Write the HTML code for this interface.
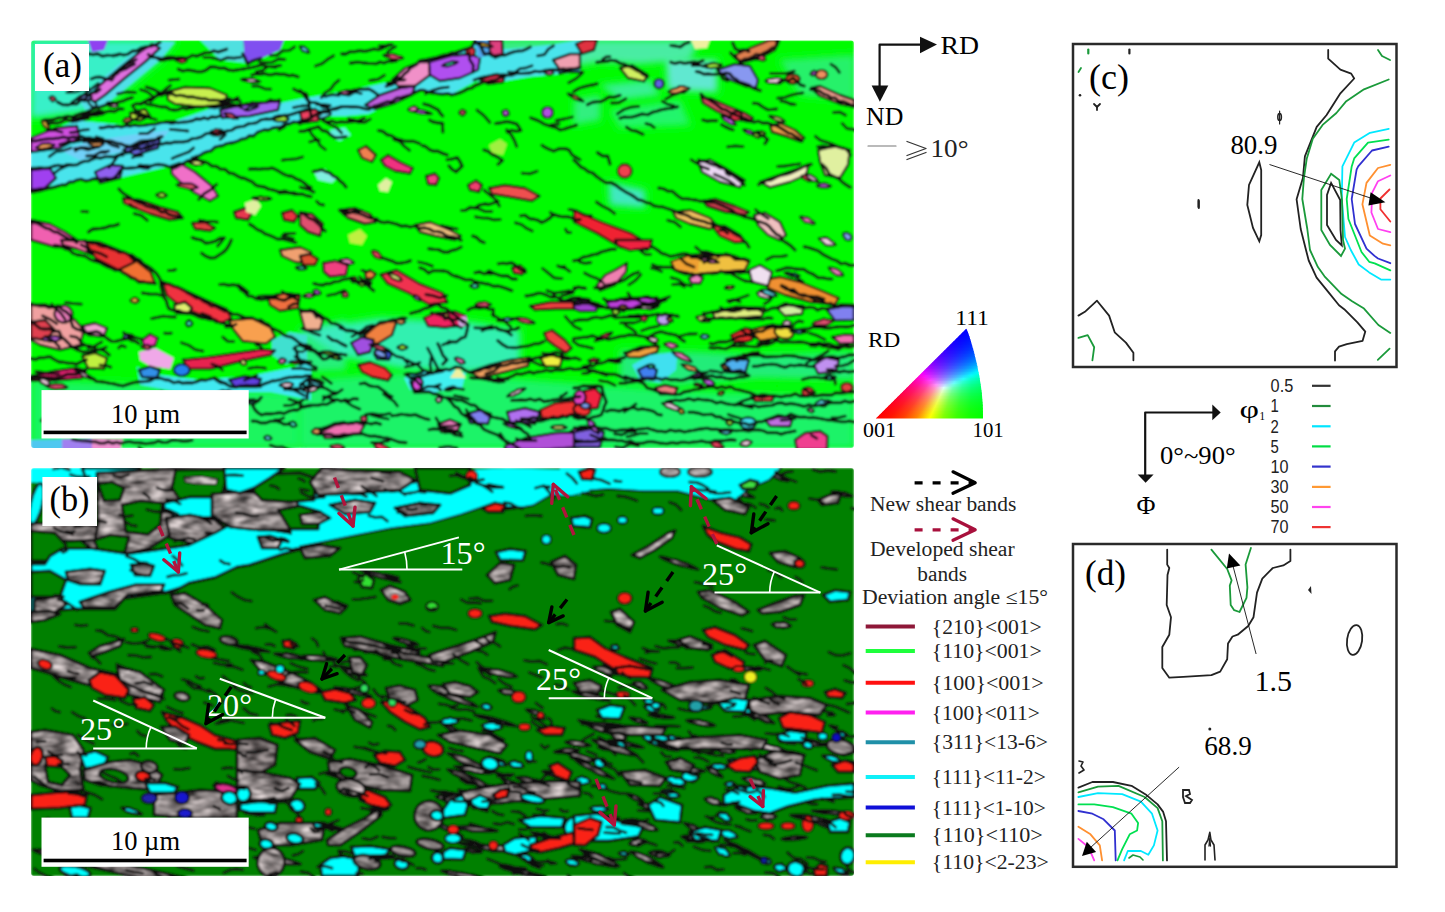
<!DOCTYPE html>
<html><head><meta charset="utf-8"><style>
html,body{margin:0;padding:0;background:#fff;}
body{width:1445px;height:912px;overflow:hidden;position:relative;font-family:"Liberation Serif",serif;}
svg{position:absolute;left:0;top:0;display:block;}
</style></head><body>
<svg width="1445" height="912" viewBox="0 0 1445 912">
<defs>
<clipPath id="ca"><rect x="31" y="40.5" width="823" height="407.5" rx="3"/></clipPath>
<clipPath id="cb"><rect x="31" y="468" width="823" height="408" rx="3"/></clipPath>

<filter id="mot" x="0" y="0" width="1" height="1" color-interpolation-filters="sRGB">
 <feTurbulence type="fractalNoise" baseFrequency="0.06 0.16" numOctaves="2" seed="4" stitchTiles="stitch" result="t"/>
 <feColorMatrix in="t" type="matrix" values="0.75 0.75 0 0 -0.2  0.72 0.72 0 0 -0.2  0.72 0.72 0 0 -0.2  0 0 0 0 1"/>
</filter>
<filter id="mot2" x="0" y="0" width="1" height="1" color-interpolation-filters="sRGB">
 <feTurbulence type="fractalNoise" baseFrequency="0.06 0.16" numOctaves="2" seed="9" stitchTiles="stitch" result="t"/>
 <feColorMatrix in="t" type="matrix" values="0.8 0.8 0 0 -0.15  0.77 0.77 0 0 -0.15  0.77 0.77 0 0 -0.15  0 0 0 0 1"/>
</filter>
<filter id="mot3" x="0" y="0" width="1" height="1" color-interpolation-filters="sRGB">
 <feTurbulence type="fractalNoise" baseFrequency="0.06 0.16" numOctaves="2" seed="13" stitchTiles="stitch" result="t"/>
 <feColorMatrix in="t" type="matrix" values="0.7 0.7 0 0 -0.25  0.67 0.67 0 0 -0.25  0.67 0.67 0 0 -0.25  0 0 0 0 1"/>
</filter>
<filter id="tint" x="-20%" y="-20%" width="140%" height="140%"><feGaussianBlur stdDeviation="3"/></filter>
<filter id="soft" x="-2%" y="-2%" width="104%" height="104%"><feGaussianBlur stdDeviation="0.9"/></filter>
<pattern id="pg1" patternUnits="userSpaceOnUse" width="200" height="100"><rect width="200" height="100" fill="#888" filter="url(#mot)"/></pattern>
<pattern id="pg2" patternUnits="userSpaceOnUse" width="200" height="100"><rect width="200" height="100" fill="#999" filter="url(#mot2)"/></pattern>
<pattern id="pg3" patternUnits="userSpaceOnUse" width="200" height="100"><rect width="200" height="100" fill="#777" filter="url(#mot3)"/></pattern>
<linearGradient id="ipf0" gradientUnits="userSpaceOnUse" x1="965.5" y1="0" x2="966.5" y2="0"><stop offset="0.000" stop-color="#0000ff"/><stop offset="0.125" stop-color="#0000ff"/><stop offset="0.250" stop-color="#0000ff"/><stop offset="0.375" stop-color="#0000ff"/><stop offset="0.500" stop-color="#0000ff"/><stop offset="0.625" stop-color="#0000ff"/><stop offset="0.750" stop-color="#0000ff"/><stop offset="0.875" stop-color="#0000ff"/><stop offset="1.000" stop-color="#0000ff"/></linearGradient><linearGradient id="ipf1" gradientUnits="userSpaceOnUse" x1="964.0" y1="0" x2="967.0" y2="0"><stop offset="0.000" stop-color="#0200ff"/><stop offset="0.125" stop-color="#0100ff"/><stop offset="0.250" stop-color="#0100ff"/><stop offset="0.375" stop-color="#0100ff"/><stop offset="0.500" stop-color="#0001ff"/><stop offset="0.625" stop-color="#0001ff"/><stop offset="0.750" stop-color="#0001ff"/><stop offset="0.875" stop-color="#0002ff"/><stop offset="1.000" stop-color="#0002ff"/></linearGradient><linearGradient id="ipf2" gradientUnits="userSpaceOnUse" x1="962.5" y1="0" x2="967.5" y2="0"><stop offset="0.000" stop-color="#0400ff"/><stop offset="0.125" stop-color="#0300ff"/><stop offset="0.250" stop-color="#0200ff"/><stop offset="0.375" stop-color="#0201ff"/><stop offset="0.500" stop-color="#0102ff"/><stop offset="0.625" stop-color="#0002ff"/><stop offset="0.750" stop-color="#0003ff"/><stop offset="0.875" stop-color="#0004ff"/><stop offset="1.000" stop-color="#0005ff"/></linearGradient><linearGradient id="ipf3" gradientUnits="userSpaceOnUse" x1="961.0" y1="0" x2="968.0" y2="0"><stop offset="0.000" stop-color="#0600ff"/><stop offset="0.125" stop-color="#0500ff"/><stop offset="0.250" stop-color="#0401ff"/><stop offset="0.375" stop-color="#0302ff"/><stop offset="0.500" stop-color="#0203ff"/><stop offset="0.625" stop-color="#0104ff"/><stop offset="0.750" stop-color="#0005ff"/><stop offset="0.875" stop-color="#0006ff"/><stop offset="1.000" stop-color="#0007ff"/></linearGradient><linearGradient id="ipf4" gradientUnits="userSpaceOnUse" x1="959.5" y1="0" x2="968.5" y2="0"><stop offset="0.000" stop-color="#0900ff"/><stop offset="0.125" stop-color="#0800ff"/><stop offset="0.250" stop-color="#0601ff"/><stop offset="0.375" stop-color="#0403ff"/><stop offset="0.500" stop-color="#0304ff"/><stop offset="0.625" stop-color="#0206ff"/><stop offset="0.750" stop-color="#0007ff"/><stop offset="0.875" stop-color="#0009ff"/><stop offset="1.000" stop-color="#000bff"/></linearGradient><linearGradient id="ipf5" gradientUnits="userSpaceOnUse" x1="958.0" y1="0" x2="969.0" y2="0"><stop offset="0.000" stop-color="#0c00ff"/><stop offset="0.125" stop-color="#0a00ff"/><stop offset="0.250" stop-color="#0802ff"/><stop offset="0.375" stop-color="#0604ff"/><stop offset="0.500" stop-color="#0406ff"/><stop offset="0.625" stop-color="#0208ff"/><stop offset="0.750" stop-color="#010aff"/><stop offset="0.875" stop-color="#000cff"/><stop offset="1.000" stop-color="#000eff"/></linearGradient><linearGradient id="ipf6" gradientUnits="userSpaceOnUse" x1="956.5" y1="0" x2="969.4" y2="0"><stop offset="0.000" stop-color="#1000ff"/><stop offset="0.125" stop-color="#0d01ff"/><stop offset="0.250" stop-color="#0a03ff"/><stop offset="0.375" stop-color="#0805ff"/><stop offset="0.500" stop-color="#0507ff"/><stop offset="0.625" stop-color="#030aff"/><stop offset="0.750" stop-color="#010dff"/><stop offset="0.875" stop-color="#000fff"/><stop offset="1.000" stop-color="#0012ff"/></linearGradient><linearGradient id="ipf7" gradientUnits="userSpaceOnUse" x1="955.0" y1="0" x2="969.9" y2="0"><stop offset="0.000" stop-color="#1400ff"/><stop offset="0.125" stop-color="#1001ff"/><stop offset="0.250" stop-color="#0d03ff"/><stop offset="0.375" stop-color="#0a06ff"/><stop offset="0.500" stop-color="#0709ff"/><stop offset="0.625" stop-color="#040cff"/><stop offset="0.750" stop-color="#0110ff"/><stop offset="0.875" stop-color="#0013ff"/><stop offset="1.000" stop-color="#0017ff"/></linearGradient><linearGradient id="ipf8" gradientUnits="userSpaceOnUse" x1="953.5" y1="0" x2="970.3" y2="0"><stop offset="0.000" stop-color="#1800ff"/><stop offset="0.125" stop-color="#1401ff"/><stop offset="0.250" stop-color="#1004ff"/><stop offset="0.375" stop-color="#0c07ff"/><stop offset="0.500" stop-color="#080bff"/><stop offset="0.625" stop-color="#050fff"/><stop offset="0.750" stop-color="#0213ff"/><stop offset="0.875" stop-color="#0017ff"/><stop offset="1.000" stop-color="#001cff"/></linearGradient><linearGradient id="ipf9" gradientUnits="userSpaceOnUse" x1="951.9" y1="0" x2="970.8" y2="0"><stop offset="0.000" stop-color="#1d00ff"/><stop offset="0.125" stop-color="#1702ff"/><stop offset="0.250" stop-color="#1305ff"/><stop offset="0.375" stop-color="#0e09ff"/><stop offset="0.500" stop-color="#0a0dff"/><stop offset="0.625" stop-color="#0612ff"/><stop offset="0.750" stop-color="#0216ff"/><stop offset="0.875" stop-color="#001bff"/><stop offset="1.000" stop-color="#0021ff"/></linearGradient><linearGradient id="ipf10" gradientUnits="userSpaceOnUse" x1="950.4" y1="0" x2="971.2" y2="0"><stop offset="0.000" stop-color="#2200ff"/><stop offset="0.125" stop-color="#1c02ff"/><stop offset="0.250" stop-color="#1606ff"/><stop offset="0.375" stop-color="#100aff"/><stop offset="0.500" stop-color="#0b0fff"/><stop offset="0.625" stop-color="#0715ff"/><stop offset="0.750" stop-color="#031aff"/><stop offset="0.875" stop-color="#0020ff"/><stop offset="1.000" stop-color="#0026ff"/></linearGradient><linearGradient id="ipf11" gradientUnits="userSpaceOnUse" x1="948.9" y1="0" x2="971.6" y2="0"><stop offset="0.000" stop-color="#2700ff"/><stop offset="0.125" stop-color="#2002ff"/><stop offset="0.250" stop-color="#1907ff"/><stop offset="0.375" stop-color="#130cff"/><stop offset="0.500" stop-color="#0d12ff"/><stop offset="0.625" stop-color="#0818ff"/><stop offset="0.750" stop-color="#041eff"/><stop offset="0.875" stop-color="#0025ff"/><stop offset="1.000" stop-color="#002cff"/></linearGradient><linearGradient id="ipf12" gradientUnits="userSpaceOnUse" x1="947.4" y1="0" x2="972.0" y2="0"><stop offset="0.000" stop-color="#2d00ff"/><stop offset="0.125" stop-color="#2503ff"/><stop offset="0.250" stop-color="#1d08ff"/><stop offset="0.375" stop-color="#160eff"/><stop offset="0.500" stop-color="#0f14ff"/><stop offset="0.625" stop-color="#091bff"/><stop offset="0.750" stop-color="#0423ff"/><stop offset="0.875" stop-color="#002aff"/><stop offset="1.000" stop-color="#0033ff"/></linearGradient><linearGradient id="ipf13" gradientUnits="userSpaceOnUse" x1="945.9" y1="0" x2="972.5" y2="0"><stop offset="0.000" stop-color="#3300ff"/><stop offset="0.125" stop-color="#2a03ff"/><stop offset="0.250" stop-color="#2109ff"/><stop offset="0.375" stop-color="#1910ff"/><stop offset="0.500" stop-color="#1217ff"/><stop offset="0.625" stop-color="#0b1fff"/><stop offset="0.750" stop-color="#0527ff"/><stop offset="0.875" stop-color="#0030ff"/><stop offset="1.000" stop-color="#0039ff"/></linearGradient><linearGradient id="ipf14" gradientUnits="userSpaceOnUse" x1="944.4" y1="0" x2="972.9" y2="0"><stop offset="0.000" stop-color="#3900ff"/><stop offset="0.125" stop-color="#2f04ff"/><stop offset="0.250" stop-color="#260aff"/><stop offset="0.375" stop-color="#1d12ff"/><stop offset="0.500" stop-color="#141aff"/><stop offset="0.625" stop-color="#0c23ff"/><stop offset="0.750" stop-color="#062cff"/><stop offset="0.875" stop-color="#0036ff"/><stop offset="1.000" stop-color="#0041ff"/></linearGradient><linearGradient id="ipf15" gradientUnits="userSpaceOnUse" x1="942.9" y1="0" x2="973.3" y2="0"><stop offset="0.000" stop-color="#4000ff"/><stop offset="0.125" stop-color="#3504ff"/><stop offset="0.250" stop-color="#2a0cff"/><stop offset="0.375" stop-color="#2014ff"/><stop offset="0.500" stop-color="#171dff"/><stop offset="0.625" stop-color="#0e27ff"/><stop offset="0.750" stop-color="#0632ff"/><stop offset="0.875" stop-color="#013dff"/><stop offset="1.000" stop-color="#0048ff"/></linearGradient><linearGradient id="ipf16" gradientUnits="userSpaceOnUse" x1="941.4" y1="0" x2="973.6" y2="0"><stop offset="0.000" stop-color="#4800ff"/><stop offset="0.125" stop-color="#3b05ff"/><stop offset="0.250" stop-color="#2f0dff"/><stop offset="0.375" stop-color="#2416ff"/><stop offset="0.500" stop-color="#1921ff"/><stop offset="0.625" stop-color="#102cff"/><stop offset="0.750" stop-color="#0737ff"/><stop offset="0.875" stop-color="#0144ff"/><stop offset="1.000" stop-color="#0051ff"/></linearGradient><linearGradient id="ipf17" gradientUnits="userSpaceOnUse" x1="939.8" y1="0" x2="974.0" y2="0"><stop offset="0.000" stop-color="#5000ff"/><stop offset="0.125" stop-color="#4206ff"/><stop offset="0.250" stop-color="#350eff"/><stop offset="0.375" stop-color="#2819ff"/><stop offset="0.500" stop-color="#1c24ff"/><stop offset="0.625" stop-color="#1231ff"/><stop offset="0.750" stop-color="#083eff"/><stop offset="0.875" stop-color="#014bff"/><stop offset="1.000" stop-color="#005aff"/></linearGradient><linearGradient id="ipf18" gradientUnits="userSpaceOnUse" x1="938.3" y1="0" x2="974.4" y2="0"><stop offset="0.000" stop-color="#5900ff"/><stop offset="0.125" stop-color="#4906ff"/><stop offset="0.250" stop-color="#3b10ff"/><stop offset="0.375" stop-color="#2d1bff"/><stop offset="0.500" stop-color="#2028ff"/><stop offset="0.625" stop-color="#1436ff"/><stop offset="0.750" stop-color="#0944ff"/><stop offset="0.875" stop-color="#0153ff"/><stop offset="1.000" stop-color="#0063ff"/></linearGradient><linearGradient id="ipf19" gradientUnits="userSpaceOnUse" x1="936.8" y1="0" x2="974.8" y2="0"><stop offset="0.000" stop-color="#6200ff"/><stop offset="0.125" stop-color="#5107ff"/><stop offset="0.250" stop-color="#4112ff"/><stop offset="0.375" stop-color="#321eff"/><stop offset="0.500" stop-color="#232cff"/><stop offset="0.625" stop-color="#163bff"/><stop offset="0.750" stop-color="#0a4bff"/><stop offset="0.875" stop-color="#015cff"/><stop offset="1.000" stop-color="#006eff"/></linearGradient><linearGradient id="ipf20" gradientUnits="userSpaceOnUse" x1="935.3" y1="0" x2="975.1" y2="0"><stop offset="0.000" stop-color="#6c00ff"/><stop offset="0.125" stop-color="#5a08ff"/><stop offset="0.250" stop-color="#4813ff"/><stop offset="0.375" stop-color="#3721ff"/><stop offset="0.500" stop-color="#2731ff"/><stop offset="0.625" stop-color="#1841ff"/><stop offset="0.750" stop-color="#0c53ff"/><stop offset="0.875" stop-color="#0265ff"/><stop offset="1.000" stop-color="#0079ff"/></linearGradient><linearGradient id="ipf21" gradientUnits="userSpaceOnUse" x1="933.8" y1="0" x2="975.5" y2="0"><stop offset="0.000" stop-color="#7700ff"/><stop offset="0.125" stop-color="#6308ff"/><stop offset="0.250" stop-color="#4f15ff"/><stop offset="0.375" stop-color="#3c25ff"/><stop offset="0.500" stop-color="#2b35ff"/><stop offset="0.625" stop-color="#1b48ff"/><stop offset="0.750" stop-color="#0d5bff"/><stop offset="0.875" stop-color="#026fff"/><stop offset="1.000" stop-color="#0084ff"/></linearGradient><linearGradient id="ipf22" gradientUnits="userSpaceOnUse" x1="932.3" y1="0" x2="975.8" y2="0"><stop offset="0.000" stop-color="#8300ff"/><stop offset="0.125" stop-color="#6c09ff"/><stop offset="0.250" stop-color="#5718ff"/><stop offset="0.375" stop-color="#4228ff"/><stop offset="0.500" stop-color="#2f3bff"/><stop offset="0.625" stop-color="#1e4fff"/><stop offset="0.750" stop-color="#0f64ff"/><stop offset="0.875" stop-color="#027aff"/><stop offset="1.000" stop-color="#0091ff"/></linearGradient><linearGradient id="ipf23" gradientUnits="userSpaceOnUse" x1="930.8" y1="0" x2="976.2" y2="0"><stop offset="0.000" stop-color="#9000ff"/><stop offset="0.125" stop-color="#770aff"/><stop offset="0.250" stop-color="#5f1aff"/><stop offset="0.375" stop-color="#492cff"/><stop offset="0.500" stop-color="#3440ff"/><stop offset="0.625" stop-color="#2156ff"/><stop offset="0.750" stop-color="#106dff"/><stop offset="0.875" stop-color="#0385ff"/><stop offset="1.000" stop-color="#009fff"/></linearGradient><linearGradient id="ipf24" gradientUnits="userSpaceOnUse" x1="929.3" y1="0" x2="976.5" y2="0"><stop offset="0.000" stop-color="#9d00ff"/><stop offset="0.125" stop-color="#820bff"/><stop offset="0.250" stop-color="#681cff"/><stop offset="0.375" stop-color="#5030ff"/><stop offset="0.500" stop-color="#3946ff"/><stop offset="0.625" stop-color="#245eff"/><stop offset="0.750" stop-color="#1277ff"/><stop offset="0.875" stop-color="#0392ff"/><stop offset="1.000" stop-color="#00adff"/></linearGradient><linearGradient id="ipf25" gradientUnits="userSpaceOnUse" x1="927.8" y1="0" x2="976.8" y2="0"><stop offset="0.000" stop-color="#ac00ff"/><stop offset="0.125" stop-color="#8f0cff"/><stop offset="0.250" stop-color="#721fff"/><stop offset="0.375" stop-color="#5834ff"/><stop offset="0.500" stop-color="#3f4dff"/><stop offset="0.625" stop-color="#2866ff"/><stop offset="0.750" stop-color="#1482ff"/><stop offset="0.875" stop-color="#049fff"/><stop offset="1.000" stop-color="#00bdff"/></linearGradient><linearGradient id="ipf26" gradientUnits="userSpaceOnUse" x1="926.2" y1="0" x2="977.2" y2="0"><stop offset="0.000" stop-color="#bc00ff"/><stop offset="0.125" stop-color="#9c0dff"/><stop offset="0.250" stop-color="#7d22ff"/><stop offset="0.375" stop-color="#6039ff"/><stop offset="0.500" stop-color="#4553ff"/><stop offset="0.625" stop-color="#2c70ff"/><stop offset="0.750" stop-color="#168eff"/><stop offset="0.875" stop-color="#04adff"/><stop offset="1.000" stop-color="#00ceff"/></linearGradient><linearGradient id="ipf27" gradientUnits="userSpaceOnUse" x1="924.7" y1="0" x2="977.5" y2="0"><stop offset="0.000" stop-color="#cd00ff"/><stop offset="0.125" stop-color="#aa0fff"/><stop offset="0.250" stop-color="#8925ff"/><stop offset="0.375" stop-color="#693eff"/><stop offset="0.500" stop-color="#4b5bff"/><stop offset="0.625" stop-color="#307aff"/><stop offset="0.750" stop-color="#189aff"/><stop offset="0.875" stop-color="#05bdff"/><stop offset="1.000" stop-color="#00e1ff"/></linearGradient><linearGradient id="ipf28" gradientUnits="userSpaceOnUse" x1="923.2" y1="0" x2="977.8" y2="0"><stop offset="0.000" stop-color="#e000ff"/><stop offset="0.125" stop-color="#ba10ff"/><stop offset="0.250" stop-color="#9528ff"/><stop offset="0.375" stop-color="#7344ff"/><stop offset="0.500" stop-color="#5363ff"/><stop offset="0.625" stop-color="#3584ff"/><stop offset="0.750" stop-color="#1ba8ff"/><stop offset="0.875" stop-color="#06cdff"/><stop offset="1.000" stop-color="#00f4ff"/></linearGradient><linearGradient id="ipf29" gradientUnits="userSpaceOnUse" x1="921.7" y1="0" x2="978.1" y2="0"><stop offset="0.000" stop-color="#f400ff"/><stop offset="0.125" stop-color="#cb11ff"/><stop offset="0.250" stop-color="#a32bff"/><stop offset="0.375" stop-color="#7d4aff"/><stop offset="0.500" stop-color="#5a6cff"/><stop offset="0.625" stop-color="#3a90ff"/><stop offset="0.750" stop-color="#1eb7ff"/><stop offset="0.875" stop-color="#07e0ff"/><stop offset="1.000" stop-color="#00fff4"/></linearGradient><linearGradient id="ipf30" gradientUnits="userSpaceOnUse" x1="920.2" y1="0" x2="978.4" y2="0"><stop offset="0.000" stop-color="#ff00f3"/><stop offset="0.125" stop-color="#dd13ff"/><stop offset="0.250" stop-color="#b22fff"/><stop offset="0.375" stop-color="#8951ff"/><stop offset="0.500" stop-color="#6375ff"/><stop offset="0.625" stop-color="#409dff"/><stop offset="0.750" stop-color="#21c7ff"/><stop offset="0.875" stop-color="#08f3ff"/><stop offset="1.000" stop-color="#00ffe0"/></linearGradient><linearGradient id="ipf31" gradientUnits="userSpaceOnUse" x1="918.7" y1="0" x2="978.6" y2="0"><stop offset="0.000" stop-color="#ff00df"/><stop offset="0.125" stop-color="#f215ff"/><stop offset="0.250" stop-color="#c234ff"/><stop offset="0.375" stop-color="#9658ff"/><stop offset="0.500" stop-color="#6c80ff"/><stop offset="0.625" stop-color="#46abff"/><stop offset="0.750" stop-color="#24d9ff"/><stop offset="0.875" stop-color="#08fff5"/><stop offset="1.000" stop-color="#00ffce"/></linearGradient><linearGradient id="ipf32" gradientUnits="userSpaceOnUse" x1="917.2" y1="0" x2="978.9" y2="0"><stop offset="0.000" stop-color="#ff00cc"/><stop offset="0.125" stop-color="#ff16f6"/><stop offset="0.250" stop-color="#d438ff"/><stop offset="0.375" stop-color="#a45fff"/><stop offset="0.500" stop-color="#768bff"/><stop offset="0.625" stop-color="#4dbaff"/><stop offset="0.750" stop-color="#28ecff"/><stop offset="0.875" stop-color="#09ffe1"/><stop offset="1.000" stop-color="#00ffbd"/></linearGradient><linearGradient id="ipf33" gradientUnits="userSpaceOnUse" x1="915.7" y1="0" x2="979.2" y2="0"><stop offset="0.000" stop-color="#ff00bb"/><stop offset="0.125" stop-color="#ff16e1"/><stop offset="0.250" stop-color="#e83dff"/><stop offset="0.375" stop-color="#b368ff"/><stop offset="0.500" stop-color="#8297ff"/><stop offset="0.625" stop-color="#54caff"/><stop offset="0.750" stop-color="#2cfffc"/><stop offset="0.875" stop-color="#09ffce"/><stop offset="1.000" stop-color="#00ffad"/></linearGradient><linearGradient id="ipf34" gradientUnits="userSpaceOnUse" x1="914.1" y1="0" x2="979.4" y2="0"><stop offset="0.000" stop-color="#ff00ab"/><stop offset="0.125" stop-color="#ff16ce"/><stop offset="0.250" stop-color="#fe43ff"/><stop offset="0.375" stop-color="#c471ff"/><stop offset="0.500" stop-color="#8ea5ff"/><stop offset="0.625" stop-color="#5dddff"/><stop offset="0.750" stop-color="#2cffe8"/><stop offset="0.875" stop-color="#09ffbd"/><stop offset="1.000" stop-color="#00ff9f"/></linearGradient><linearGradient id="ipf35" gradientUnits="userSpaceOnUse" x1="912.6" y1="0" x2="979.7" y2="0"><stop offset="0.000" stop-color="#ff009c"/><stop offset="0.125" stop-color="#ff16bc"/><stop offset="0.250" stop-color="#ff43e9"/><stop offset="0.375" stop-color="#d77cff"/><stop offset="0.500" stop-color="#9cb4ff"/><stop offset="0.625" stop-color="#66f1ff"/><stop offset="0.750" stop-color="#2dffd4"/><stop offset="0.875" stop-color="#0affae"/><stop offset="1.000" stop-color="#00ff92"/></linearGradient><linearGradient id="ipf36" gradientUnits="userSpaceOnUse" x1="911.1" y1="0" x2="979.9" y2="0"><stop offset="0.000" stop-color="#ff008f"/><stop offset="0.125" stop-color="#ff15ac"/><stop offset="0.250" stop-color="#ff42d5"/><stop offset="0.375" stop-color="#ec87ff"/><stop offset="0.500" stop-color="#abc4ff"/><stop offset="0.625" stop-color="#6cfff6"/><stop offset="0.750" stop-color="#2dffc2"/><stop offset="0.875" stop-color="#0aff9f"/><stop offset="1.000" stop-color="#00ff86"/></linearGradient><linearGradient id="ipf37" gradientUnits="userSpaceOnUse" x1="909.6" y1="0" x2="980.2" y2="0"><stop offset="0.000" stop-color="#ff0082"/><stop offset="0.125" stop-color="#ff159d"/><stop offset="0.250" stop-color="#ff42c2"/><stop offset="0.375" stop-color="#ff91fa"/><stop offset="0.500" stop-color="#bcd7ff"/><stop offset="0.625" stop-color="#6dffe1"/><stop offset="0.750" stop-color="#2effb2"/><stop offset="0.875" stop-color="#0aff91"/><stop offset="1.000" stop-color="#00ff7a"/></linearGradient><linearGradient id="ipf38" gradientUnits="userSpaceOnUse" x1="908.1" y1="0" x2="980.4" y2="0"><stop offset="0.000" stop-color="#ff0077"/><stop offset="0.125" stop-color="#ff158e"/><stop offset="0.250" stop-color="#ff42b0"/><stop offset="0.375" stop-color="#ff91e3"/><stop offset="0.500" stop-color="#cfebff"/><stop offset="0.625" stop-color="#6effce"/><stop offset="0.750" stop-color="#2effa2"/><stop offset="0.875" stop-color="#0bff85"/><stop offset="1.000" stop-color="#00ff6f"/></linearGradient><linearGradient id="ipf39" gradientUnits="userSpaceOnUse" x1="906.6" y1="0" x2="980.6" y2="0"><stop offset="0.000" stop-color="#ff006c"/><stop offset="0.125" stop-color="#ff1581"/><stop offset="0.250" stop-color="#ff42a0"/><stop offset="0.375" stop-color="#ff90ce"/><stop offset="0.500" stop-color="#e1fffb"/><stop offset="0.625" stop-color="#6fffbb"/><stop offset="0.750" stop-color="#2fff94"/><stop offset="0.875" stop-color="#0bff79"/><stop offset="1.000" stop-color="#00ff66"/></linearGradient><linearGradient id="ipf40" gradientUnits="userSpaceOnUse" x1="905.1" y1="0" x2="980.8" y2="0"><stop offset="0.000" stop-color="#ff0062"/><stop offset="0.125" stop-color="#ff1575"/><stop offset="0.250" stop-color="#ff4191"/><stop offset="0.375" stop-color="#ff8fbb"/><stop offset="0.500" stop-color="#e3ffe4"/><stop offset="0.625" stop-color="#70ffaa"/><stop offset="0.750" stop-color="#2fff86"/><stop offset="0.875" stop-color="#0bff6e"/><stop offset="1.000" stop-color="#00ff5c"/></linearGradient><linearGradient id="ipf41" gradientUnits="userSpaceOnUse" x1="903.6" y1="0" x2="981.0" y2="0"><stop offset="0.000" stop-color="#ff0058"/><stop offset="0.125" stop-color="#ff156a"/><stop offset="0.250" stop-color="#ff4183"/><stop offset="0.375" stop-color="#ff8fa9"/><stop offset="0.500" stop-color="#e4ffcf"/><stop offset="0.625" stop-color="#71ff9b"/><stop offset="0.750" stop-color="#30ff7a"/><stop offset="0.875" stop-color="#0cff64"/><stop offset="1.000" stop-color="#00ff54"/></linearGradient><linearGradient id="ipf42" gradientUnits="userSpaceOnUse" x1="902.1" y1="0" x2="981.2" y2="0"><stop offset="0.000" stop-color="#ff0050"/><stop offset="0.125" stop-color="#ff155f"/><stop offset="0.250" stop-color="#ff4176"/><stop offset="0.375" stop-color="#ff8e98"/><stop offset="0.500" stop-color="#e5ffbb"/><stop offset="0.625" stop-color="#72ff8c"/><stop offset="0.750" stop-color="#31ff6e"/><stop offset="0.875" stop-color="#0cff5a"/><stop offset="1.000" stop-color="#00ff4c"/></linearGradient><linearGradient id="ipf43" gradientUnits="userSpaceOnUse" x1="900.5" y1="0" x2="981.4" y2="0"><stop offset="0.000" stop-color="#ff0047"/><stop offset="0.125" stop-color="#ff1556"/><stop offset="0.250" stop-color="#ff416a"/><stop offset="0.375" stop-color="#ff8d88"/><stop offset="0.500" stop-color="#e7ffa8"/><stop offset="0.625" stop-color="#72ff7e"/><stop offset="0.750" stop-color="#31ff63"/><stop offset="0.875" stop-color="#0cff51"/><stop offset="1.000" stop-color="#00ff44"/></linearGradient><linearGradient id="ipf44" gradientUnits="userSpaceOnUse" x1="899.0" y1="0" x2="981.5" y2="0"><stop offset="0.000" stop-color="#ff0040"/><stop offset="0.125" stop-color="#ff154d"/><stop offset="0.250" stop-color="#ff405f"/><stop offset="0.375" stop-color="#ff8d79"/><stop offset="0.500" stop-color="#e8ff97"/><stop offset="0.625" stop-color="#73ff71"/><stop offset="0.750" stop-color="#32ff59"/><stop offset="0.875" stop-color="#0dff49"/><stop offset="1.000" stop-color="#00ff3d"/></linearGradient><linearGradient id="ipf45" gradientUnits="userSpaceOnUse" x1="897.5" y1="0" x2="981.7" y2="0"><stop offset="0.000" stop-color="#ff0039"/><stop offset="0.125" stop-color="#ff1544"/><stop offset="0.250" stop-color="#ff4054"/><stop offset="0.375" stop-color="#ff8c6c"/><stop offset="0.500" stop-color="#e9ff87"/><stop offset="0.625" stop-color="#74ff65"/><stop offset="0.750" stop-color="#33ff4f"/><stop offset="0.875" stop-color="#0dff41"/><stop offset="1.000" stop-color="#00ff36"/></linearGradient><linearGradient id="ipf46" gradientUnits="userSpaceOnUse" x1="896.0" y1="0" x2="981.9" y2="0"><stop offset="0.000" stop-color="#ff0032"/><stop offset="0.125" stop-color="#ff153c"/><stop offset="0.250" stop-color="#ff404a"/><stop offset="0.375" stop-color="#ff8c5f"/><stop offset="0.500" stop-color="#ebff78"/><stop offset="0.625" stop-color="#75ff59"/><stop offset="0.750" stop-color="#33ff46"/><stop offset="0.875" stop-color="#0eff3a"/><stop offset="1.000" stop-color="#00ff30"/></linearGradient><linearGradient id="ipf47" gradientUnits="userSpaceOnUse" x1="894.5" y1="0" x2="982.0" y2="0"><stop offset="0.000" stop-color="#ff002c"/><stop offset="0.125" stop-color="#ff1535"/><stop offset="0.250" stop-color="#ff4041"/><stop offset="0.375" stop-color="#ff8b54"/><stop offset="0.500" stop-color="#ecff69"/><stop offset="0.625" stop-color="#76ff4f"/><stop offset="0.750" stop-color="#34ff3e"/><stop offset="0.875" stop-color="#0eff33"/><stop offset="1.000" stop-color="#00ff2b"/></linearGradient><linearGradient id="ipf48" gradientUnits="userSpaceOnUse" x1="893.0" y1="0" x2="982.2" y2="0"><stop offset="0.000" stop-color="#ff0026"/><stop offset="0.125" stop-color="#ff152e"/><stop offset="0.250" stop-color="#ff4039"/><stop offset="0.375" stop-color="#ff8a49"/><stop offset="0.500" stop-color="#edff5c"/><stop offset="0.625" stop-color="#77ff45"/><stop offset="0.750" stop-color="#34ff36"/><stop offset="0.875" stop-color="#0eff2c"/><stop offset="1.000" stop-color="#00ff25"/></linearGradient><linearGradient id="ipf49" gradientUnits="userSpaceOnUse" x1="891.5" y1="0" x2="982.3" y2="0"><stop offset="0.000" stop-color="#ff0021"/><stop offset="0.125" stop-color="#ff1528"/><stop offset="0.250" stop-color="#ff3f31"/><stop offset="0.375" stop-color="#ff8a3f"/><stop offset="0.500" stop-color="#efff50"/><stop offset="0.625" stop-color="#78ff3c"/><stop offset="0.750" stop-color="#35ff2f"/><stop offset="0.875" stop-color="#0fff26"/><stop offset="1.000" stop-color="#00ff20"/></linearGradient><linearGradient id="ipf50" gradientUnits="userSpaceOnUse" x1="890.0" y1="0" x2="982.4" y2="0"><stop offset="0.000" stop-color="#ff001c"/><stop offset="0.125" stop-color="#ff1522"/><stop offset="0.250" stop-color="#ff3f2a"/><stop offset="0.375" stop-color="#ff8935"/><stop offset="0.500" stop-color="#f0ff44"/><stop offset="0.625" stop-color="#79ff33"/><stop offset="0.750" stop-color="#36ff28"/><stop offset="0.875" stop-color="#0fff21"/><stop offset="1.000" stop-color="#00ff1b"/></linearGradient><linearGradient id="ipf51" gradientUnits="userSpaceOnUse" x1="888.4" y1="0" x2="982.5" y2="0"><stop offset="0.000" stop-color="#ff0018"/><stop offset="0.125" stop-color="#ff141c"/><stop offset="0.250" stop-color="#ff3f23"/><stop offset="0.375" stop-color="#ff882d"/><stop offset="0.500" stop-color="#f1ff3a"/><stop offset="0.625" stop-color="#7aff2b"/><stop offset="0.750" stop-color="#36ff22"/><stop offset="0.875" stop-color="#10ff1c"/><stop offset="1.000" stop-color="#00ff17"/></linearGradient><linearGradient id="ipf52" gradientUnits="userSpaceOnUse" x1="886.9" y1="0" x2="982.6" y2="0"><stop offset="0.000" stop-color="#ff0014"/><stop offset="0.125" stop-color="#ff1417"/><stop offset="0.250" stop-color="#ff3f1d"/><stop offset="0.375" stop-color="#ff8825"/><stop offset="0.500" stop-color="#f3ff30"/><stop offset="0.625" stop-color="#7bff24"/><stop offset="0.750" stop-color="#37ff1c"/><stop offset="0.875" stop-color="#10ff17"/><stop offset="1.000" stop-color="#00ff13"/></linearGradient><linearGradient id="ipf53" gradientUnits="userSpaceOnUse" x1="885.4" y1="0" x2="982.7" y2="0"><stop offset="0.000" stop-color="#ff0010"/><stop offset="0.125" stop-color="#ff1413"/><stop offset="0.250" stop-color="#ff3e17"/><stop offset="0.375" stop-color="#ff871e"/><stop offset="0.500" stop-color="#f4ff27"/><stop offset="0.625" stop-color="#7cff1d"/><stop offset="0.750" stop-color="#38ff17"/><stop offset="0.875" stop-color="#11ff12"/><stop offset="1.000" stop-color="#00ff0f"/></linearGradient><linearGradient id="ipf54" gradientUnits="userSpaceOnUse" x1="883.9" y1="0" x2="982.8" y2="0"><stop offset="0.000" stop-color="#ff000c"/><stop offset="0.125" stop-color="#ff140f"/><stop offset="0.250" stop-color="#ff3e12"/><stop offset="0.375" stop-color="#ff8617"/><stop offset="0.500" stop-color="#f6ff1e"/><stop offset="0.625" stop-color="#7dff17"/><stop offset="0.750" stop-color="#39ff12"/><stop offset="0.875" stop-color="#11ff0e"/><stop offset="1.000" stop-color="#00ff0c"/></linearGradient><linearGradient id="ipf55" gradientUnits="userSpaceOnUse" x1="882.4" y1="0" x2="982.8" y2="0"><stop offset="0.000" stop-color="#ff0009"/><stop offset="0.125" stop-color="#ff140b"/><stop offset="0.250" stop-color="#ff3e0d"/><stop offset="0.375" stop-color="#ff8611"/><stop offset="0.500" stop-color="#f7ff17"/><stop offset="0.625" stop-color="#7eff11"/><stop offset="0.750" stop-color="#39ff0d"/><stop offset="0.875" stop-color="#12ff0b"/><stop offset="1.000" stop-color="#00ff09"/></linearGradient><linearGradient id="ipf56" gradientUnits="userSpaceOnUse" x1="880.9" y1="0" x2="982.9" y2="0"><stop offset="0.000" stop-color="#ff0006"/><stop offset="0.125" stop-color="#ff1407"/><stop offset="0.250" stop-color="#ff3e09"/><stop offset="0.375" stop-color="#ff850c"/><stop offset="0.500" stop-color="#f9ff10"/><stop offset="0.625" stop-color="#7fff0c"/><stop offset="0.750" stop-color="#3aff09"/><stop offset="0.875" stop-color="#12ff07"/><stop offset="1.000" stop-color="#00ff06"/></linearGradient><linearGradient id="ipf57" gradientUnits="userSpaceOnUse" x1="879.4" y1="0" x2="982.9" y2="0"><stop offset="0.000" stop-color="#ff0004"/><stop offset="0.125" stop-color="#ff1404"/><stop offset="0.250" stop-color="#ff3d06"/><stop offset="0.375" stop-color="#ff8407"/><stop offset="0.500" stop-color="#fbff0a"/><stop offset="0.625" stop-color="#80ff07"/><stop offset="0.750" stop-color="#3bff06"/><stop offset="0.875" stop-color="#13ff04"/><stop offset="1.000" stop-color="#00ff04"/></linearGradient><linearGradient id="ipf58" gradientUnits="userSpaceOnUse" x1="877.9" y1="0" x2="983.0" y2="0"><stop offset="0.000" stop-color="#ff0002"/><stop offset="0.125" stop-color="#ff1402"/><stop offset="0.250" stop-color="#ff3d02"/><stop offset="0.375" stop-color="#ff8403"/><stop offset="0.500" stop-color="#fcff05"/><stop offset="0.625" stop-color="#81ff03"/><stop offset="0.750" stop-color="#3bff02"/><stop offset="0.875" stop-color="#13ff02"/><stop offset="1.000" stop-color="#00ff02"/></linearGradient><linearGradient id="ipf59" gradientUnits="userSpaceOnUse" x1="876.4" y1="0" x2="983.0" y2="0"><stop offset="0.000" stop-color="#ff0000"/><stop offset="0.125" stop-color="#ff1400"/><stop offset="0.250" stop-color="#ff3d00"/><stop offset="0.375" stop-color="#ff8300"/><stop offset="0.500" stop-color="#feff01"/><stop offset="0.625" stop-color="#82ff00"/><stop offset="0.750" stop-color="#3cff00"/><stop offset="0.875" stop-color="#14ff00"/><stop offset="1.000" stop-color="#00ff00"/></linearGradient><clipPath id="ipfclip"><path d="M875.7,418.5 L983,418.5 C983,385 978,350 966.3,328.6 Z"/></clipPath>
</defs>
<g clip-path="url(#ca)"><g filter="url(#soft)">
<rect x="31" y="40" width="823" height="408" fill="#02fb06" />
<polygon points="31.0,40.0 175.0,40.0 160.0,60.0 130.0,85.0 105.0,105.0 80.0,112.0 31.0,118.0" fill="#38f0c8" stroke="none" stroke-width="0" stroke-linejoin="round" filter="url(#tint)"/>
<polygon points="300.0,330.0 380.0,318.0 470.0,322.0 520.0,330.0 520.0,365.0 470.0,372.0 400.0,368.0 340.0,356.0" fill="#30f0b0" stroke="none" stroke-width="0" stroke-linejoin="round" filter="url(#tint)"/>
<polygon points="300.0,380.0 420.0,372.0 600.0,385.0 700.0,392.0 854.0,395.0 854.0,448.0 300.0,448.0" fill="#30eeb8" stroke="none" stroke-width="0" stroke-linejoin="round" opacity="0.55" filter="url(#tint)"/>
<polygon points="620.0,350.0 700.0,352.0 760.0,355.0 854.0,352.0 854.0,380.0 760.0,378.0 680.0,385.0 620.0,382.0" fill="#40e0d8" stroke="none" stroke-width="0" stroke-linejoin="round" opacity="0.55" filter="url(#tint)"/>
<polygon points="300.0,330.0 346.0,320.0 346.0,370.0 300.0,372.0" fill="#40e8c8" stroke="none" stroke-width="0" stroke-linejoin="round" opacity="0.6" filter="url(#tint)"/>
<polygon points="608.0,182.0 645.0,190.0 645.0,208.0 610.0,205.0" fill="#40e8c0" stroke="none" stroke-width="0" stroke-linejoin="round" filter="url(#tint)"/>
<polygon points="666.0,60.0 717.0,60.0 717.0,92.0 668.0,90.0" fill="#60e8d0" stroke="none" stroke-width="0" stroke-linejoin="round" filter="url(#tint)"/>
<polygon points="574.0,40.0 700.0,40.0 690.0,60.0 640.0,64.0 600.0,62.0 574.0,66.0" fill="#60e8d8" stroke="none" stroke-width="0" stroke-linejoin="round" opacity="0.75" filter="url(#tint)"/>
<polygon points="600.0,85.0 650.0,80.0 660.0,95.0 620.0,100.0" fill="#50ecd0" stroke="none" stroke-width="0" stroke-linejoin="round" opacity="0.7" filter="url(#tint)"/>
<polygon points="610.0,110.0 680.0,100.0 690.0,125.0 620.0,128.0" fill="#40f0c0" stroke="none" stroke-width="0" stroke-linejoin="round" opacity="0.55" filter="url(#tint)"/>
<polygon points="780.0,60.0 854.0,55.0 854.0,100.0 800.0,95.0" fill="#50e8d0" stroke="none" stroke-width="0" stroke-linejoin="round" opacity="0.5" filter="url(#tint)"/>
<polygon points="574.0,100.0 600.0,95.0 600.0,120.0 574.0,125.0" fill="#50e8d0" stroke="none" stroke-width="0" stroke-linejoin="round" opacity="0.6" filter="url(#tint)"/>
<polygon points="480.0,40.0 580.0,40.0 580.0,60.0 500.0,60.0" fill="#60e0e0" stroke="none" stroke-width="0" stroke-linejoin="round" opacity="0.6" filter="url(#tint)"/>
<polygon points="31.0,380.0 140.0,384.0 300.0,392.0 300.0,448.0 31.0,448.0" fill="#30f0b8" stroke="none" stroke-width="0" stroke-linejoin="round" opacity="0.5" filter="url(#tint)"/>
<polygon points="31.0,136.7 77.0,120.6 123.0,125.0 169.0,123.0 215.0,107.0 261.0,107.0 300.0,99.0 346.0,90.7 392.0,81.4 419.7,63.0 442.8,56.0 475.0,44.6 507.2,49.2 553.3,44.6 580.0,40.0 580.0,72.2 530.3,76.8 502.6,81.4 475.0,81.4 449.7,95.3 419.7,90.7 396.7,99.9 369.0,113.7 346.0,116.0 311.0,116.0 284.3,127.5 261.0,132.0 215.0,148.0 192.0,159.7 169.0,166.6 118.5,178.0 77.0,180.5 31.0,190.0" fill="#48e4ec" stroke="none" stroke-width="0" stroke-linejoin="round" />
<polygon points="60.0,150.0 95.0,140.0 130.0,135.0 170.0,130.0 160.0,142.0 120.0,152.0 80.0,160.0" fill="#70d0f8" stroke="none" stroke-width="0" stroke-linejoin="round" />
<polygon points="31.0,138.0 55.0,128.0 77.0,126.0 80.0,138.0 60.0,148.0 31.0,152.0" fill="#d050e0" stroke="#0a0a0a" stroke-width="2.4" stroke-linejoin="round" />
<polygon points="31.0,170.0 50.0,168.0 56.0,178.0 45.0,188.0 31.0,190.0" fill="#a040f0" stroke="#0a0a0a" stroke-width="2.4" stroke-linejoin="round" />
<polygon points="95.0,172.0 110.0,165.0 123.0,166.0 120.0,178.0 100.0,183.0" fill="#9060f0" stroke="#0a0a0a" stroke-width="2.4" stroke-linejoin="round" />
<polygon points="123.0,150.0 140.0,141.0 160.0,139.0 158.0,148.0 135.0,155.0" fill="#7070f0" stroke="#0a0a0a" stroke-width="2.4" stroke-linejoin="round" />
<polygon points="220.0,110.0 245.0,104.0 280.0,101.0 278.0,110.0 250.0,116.0 222.0,118.0" fill="#a060f0" stroke="#0a0a0a" stroke-width="2.4" stroke-linejoin="round" />
<polygon points="80.0,100.0 100.0,80.0 130.0,55.0 155.0,42.0 175.0,42.0 160.0,60.0 130.0,85.0 105.0,105.0 85.0,110.0" fill="#50e0e8" stroke="none" stroke-width="0" stroke-linejoin="round" />
<polygon points="88.0,98.0 100.0,85.0 120.0,68.0 140.0,52.0 152.0,44.0 160.0,48.0 145.0,62.0 125.0,78.0 105.0,95.0 95.0,102.0" fill="#e070e0" stroke="#0a0a0a" stroke-width="2.4" stroke-linejoin="round" />
<polygon points="88.0,40.0 108.0,40.0 104.0,50.0 92.0,52.0" fill="#9040f0" stroke="none" stroke-width="0" stroke-linejoin="round" />
<polygon points="243.0,40.0 284.0,40.0 280.0,50.0 262.0,58.0 245.0,63.0" fill="#8050f0" stroke="none" stroke-width="0" stroke-linejoin="round" />
<polygon points="200.0,40.0 243.0,40.0 245.0,63.0 220.0,60.0" fill="#50e0e0" stroke="none" stroke-width="0" stroke-linejoin="round" />
<polygon points="392.0,80.0 405.0,68.0 420.0,62.0 429.0,62.0 430.0,75.0 415.0,86.0 398.0,86.0" fill="#f090c8" stroke="#0a0a0a" stroke-width="2.4" stroke-linejoin="round" />
<polygon points="429.0,62.0 450.0,56.0 470.0,54.0 480.0,58.0 478.0,70.0 460.0,78.0 440.0,81.0 430.0,75.0" fill="#b050f0" stroke="#0a0a0a" stroke-width="2.4" stroke-linejoin="round" />
<polygon points="365.0,105.0 380.0,95.0 400.0,88.0 415.0,86.0 412.0,95.0 395.0,103.0 375.0,109.0" fill="#c060e0" stroke="#0a0a0a" stroke-width="2.4" stroke-linejoin="round" />
<polygon points="475.0,40.0 493.0,40.0 492.0,55.0 478.0,58.0" fill="#50a8f0" stroke="none" stroke-width="0" stroke-linejoin="round" />
<polygon points="489.0,40.0 502.0,40.0 503.0,55.0 495.0,58.0 490.0,52.0" fill="#e04080" stroke="#0a0a0a" stroke-width="2.4" stroke-linejoin="round" />
<polygon points="553.0,60.0 570.0,54.0 580.0,54.0 580.0,68.0 560.0,70.0" fill="#f0a0b0" stroke="#0a0a0a" stroke-width="2.4" stroke-linejoin="round" />
<ellipse cx="470.5" cy="51.5" rx="4.5" ry="4.5" fill="#e03040" stroke="#0a0a0a" stroke-width="2.2" transform="rotate(0 470.5 51.5)"/>
<polygon points="480.0,80.0 492.0,75.0 505.0,74.5 503.0,82.0 488.0,84.0" fill="#e03050" stroke="#0a0a0a" stroke-width="2.4" stroke-linejoin="round" />
<polygon points="300.0,112.0 315.0,109.0 323.0,114.0 318.0,121.0 302.0,123.0" fill="#f04060" stroke="#0a0a0a" stroke-width="2.4" stroke-linejoin="round" />
<polygon points="167.0,92.0 185.0,87.0 210.0,88.0 227.0,95.0 225.0,104.0 200.0,107.0 175.0,104.0 168.0,100.0" fill="#c8f050" stroke="#0a0a0a" stroke-width="2.4" stroke-linejoin="round" />
<polygon points="130.0,113.0 145.0,109.0 150.0,116.0 140.0,121.0 131.0,119.0" fill="#c0f040" stroke="#0a0a0a" stroke-width="2.4" stroke-linejoin="round" />
<polygon points="171.0,166.0 180.0,163.0 195.0,172.0 212.0,186.0 218.0,196.0 210.0,201.0 195.0,193.0 180.0,182.0 172.0,174.0" fill="#f070c8" stroke="#0a0a0a" stroke-width="2.4" stroke-linejoin="round" />
<polygon points="123.0,198.0 140.0,200.0 160.0,207.0 178.0,212.0 183.0,218.0 170.0,220.0 150.0,214.0 132.0,207.0 124.0,203.0" fill="#d84040" stroke="#0a0a0a" stroke-width="2.4" stroke-linejoin="round" />
<polygon points="192.0,223.0 205.0,222.0 215.0,228.0 210.0,231.0 195.0,229.0" fill="#e04040" stroke="#0a0a0a" stroke-width="2.4" stroke-linejoin="round" />
<polygon points="234.0,212.0 245.0,208.0 252.0,213.0 248.0,220.0 236.0,218.0" fill="#e83850" stroke="#0a0a0a" stroke-width="2.4" stroke-linejoin="round" />
<polygon points="282.0,213.0 292.0,210.0 298.0,216.0 294.0,222.0 284.0,220.0" fill="#e83040" stroke="#0a0a0a" stroke-width="2.4" stroke-linejoin="round" />
<polygon points="245.0,203.0 256.0,199.0 261.0,206.0 255.0,215.0 246.0,212.0" fill="#e0f0a0" stroke="none" stroke-width="0" stroke-linejoin="round" />
<polygon points="31.0,220.0 50.0,224.0 65.0,232.0 77.0,240.0 75.0,247.0 55.0,247.0 31.0,240.0" fill="#f060b0" stroke="#0a0a0a" stroke-width="2.4" stroke-linejoin="round" />
<polygon points="61.0,240.0 85.0,241.0 95.0,256.0 77.0,249.0 63.0,245.0" fill="#f070a0" stroke="#0a0a0a" stroke-width="2.4" stroke-linejoin="round" />
<polygon points="85.0,241.0 100.0,242.3 127.7,253.8 135.0,262.0 118.5,270.0 95.5,258.4" fill="#e83030" stroke="#0a0a0a" stroke-width="2.4" stroke-linejoin="round" />
<polygon points="127.7,253.8 150.7,272.0 155.3,283.7 139.0,281.4 118.5,270.0 135.0,262.0" fill="#f07030" stroke="#0a0a0a" stroke-width="2.4" stroke-linejoin="round" />
<polygon points="162.0,281.4 180.7,288.4 206.0,300.0 226.7,309.0 231.3,318.3 222.0,323.0 203.7,316.0 180.7,306.8 166.8,295.3" fill="#f03040" stroke="#0a0a0a" stroke-width="2.4" stroke-linejoin="round" />
<polygon points="174.0,305.0 185.0,302.0 192.0,308.0 188.0,314.0 176.0,313.0" fill="#e0f070" stroke="#0a0a0a" stroke-width="2.4" stroke-linejoin="round" />
<polygon points="229.0,320.6 252.0,318.3 270.5,327.5 275.0,336.7 266.0,343.6 242.8,341.3 233.6,329.8" fill="#f8a050" stroke="#0a0a0a" stroke-width="2.4" stroke-linejoin="round" />
<polygon points="268.0,298.0 285.0,293.0 300.0,295.0 298.0,308.0 280.0,311.0 270.0,305.0" fill="#f07040" stroke="#0a0a0a" stroke-width="2.4" stroke-linejoin="round" />
<polygon points="280.0,250.0 300.0,247.0 311.0,252.0 311.0,264.0 295.0,262.0 282.0,256.0" fill="#f0a070" stroke="#0a0a0a" stroke-width="2.4" stroke-linejoin="round" />
<polygon points="137.0,367.0 160.0,375.0 200.0,380.0 250.0,376.0 290.0,368.0 311.0,362.0 311.0,400.0 270.0,392.0 230.0,392.0 180.0,392.0 140.0,385.0" fill="#40e8f0" stroke="none" stroke-width="0" stroke-linejoin="round" />
<polygon points="272.0,340.0 290.0,332.0 307.0,335.0 307.0,362.0 285.0,364.0 272.0,355.0" fill="#40e0d0" stroke="none" stroke-width="0" stroke-linejoin="round" />
<polygon points="183.0,359.7 206.0,357.4 238.0,352.8 261.0,349.4 275.0,350.5 270.5,355.0 238.0,362.0 210.6,369.0 187.6,369.0" fill="#e82050" stroke="#0a0a0a" stroke-width="2.4" stroke-linejoin="round" />
<ellipse cx="181.8" cy="370" rx="8" ry="6" fill="#2080f0" stroke="#0a0a0a" stroke-width="2.2" transform="rotate(0 181.8 370)"/>
<polygon points="142.0,340.0 150.0,334.0 157.6,338.0 155.0,346.0 144.0,346.0" fill="#f040b0" stroke="#0a0a0a" stroke-width="2.4" stroke-linejoin="round" />
<polygon points="139.0,352.0 155.0,348.0 173.8,358.0 170.0,369.0 150.0,366.0 140.0,360.0" fill="#f0a8e8" stroke="none" stroke-width="0" stroke-linejoin="round" />
<polygon points="139.0,370.0 150.0,366.6 160.0,370.0 157.0,378.0 142.0,377.0" fill="#3090e8" stroke="#0a0a0a" stroke-width="2.4" stroke-linejoin="round" />
<polygon points="229.0,380.0 245.0,376.0 261.0,379.0 258.0,387.0 235.0,387.0" fill="#6040e0" stroke="#0a0a0a" stroke-width="2.4" stroke-linejoin="round" />
<polygon points="31.0,305.0 45.0,304.5 60.0,310.0 75.0,320.0 84.0,330.0 80.0,345.0 60.0,350.0 40.0,345.0 31.0,340.0" fill="#f0a0a0" stroke="#0a0a0a" stroke-width="2.4" stroke-linejoin="round" />
<polygon points="31.0,322.0 45.0,320.0 55.0,330.0 45.0,340.0 31.0,338.0" fill="#e04050" stroke="#0a0a0a" stroke-width="2.4" stroke-linejoin="round" />
<ellipse cx="63.5" cy="314.0" rx="9.0" ry="8.5" fill="#f080c0" stroke="#0a0a0a" stroke-width="2.4" transform="rotate(12 63.5 314.0)"/>
<polygon points="31.0,376.0 54.0,371.0 77.0,367.8 86.0,371.0 81.7,378.0 54.0,380.5 31.0,380.5" fill="#e02070" stroke="#0a0a0a" stroke-width="2.4" stroke-linejoin="round" />
<polygon points="82.0,356.0 95.0,352.8 107.0,358.0 104.0,369.0 88.0,368.0" fill="#c0f040" stroke="#0a0a0a" stroke-width="2.4" stroke-linejoin="round" />
<polygon points="82.0,326.0 95.0,323.0 107.0,328.0 104.0,336.7 88.0,335.0" fill="#f0a0d0" stroke="#0a0a0a" stroke-width="2.4" stroke-linejoin="round" />
<polygon points="31.0,440.0 62.0,439.0 62.0,450.0 31.0,450.0" fill="#50c8f0" stroke="none" stroke-width="0" stroke-linejoin="round" />
<polygon points="62.0,439.0 92.0,438.0 92.0,450.0 62.0,450.0" fill="#a080f0" stroke="none" stroke-width="0" stroke-linejoin="round" />
<polygon points="92.0,438.0 123.0,439.0 120.0,450.0 92.0,450.0" fill="#f090d0" stroke="none" stroke-width="0" stroke-linejoin="round" />
<polygon points="330.0,130.0 345.0,127.5 351.0,135.0 340.0,141.0 332.0,138.0" fill="#60f0e0" stroke="none" stroke-width="0" stroke-linejoin="round" />
<polygon points="358.0,150.0 366.0,146.0 376.0,155.0 372.0,162.0 362.0,158.0" fill="#f08050" stroke="#0a0a0a" stroke-width="2.4" stroke-linejoin="round" />
<polygon points="381.0,160.0 388.0,155.0 400.0,162.0 412.8,168.0 410.0,173.5 395.0,171.0 385.0,166.0" fill="#f03080" stroke="#0a0a0a" stroke-width="2.4" stroke-linejoin="round" />
<polygon points="426.0,176.0 435.0,173.5 439.0,178.0 436.0,185.0 428.0,184.0" fill="#f04080" stroke="#0a0a0a" stroke-width="2.4" stroke-linejoin="round" />
<polygon points="468.0,185.0 476.0,180.5 482.0,185.0 479.0,192.0 470.0,190.0" fill="#f04070" stroke="#0a0a0a" stroke-width="2.4" stroke-linejoin="round" />
<polygon points="489.0,188.0 505.0,185.0 525.0,188.0 539.5,196.0 532.0,201.0 510.0,197.0 492.0,194.0" fill="#f05050" stroke="#0a0a0a" stroke-width="2.4" stroke-linejoin="round" />
<ellipse cx="547.5" cy="112.5" rx="5.5" ry="5.5" fill="#b050e0" stroke="#0a0a0a" stroke-width="2.2" transform="rotate(0 547.5 112.5)"/>
<polygon points="314.0,172.0 325.0,169.0 337.0,178.0 332.0,183.0 318.0,180.0" fill="#80f0e0" stroke="none" stroke-width="0" stroke-linejoin="round" />
<polygon points="378.0,185.0 386.0,178.0 392.0,182.0 388.0,192.0 380.0,191.0" fill="#e0f0a0" stroke="none" stroke-width="0" stroke-linejoin="round" />
<polygon points="489.0,145.0 500.0,139.0 507.0,144.0 503.0,155.0 492.0,153.0" fill="#a0f040" stroke="none" stroke-width="0" stroke-linejoin="round" />
<polygon points="339.0,210.0 355.0,208.0 370.0,214.0 376.0,222.0 365.0,224.0 348.0,218.0" fill="#e07070" stroke="#0a0a0a" stroke-width="2.4" stroke-linejoin="round" />
<polygon points="415.0,225.0 430.0,222.0 450.0,230.0 461.0,236.0 455.0,240.0 435.0,236.0 420.0,232.0" fill="#f0c080" stroke="#0a0a0a" stroke-width="2.4" stroke-linejoin="round" />
<polygon points="348.0,235.0 360.0,229.0 367.0,236.0 362.0,245.0 350.0,243.0" fill="#c0f040" stroke="none" stroke-width="0" stroke-linejoin="round" />
<polygon points="300.0,212.0 312.0,214.0 323.0,224.0 320.0,236.0 308.0,232.0 300.0,225.0" fill="#e05070" stroke="#0a0a0a" stroke-width="2.4" stroke-linejoin="round" />
<polygon points="300.0,256.0 310.0,254.0 318.0,259.0 315.0,265.0 303.0,265.0" fill="#e05030" stroke="#0a0a0a" stroke-width="2.4" stroke-linejoin="round" />
<polygon points="323.0,263.0 335.0,260.7 348.0,265.0 346.0,275.0 330.0,277.0 324.0,272.0" fill="#f04080" stroke="#0a0a0a" stroke-width="2.4" stroke-linejoin="round" />
<polygon points="365.0,273.0 370.0,270.0 376.0,274.0 372.0,279.0 366.0,278.0" fill="#f08040" stroke="#0a0a0a" stroke-width="2.4" stroke-linejoin="round" />
<polygon points="380.6,274.5 396.7,270.0 419.7,283.7 442.8,293.0 447.4,302.2 429.0,304.5 408.2,293.0 387.5,283.7" fill="#f03050" stroke="#0a0a0a" stroke-width="2.4" stroke-linejoin="round" />
<polygon points="424.0,318.0 435.0,313.0 455.0,311.4 466.0,316.0 465.0,325.0 445.0,327.5 428.0,326.0" fill="#f02060" stroke="#0a0a0a" stroke-width="2.4" stroke-linejoin="round" />
<polygon points="457.0,318.0 466.0,316.0 468.0,324.0 460.0,327.5" fill="#e0b0f0" stroke="none" stroke-width="0" stroke-linejoin="round" />
<polygon points="300.0,312.0 312.0,311.4 323.0,320.0 320.0,330.0 305.0,330.0" fill="#f0b090" stroke="#0a0a0a" stroke-width="2.4" stroke-linejoin="round" />
<polygon points="365.0,335.0 380.0,322.0 396.7,321.0 392.0,335.0 378.0,343.6 367.0,343.0" fill="#f08040" stroke="#0a0a0a" stroke-width="2.4" stroke-linejoin="round" />
<polygon points="351.0,343.0 362.0,337.0 373.7,340.0 370.0,352.0 358.0,355.0" fill="#a050e0" stroke="#0a0a0a" stroke-width="2.4" stroke-linejoin="round" />
<polygon points="374.0,354.0 384.0,350.5 392.0,353.0 389.0,359.7 377.0,359.0" fill="#4060f0" stroke="#0a0a0a" stroke-width="2.4" stroke-linejoin="round" />
<polygon points="358.0,365.0 370.0,362.0 385.0,368.0 392.0,375.0 388.0,380.5 372.0,377.0 362.0,372.0" fill="#f03030" stroke="#0a0a0a" stroke-width="2.4" stroke-linejoin="round" />
<polygon points="404.0,378.0 420.0,372.0 450.0,369.0 466.0,373.0 462.0,388.0 435.0,392.0 410.0,390.0" fill="#40f0f0" stroke="none" stroke-width="0" stroke-linejoin="round" />
<polygon points="450.0,378.0 458.0,366.6 466.0,378.0" fill="#f0f0a0" stroke="none" stroke-width="0" stroke-linejoin="round" />
<ellipse cx="417.5" cy="383.9" rx="5.0" ry="6.3" fill="#e050e0" stroke="#0a0a0a" stroke-width="2.4" transform="rotate(12 417.5 383.9)"/>
<polygon points="470.0,372.0 490.0,365.0 510.0,360.0 530.0,357.4 528.0,366.0 505.0,372.0 480.0,378.0" fill="#f0a060" stroke="#0a0a0a" stroke-width="2.4" stroke-linejoin="round" />
<polygon points="540.0,358.0 552.0,355.0 562.5,357.0 560.0,366.6 545.0,366.0" fill="#f0f040" stroke="#0a0a0a" stroke-width="2.4" stroke-linejoin="round" />
<polygon points="530.0,306.0 550.0,302.0 580.0,302.0 580.0,309.0 555.0,309.0 535.0,310.0" fill="#f04040" stroke="#0a0a0a" stroke-width="2.4" stroke-linejoin="round" />
<polygon points="544.0,333.0 552.0,330.0 565.0,340.0 571.7,348.0 566.0,353.0 555.0,346.0 547.0,340.0" fill="#f04040" stroke="#0a0a0a" stroke-width="2.4" stroke-linejoin="round" />
<polygon points="512.0,268.0 520.0,265.3 525.6,270.0 522.0,274.5 514.0,273.0" fill="#f04050" stroke="#0a0a0a" stroke-width="2.4" stroke-linejoin="round" />
<polygon points="540.0,410.0 555.0,403.0 580.0,400.0 580.0,412.0 560.0,418.0 542.0,419.6" fill="#f03030" stroke="#0a0a0a" stroke-width="2.4" stroke-linejoin="round" />
<polygon points="507.0,412.0 525.0,408.0 540.0,412.0 535.0,424.0 510.0,422.0" fill="#b070f0" stroke="#0a0a0a" stroke-width="2.4" stroke-linejoin="round" />
<polygon points="466.0,414.0 480.0,410.0 491.0,414.0 488.0,424.0 470.0,423.0" fill="#8080f0" stroke="#0a0a0a" stroke-width="2.4" stroke-linejoin="round" />
<polygon points="438.0,424.0 450.0,419.6 461.0,424.0 456.0,433.0 441.0,432.0" fill="#f080c0" stroke="#0a0a0a" stroke-width="2.4" stroke-linejoin="round" />
<polygon points="321.0,432.0 335.0,425.0 355.0,422.0 364.5,425.0 360.0,433.0 340.0,438.0 325.0,438.0" fill="#f070b0" stroke="#0a0a0a" stroke-width="2.4" stroke-linejoin="round" />
<polygon points="505.0,446.0 525.0,438.0 555.0,433.0 580.0,432.0 580.0,447.0 540.0,450.0 505.0,450.0" fill="#b050d8" stroke="#0a0a0a" stroke-width="2.4" stroke-linejoin="round" />
<polygon points="576.0,44.0 585.0,40.0 597.0,40.0 594.0,50.0 582.0,53.8" fill="#e03040" stroke="#0a0a0a" stroke-width="2.4" stroke-linejoin="round" />
<polygon points="691.0,40.0 710.0,40.0 707.0,48.0 695.0,49.0" fill="#f0f0a0" stroke="none" stroke-width="0" stroke-linejoin="round" />
<polygon points="735.0,55.0 750.0,48.0 770.0,40.0 777.0,40.0 775.0,50.0 760.0,58.0 740.0,63.0" fill="#e08050" stroke="#0a0a0a" stroke-width="2.4" stroke-linejoin="round" />
<polygon points="620.0,68.0 632.0,65.3 647.7,75.0 644.0,81.4 628.0,78.0" fill="#d0f060" stroke="#0a0a0a" stroke-width="2.4" stroke-linejoin="round" />
<ellipse cx="659" cy="83.7" rx="4.6" ry="4.7" fill="#6060e0" stroke="#0a0a0a" stroke-width="2.2" transform="rotate(0 659 83.7)"/>
<polygon points="717.0,70.0 735.0,64.0 750.0,66.0 758.0,80.0 756.0,88.0 745.0,86.0 730.0,80.0" fill="#8898f0" stroke="#0a0a0a" stroke-width="2.4" stroke-linejoin="round" />
<ellipse cx="792.7" cy="79" rx="7" ry="4.6" fill="#e06030" stroke="#0a0a0a" stroke-width="2.2" transform="rotate(0 792.7 79)"/>
<ellipse cx="821.5" cy="74.5" rx="5.8" ry="4.5" fill="#f09060" stroke="#0a0a0a" stroke-width="2.2" transform="rotate(0 821.5 74.5)"/>
<polygon points="701.0,97.0 712.0,99.0 728.0,106.0 745.0,113.0 753.0,118.0 750.0,122.0 735.0,119.0 718.0,112.0 703.0,103.0" fill="#d85060" stroke="#0a0a0a" stroke-width="2.4" stroke-linejoin="round" />
<ellipse cx="736.3" cy="116" rx="5.7" ry="4.6" fill="#f03050" stroke="#0a0a0a" stroke-width="2.2" transform="rotate(0 736.3 116)"/>
<polygon points="770.0,126.0 780.0,123.0 795.0,130.0 804.3,138.0 800.0,141.3 785.0,136.0 772.0,132.0" fill="#f0a050" stroke="#0a0a0a" stroke-width="2.4" stroke-linejoin="round" />
<polygon points="811.0,88.0 820.0,86.0 840.0,95.0 854.0,100.0 854.0,106.8 840.0,104.0 820.0,96.0" fill="#f0a090" stroke="#0a0a0a" stroke-width="2.4" stroke-linejoin="round" />
<polygon points="698.0,162.0 710.0,159.7 725.0,168.0 744.4,180.0 740.0,187.4 720.0,182.0 702.0,172.0" fill="#ecd8f4" stroke="#0a0a0a" stroke-width="2.4" stroke-linejoin="round" />
<polygon points="818.0,150.0 835.0,146.0 850.0,150.0 848.0,165.0 840.0,178.0 825.0,175.0 820.0,162.0" fill="#e0f0a0" stroke="#0a0a0a" stroke-width="2.4" stroke-linejoin="round" />
<polygon points="760.0,182.0 780.0,175.0 800.0,168.0 809.0,164.0 806.0,175.0 790.0,182.0 770.0,187.4" fill="#f0f0c0" stroke="#0a0a0a" stroke-width="2.4" stroke-linejoin="round" />
<ellipse cx="624.7" cy="171" rx="7" ry="6.8" fill="#f04050" stroke="#0a0a0a" stroke-width="2.2" transform="rotate(0 624.7 171)"/>
<polygon points="574.0,210.0 601.6,222.0 631.6,233.4 650.0,245.0 647.7,250.0 620.0,247.0 597.0,233.4 574.0,222.0" fill="#f02030" stroke="#0a0a0a" stroke-width="2.4" stroke-linejoin="round" />
<polygon points="673.0,212.0 690.0,210.0 710.0,218.0 717.0,226.0 710.0,229.0 690.0,224.0 676.0,218.0" fill="#f0c060" stroke="#0a0a0a" stroke-width="2.4" stroke-linejoin="round" />
<polygon points="712.0,226.0 725.0,226.0 740.0,235.0 744.4,242.0 735.0,242.6 720.0,236.0" fill="#f04040" stroke="#0a0a0a" stroke-width="2.4" stroke-linejoin="round" />
<polygon points="703.0,201.0 715.0,199.0 735.0,206.0 749.0,212.0 745.0,215.0 725.0,212.0 707.0,206.0" fill="#d04050" stroke="#0a0a0a" stroke-width="2.4" stroke-linejoin="round" />
<polygon points="754.0,215.0 765.0,212.7 780.0,222.0 786.0,235.0 780.0,240.3 768.0,235.0 758.0,225.0" fill="#f0c0c0" stroke="#0a0a0a" stroke-width="2.4" stroke-linejoin="round" />
<polygon points="615.0,240.0 652.0,240.0 650.0,248.0 630.0,250.4 618.0,246.0" fill="#f02040" stroke="#0a0a0a" stroke-width="2.4" stroke-linejoin="round" />
<polygon points="671.0,262.0 690.0,255.0 710.0,254.0 735.0,256.0 749.0,262.0 745.0,270.0 720.0,272.0 695.0,274.5 675.0,270.0" fill="#f0c040" stroke="#0a0a0a" stroke-width="2.4" stroke-linejoin="round" />
<polygon points="672.0,262.0 690.0,256.0 700.0,256.0 698.0,272.0 678.0,270.0" fill="#f0a030" stroke="none" stroke-width="0" stroke-linejoin="round" />
<polygon points="597.0,285.0 605.0,275.0 615.0,270.0 627.0,263.0 626.0,272.0 615.0,285.0 600.0,290.7" fill="#f080b0" stroke="#0a0a0a" stroke-width="2.4" stroke-linejoin="round" />
<polygon points="689.0,278.0 697.0,274.5 703.0,278.0 700.0,283.7 691.0,283.0" fill="#f080c0" stroke="#0a0a0a" stroke-width="2.4" stroke-linejoin="round" />
<polygon points="763.0,280.0 780.0,276.8 800.0,282.0 820.0,290.0 838.8,298.0 835.0,304.5 810.0,302.0 785.0,295.0 768.0,288.0" fill="#f09030" stroke="#0a0a0a" stroke-width="2.4" stroke-linejoin="round" />
<polygon points="749.0,270.0 760.0,265.0 772.0,272.0 768.0,286.0 752.0,282.0" fill="#f0e0f0" stroke="#0a0a0a" stroke-width="2.4" stroke-linejoin="round" />
<polygon points="606.0,302.0 625.0,298.0 645.0,297.6 661.5,300.0 658.0,307.0 635.0,309.0 610.0,309.0" fill="#c040e0" stroke="#0a0a0a" stroke-width="2.4" stroke-linejoin="round" />
<polygon points="574.0,302.0 585.0,300.0 599.0,304.0 596.0,311.0 580.0,311.4 574.0,309.0" fill="#a040d0" stroke="#0a0a0a" stroke-width="2.4" stroke-linejoin="round" />
<ellipse cx="663.8" cy="319.4" rx="7" ry="5.6" fill="#c0a0f0" stroke="#0a0a0a" stroke-width="2.2" transform="rotate(0 663.8 319.4)"/>
<polygon points="712.0,312.0 735.0,306.8 765.0,308.0 762.0,316.0 735.0,318.3 715.0,318.0" fill="#e0f080" stroke="#0a0a0a" stroke-width="2.4" stroke-linejoin="round" />
<polygon points="777.0,308.0 790.0,304.5 804.0,306.0 802.0,314.0 785.0,316.0" fill="#d0f0a0" stroke="#0a0a0a" stroke-width="2.4" stroke-linejoin="round" />
<polygon points="827.0,310.0 840.0,304.5 854.0,305.0 854.0,320.0 835.0,320.6" fill="#8080f0" stroke="#0a0a0a" stroke-width="2.4" stroke-linejoin="round" />
<polygon points="731.0,335.0 745.0,328.0 755.0,330.0 752.0,340.0 740.0,343.6 733.0,341.0" fill="#f03030" stroke="#0a0a0a" stroke-width="2.4" stroke-linejoin="round" />
<polygon points="750.0,330.0 770.0,325.0 780.0,327.0 778.0,338.0 760.0,341.0" fill="#f0a030" stroke="#0a0a0a" stroke-width="2.4" stroke-linejoin="round" />
<ellipse cx="783.9" cy="332.5" rx="9.4" ry="6.0" fill="#f0e040" stroke="#0a0a0a" stroke-width="2.4" transform="rotate(12 783.9 332.5)"/>
<polygon points="832.0,337.0 845.0,334.4 854.0,335.0 854.0,343.0 840.0,343.6" fill="#f070b0" stroke="#0a0a0a" stroke-width="2.4" stroke-linejoin="round" />
<polygon points="625.0,353.0 640.0,347.0 659.0,346.0 657.0,352.0 640.0,357.4 628.0,357.0" fill="#f0a040" stroke="#0a0a0a" stroke-width="2.4" stroke-linejoin="round" />
<polygon points="632.0,365.0 650.0,355.0 677.6,352.0 676.0,370.0 660.0,382.8 640.0,380.0" fill="#40e0f0" stroke="none" stroke-width="0" stroke-linejoin="round" />
<polygon points="638.0,370.0 648.0,365.0 657.0,370.0 655.0,378.0 642.0,378.0" fill="#4080f0" stroke="#0a0a0a" stroke-width="2.4" stroke-linejoin="round" />
<polygon points="721.0,365.0 735.0,357.4 749.0,360.0 745.0,373.5 725.0,372.0" fill="#50b0f0" stroke="#0a0a0a" stroke-width="2.4" stroke-linejoin="round" />
<polygon points="814.0,365.0 825.0,357.4 839.0,360.0 836.0,372.0 818.0,373.5" fill="#c090f0" stroke="#0a0a0a" stroke-width="2.4" stroke-linejoin="round" />
<polygon points="580.0,392.0 595.0,388.0 601.6,395.0 598.0,408.0 585.0,410.0" fill="#f02040" stroke="#0a0a0a" stroke-width="2.4" stroke-linejoin="round" />
<ellipse cx="579.5" cy="398.0" rx="6.0" ry="7.5" fill="#e040c0" stroke="#0a0a0a" stroke-width="2.4" transform="rotate(12 579.5 398.0)"/>
<ellipse cx="582.0" cy="410.0" rx="8.5" ry="5.5" fill="#f03030" stroke="#0a0a0a" stroke-width="2.4" transform="rotate(12 582.0 410.0)"/>
<polygon points="655.0,388.0 665.0,385.0 677.6,388.0 675.0,394.0 660.0,394.3" fill="#f08080" stroke="#0a0a0a" stroke-width="2.4" stroke-linejoin="round" />
<polygon points="751.0,397.0 762.0,394.3 774.0,396.0 772.0,401.0 755.0,401.2" fill="#e04040" stroke="#0a0a0a" stroke-width="2.4" stroke-linejoin="round" />
<ellipse cx="807.8" cy="392" rx="5.8" ry="4.6" fill="#e04040" stroke="#0a0a0a" stroke-width="2.2" transform="rotate(0 807.8 392)"/>
<ellipse cx="846.8" cy="387.4" rx="5.8" ry="4.6" fill="#e04040" stroke="#0a0a0a" stroke-width="2.2" transform="rotate(0 846.8 387.4)"/>
<polygon points="574.0,432.0 590.0,428.8 604.0,432.0 600.0,447.0 574.0,447.0" fill="#8060e0" stroke="#0a0a0a" stroke-width="2.4" stroke-linejoin="round" />
<polygon points="795.0,440.0 805.0,433.0 820.0,431.0 827.3,436.0 827.0,450.0 797.0,450.0" fill="#f04090" stroke="#0a0a0a" stroke-width="2.4" stroke-linejoin="round" />
<polygon points="765.0,420.0 778.0,415.0 792.7,418.0 790.0,426.5 770.0,426.0" fill="#c070e0" stroke="#0a0a0a" stroke-width="2.4" stroke-linejoin="round" />
<ellipse cx="748" cy="423" rx="8" ry="5.7" fill="#40e0f0" stroke="#0a0a0a" stroke-width="2.2" transform="rotate(0 748 423)"/>
<polygon points="214.8,394.0 217.5,395.3 220.2,396.0 222.9,395.9 225.6,396.0 228.2,395.3 230.9,395.1 233.5,393.2 233.5,393.2 230.7,391.4 228.0,390.4 225.4,391.1 222.7,390.4 220.0,391.2 217.4,392.7 214.8,394.0" fill="#f04060" stroke="#0a0a0a" stroke-width="2.2" stroke-linejoin="round" />
<polygon points="483.8,378.5 486.6,379.9 489.6,380.4 492.5,381.3 495.4,381.9 498.4,382.3 501.4,382.1 504.5,381.9 504.5,381.9 501.7,380.5 498.8,380.0 495.9,379.1 492.9,378.8 489.9,378.1 486.9,378.4 483.8,378.5" fill="#40f0c0" stroke="#0a0a0a" stroke-width="2.2" stroke-linejoin="round" />
<polygon points="588.1,360.9 589.9,361.9 591.5,361.8 593.2,361.8 594.8,361.6 596.4,361.8 598.0,360.6 599.5,359.7 599.5,359.7 597.8,358.9 596.2,359.0 594.5,358.4 592.8,358.5 591.2,359.2 589.7,359.8 588.1,360.9" fill="#f04060" stroke="#0a0a0a" stroke-width="2.2" stroke-linejoin="round" />
<polygon points="470.0,285.8 471.2,287.0 472.4,287.3 473.6,288.2 474.9,287.9 476.1,287.9 477.4,287.5 478.7,286.2 478.7,286.2 477.5,285.0 476.3,284.0 475.1,283.8 473.8,283.7 472.5,284.5 471.3,284.8 470.0,285.8" fill="#40f0c0" stroke="#0a0a0a" stroke-width="2.2" stroke-linejoin="round" />
<polygon points="123.1,121.0 124.7,122.2 126.2,122.3 127.7,122.8 129.0,122.1 130.5,122.2 131.7,120.7 132.9,119.3 132.9,119.3 131.3,118.5 129.7,117.6 128.3,117.8 127.0,118.5 125.5,118.1 124.3,119.7 123.1,121.0" fill="#f0a060" stroke="#0a0a0a" stroke-width="2.2" stroke-linejoin="round" />
<polygon points="717.9,394.3 719.3,395.0 720.2,394.9 721.3,395.1 722.0,394.5 722.9,394.1 723.5,393.1 723.9,391.8 723.9,391.8 722.6,391.0 721.8,391.4 720.8,391.4 719.9,391.7 719.1,392.1 718.4,392.9 717.9,394.3" fill="#f0c040" stroke="#0a0a0a" stroke-width="2.2" stroke-linejoin="round" />
<polygon points="289.1,362.3 291.8,363.0 294.6,363.7 297.3,363.3 300.0,363.4 302.7,363.1 305.4,362.7 308.1,361.6 308.1,361.6 305.3,360.9 302.6,360.2 299.9,359.9 297.2,360.6 294.5,361.0 291.8,361.2 289.1,362.3" fill="#e05070" stroke="#0a0a0a" stroke-width="2.2" stroke-linejoin="round" />
<polygon points="302.9,390.8 306.1,391.5 309.1,391.9 312.0,391.5 314.8,390.8 317.2,388.9 319.9,387.7 322.3,385.6 322.3,385.6 319.0,384.5 316.2,384.9 313.3,385.4 310.6,386.2 307.9,387.4 305.4,388.8 302.9,390.8" fill="#f0d0e0" stroke="#0a0a0a" stroke-width="2.2" stroke-linejoin="round" />
<polygon points="454.8,358.0 455.6,360.0 456.8,361.3 458.2,361.9 459.4,363.1 460.9,363.7 462.8,363.5 464.8,363.0 464.8,363.0 464.1,361.0 462.9,359.7 461.5,358.9 459.9,358.5 458.5,357.8 456.8,357.7 454.8,358.0" fill="#f080c0" stroke="#0a0a0a" stroke-width="2.2" stroke-linejoin="round" />
<polygon points="801.6,175.9 803.0,178.2 804.9,179.2 806.7,180.3 808.5,181.3 810.7,180.9 812.8,181.1 815.3,179.7 815.3,179.7 813.8,177.4 811.9,176.5 810.1,175.4 808.2,174.8 806.2,174.5 803.9,175.2 801.6,175.9" fill="#f04060" stroke="#0a0a0a" stroke-width="2.2" stroke-linejoin="round" />
<polygon points="815.0,404.3 817.6,405.4 820.1,405.9 822.6,406.5 825.0,406.3 827.1,404.6 829.4,403.5 831.4,401.5 831.4,401.5 828.9,400.6 826.4,400.1 824.0,400.6 821.4,399.6 819.2,400.9 817.0,402.0 815.0,404.3" fill="#60e0f0" stroke="#0a0a0a" stroke-width="2.2" stroke-linejoin="round" />
<polygon points="668.3,92.0 671.7,93.4 674.9,93.7 677.9,92.9 681.0,93.0 684.1,92.6 686.9,90.5 689.6,88.2 689.6,88.2 686.3,87.2 683.0,86.1 679.8,86.0 677.0,88.0 674.0,88.7 671.0,89.8 668.3,92.0" fill="#f0a060" stroke="#0a0a0a" stroke-width="2.2" stroke-linejoin="round" />
<polygon points="700.4,336.5 701.6,337.9 702.9,338.5 704.2,338.7 705.4,338.5 706.7,338.2 707.9,337.4 709.1,336.3 709.1,336.3 707.9,335.5 706.6,334.5 705.3,334.8 704.1,334.9 702.8,334.3 701.6,335.6 700.4,336.5" fill="#60e0f0" stroke="#0a0a0a" stroke-width="2.2" stroke-linejoin="round" />
<polygon points="130.4,300.4 131.7,302.0 132.9,302.4 134.1,302.5 135.4,303.2 136.6,302.4 137.9,301.9 139.1,300.4 139.1,300.4 137.8,299.3 136.6,298.1 135.4,297.9 134.1,297.9 132.9,298.0 131.7,299.2 130.4,300.4" fill="#f0c040" stroke="#0a0a0a" stroke-width="2.2" stroke-linejoin="round" />
<polygon points="40.9,420.7 43.1,421.8 45.1,422.6 47.0,422.0 49.0,422.3 50.8,421.3 52.6,420.2 54.3,418.7 54.3,418.7 52.2,417.7 50.2,417.1 48.1,416.5 46.3,417.6 44.3,417.2 42.6,418.9 40.9,420.7" fill="#f0c040" stroke="#0a0a0a" stroke-width="2.2" stroke-linejoin="round" />
<polygon points="303.2,296.1 305.0,297.2 306.7,297.2 308.4,297.4 310.1,297.4 311.7,297.0 313.3,296.2 314.9,295.1 314.9,295.1 313.1,294.2 311.5,294.2 309.7,293.6 308.1,293.6 306.4,294.4 304.8,294.9 303.2,296.1" fill="#f080c0" stroke="#0a0a0a" stroke-width="2.2" stroke-linejoin="round" />
<polygon points="757.0,293.0 758.5,295.5 760.3,296.9 762.4,297.2 764.3,298.1 766.4,298.2 768.6,298.0 771.1,296.4 771.1,296.4 769.5,294.3 767.6,293.4 765.9,291.7 763.8,291.4 761.5,292.1 759.5,291.5 757.0,293.0" fill="#f0d0e0" stroke="#0a0a0a" stroke-width="2.2" stroke-linejoin="round" />
<polygon points="507.1,396.5 510.1,396.2 513.2,396.0 515.7,394.5 518.4,393.6 520.8,391.9 523.3,390.4 525.5,388.4 525.5,388.4 522.5,388.7 519.5,389.0 516.8,389.9 514.4,391.6 511.7,392.7 509.3,394.3 507.1,396.5" fill="#f0d0e0" stroke="#0a0a0a" stroke-width="2.2" stroke-linejoin="round" />
<polygon points="338.1,93.0 340.2,93.9 342.2,94.1 344.3,94.5 346.2,94.3 348.2,93.6 350.1,92.8 352.0,91.8 352.0,91.8 350.0,91.2 347.9,90.8 345.9,90.8 344.0,91.0 342.0,91.5 340.1,92.0 338.1,93.0" fill="#f080c0" stroke="#0a0a0a" stroke-width="2.2" stroke-linejoin="round" />
<polygon points="209.4,133.0 211.7,134.9 213.9,135.5 216.1,135.7 218.3,135.8 220.4,135.0 222.5,134.2 224.6,132.2 224.6,132.2 222.3,130.4 220.1,129.6 217.9,129.5 215.7,129.0 213.6,130.7 211.5,130.9 209.4,133.0" fill="#f04060" stroke="#0a0a0a" stroke-width="2.2" stroke-linejoin="round" />
<polygon points="805.3,174.2 806.7,176.2 808.2,178.1 810.2,179.0 811.9,180.6 814.2,181.1 816.2,181.9 818.7,182.1 818.7,182.1 817.2,180.2 815.8,178.2 814.0,177.0 812.1,175.8 810.2,174.7 807.7,174.6 805.3,174.2" fill="#f0d0e0" stroke="#0a0a0a" stroke-width="2.2" stroke-linejoin="round" />
<polygon points="350.6,277.9 350.6,279.9 351.5,280.4 351.8,281.8 352.7,282.2 353.8,282.3 355.0,282.3 356.6,281.4 356.6,281.4 356.5,279.7 356.1,278.4 355.7,277.2 354.5,277.2 353.6,276.8 352.3,277.0 350.6,277.9" fill="#f0c040" stroke="#0a0a0a" stroke-width="2.2" stroke-linejoin="round" />
<polygon points="765.5,81.0 768.4,83.0 771.2,83.2 774.0,83.0 776.8,83.9 779.6,83.7 782.4,81.9 785.1,80.3 785.1,80.3 782.3,79.1 779.4,78.0 776.6,77.9 773.8,78.1 771.0,78.7 768.2,79.0 765.5,81.0" fill="#f0d0e0" stroke="#0a0a0a" stroke-width="2.2" stroke-linejoin="round" />
<polygon points="174.4,58.5 175.8,60.4 177.5,61.3 179.2,61.8 180.8,62.8 182.6,62.7 184.6,61.9 186.6,61.1 186.6,61.1 185.2,59.4 183.7,57.9 182.0,56.9 180.1,57.3 178.4,56.8 176.4,57.7 174.4,58.5" fill="#f04060" stroke="#0a0a0a" stroke-width="2.2" stroke-linejoin="round" />
<polygon points="681.5,364.3 683.5,366.6 685.8,368.1 688.0,369.8 690.7,370.3 693.3,371.0 696.0,371.5 699.0,371.5 699.0,371.5 696.9,369.5 694.9,367.3 692.3,366.4 689.8,365.5 687.2,364.8 684.4,364.3 681.5,364.3" fill="#f0a060" stroke="#0a0a0a" stroke-width="2.2" stroke-linejoin="round" />
<polygon points="611.9,311.1 612.7,312.6 613.6,313.6 614.6,314.4 615.7,314.6 617.0,314.1 618.2,313.8 619.5,312.7 619.5,312.7 618.7,311.2 617.8,310.1 616.8,309.7 615.7,309.3 614.6,309.2 613.4,309.6 611.9,311.1" fill="#a0f040" stroke="#0a0a0a" stroke-width="2.2" stroke-linejoin="round" />
<polygon points="342.5,293.1 342.6,294.7 342.7,296.4 343.4,297.0 344.5,296.8 345.5,296.9 346.3,297.2 348.0,296.0 348.0,296.0 348.0,294.1 347.4,293.2 346.8,292.4 346.3,291.4 345.0,292.1 343.9,292.2 342.5,293.1" fill="#e05070" stroke="#0a0a0a" stroke-width="2.2" stroke-linejoin="round" />
<polygon points="843.5,233.1 843.1,235.7 844.0,236.9 844.9,238.0 845.4,239.5 846.9,240.0 848.5,240.3 851.0,239.6 851.0,239.6 851.4,237.1 850.9,235.4 850.0,234.3 848.6,233.8 847.6,232.8 845.6,232.9 843.5,233.1" fill="#80a0f0" stroke="#0a0a0a" stroke-width="2.2" stroke-linejoin="round" />
<polygon points="754.4,54.8 755.4,56.8 756.3,58.9 758.1,59.2 759.7,59.8 761.4,60.4 763.1,60.8 765.4,59.8 765.4,59.8 764.7,57.2 763.4,55.9 761.8,55.1 760.3,54.2 758.4,54.2 756.7,53.8 754.4,54.8" fill="#e05070" stroke="#0a0a0a" stroke-width="2.2" stroke-linejoin="round" />
<polygon points="371.9,251.1 372.2,253.7 373.6,254.9 374.6,256.6 376.0,257.7 378.0,258.0 379.5,258.9 382.1,258.5 382.1,258.5 381.4,256.3 380.3,254.8 379.1,253.4 378.0,251.8 376.1,251.4 374.5,250.6 371.9,251.1" fill="#f04060" stroke="#0a0a0a" stroke-width="2.2" stroke-linejoin="round" />
<polygon points="769.2,115.9 771.1,117.8 773.3,118.9 775.3,120.4 777.7,120.9 780.0,121.6 782.5,122.0 785.0,122.0 785.0,122.0 783.2,120.0 781.2,118.6 779.0,117.5 776.6,116.9 774.2,116.4 771.9,115.8 769.2,115.9" fill="#e0f080" stroke="#0a0a0a" stroke-width="2.2" stroke-linejoin="round" />
<polygon points="410.4,110.0 413.3,111.4 416.3,112.5 419.3,113.2 422.4,114.0 425.6,113.8 428.7,114.2 431.9,113.9 431.9,113.9 429.0,112.3 426.0,111.4 423.0,110.4 420.0,109.8 416.7,110.0 413.6,109.6 410.4,110.0" fill="#c060e0" stroke="#0a0a0a" stroke-width="2.2" stroke-linejoin="round" />
<polygon points="567.7,93.7 569.5,95.6 571.8,96.7 573.7,98.5 576.0,99.5 578.5,100.1 580.9,101.0 583.5,101.4 583.5,101.4 581.6,99.4 579.5,98.1 577.3,96.8 575.2,95.5 572.7,94.9 570.4,93.9 567.7,93.7" fill="#f0a060" stroke="#0a0a0a" stroke-width="2.2" stroke-linejoin="round" />
<polygon points="141.0,346.4 142.3,347.7 143.7,348.1 145.1,348.6 146.6,348.9 148.0,349.1 149.5,348.7 151.1,347.6 151.1,347.6 149.8,346.2 148.4,345.6 147.1,344.7 145.6,345.1 144.1,345.3 142.5,345.7 141.0,346.4" fill="#e05070" stroke="#0a0a0a" stroke-width="2.2" stroke-linejoin="round" />
<polygon points="413.0,295.5 413.7,296.9 414.6,297.9 415.5,299.0 416.7,299.6 418.0,300.0 419.2,300.6 420.9,300.4 420.9,300.4 420.4,298.7 419.4,297.7 418.4,296.9 417.3,296.1 416.2,295.5 414.8,295.2 413.0,295.5" fill="#c060e0" stroke="#0a0a0a" stroke-width="2.2" stroke-linejoin="round" />
<polygon points="174.5,403.1 176.7,403.9 178.8,404.3 180.9,404.6 182.9,404.2 184.7,402.8 186.7,402.2 188.5,400.6 188.5,400.6 186.3,399.8 184.1,399.5 182.1,399.4 180.1,400.0 178.1,400.2 176.3,401.5 174.5,403.1" fill="#e05070" stroke="#0a0a0a" stroke-width="2.2" stroke-linejoin="round" />
<polygon points="810.5,74.4 811.8,75.1 813.0,75.5 813.9,75.1 814.9,74.9 815.7,74.2 816.5,73.4 817.1,72.1 817.1,72.1 815.8,71.3 814.6,70.9 813.5,70.9 812.8,71.8 811.7,71.8 811.2,73.2 810.5,74.4" fill="#c060e0" stroke="#0a0a0a" stroke-width="2.2" stroke-linejoin="round" />
<polygon points="35.8,147.7 38.7,148.6 41.5,149.2 44.2,148.5 47.0,148.3 49.6,147.4 52.2,146.6 54.8,144.9 54.8,144.9 51.9,144.2 49.0,143.4 46.2,143.6 43.5,143.6 40.8,144.4 38.3,146.1 35.8,147.7" fill="#f0a060" stroke="#0a0a0a" stroke-width="2.2" stroke-linejoin="round" />
<polygon points="299.8,46.3 300.4,48.4 301.7,49.3 302.4,51.2 304.2,51.4 305.7,52.1 307.2,52.8 309.2,52.8 309.2,52.8 308.5,50.9 307.7,49.2 306.4,48.3 305.1,47.3 303.6,46.5 302.0,46.1 299.8,46.3" fill="#60e0f0" stroke="#0a0a0a" stroke-width="2.2" stroke-linejoin="round" />
<polygon points="790.2,331.5 792.5,332.3 794.8,332.8 797.1,333.1 799.4,333.6 801.8,333.1 804.1,333.0 806.5,332.1 806.5,332.1 804.2,331.0 801.9,330.8 799.6,330.2 797.3,330.1 794.9,330.2 792.6,330.7 790.2,331.5" fill="#60e0f0" stroke="#0a0a0a" stroke-width="2.2" stroke-linejoin="round" />
<polygon points="648.1,338.4 649.2,340.1 650.3,341.7 651.8,341.6 653.1,342.7 654.7,342.4 656.4,341.8 658.1,340.9 658.1,340.9 657.1,339.1 655.9,337.6 654.4,337.8 653.0,337.3 651.5,337.1 649.9,337.1 648.1,338.4" fill="#f0d0e0" stroke="#0a0a0a" stroke-width="2.2" stroke-linejoin="round" />
<polygon points="319.6,352.2 322.3,353.5 325.2,354.0 328.1,354.5 331.0,354.7 333.9,355.0 336.8,355.0 339.8,354.5 339.8,354.5 337.0,353.2 334.2,352.7 331.3,351.9 328.4,351.4 325.5,351.4 322.6,351.5 319.6,352.2" fill="#a0f040" stroke="#0a0a0a" stroke-width="2.2" stroke-linejoin="round" />
<polygon points="46.7,386.2 49.6,387.8 52.5,388.6 55.5,389.2 58.5,388.8 61.4,388.7 64.4,388.5 67.4,387.2 67.4,387.2 64.5,385.5 61.6,384.1 58.7,384.1 55.7,383.8 52.7,384.4 49.7,385.0 46.7,386.2" fill="#e05070" stroke="#0a0a0a" stroke-width="2.2" stroke-linejoin="round" />
<polygon points="587.1,418.7 587.8,421.6 588.3,424.7 590.0,426.8 591.7,428.9 593.5,430.9 596.2,432.3 598.7,433.8 598.7,433.8 598.0,430.9 596.9,428.3 595.5,426.0 594.5,423.3 592.5,421.4 589.7,420.2 587.1,418.7" fill="#c060e0" stroke="#0a0a0a" stroke-width="2.2" stroke-linejoin="round" />
<polygon points="664.2,343.9 665.9,345.8 667.8,346.4 669.5,347.6 671.4,348.4 673.5,347.9 675.6,347.3 677.8,346.4 677.8,346.4 676.1,344.4 674.3,343.6 672.3,343.3 670.5,342.4 668.5,342.5 666.4,343.1 664.2,343.9" fill="#f080c0" stroke="#0a0a0a" stroke-width="2.2" stroke-linejoin="round" />
<polygon points="279.6,385.2 281.6,386.4 283.6,386.7 285.6,387.6 287.5,387.5 289.4,386.7 291.4,386.2 293.2,384.4 293.2,384.4 291.2,383.0 289.2,382.6 287.2,382.5 285.3,382.6 283.4,383.2 281.5,383.7 279.6,385.2" fill="#f0d0e0" stroke="#0a0a0a" stroke-width="2.2" stroke-linejoin="round" />
<polygon points="241.0,79.3 243.6,80.7 246.3,81.2 249.0,82.0 251.8,82.3 254.6,82.2 257.4,82.3 260.3,81.7 260.3,81.7 257.6,80.3 255.0,79.2 252.2,78.6 249.5,78.6 246.6,78.8 243.9,78.5 241.0,79.3" fill="#f0d0e0" stroke="#0a0a0a" stroke-width="2.2" stroke-linejoin="round" />
<polygon points="388.1,273.6 389.6,275.5 391.2,277.0 392.7,278.8 394.8,279.3 396.7,280.2 398.9,280.8 401.5,280.3 401.5,280.3 400.3,278.0 398.5,276.7 396.8,275.4 394.7,274.7 392.7,273.9 390.7,273.2 388.1,273.6" fill="#e0f080" stroke="#0a0a0a" stroke-width="2.2" stroke-linejoin="round" />
<polygon points="710.5,443.1 711.9,445.2 713.5,446.5 715.4,447.2 717.3,447.7 719.4,447.6 721.4,448.0 723.7,447.2 723.7,447.2 722.3,445.0 720.5,444.1 718.9,442.5 717.0,441.9 715.0,441.9 712.8,442.1 710.5,443.1" fill="#f04060" stroke="#0a0a0a" stroke-width="2.2" stroke-linejoin="round" />
<polygon points="442.2,65.8 444.7,66.2 447.1,66.3 449.4,65.9 451.5,65.0 453.7,64.4 455.9,63.5 457.9,61.9 457.9,61.9 455.4,61.7 453.0,61.3 450.7,61.8 448.6,62.9 446.3,63.2 444.2,64.2 442.2,65.8" fill="#40f0c0" stroke="#0a0a0a" stroke-width="2.2" stroke-linejoin="round" />
<polygon points="272.0,118.5 274.4,120.6 276.8,121.3 279.2,121.5 281.6,121.5 284.0,121.6 286.5,120.9 289.0,119.0 289.0,119.0 286.6,117.6 284.2,115.7 281.8,115.6 279.4,115.3 277.0,115.9 274.5,116.5 272.0,118.5" fill="#a0f040" stroke="#0a0a0a" stroke-width="2.2" stroke-linejoin="round" />
<polygon points="189.3,162.7 191.3,163.8 193.4,164.5 195.5,165.3 197.6,165.0 199.7,165.0 201.8,164.6 203.9,163.4 203.9,163.4 201.9,161.8 199.8,161.4 197.8,160.7 195.7,160.5 193.6,161.1 191.4,161.8 189.3,162.7" fill="#e0f080" stroke="#0a0a0a" stroke-width="2.2" stroke-linejoin="round" />
<polygon points="503.4,423.5 505.8,425.3 508.4,426.5 511.0,427.3 513.8,427.9 516.5,428.6 519.3,429.0 522.2,429.1 522.2,429.1 519.8,427.2 517.3,426.0 514.6,425.2 511.9,424.3 509.3,423.5 506.4,423.3 503.4,423.5" fill="#c060e0" stroke="#0a0a0a" stroke-width="2.2" stroke-linejoin="round" />
<polygon points="185.8,323.7 186.9,325.4 187.9,326.4 188.8,325.9 189.7,326.2 190.6,325.4 191.6,325.2 192.4,323.3 192.4,323.3 191.4,322.0 190.4,321.2 189.4,320.0 188.5,321.1 187.5,320.8 186.7,321.9 185.8,323.7" fill="#40f0c0" stroke="#0a0a0a" stroke-width="2.2" stroke-linejoin="round" />
<polygon points="475.2,304.8 477.5,306.2 479.8,306.4 482.1,306.9 484.3,306.8 486.6,307.0 488.8,305.6 491.1,304.4 491.1,304.4 488.8,303.4 486.5,302.2 484.2,301.7 482.0,302.4 479.7,302.2 477.4,303.1 475.2,304.8" fill="#e05070" stroke="#0a0a0a" stroke-width="2.2" stroke-linejoin="round" />
<polygon points="88.0,142.5 90.1,144.5 92.3,145.6 94.4,146.9 96.8,146.1 99.0,146.5 101.4,145.6 103.8,143.9 103.8,143.9 101.7,141.9 99.4,141.5 97.3,139.6 95.1,139.5 92.7,140.3 90.4,141.1 88.0,142.5" fill="#f0a060" stroke="#0a0a0a" stroke-width="2.2" stroke-linejoin="round" />
<polygon points="568.6,432.9 571.6,433.0 574.1,432.1 576.7,431.3 579.2,430.2 581.7,429.2 584.0,427.8 586.1,425.8 586.1,425.8 583.3,426.1 580.5,426.2 578.0,427.3 575.4,428.0 573.2,429.7 570.8,431.1 568.6,432.9" fill="#c060e0" stroke="#0a0a0a" stroke-width="2.2" stroke-linejoin="round" />
<polygon points="395.7,321.1 397.0,322.7 398.3,323.2 399.6,323.6 401.0,324.3 402.4,323.8 403.8,323.0 405.3,321.9 405.3,321.9 404.0,320.7 402.8,319.3 401.4,319.7 400.0,319.7 398.6,319.3 397.2,320.1 395.7,321.1" fill="#f0a060" stroke="#0a0a0a" stroke-width="2.2" stroke-linejoin="round" />
<polygon points="816.8,185.6 818.8,187.0 820.8,187.4 822.9,187.6 824.9,187.7 827.0,187.6 829.0,187.1 831.1,186.0 831.1,186.0 829.1,185.1 827.1,184.0 825.1,183.4 823.0,183.3 820.9,183.9 818.9,184.5 816.8,185.6" fill="#c060e0" stroke="#0a0a0a" stroke-width="2.2" stroke-linejoin="round" />
<polygon points="223.9,113.0 225.6,114.7 227.3,116.4 229.2,117.5 231.3,118.0 233.5,118.6 235.8,118.7 238.2,118.6 238.2,118.6 236.5,116.9 234.6,115.8 232.8,114.4 230.8,113.5 228.5,113.3 226.3,112.8 223.9,113.0" fill="#e05070" stroke="#0a0a0a" stroke-width="2.2" stroke-linejoin="round" />
<polygon points="87.9,100.1 88.4,102.0 89.1,103.8 90.5,104.6 91.1,106.5 92.9,106.7 94.8,106.9 96.8,106.9 96.8,106.9 96.4,104.7 95.9,102.8 94.2,102.3 93.0,101.3 92.1,99.9 89.9,100.1 87.9,100.1" fill="#60e0f0" stroke="#0a0a0a" stroke-width="2.2" stroke-linejoin="round" />
<polygon points="784.5,272.9 786.6,274.2 788.6,275.2 790.7,276.2 792.9,276.5 795.1,276.8 797.5,276.5 799.9,276.0 799.9,276.0 797.8,274.8 795.8,273.7 793.6,273.3 791.4,273.0 789.2,272.6 786.9,272.4 784.5,272.9" fill="#40f0c0" stroke="#0a0a0a" stroke-width="2.2" stroke-linejoin="round" />
<polygon points="551.1,427.2 553.3,428.5 555.5,429.2 557.8,429.1 560.0,429.2 562.3,428.9 564.5,428.4 566.8,427.5 566.8,427.5 564.5,426.1 562.3,425.4 560.1,425.7 557.8,425.7 555.6,425.8 553.4,425.9 551.1,427.2" fill="#e0f080" stroke="#0a0a0a" stroke-width="2.2" stroke-linejoin="round" />
<polygon points="703.0,66.2 705.8,67.3 708.5,67.8 711.3,68.2 714.0,67.8 716.7,67.7 719.3,66.2 721.9,64.9 721.9,64.9 719.1,64.0 716.4,63.5 713.6,62.9 710.9,63.4 708.3,64.2 705.6,64.5 703.0,66.2" fill="#a0f040" stroke="#0a0a0a" stroke-width="2.2" stroke-linejoin="round" />
<polygon points="666.9,317.9 667.1,319.4 667.9,320.0 668.5,321.0 669.5,321.1 670.2,321.8 671.5,321.5 672.7,321.3 672.7,321.3 672.4,320.0 671.7,319.3 671.2,318.2 670.2,318.0 669.2,317.8 668.1,317.7 666.9,317.9" fill="#f0a060" stroke="#0a0a0a" stroke-width="2.2" stroke-linejoin="round" />
<polygon points="306.4,379.5 308.7,381.7 311.3,383.1 313.6,385.1 316.3,386.2 319.1,387.1 322.1,387.8 325.1,388.3 325.1,388.3 322.9,386.1 320.4,384.4 317.8,383.0 315.0,382.0 312.4,380.6 309.5,379.9 306.4,379.5" fill="#60e0f0" stroke="#0a0a0a" stroke-width="2.2" stroke-linejoin="round" />
<polygon points="42.0,120.4 41.9,122.6 42.7,124.0 43.5,125.3 44.2,126.8 45.5,127.6 47.2,128.1 49.4,128.1 49.4,128.1 49.1,126.3 48.6,124.7 47.8,123.3 46.6,122.4 45.7,121.1 43.8,120.8 42.0,120.4" fill="#f0c040" stroke="#0a0a0a" stroke-width="2.2" stroke-linejoin="round" />
<polygon points="486.8,271.8 487.6,272.8 488.4,273.6 489.3,274.1 490.3,274.0 491.3,274.3 492.3,274.0 493.5,273.1 493.5,273.1 492.7,272.1 491.8,271.7 490.8,271.3 490.0,270.6 489.0,270.6 487.9,271.0 486.8,271.8" fill="#e05070" stroke="#0a0a0a" stroke-width="2.2" stroke-linejoin="round" />
<polygon points="459.1,113.1 460.2,114.0 461.3,114.7 462.5,115.5 463.4,115.3 464.2,114.1 465.1,113.5 465.8,111.9 465.8,111.9 464.6,110.5 463.6,110.5 462.4,109.7 461.5,110.2 460.6,110.5 459.8,111.5 459.1,113.1" fill="#e05070" stroke="#0a0a0a" stroke-width="2.2" stroke-linejoin="round" />
<polygon points="66.5,92.5 69.7,92.6 72.8,92.4 76.0,92.1 79.0,91.1 81.9,90.2 85.0,89.5 87.8,87.7 87.8,87.7 84.5,87.3 81.4,87.7 78.2,88.0 75.2,88.7 72.2,89.8 69.3,90.9 66.5,92.5" fill="#40f0c0" stroke="#0a0a0a" stroke-width="2.2" stroke-linejoin="round" />
<polygon points="330.8,356.6 332.1,357.9 333.5,358.7 335.1,359.0 336.7,359.1 338.2,359.6 339.9,359.3 341.6,358.9 341.6,358.9 340.2,357.6 338.7,357.3 337.3,356.4 335.7,356.0 334.1,356.2 332.5,356.0 330.8,356.6" fill="#a0f040" stroke="#0a0a0a" stroke-width="2.2" stroke-linejoin="round" />
<polygon points="640.7,318.1 641.6,320.0 642.6,320.5 643.5,321.3 644.5,321.6 645.4,320.2 646.3,320.1 647.2,318.0 647.2,318.0 646.3,316.6 645.3,315.4 644.4,314.5 643.4,315.2 642.5,315.7 641.6,316.2 640.7,318.1" fill="#f04060" stroke="#0a0a0a" stroke-width="2.2" stroke-linejoin="round" />
<polygon points="240.8,360.6 240.6,362.3 240.8,363.7 241.8,363.9 242.3,364.7 243.3,364.9 244.3,365.1 246.0,364.4 246.0,364.4 246.1,362.7 245.7,361.7 245.1,361.0 244.7,359.9 243.8,359.6 242.3,360.0 240.8,360.6" fill="#e0f080" stroke="#0a0a0a" stroke-width="2.2" stroke-linejoin="round" />
<polygon points="818.8,238.3 820.7,240.5 822.8,242.1 824.7,244.5 827.1,245.4 829.8,245.6 832.6,245.4 835.6,245.0 835.6,245.0 833.8,242.5 831.5,241.2 829.5,239.4 827.4,237.8 824.8,237.3 821.8,237.9 818.8,238.3" fill="#f0d0e0" stroke="#0a0a0a" stroke-width="2.2" stroke-linejoin="round" />
<polygon points="330.1,446.4 332.1,448.0 334.0,448.9 336.1,449.0 338.1,449.4 340.1,450.0 342.3,449.1 344.4,447.5 344.4,447.5 342.5,445.9 340.5,445.1 338.5,444.5 336.4,444.5 334.4,444.8 332.3,445.0 330.1,446.4" fill="#e05070" stroke="#0a0a0a" stroke-width="2.2" stroke-linejoin="round" />
<polygon points="317.3,117.4 319.6,118.0 321.9,118.6 323.8,117.6 325.8,117.3 327.6,116.2 329.5,115.6 331.0,113.4 331.0,113.4 328.7,112.7 326.6,112.7 324.4,112.6 322.3,112.8 320.7,114.5 318.9,115.6 317.3,117.4" fill="#60e0f0" stroke="#0a0a0a" stroke-width="2.2" stroke-linejoin="round" />
<polygon points="369.6,344.6 372.3,346.6 375.2,347.7 377.9,349.4 380.9,350.3 384.1,350.7 387.2,351.2 390.5,351.1 390.5,351.1 387.7,349.3 384.9,348.0 382.1,346.3 379.1,345.5 376.0,345.0 372.8,344.7 369.6,344.6" fill="#e05070" stroke="#0a0a0a" stroke-width="2.2" stroke-linejoin="round" />
<polygon points="408.2,109.8 409.8,110.8 411.4,111.5 412.8,111.6 414.1,111.0 415.6,111.2 416.9,110.2 418.0,108.3 418.0,108.3 416.4,107.2 414.8,106.2 413.4,106.2 412.1,107.0 410.7,107.4 409.4,108.1 408.2,109.8" fill="#f080c0" stroke="#0a0a0a" stroke-width="2.2" stroke-linejoin="round" />
<polygon points="743.3,129.7 744.7,131.2 746.2,132.3 747.7,133.4 749.4,133.9 751.1,134.4 753.0,134.5 755.1,134.2 755.1,134.2 753.7,132.6 752.2,131.7 750.6,130.6 748.9,130.2 747.1,129.8 745.2,129.7 743.3,129.7" fill="#c060e0" stroke="#0a0a0a" stroke-width="2.2" stroke-linejoin="round" />
<polygon points="647.5,366.6 648.6,367.8 649.7,368.3 650.7,368.0 651.7,367.9 652.7,367.7 653.7,367.5 654.7,366.2 654.7,366.2 653.6,365.0 652.6,364.7 651.5,364.5 650.5,364.8 649.5,364.6 648.5,365.6 647.5,366.6" fill="#40f0c0" stroke="#0a0a0a" stroke-width="2.2" stroke-linejoin="round" />
<polygon points="360.6,418.0 361.2,419.6 361.8,421.5 362.7,421.7 363.7,421.5 364.8,421.2 365.7,421.2 367.1,419.4 367.1,419.4 366.6,417.1 365.7,416.9 365.0,415.4 364.0,415.8 362.9,416.3 362.0,416.2 360.6,418.0" fill="#e05070" stroke="#0a0a0a" stroke-width="2.2" stroke-linejoin="round" />
<polygon points="40.9,339.3 44.0,340.5 47.1,340.9 50.2,341.7 53.2,341.3 56.2,340.9 59.2,340.0 62.1,338.1 62.1,338.1 59.0,337.1 55.9,335.9 52.9,336.2 49.9,336.3 46.8,336.4 43.8,337.6 40.9,339.3" fill="#c060e0" stroke="#0a0a0a" stroke-width="2.2" stroke-linejoin="round" />
<polygon points="699.1,258.8 701.8,260.2 704.5,261.2 707.4,261.7 710.1,262.6 713.0,263.0 715.9,263.0 718.9,262.4 718.9,262.4 716.3,260.9 713.5,260.0 710.7,259.4 708.0,258.4 705.1,258.2 702.2,258.1 699.1,258.8" fill="#f080c0" stroke="#0a0a0a" stroke-width="2.2" stroke-linejoin="round" />
<polygon points="721.0,115.9 722.6,118.2 724.2,120.4 726.5,121.5 728.4,123.1 730.7,124.2 733.1,125.0 736.1,125.0 736.1,125.0 734.4,122.8 732.9,120.4 731.0,118.8 728.4,118.3 726.4,116.7 723.7,116.4 721.0,115.9" fill="#c060e0" stroke="#0a0a0a" stroke-width="2.2" stroke-linejoin="round" />
<polygon points="807.5,409.3 808.1,410.5 808.9,411.0 809.7,411.6 810.6,411.9 811.5,412.4 812.6,412.0 813.8,411.2 813.8,411.2 813.2,409.9 812.3,409.5 811.6,408.8 810.7,408.2 809.7,408.3 808.7,408.6 807.5,409.3" fill="#f0d0e0" stroke="#0a0a0a" stroke-width="2.2" stroke-linejoin="round" />
<polygon points="435.7,399.7 436.6,400.9 437.4,402.3 438.3,402.6 439.2,401.8 440.1,402.0 441.0,401.1 441.9,399.8 441.9,399.8 441.0,398.4 440.2,398.0 439.3,397.3 438.4,397.3 437.5,397.4 436.6,398.5 435.7,399.7" fill="#f0d0e0" stroke="#0a0a0a" stroke-width="2.2" stroke-linejoin="round" />
<polygon points="374.3,351.1 375.3,353.6 376.8,355.2 378.5,356.1 380.3,357.0 382.3,357.3 384.4,357.4 386.9,356.7 386.9,356.7 385.9,354.1 384.3,353.0 382.6,351.8 380.9,350.8 379.0,350.2 376.9,350.1 374.3,351.1" fill="#80a0f0" stroke="#0a0a0a" stroke-width="2.2" stroke-linejoin="round" />
<polygon points="123.2,336.9 124.8,338.4 126.3,338.7 127.8,338.9 129.4,339.0 130.9,338.9 132.3,338.1 133.8,336.3 133.8,336.3 132.2,334.8 130.7,334.6 129.1,334.4 127.6,333.8 126.1,335.0 124.6,335.2 123.2,336.9" fill="#80a0f0" stroke="#0a0a0a" stroke-width="2.2" stroke-linejoin="round" />
<polygon points="129.7,395.1 132.4,396.9 135.2,398.3 138.2,398.5 140.9,400.0 143.9,399.9 147.0,400.0 150.2,399.3 150.2,399.3 147.5,397.4 144.7,396.1 141.9,395.0 138.9,395.1 136.0,394.3 132.9,394.4 129.7,395.1" fill="#f0d0e0" stroke="#0a0a0a" stroke-width="2.2" stroke-linejoin="round" />
<polygon points="702.8,380.2 704.0,382.5 705.5,383.3 706.8,385.1 708.7,384.9 710.6,385.0 712.5,384.9 714.6,384.2 714.6,384.2 713.4,382.2 712.0,380.9 710.4,379.8 708.7,379.5 706.9,379.4 705.1,379.0 702.8,380.2" fill="#c060e0" stroke="#0a0a0a" stroke-width="2.2" stroke-linejoin="round" />
<polygon points="238.7,402.5 241.7,403.6 244.7,404.3 247.7,404.0 250.7,404.0 253.6,403.5 256.5,402.2 259.3,401.0 259.3,401.0 256.3,400.0 253.3,399.3 250.3,399.5 247.4,399.7 244.4,400.1 241.5,401.2 238.7,402.5" fill="#40f0c0" stroke="#0a0a0a" stroke-width="2.2" stroke-linejoin="round" />
<polygon points="293.4,348.7 295.7,350.3 298.0,351.2 300.2,351.7 302.4,351.8 304.6,350.6 306.7,349.7 308.7,347.5 308.7,347.5 306.4,346.2 304.2,345.7 301.9,344.7 299.8,345.6 297.6,346.2 295.4,346.5 293.4,348.7" fill="#40f0c0" stroke="#0a0a0a" stroke-width="2.2" stroke-linejoin="round" />
<polygon points="311.7,431.5 313.0,433.4 314.2,433.9 315.5,433.7 316.8,434.8 318.0,434.2 319.3,433.1 320.5,431.4 320.5,431.4 319.3,429.6 318.0,428.9 316.7,429.0 315.4,428.2 314.2,429.4 312.9,430.2 311.7,431.5" fill="#f0a060" stroke="#0a0a0a" stroke-width="2.2" stroke-linejoin="round" />
<polygon points="75.7,99.3 78.2,100.8 80.6,100.8 83.0,100.8 85.4,101.1 87.8,100.6 89.9,98.9 92.1,97.2 92.1,97.2 89.5,95.7 87.0,95.0 84.6,94.8 82.3,95.4 80.0,95.8 77.8,97.7 75.7,99.3" fill="#80a0f0" stroke="#0a0a0a" stroke-width="2.2" stroke-linejoin="round" />
<polygon points="156.1,194.9 157.5,196.0 159.0,197.2 160.5,196.9 162.0,197.5 163.6,197.4 165.2,196.5 166.8,195.5 166.8,195.5 165.3,194.5 163.8,193.2 162.3,192.9 160.8,192.7 159.2,193.4 157.7,193.8 156.1,194.9" fill="#a0f040" stroke="#0a0a0a" stroke-width="2.2" stroke-linejoin="round" />
<polygon points="289.1,422.8 289.8,424.2 290.7,425.0 291.3,426.4 292.6,426.3 293.5,426.9 294.9,426.5 296.5,425.7 296.5,425.7 295.9,424.0 295.2,422.7 294.1,422.5 293.2,421.6 291.9,421.9 290.5,422.3 289.1,422.8" fill="#40f0c0" stroke="#0a0a0a" stroke-width="2.2" stroke-linejoin="round" />
<polygon points="70.4,425.1 72.0,426.2 73.7,427.1 75.4,427.1 77.0,426.6 78.6,426.9 80.2,425.9 81.8,424.6 81.8,424.6 80.1,423.6 78.5,423.3 76.8,422.3 75.2,423.1 73.6,423.3 72.0,424.1 70.4,425.1" fill="#e0f080" stroke="#0a0a0a" stroke-width="2.2" stroke-linejoin="round" />
<polygon points="752.8,135.1 754.8,136.4 756.7,137.2 758.6,137.9 760.3,136.5 762.1,136.4 763.8,135.3 765.4,133.5 765.4,133.5 763.3,132.0 761.4,131.1 759.7,131.9 757.8,131.2 756.1,132.3 754.4,132.9 752.8,135.1" fill="#a0f040" stroke="#0a0a0a" stroke-width="2.2" stroke-linejoin="round" />
<polygon points="800.0,216.8 801.6,218.7 803.4,220.4 805.1,222.3 807.6,222.5 809.9,223.3 812.0,224.1 814.8,223.9 814.8,223.9 813.3,221.4 811.2,220.4 809.5,218.6 807.4,217.5 804.9,217.4 802.7,216.5 800.0,216.8" fill="#f080c0" stroke="#0a0a0a" stroke-width="2.2" stroke-linejoin="round" />
<polygon points="295.8,267.6 297.3,268.8 298.9,269.6 300.5,269.7 302.1,269.8 303.7,269.5 305.3,269.1 307.0,268.2 307.0,268.2 305.4,267.4 303.8,266.9 302.3,266.0 300.7,266.1 299.1,266.4 297.5,266.5 295.8,267.6" fill="#40f0c0" stroke="#0a0a0a" stroke-width="2.2" stroke-linejoin="round" />
<polygon points="339.5,260.2 341.3,261.8 343.2,262.9 345.2,263.6 347.4,263.7 349.4,264.4 351.6,263.8 353.9,263.0 353.9,263.0 352.2,261.1 350.2,260.1 348.3,258.9 346.2,258.6 344.0,259.1 341.8,259.1 339.5,260.2" fill="#f080c0" stroke="#0a0a0a" stroke-width="2.2" stroke-linejoin="round" />
<polygon points="244.3,110.0 246.5,110.3 248.7,110.4 250.7,110.0 252.6,108.9 254.6,108.6 256.5,107.5 258.3,106.3 258.3,106.3 256.1,106.0 254.0,106.2 251.9,106.3 249.8,106.7 248.0,108.0 246.1,108.8 244.3,110.0" fill="#80a0f0" stroke="#0a0a0a" stroke-width="2.2" stroke-linejoin="round" />
<polygon points="672.2,351.5 674.3,354.2 676.7,356.3 679.5,357.8 682.1,359.4 685.2,360.4 688.2,361.4 691.5,361.9 691.5,361.9 689.6,358.8 687.2,356.6 684.4,355.2 682.0,353.2 678.8,352.5 675.5,352.0 672.2,351.5" fill="#f080c0" stroke="#0a0a0a" stroke-width="2.2" stroke-linejoin="round" />
<polygon points="444.6,390.0 446.3,390.2 448.0,390.5 449.7,390.5 451.2,389.9 452.6,389.2 454.1,388.4 455.4,387.1 455.4,387.1 453.6,386.6 452.0,386.6 450.4,387.1 448.8,387.3 447.4,388.1 445.9,388.7 444.6,390.0" fill="#c060e0" stroke="#0a0a0a" stroke-width="2.2" stroke-linejoin="round" />
<polygon points="138.4,165.4 139.8,166.6 141.1,167.9 142.7,168.2 144.3,168.5 145.9,168.7 147.6,168.8 149.4,168.1 149.4,168.1 148.1,166.8 146.6,166.1 145.0,165.5 143.4,165.2 141.8,165.0 140.2,164.7 138.4,165.4" fill="#80a0f0" stroke="#0a0a0a" stroke-width="2.2" stroke-linejoin="round" />
<polygon points="721.2,365.8 722.0,367.2 723.1,368.0 724.1,369.2 725.2,369.7 726.7,369.4 728.1,369.2 729.6,368.7 729.6,368.7 728.7,367.3 727.6,366.7 726.5,365.9 725.5,365.1 724.0,365.4 722.8,365.0 721.2,365.8" fill="#f0a060" stroke="#0a0a0a" stroke-width="2.2" stroke-linejoin="round" />
<polygon points="694.0,384.2 695.1,385.3 696.3,386.0 697.6,386.0 698.9,386.5 700.3,386.3 701.6,386.3 703.0,385.8 703.0,385.8 701.9,384.7 700.6,384.3 699.3,384.0 698.1,383.5 696.8,383.4 695.4,383.5 694.0,384.2" fill="#f04060" stroke="#0a0a0a" stroke-width="2.2" stroke-linejoin="round" />
<polygon points="497.2,320.7 499.9,321.2 502.6,321.2 505.2,321.1 507.8,321.0 510.4,320.4 513.0,319.8 515.5,318.5 515.5,318.5 512.8,318.1 510.1,318.0 507.4,317.7 504.9,318.4 502.3,319.1 499.7,319.4 497.2,320.7" fill="#60e0f0" stroke="#0a0a0a" stroke-width="2.2" stroke-linejoin="round" />
<polygon points="696.3,317.0 697.9,319.1 699.6,320.4 701.4,321.7 703.6,321.6 705.7,321.7 707.8,321.9 710.2,321.1 710.2,321.1 708.8,318.7 706.8,318.0 705.2,316.2 703.2,315.6 700.9,316.1 698.8,315.9 696.3,317.0" fill="#e0f080" stroke="#0a0a0a" stroke-width="2.2" stroke-linejoin="round" />
<polygon points="760.2,290.0 762.3,291.8 764.4,293.6 766.8,294.5 769.2,295.3 771.6,296.1 774.2,296.4 777.1,295.9 777.1,295.9 775.1,293.8 772.9,292.5 770.5,291.6 768.2,290.2 765.6,289.9 763.1,289.5 760.2,290.0" fill="#60e0f0" stroke="#0a0a0a" stroke-width="2.2" stroke-linejoin="round" />
<polygon points="594.7,341.2 597.6,340.7 600.3,339.8 603.2,339.3 605.7,338.0 608.0,336.4 610.3,334.6 612.4,332.5 612.4,332.5 609.4,332.8 606.5,333.3 604.1,334.7 601.4,335.6 599.1,337.4 596.7,338.9 594.7,341.2" fill="#f04060" stroke="#0a0a0a" stroke-width="2.2" stroke-linejoin="round" />
<polygon points="502.5,111.5 502.7,113.4 503.2,114.9 503.9,115.8 505.1,115.7 506.0,116.2 507.6,115.2 509.0,114.5 509.0,114.5 508.7,112.8 508.2,111.5 507.5,110.6 506.6,109.9 505.5,110.0 504.2,110.4 502.5,111.5" fill="#c060e0" stroke="#0a0a0a" stroke-width="2.2" stroke-linejoin="round" />
<polygon points="74.8,370.1 77.1,372.0 79.6,373.9 82.1,375.6 84.7,377.1 87.8,377.8 90.5,379.0 93.7,379.4 93.7,379.4 91.4,377.2 88.9,375.6 86.2,374.2 83.6,372.6 80.7,371.7 77.9,370.4 74.8,370.1" fill="#f0d0e0" stroke="#0a0a0a" stroke-width="2.2" stroke-linejoin="round" />
<polygon points="617.8,308.2 619.3,309.9 620.8,310.0 622.3,311.5 623.7,311.5 625.2,310.7 626.6,309.4 628.1,308.0 628.1,308.0 626.6,306.6 625.1,305.1 623.6,305.8 622.2,304.8 620.7,305.6 619.2,306.5 617.8,308.2" fill="#f0a060" stroke="#0a0a0a" stroke-width="2.2" stroke-linejoin="round" />
<polygon points="49.6,97.5 50.0,99.1 50.8,99.6 51.5,100.3 52.2,101.2 53.1,101.3 54.4,100.6 55.7,99.9 55.7,99.9 55.3,98.4 54.6,97.7 53.9,96.9 53.1,96.5 52.1,96.4 51.0,96.6 49.6,97.5" fill="#e05070" stroke="#0a0a0a" stroke-width="2.2" stroke-linejoin="round" />
<polygon points="214.9,414.7 216.5,416.0 218.1,416.4 219.6,416.8 220.9,415.7 222.5,416.2 223.8,414.6 225.1,413.5 225.1,413.5 223.5,412.3 221.9,411.9 220.5,411.9 219.0,411.8 217.5,412.1 216.2,413.2 214.9,414.7" fill="#f0d0e0" stroke="#0a0a0a" stroke-width="2.2" stroke-linejoin="round" />
<polygon points="442.6,315.6 443.4,316.9 444.1,318.6 445.0,319.3 446.0,319.1 447.1,318.6 448.2,317.9 449.3,316.6 449.3,316.6 448.6,315.2 447.8,313.7 446.9,313.4 446.0,313.0 444.9,313.6 443.8,314.5 442.6,315.6" fill="#f0a060" stroke="#0a0a0a" stroke-width="2.2" stroke-linejoin="round" />
<polygon points="176.6,184.7 179.5,186.5 182.5,187.3 185.5,188.0 188.4,188.8 191.5,189.0 194.7,188.5 197.9,187.4 197.9,187.4 195.0,185.5 192.1,183.9 189.1,183.7 186.0,183.5 182.9,183.6 179.8,183.7 176.6,184.7" fill="#e05070" stroke="#0a0a0a" stroke-width="2.2" stroke-linejoin="round" />
<polygon points="607.2,360.3 609.1,361.2 611.0,361.8 613.0,362.0 615.0,362.7 617.0,362.6 619.0,362.4 621.1,361.7 621.1,361.7 619.2,360.7 617.2,360.4 615.2,360.0 613.3,359.5 611.3,359.5 609.2,359.9 607.2,360.3" fill="#f04060" stroke="#0a0a0a" stroke-width="2.2" stroke-linejoin="round" />
<polygon points="782.6,324.0 784.1,325.7 785.5,326.3 786.8,326.5 787.9,325.8 789.3,326.1 790.3,324.3 791.3,322.8 791.3,322.8 789.9,321.5 788.5,321.0 787.2,320.5 785.9,320.3 784.8,321.5 783.6,321.9 782.6,324.0" fill="#f0d0e0" stroke="#0a0a0a" stroke-width="2.2" stroke-linejoin="round" />
<polygon points="543.5,71.4 544.8,72.9 546.1,73.7 547.5,74.3 548.8,75.0 550.3,74.7 551.9,73.8 553.5,72.8 553.5,72.8 552.3,71.0 550.9,70.3 549.6,69.4 548.1,69.8 546.6,69.8 545.2,69.9 543.5,71.4" fill="#f080c0" stroke="#0a0a0a" stroke-width="2.2" stroke-linejoin="round" />
<polygon points="278.4,361.8 279.8,363.0 281.1,363.8 282.2,363.9 283.2,363.0 284.1,362.4 285.2,362.0 285.9,360.2 285.9,360.2 284.5,359.0 283.3,358.5 282.3,359.0 281.0,358.3 280.1,359.5 279.2,360.2 278.4,361.8" fill="#f080c0" stroke="#0a0a0a" stroke-width="2.2" stroke-linejoin="round" />
<polygon points="724.8,288.0 726.3,288.9 727.6,288.6 729.1,289.3 730.4,288.9 731.7,288.6 732.9,287.8 734.1,286.6 734.1,286.6 732.6,285.9 731.3,286.0 729.9,286.0 728.6,286.1 727.2,286.1 726.0,286.9 724.8,288.0" fill="#f0a060" stroke="#0a0a0a" stroke-width="2.2" stroke-linejoin="round" />
<polygon points="726.1,422.0 727.1,423.9 728.1,424.1 729.0,425.5 730.0,425.0 731.0,425.0 732.1,423.9 733.2,422.2 733.2,422.2 732.2,420.1 731.2,419.3 730.2,419.7 729.2,419.7 728.2,419.0 727.2,420.6 726.1,422.0" fill="#a0f040" stroke="#0a0a0a" stroke-width="2.2" stroke-linejoin="round" />
<polygon points="39.4,379.0 40.2,381.1 41.1,382.9 42.7,383.6 44.3,384.2 45.4,385.6 47.6,385.1 49.8,384.7 49.8,384.7 49.0,382.5 48.0,380.9 46.6,379.9 45.1,379.2 43.4,378.6 41.6,378.5 39.4,379.0" fill="#f0d0e0" stroke="#0a0a0a" stroke-width="2.2" stroke-linejoin="round" />
<polygon points="690.2,376.7 692.4,377.3 694.4,377.2 696.4,376.7 698.4,376.5 700.2,375.5 702.2,374.9 703.9,373.6 703.9,373.6 701.8,373.1 699.7,373.1 697.7,373.5 695.8,374.1 693.9,374.8 692.0,375.6 690.2,376.7" fill="#c060e0" stroke="#0a0a0a" stroke-width="2.2" stroke-linejoin="round" />
<polygon points="106.4,103.3 107.8,105.0 109.3,106.3 111.0,106.3 112.6,106.9 114.3,107.2 116.2,106.4 118.1,105.5 118.1,105.5 116.7,103.7 115.1,103.2 113.5,102.2 111.8,102.2 110.1,102.0 108.4,102.0 106.4,103.3" fill="#f0d0e0" stroke="#0a0a0a" stroke-width="2.2" stroke-linejoin="round" />
<polygon points="515.1,318.0 517.6,320.0 520.2,321.4 522.9,322.4 525.8,323.0 528.6,323.6 531.7,323.5 534.7,323.2 534.7,323.2 532.3,321.2 529.5,320.1 526.9,318.8 524.1,318.1 521.1,317.8 518.2,317.6 515.1,318.0" fill="#e05070" stroke="#0a0a0a" stroke-width="2.2" stroke-linejoin="round" />
<polygon points="383.3,55.0 385.9,56.9 388.7,57.5 391.4,59.1 394.3,59.4 397.2,59.4 400.2,59.2 403.2,58.2 403.2,58.2 400.6,56.2 397.8,55.8 395.0,54.6 392.2,53.8 389.3,54.3 386.3,54.2 383.3,55.0" fill="#e05070" stroke="#0a0a0a" stroke-width="2.2" stroke-linejoin="round" />
<polygon points="313.2,291.1 313.9,292.5 314.8,293.3 315.8,294.0 316.6,294.9 318.0,294.4 319.2,294.3 320.6,293.6 320.6,293.6 320.0,291.8 319.1,291.0 318.1,290.4 317.1,290.1 316.1,289.6 314.7,290.0 313.2,291.1" fill="#c060e0" stroke="#0a0a0a" stroke-width="2.2" stroke-linejoin="round" />
<polygon points="812.4,324.2 815.7,325.4 818.8,325.2 821.9,325.3 825.1,325.8 828.0,324.5 830.9,322.9 833.6,320.8 833.6,320.8 830.4,319.8 827.2,319.7 823.9,318.5 821.1,319.9 818.1,320.9 815.1,321.6 812.4,324.2" fill="#e05070" stroke="#0a0a0a" stroke-width="2.2" stroke-linejoin="round" />
<polygon points="66.7,417.2 68.2,418.7 69.5,418.6 70.9,418.9 72.3,418.8 73.7,418.7 74.9,417.8 76.2,416.5 76.2,416.5 74.8,415.5 73.3,414.5 71.9,414.2 70.6,414.6 69.2,414.8 68.0,416.0 66.7,417.2" fill="#c060e0" stroke="#0a0a0a" stroke-width="2.2" stroke-linejoin="round" />
<polygon points="638.6,306.9 640.9,308.0 643.2,309.0 645.6,308.9 647.9,309.1 650.3,309.6 652.7,308.9 655.2,308.4 655.2,308.4 652.9,307.2 650.6,306.5 648.2,306.5 645.8,305.9 643.5,305.7 641.0,306.4 638.6,306.9" fill="#f0d0e0" stroke="#0a0a0a" stroke-width="2.2" stroke-linejoin="round" />
<polygon points="264.2,437.5 265.1,438.9 266.1,439.4 267.1,440.0 268.2,440.0 269.3,439.9 270.4,439.5 271.6,438.5 271.6,438.5 270.7,437.4 269.8,436.4 268.7,436.1 267.7,435.8 266.6,435.8 265.5,436.4 264.2,437.5" fill="#60e0f0" stroke="#0a0a0a" stroke-width="2.2" stroke-linejoin="round" />
<polygon points="580.1,405.6 581.6,407.3 583.2,408.1 584.7,408.7 586.2,409.0 587.7,408.2 589.2,407.2 590.7,405.6 590.7,405.6 589.2,404.1 587.7,403.3 586.2,402.9 584.6,402.7 583.1,403.2 581.6,404.0 580.1,405.6" fill="#80a0f0" stroke="#0a0a0a" stroke-width="2.2" stroke-linejoin="round" />
<polygon points="252.2,198.0 254.9,199.2 257.6,199.4 260.3,200.2 263.1,199.9 265.8,200.2 268.6,199.8 271.3,198.8 271.3,198.8 268.7,197.6 265.9,197.2 263.2,197.1 260.5,196.7 257.7,197.1 255.0,197.1 252.2,198.0" fill="#a0f040" stroke="#0a0a0a" stroke-width="2.2" stroke-linejoin="round" />
<polygon points="823.5,378.1 825.3,379.3 827.1,379.4 828.9,379.8 830.7,380.2 832.4,379.4 834.2,378.9 835.9,377.3 835.9,377.3 834.0,376.1 832.2,376.0 830.4,375.4 828.7,375.7 826.9,375.5 825.2,376.5 823.5,378.1" fill="#40f0c0" stroke="#0a0a0a" stroke-width="2.2" stroke-linejoin="round" />
<polygon points="662.0,403.1 664.5,405.2 667.0,407.3 669.9,408.3 672.8,409.5 675.7,410.3 678.9,410.7 682.3,410.1 682.3,410.1 679.8,407.9 677.1,406.3 674.3,404.9 671.7,403.3 668.6,402.7 665.3,402.8 662.0,403.1" fill="#f0d0e0" stroke="#0a0a0a" stroke-width="2.2" stroke-linejoin="round" />
<polygon points="473.7,42.5 476.2,43.8 478.9,44.8 481.4,46.1 484.2,46.6 486.9,47.1 489.8,47.0 492.7,46.6 492.7,46.6 490.2,45.0 487.5,44.2 484.9,43.1 482.2,42.7 479.4,42.1 476.6,42.1 473.7,42.5" fill="#f0c040" stroke="#0a0a0a" stroke-width="2.2" stroke-linejoin="round" />
<polygon points="357.3,283.6 359.4,284.7 361.6,286.2 363.6,285.5 365.6,285.1 367.6,284.7 369.6,284.0 371.6,282.6 371.6,282.6 369.4,281.1 367.4,281.0 365.2,279.8 363.2,280.0 361.2,280.8 359.3,282.3 357.3,283.6" fill="#a0f040" stroke="#0a0a0a" stroke-width="2.2" stroke-linejoin="round" />
<polygon points="810.0,345.8 811.9,346.1 813.7,346.1 815.5,346.4 817.2,345.7 818.8,345.1 820.4,344.3 822.0,343.2 822.0,343.2 820.0,342.5 818.2,342.4 816.6,343.0 814.8,343.2 813.1,343.4 811.5,344.4 810.0,345.8" fill="#c060e0" stroke="#0a0a0a" stroke-width="2.2" stroke-linejoin="round" />
<polygon points="719.0,431.5 720.8,432.8 722.5,433.5 724.3,433.8 726.1,434.4 728.0,433.9 729.8,433.3 731.7,432.1 731.7,432.1 729.9,430.7 728.2,429.5 726.4,429.6 724.6,429.2 722.7,429.7 720.9,430.5 719.0,431.5" fill="#60e0f0" stroke="#0a0a0a" stroke-width="2.2" stroke-linejoin="round" />
<polygon points="828.7,267.7 830.1,270.0 831.8,271.8 833.7,273.4 835.6,274.7 837.8,275.7 840.5,275.7 843.3,275.5 843.3,275.5 842.0,272.8 840.1,271.3 838.3,269.7 836.2,268.7 833.8,268.1 831.4,267.6 828.7,267.7" fill="#f080c0" stroke="#0a0a0a" stroke-width="2.2" stroke-linejoin="round" />
<polygon points="740.2,444.3 742.3,445.8 743.9,445.6 745.8,446.1 747.4,445.8 748.9,444.6 750.4,443.8 751.7,441.8 751.7,441.8 749.8,441.0 748.0,440.4 746.1,439.8 744.7,441.0 743.0,441.2 741.5,442.3 740.2,444.3" fill="#f0d0e0" stroke="#0a0a0a" stroke-width="2.2" stroke-linejoin="round" />
<polygon points="158.1,394.4 158.7,396.4 159.3,398.0 160.3,397.7 161.2,397.4 162.0,397.9 163.1,397.0 164.3,395.4 164.3,395.4 163.7,393.6 163.0,392.0 162.2,391.3 161.3,391.4 160.4,391.8 159.3,392.5 158.1,394.4" fill="#f080c0" stroke="#0a0a0a" stroke-width="2.2" stroke-linejoin="round" />
<polygon points="374.0,444.5 375.7,447.4 377.8,449.2 380.1,450.6 382.9,450.5 385.1,451.8 388.0,451.4 391.0,450.6 391.0,450.6 389.0,448.5 386.9,446.8 384.5,445.7 382.2,444.6 379.9,443.2 377.0,443.7 374.0,444.5" fill="#f04060" stroke="#0a0a0a" stroke-width="2.2" stroke-linejoin="round" />
<polygon points="77.0,403.7 79.3,404.8 81.5,405.1 83.8,405.3 86.0,406.0 88.3,405.7 90.6,405.3 92.8,403.8 92.8,403.8 90.6,402.6 88.3,401.6 86.1,401.3 83.8,401.6 81.6,401.6 79.3,402.7 77.0,403.7" fill="#f04060" stroke="#0a0a0a" stroke-width="2.2" stroke-linejoin="round" />
<polygon points="559.4,357.4 561.0,358.4 562.7,359.1 564.4,359.1 566.1,359.5 567.8,359.5 569.5,359.5 571.3,358.8 571.3,358.8 569.7,357.8 568.1,356.9 566.3,357.1 564.7,356.4 563.0,356.5 561.2,356.7 559.4,357.4" fill="#80a0f0" stroke="#0a0a0a" stroke-width="2.2" stroke-linejoin="round" />
<polygon points="397.4,347.6 398.9,348.5 400.3,349.2 401.8,350.0 403.3,349.7 404.7,348.9 406.1,348.8 407.5,347.3 407.5,347.3 406.1,346.0 404.6,345.9 403.1,344.9 401.7,344.9 400.3,345.8 398.8,346.1 397.4,347.6" fill="#a0f040" stroke="#0a0a0a" stroke-width="2.2" stroke-linejoin="round" />
<polygon points="678.4,409.5 678.7,410.9 679.3,411.9 679.9,412.8 680.6,413.6 681.8,413.5 683.0,413.3 684.3,413.0 684.3,413.0 684.0,411.6 683.4,410.7 682.6,410.0 682.2,408.8 681.1,408.7 679.7,409.1 678.4,409.5" fill="#f0c040" stroke="#0a0a0a" stroke-width="2.2" stroke-linejoin="round" />
<polyline points="88.4,53.9 93.1,54.6 97.9,53.9 102.0,56.2 106.8,55.4 111.6,55.5 115.6,55.1 119.5,53.9 123.7,55.0 127.7,54.3 132.4,51.1 137.1,50.6 141.3,47.7 146.3,46.9 150.9,46.3 155.5,44.8 160.0,42.3" fill="none" stroke="#0a0a0a" stroke-width="3.1" stroke-linejoin="round" stroke-linecap="round" />
<polyline points="148.3,54.5 152.2,57.1 156.5,57.5 159.7,60.1 164.4,60.0 168.1,59.1 172.0,58.7 175.9,58.5 180.1,58.7 184.2,58.1 188.3,57.7 192.2,55.3 196.7,56.2 201.0,54.5 205.2,52.8 209.6,52.8 213.5,50.8 218.3,52.0 222.0,50.7 226.7,49.2" fill="none" stroke="#0a0a0a" stroke-width="3.1" stroke-linejoin="round" stroke-linecap="round" />
<polyline points="178.3,69.2 182.8,71.1 187.9,70.1 192.3,70.6 197.0,71.8 201.7,71.7 206.0,70.2 210.4,66.7 215.3,67.0 219.5,68.2 224.4,68.0 228.5,70.0 233.3,70.6 238.3,69.7 242.6,69.1 247.3,68.3 251.9,67.4 256.8,66.3 261.0,65.3" fill="none" stroke="#0a0a0a" stroke-width="3.1" stroke-linejoin="round" stroke-linecap="round" />
<polyline points="251.9,75.0 255.8,74.1 260.5,74.5 264.2,73.4 268.1,74.7 271.8,74.8 276.3,73.5 280.4,74.4 284.5,74.2 289.0,75.8 293.0,75.1 298.0,76.8" fill="none" stroke="#0a0a0a" stroke-width="3.1" stroke-linejoin="round" stroke-linecap="round" />
<polyline points="146.2,87.0 150.4,88.2 155.4,90.3 159.9,92.6 163.9,93.8 167.8,93.9 172.2,93.7 176.1,95.8 179.8,95.3 184.3,95.9 187.7,96.9 192.2,96.7 196.2,97.8 201.0,98.6 205.3,98.6 209.2,100.2 214.0,100.4 217.8,100.2 222.4,100.9 227.0,102.9 230.2,100.2 234.5,99.4 238.0,97.6" fill="none" stroke="#0a0a0a" stroke-width="3.1" stroke-linejoin="round" stroke-linecap="round" />
<polyline points="146.3,104.2 149.6,104.7 154.2,105.3 157.8,106.2 161.8,106.9 166.2,107.0 169.4,109.3 174.1,110.1 177.9,109.8 182.4,107.9 186.4,109.1 190.4,108.2 194.2,107.6 198.3,106.7 202.7,107.0 207.0,106.2 211.2,107.4 215.4,107.7 219.5,106.6 222.9,106.5 227.3,105.1 231.9,105.2 235.8,105.7 240.2,103.9 244.1,104.7 248.4,104.1 252.5,102.4 256.8,103.3 260.7,102.8 266.0,102.3 270.6,100.0 275.1,101.3 279.7,100.0" fill="none" stroke="#0a0a0a" stroke-width="3.1" stroke-linejoin="round" stroke-linecap="round" />
<polyline points="44.4,120.1 49.2,120.1 53.9,119.4 58.8,117.8 62.8,117.5 67.5,116.2 72.9,116.8 76.7,114.9 81.5,113.3 86.1,112.3 90.9,109.9 95.2,108.1 99.7,106.9 104.8,105.4 108.9,103.8 113.8,103.6 118.7,101.9 123.4,100.9 127.6,98.9 132.3,97.6" fill="none" stroke="#0a0a0a" stroke-width="3.1" stroke-linejoin="round" stroke-linecap="round" />
<polyline points="100.0,127.9 104.3,127.6 108.6,126.4 113.0,127.1 116.9,126.2 121.6,126.9 126.3,125.5 130.6,126.1 134.4,125.1 138.6,125.6 143.3,125.5 147.8,124.7 152.0,124.2 155.8,124.0 160.0,122.8 164.9,122.3 168.6,122.1 173.9,121.8 177.8,122.8 182.5,122.3 187.6,121.8 192.4,120.8 196.2,118.9 200.2,119.3 204.1,117.8 208.1,118.9 211.5,116.9 215.9,117.4 219.8,116.0" fill="none" stroke="#0a0a0a" stroke-width="3.1" stroke-linejoin="round" stroke-linecap="round" />
<polyline points="30.8,140.6 35.4,141.0 40.4,139.9 44.7,139.3 49.3,138.8 53.6,138.6 59.0,138.0 63.4,137.1 68.0,138.0 72.6,137.1 77.0,137.0 81.6,136.3 85.1,138.0 90.1,137.9 93.9,138.7 97.9,138.1 102.4,139.0" fill="none" stroke="#0a0a0a" stroke-width="3.1" stroke-linejoin="round" stroke-linecap="round" />
<polyline points="83.7,141.5 88.4,140.7 93.4,142.3 97.6,141.8 102.3,142.1 107.1,140.8 111.4,141.2 116.2,142.9 120.5,143.8 125.2,145.7 129.7,147.1 134.1,145.3 138.3,144.9 142.7,143.3 146.5,142.7 151.0,141.1 154.7,140.8 158.2,137.6 162.0,136.7" fill="none" stroke="#0a0a0a" stroke-width="3.1" stroke-linejoin="round" stroke-linecap="round" />
<polyline points="122.8,153.3 127.8,152.7 132.6,149.9 136.6,148.8 141.2,148.7 145.9,148.2 149.5,147.2 153.6,145.3 158.1,143.6 161.6,144.3 166.1,142.9 170.6,143.2 174.4,142.1 179.0,142.0 183.1,141.9 188.0,141.1 192.2,138.7 196.6,138.2 201.1,137.0 206.4,133.5 210.6,133.4 214.7,133.4 218.5,132.5 223.0,132.0 226.9,131.1 231.7,130.2 235.6,127.6 239.8,126.8 244.2,126.2 248.3,123.8 252.6,123.5 256.5,122.8 261.1,119.8 266.0,118.9 270.2,119.2 275.1,118.0 279.8,116.8 284.1,115.3 288.4,115.3 293.4,113.8 297.9,112.2 301.9,111.1 306.9,109.2 311.0,109.0" fill="none" stroke="#0a0a0a" stroke-width="3.1" stroke-linejoin="round" stroke-linecap="round" />
<polyline points="31.0,168.4 35.8,168.2 40.1,167.8 44.8,168.2 49.3,167.8 53.7,166.1 58.2,165.3 63.4,166.2 67.5,164.5 72.3,165.3 77.3,164.8 80.9,162.4 84.6,161.3 88.5,161.0 92.1,159.2 96.4,157.5 100.3,158.3 105.0,156.7 109.2,156.6 113.9,157.0 118.6,155.0 123.0,155.0" fill="none" stroke="#0a0a0a" stroke-width="3.1" stroke-linejoin="round" stroke-linecap="round" />
<polyline points="31.3,192.0 35.7,191.6 39.8,190.8 44.9,189.2 49.4,188.2 53.7,187.5 57.4,186.3 61.8,185.0 65.6,185.0 69.7,182.0 73.4,181.9 76.6,180.2 80.9,179.3 85.3,180.9 89.2,180.5 93.6,178.6 97.9,179.3 102.0,179.3 106.0,178.2 110.2,179.2 114.3,177.9 117.2,175.0 119.7,171.0 122.6,168.3 127.3,168.4 132.4,167.9 136.8,167.5 141.3,166.5 146.4,165.8 150.5,166.3 155.6,164.6 159.9,164.4 164.7,165.3 168.8,166.8 174.0,168.2 177.4,166.5 180.8,164.6 184.6,162.7 187.9,160.7 191.7,159.7 195.4,156.7 199.6,155.7 203.7,153.0 207.2,151.8 210.8,151.1 214.8,147.3 218.8,146.3 222.8,145.6 226.2,143.8 230.5,143.1 234.4,142.4 238.4,140.9 241.6,139.2 245.9,138.5 249.4,135.8 253.5,136.1 257.2,132.5 260.6,131.1 264.6,129.8 268.4,130.1 273.0,127.9 277.0,127.4 280.7,127.3 284.7,124.2 288.6,124.3 293.6,122.0 297.5,122.5 301.8,120.4 306.4,119.8 311.0,118.3" fill="none" stroke="#0a0a0a" stroke-width="3.1" stroke-linejoin="round" stroke-linecap="round" />
<polyline points="118.9,189.0 122.7,193.0 126.8,195.5 130.9,197.9 134.5,200.4 138.7,202.5 142.1,203.4 146.3,205.9 150.1,207.0 153.8,208.1 157.8,209.4 161.4,212.1 165.5,211.8 168.9,214.6 173.1,215.8 177.2,216.0 180.7,217.3" fill="none" stroke="#0a0a0a" stroke-width="3.1" stroke-linejoin="round" stroke-linecap="round" />
<polyline points="192.3,157.9 195.9,158.8 199.8,160.6 204.6,161.7 208.4,163.4 212.1,166.2 216.5,166.4 220.6,169.2 225.2,169.4 229.1,173.0 233.4,173.6 237.2,176.0 241.1,177.9 244.7,178.4 248.0,180.0 252.3,181.9 255.7,185.2 260.1,186.4 264.1,186.9 268.4,189.0 272.9,190.0 277.3,191.3 281.2,191.5 285.5,191.1 290.1,193.0 294.3,192.9 298.3,194.2 302.7,194.1 306.6,195.8 311.0,196.6" fill="none" stroke="#0a0a0a" stroke-width="3.1" stroke-linejoin="round" stroke-linecap="round" />
<polyline points="249.3,169.1 254.5,168.8 259.1,169.2 263.3,168.7 268.6,168.6 272.7,168.1 276.4,169.8 280.8,172.5 284.6,174.6 288.2,175.9 292.0,176.3 296.2,178.9 300.0,180.3 303.6,182.5 307.6,186.0 311.0,187.4" fill="none" stroke="#0a0a0a" stroke-width="3.1" stroke-linejoin="round" stroke-linecap="round" />
<polyline points="88.4,232.0 92.6,229.1 97.3,228.6 101.4,228.4 105.3,227.7 109.8,226.0 114.1,225.7 118.5,224.2" fill="none" stroke="#0a0a0a" stroke-width="3.1" stroke-linejoin="round" stroke-linecap="round" />
<polyline points="192.2,237.5 196.3,239.1 201.3,240.1 205.7,243.2 210.8,242.5 215.6,241.1 219.7,238.4 224.4,238.0" fill="none" stroke="#0a0a0a" stroke-width="3.1" stroke-linejoin="round" stroke-linecap="round" />
<polyline points="249.5,224.1 253.6,226.6 257.3,229.6 261.1,231.0 265.4,234.1 268.8,235.1 273.1,236.9 277.1,239.0 282.0,239.1 286.2,240.1 291.4,241.6 295.8,242.6" fill="none" stroke="#0a0a0a" stroke-width="3.1" stroke-linejoin="round" stroke-linecap="round" />
<polyline points="31.4,222.6 35.3,222.5 38.4,223.9 42.4,226.1 45.9,228.1 49.8,229.1 53.8,231.7 57.8,232.4 61.3,234.7 65.6,237.2 69.7,239.4 72.9,239.9 77.0,242.6" fill="none" stroke="#0a0a0a" stroke-width="3.1" stroke-linejoin="round" stroke-linecap="round" />
<polyline points="293.7,89.0 298.0,91.4 302.5,92.5 306.7,94.2 307.9,100.3 309.0,103.5 309.5,108.7 310.5,112.1 311.0,116.0" fill="none" stroke="#0a0a0a" stroke-width="3.1" stroke-linejoin="round" stroke-linecap="round" />
<polyline points="242.7,53.8 244.8,57.7 247.6,64.1 252.0,61.3 256.3,59.8 261.0,58.4" fill="none" stroke="#0a0a0a" stroke-width="3.1" stroke-linejoin="round" stroke-linecap="round" />
<polyline points="91.3,78.9 95.9,77.2 99.8,77.0 105.7,78.8 111.9,79.9 114.8,75.0 117.8,73.1 120.8,69.5 125.6,68.9 129.7,66.4 134.6,64.0" fill="none" stroke="#0a0a0a" stroke-width="3.1" stroke-linejoin="round" stroke-linecap="round" />
<polyline points="57.4,102.0 63.0,104.8 67.9,104.9 72.8,103.7 76.9,104.0 80.7,100.1 85.1,98.9 88.4,95.1 92.2,92.6 96.0,92.5 100.0,89.5" fill="none" stroke="#0a0a0a" stroke-width="3.1" stroke-linejoin="round" stroke-linecap="round" />
<polyline points="47.6,124.4 52.1,123.0 56.8,123.3 61.4,122.0 65.8,119.5 69.8,120.8 74.1,118.6 79.0,117.8 83.0,116.1 86.7,117.0 90.6,115.7 96.4,115.3 102.6,114.0 106.2,111.8 110.9,111.1 114.5,111.6 119.2,108.9 123.0,109.0" fill="none" stroke="#0a0a0a" stroke-width="3.1" stroke-linejoin="round" stroke-linecap="round" />
<polyline points="132.4,105.7 136.6,103.5 141.2,104.3 145.8,101.2 149.6,98.9 153.6,98.4 157.2,94.6 162.5,94.9 167.0,91.7 171.0,90.7" fill="none" stroke="#0a0a0a" stroke-width="3.1" stroke-linejoin="round" stroke-linecap="round" />
<polyline points="59.7,144.6 64.4,143.3 68.8,141.1 73.5,142.0 78.4,140.9 82.8,140.1 87.1,140.3 91.9,139.9 96.0,141.7 100.6,140.3 104.7,141.3" fill="none" stroke="#0a0a0a" stroke-width="3.1" stroke-linejoin="round" stroke-linecap="round" />
<polyline points="54.4,245.3 57.5,245.6 61.4,246.7 65.9,249.0 69.7,249.9 72.7,253.1 77.3,254.9 81.0,255.4 84.9,256.0 88.5,258.3 92.0,260.2 96.0,261.5 99.9,262.6 103.7,264.8 108.1,267.0 111.8,268.3 115.1,270.2 119.0,269.8 123.0,272.7 126.9,274.8 130.8,277.8 135.0,279.1 139.0,282.2 143.5,282.0 147.1,282.8 150.8,283.0 155.3,283.7" fill="none" stroke="#0a0a0a" stroke-width="3.1" stroke-linejoin="round" stroke-linecap="round" />
<polyline points="84.3,240.6 87.4,241.9 91.6,243.4 95.4,242.9 99.4,245.5 103.1,246.6 107.2,246.7 111.0,248.5 115.3,249.7 119.8,252.3 123.9,252.2 127.8,254.2 132.4,255.2 135.6,257.9 139.5,259.6 143.4,263.9 147.1,265.8 151.0,268.3 154.2,271.3 157.1,274.4 160.0,279.0" fill="none" stroke="#0a0a0a" stroke-width="3.1" stroke-linejoin="round" stroke-linecap="round" />
<polyline points="160.3,281.1 164.6,283.8 169.0,283.8 174.1,286.2 177.1,286.8 180.9,288.6 185.0,290.9 188.2,293.2 192.0,295.2 195.9,297.6 199.6,298.2 203.9,301.5 207.0,302.8 211.4,306.0 214.6,305.7 219.6,308.4 224.6,311.0 228.8,311.8 233.7,314.5 237.3,314.4 241.1,316.0 244.9,317.6 249.3,317.8 252.8,318.0 257.1,320.4 261.0,320.1 265.2,323.2 268.5,324.5 272.0,328.3 275.6,329.8 279.8,331.7 283.8,334.9 287.8,336.5 291.2,337.0 295.3,339.6 299.0,342.8 302.9,344.7 307.5,345.2 311.0,348.0" fill="none" stroke="#0a0a0a" stroke-width="3.1" stroke-linejoin="round" stroke-linecap="round" />
<polyline points="160.4,283.5 161.2,287.6 162.6,293.0 164.4,298.4 166.3,300.4 167.4,305.0 168.7,308.5 173.4,310.6 178.2,310.5 182.7,312.4 187.7,313.1 192.4,314.2 197.0,316.2 201.1,317.7 205.9,318.4 210.3,319.7 214.4,319.6 218.9,322.5 222.9,323.1 226.9,324.9 231.3,325.2" fill="none" stroke="#0a0a0a" stroke-width="3.1" stroke-linejoin="round" stroke-linecap="round" />
<polyline points="201.6,253.2 206.2,256.4 210.3,258.0 215.0,257.7 219.1,255.0 223.0,252.5 226.4,249.3 229.3,244.6 231.3,240.0" fill="none" stroke="#0a0a0a" stroke-width="3.1" stroke-linejoin="round" stroke-linecap="round" />
<polyline points="219.8,284.5 224.3,284.3 229.0,285.6 233.2,284.5 238.2,286.1 241.0,290.0 244.6,292.3 247.8,296.0 252.2,296.4 256.0,298.8 261.2,299.7 265.7,298.9 270.3,298.0 275.2,298.1 279.4,299.3 284.1,300.5 288.6,298.2 293.2,296.7 298.0,295.3" fill="none" stroke="#0a0a0a" stroke-width="3.1" stroke-linejoin="round" stroke-linecap="round" />
<polyline points="31.1,303.6 35.2,305.2 39.9,306.0 44.5,305.9 49.4,307.7 54.3,306.8 58.5,305.8 62.2,309.5 66.6,312.1 70.4,315.9 71.1,321.2 72.8,326.8 76.3,329.0 79.9,329.9 84.4,332.6 88.2,332.9 91.6,332.4 96.2,331.4 100.0,333.0 103.7,335.7 107.4,338.6 111.4,341.3 115.5,341.5 119.9,340.2 123.8,339.4 128.0,338.5 131.5,340.7 135.1,341.1 139.0,343.6" fill="none" stroke="#0a0a0a" stroke-width="3.1" stroke-linejoin="round" stroke-linecap="round" />
<polyline points="30.7,320.9 35.3,324.6 40.2,328.5 45.1,329.1 49.3,328.7 54.0,331.4 59.0,331.3 61.4,336.9 64.9,339.7 68.0,342.8 72.4,347.4 77.1,349.8 82.5,351.9 88.9,352.0 92.0,350.3 96.5,349.5 100.0,349.3 104.7,351.1 109.3,355.0" fill="none" stroke="#0a0a0a" stroke-width="3.1" stroke-linejoin="round" stroke-linecap="round" />
<polyline points="31.2,358.6 35.4,359.6 39.9,357.5 44.8,357.6 49.8,356.5 54.3,359.5 58.9,361.9 63.3,362.2 67.6,363.0 72.7,363.4 76.8,364.1 81.3,361.6 86.3,359.7" fill="none" stroke="#0a0a0a" stroke-width="3.1" stroke-linejoin="round" stroke-linecap="round" />
<polyline points="31.1,378.1 35.7,377.5 39.8,377.0 44.7,377.3 49.5,377.5 54.2,378.2 58.7,377.6 63.2,376.0 67.6,374.3 72.7,374.4 76.6,374.4 81.7,371.5 86.3,369.0" fill="none" stroke="#0a0a0a" stroke-width="3.1" stroke-linejoin="round" stroke-linecap="round" />
<polyline points="88.5,377.2 93.1,378.5 96.5,381.5 100.3,381.6 104.7,382.2 109.6,383.2 113.4,383.8 118.0,384.9 123.3,385.9 127.2,384.5 132.0,383.1 136.6,381.9 141.1,381.7 145.6,381.5 150.3,380.7 155.1,377.9 160.2,378.1 164.8,379.6 169.3,380.3 174.0,382.8 178.8,381.7 182.5,383.2 187.8,382.6 192.2,382.9 196.5,381.8 201.3,379.8 205.6,380.4 210.2,378.9 214.8,377.7 219.2,380.9 223.6,382.6 227.0,384.7 230.9,386.8 235.6,387.3 239.6,386.0 243.7,385.7 248.3,385.5 252.9,385.8 256.6,385.2 260.6,385.5 265.1,383.5 269.0,382.2 272.4,380.9 276.3,380.6 280.5,379.7 284.0,378.6 288.7,377.4 293.2,377.1 297.4,376.7 302.2,377.0 306.9,375.5 311.0,375.8" fill="none" stroke="#0a0a0a" stroke-width="3.1" stroke-linejoin="round" stroke-linecap="round" />
<polyline points="261.3,397.3 258.2,400.7 254.7,403.3 252.4,405.0 255.1,409.9 257.8,412.7 261.4,414.9 265.3,413.9 270.6,413.9 274.8,413.5 280.0,412.6 283.9,413.7 288.6,411.3 293.6,409.9 297.3,410.1 301.9,407.5 306.9,406.4 311.0,405.8" fill="none" stroke="#0a0a0a" stroke-width="3.1" stroke-linejoin="round" stroke-linecap="round" />
<polyline points="284.7,389.3 288.6,388.7 293.2,389.1 297.6,388.6 301.9,388.9 306.9,388.3 311.0,387.4" fill="none" stroke="#0a0a0a" stroke-width="3.1" stroke-linejoin="round" stroke-linecap="round" />
<polyline points="252.3,421.1 256.4,421.3 260.9,423.0 266.2,422.9 270.5,421.2 274.9,421.0 280.0,422.2 284.1,424.4 289.0,424.2" fill="none" stroke="#0a0a0a" stroke-width="3.1" stroke-linejoin="round" stroke-linecap="round" />
<polyline points="295.5,349.1 296.8,352.6 297.8,357.1 299.2,359.9 300.5,364.5 305.5,362.3 311.0,362.0" fill="none" stroke="#0a0a0a" stroke-width="3.1" stroke-linejoin="round" stroke-linecap="round" />
<polyline points="72.5,439.3 77.3,440.3 81.3,440.7 85.9,441.0 90.8,441.6 95.3,441.8 100.0,443.2 104.1,443.2 108.3,441.8 112.3,443.4 116.7,442.3 120.9,443.4 125.0,442.3 129.2,441.5 133.5,442.6 137.6,442.5 141.8,443.1 145.7,443.7 149.8,443.2 154.1,442.8 158.3,441.0 162.8,442.5 167.2,442.4 171.5,440.4 175.2,440.3 179.7,440.8 183.9,441.4 188.3,440.9 192.0,440.3" fill="none" stroke="#0a0a0a" stroke-width="3.1" stroke-linejoin="round" stroke-linecap="round" />
<polyline points="341.7,53.9 345.7,54.1 350.3,51.7 355.6,51.6 360.1,50.5 364.3,51.4 368.7,50.4 374.1,49.1 378.5,49.7 383.0,48.3 387.6,45.1 392.0,44.6" fill="none" stroke="#0a0a0a" stroke-width="3.1" stroke-linejoin="round" stroke-linecap="round" />
<polyline points="350.3,63.1 355.2,62.4 359.1,62.2 363.6,62.9 367.6,63.4 371.4,63.5 376.3,63.8 379.9,62.0 384.0,63.0 388.4,61.4 392.6,61.6 396.7,60.7" fill="none" stroke="#0a0a0a" stroke-width="3.1" stroke-linejoin="round" stroke-linecap="round" />
<polyline points="387.3,83.3 392.3,82.0 396.5,78.2 401.7,77.3 404.4,73.9 407.8,71.3 410.3,67.9 413.4,66.3 416.5,64.4 419.8,60.6 425.6,59.8 431.3,58.4 437.0,57.2 443.1,55.3 447.7,54.4 452.3,52.8 456.6,52.5 461.4,50.8 464.8,49.2 468.9,48.7 472.3,46.3 475.0,40.0" fill="none" stroke="#0a0a0a" stroke-width="3.1" stroke-linejoin="round" stroke-linecap="round" />
<polyline points="299.7,123.9 303.8,121.1 307.5,119.4 311.8,117.5 314.9,115.1 319.2,112.3 323.3,111.0 327.4,110.8 332.3,109.6 337.1,108.7 341.3,106.8 346.0,106.5 350.6,106.9 354.8,106.7 359.5,107.2 364.7,108.7 368.8,109.5 373.7,106.3 378.5,105.0 383.3,103.1 387.3,101.6 392.4,101.2 396.8,98.0 401.3,97.5 405.6,96.2 410.9,94.7 415.3,92.5 420.1,90.2 424.1,90.4 428.6,92.5 433.1,93.0 437.9,93.8 442.9,94.2 447.6,93.5 451.8,95.0 455.8,94.1 460.0,92.7 463.9,91.1 467.2,89.1 471.4,88.2 474.9,85.7 479.2,84.0 483.6,82.1 487.6,81.8 491.3,80.6 495.7,80.0 499.9,77.7 503.7,76.8 506.9,75.2 512.1,75.1 516.7,73.3 520.8,73.5 525.4,73.2 530.4,72.9 534.8,71.3 539.9,71.7 544.0,71.0 548.6,70.8 553.3,69.5 558.2,70.4 562.4,68.7 566.4,69.3 571.4,68.7 575.3,68.5 580.0,67.6" fill="none" stroke="#0a0a0a" stroke-width="3.1" stroke-linejoin="round" stroke-linecap="round" />
<polyline points="479.6,44.3 482.0,49.1 484.3,54.4 488.6,53.5 492.3,55.9 496.4,55.6 500.6,55.0 505.2,55.1 509.6,53.3 514.2,51.8 518.7,51.0 522.9,50.7 526.4,49.1 530.3,47.0" fill="none" stroke="#0a0a0a" stroke-width="3.1" stroke-linejoin="round" stroke-linecap="round" />
<polyline points="345.9,90.8 350.4,90.7 355.6,89.7 359.6,89.1 364.1,89.3 369.1,89.0 373.6,91.6 378.3,95.3" fill="none" stroke="#0a0a0a" stroke-width="3.1" stroke-linejoin="round" stroke-linecap="round" />
<polyline points="300.1,90.3 303.8,95.0 307.3,99.8 310.4,102.5 314.2,102.5 318.6,103.7 322.3,106.8 326.2,107.2 330.2,109.7 335.8,108.2 341.4,106.8" fill="none" stroke="#0a0a0a" stroke-width="3.1" stroke-linejoin="round" stroke-linecap="round" />
<polyline points="322.8,120.4 328.0,122.1 331.8,120.9 336.6,122.7 341.1,121.8 346.2,122.3 351.0,121.7 355.6,121.4 359.6,120.1 364.5,118.3" fill="none" stroke="#0a0a0a" stroke-width="3.1" stroke-linejoin="round" stroke-linecap="round" />
<polyline points="299.9,131.4 304.2,131.3 309.3,129.3 314.1,128.0 318.4,126.6 322.3,130.6 326.5,131.3 330.2,134.7 334.3,137.6 339.9,137.5 346.0,136.7" fill="none" stroke="#0a0a0a" stroke-width="3.1" stroke-linejoin="round" stroke-linecap="round" />
<polyline points="378.4,130.5 382.7,131.2 387.1,134.7 391.6,135.8 396.3,138.7 400.4,139.7 404.2,141.0 408.4,141.4 413.9,141.4 419.7,143.6" fill="none" stroke="#0a0a0a" stroke-width="3.1" stroke-linejoin="round" stroke-linecap="round" />
<polyline points="423.9,103.9 428.8,105.2 433.8,107.7 438.2,109.9 440.2,113.3 442.8,116.0" fill="none" stroke="#0a0a0a" stroke-width="3.1" stroke-linejoin="round" stroke-linecap="round" />
<polyline points="429.4,120.1 433.3,122.1 438.5,122.9 442.7,123.2 442.5,126.9 442.8,132.0" fill="none" stroke="#0a0a0a" stroke-width="3.1" stroke-linejoin="round" stroke-linecap="round" />
<polyline points="495.6,123.5 501.1,122.7 506.8,121.6 511.6,122.5 516.7,124.0 518.7,126.8 520.8,130.5 516.1,131.4 511.9,130.3 507.2,132.0" fill="none" stroke="#0a0a0a" stroke-width="3.1" stroke-linejoin="round" stroke-linecap="round" />
<polyline points="530.7,117.9 534.5,119.3 539.0,121.0 544.2,124.1 548.2,125.5 552.4,126.9 556.0,127.6 559.9,129.9 564.0,129.2 568.1,127.7 572.3,126.6 576.3,125.2" fill="none" stroke="#0a0a0a" stroke-width="3.1" stroke-linejoin="round" stroke-linecap="round" />
<polyline points="483.9,150.0 488.2,151.4 492.0,154.5 495.6,156.0 499.3,158.3 502.6,160.3 498.0,164.3" fill="none" stroke="#0a0a0a" stroke-width="3.1" stroke-linejoin="round" stroke-linecap="round" />
<polyline points="542.0,145.3 545.6,147.7 549.4,149.4 553.7,151.1 559.3,148.6 565.0,148.5 569.0,150.0 572.1,155.0 576.1,157.3 580.0,159.7" fill="none" stroke="#0a0a0a" stroke-width="3.1" stroke-linejoin="round" stroke-linecap="round" />
<polyline points="447.1,159.8 451.9,158.9 457.4,157.6 459.8,161.3 462.2,166.2 456.2,171.8 452.1,169.5 449.0,166.0" fill="none" stroke="#0a0a0a" stroke-width="3.1" stroke-linejoin="round" stroke-linecap="round" />
<polyline points="422.1,145.5 425.8,146.6 429.4,149.7 433.7,151.3 437.8,151.1 442.7,153.5 447.4,155.0" fill="none" stroke="#0a0a0a" stroke-width="3.1" stroke-linejoin="round" stroke-linecap="round" />
<polyline points="313.2,171.6 317.7,170.7 321.8,169.6 325.4,171.5 329.2,172.5 333.2,175.8 337.1,177.7 340.4,181.6 342.7,182.9 346.0,187.0" fill="none" stroke="#0a0a0a" stroke-width="3.1" stroke-linejoin="round" stroke-linecap="round" />
<polyline points="300.4,187.2 304.3,188.2 309.4,189.8 313.8,192.0" fill="none" stroke="#0a0a0a" stroke-width="3.1" stroke-linejoin="round" stroke-linecap="round" />
<polyline points="341.3,210.8 345.3,211.3 349.9,212.2 353.7,212.4 357.4,213.0 362.3,214.6 366.8,216.7 371.1,218.3 376.4,218.6 379.8,221.8 383.6,222.6 388.1,222.1 392.1,223.1 396.9,224.3 401.6,226.2 405.6,225.7 410.2,227.1 414.8,226.1 419.4,228.4 424.2,227.8 429.0,228.9 433.1,231.2 437.1,231.5 441.7,232.4 445.3,235.1 449.5,236.6 453.8,237.0 457.2,237.9 461.2,240.3" fill="none" stroke="#0a0a0a" stroke-width="3.1" stroke-linejoin="round" stroke-linecap="round" />
<polyline points="300.3,212.6 304.5,214.3 309.0,218.1 313.5,219.7 316.8,222.5 319.6,225.1 322.2,228.9 325.3,231.0" fill="none" stroke="#0a0a0a" stroke-width="3.1" stroke-linejoin="round" stroke-linecap="round" />
<polyline points="461.5,210.5 465.6,210.2 470.1,207.4 475.1,207.7 479.7,204.9 484.6,203.9 488.7,204.6 493.7,202.9 498.0,201.2" fill="none" stroke="#0a0a0a" stroke-width="3.1" stroke-linejoin="round" stroke-linecap="round" />
<polyline points="520.6,215.8 525.1,215.3 529.6,218.7 533.1,219.1 538.0,220.2 541.6,222.6 545.6,220.8 549.8,218.1 553.5,214.3 557.9,215.9 562.2,216.7 566.5,216.6 571.5,217.8 575.2,219.9 580.0,219.6" fill="none" stroke="#0a0a0a" stroke-width="3.1" stroke-linejoin="round" stroke-linecap="round" />
<polyline points="472.7,236.1 476.4,237.2 480.2,241.0 484.2,242.6" fill="none" stroke="#0a0a0a" stroke-width="3.1" stroke-linejoin="round" stroke-linecap="round" />
<polyline points="299.8,309.9 304.4,310.7 308.9,310.5 313.5,310.6 317.3,313.4 320.7,315.4 324.0,317.9 328.0,319.7 331.2,323.2 335.0,323.7 339.1,325.3 342.0,326.9 345.9,330.6 350.5,330.9 355.6,331.9 360.0,334.4" fill="none" stroke="#0a0a0a" stroke-width="3.1" stroke-linejoin="round" stroke-linecap="round" />
<polyline points="359.6,334.8 363.6,332.2 367.7,330.0 372.3,327.4 375.8,325.5 380.2,323.1 383.8,322.6 388.0,321.3 392.1,320.1 397.0,319.5 401.1,318.1 406.0,318.3" fill="none" stroke="#0a0a0a" stroke-width="3.1" stroke-linejoin="round" stroke-linecap="round" />
<polyline points="299.7,345.4 304.9,347.3 309.1,350.0 314.2,351.1 316.6,353.2 319.9,356.1 322.9,359.1 326.6,358.7 330.8,356.4 334.5,355.2 340.4,354.0 346.0,355.0" fill="none" stroke="#0a0a0a" stroke-width="3.1" stroke-linejoin="round" stroke-linecap="round" />
<polyline points="327.9,336.6 332.1,340.0 337.0,341.0 341.0,343.5 346.0,346.0" fill="none" stroke="#0a0a0a" stroke-width="3.1" stroke-linejoin="round" stroke-linecap="round" />
<polyline points="410.4,313.4 414.7,312.3 419.5,311.1 424.3,308.5 429.2,307.4 433.1,305.5 437.6,304.3 442.1,307.8 445.6,308.3 448.9,310.7 452.8,314.0 456.2,316.0 460.3,319.4 464.5,321.9 468.1,324.7 466.9,331.2 465.4,336.7 461.2,338.3 456.4,342.0 451.9,341.8 447.4,343.6" fill="none" stroke="#0a0a0a" stroke-width="3.1" stroke-linejoin="round" stroke-linecap="round" />
<polyline points="437.8,343.6 439.5,347.1 441.0,350.6 442.8,355.2 447.0,359.9 442.8,364.3" fill="none" stroke="#0a0a0a" stroke-width="3.1" stroke-linejoin="round" stroke-linecap="round" />
<polyline points="467.8,310.1 472.4,307.6 476.3,307.6 479.8,308.2 484.6,307.4 488.9,309.0 493.4,309.4 493.4,316.0" fill="none" stroke="#0a0a0a" stroke-width="3.1" stroke-linejoin="round" stroke-linecap="round" />
<polyline points="482.1,330.6 486.9,328.6 490.9,328.4 495.8,327.2 499.9,329.8 503.5,330.6 507.4,331.3 511.3,329.7 515.2,329.3 518.7,327.5" fill="none" stroke="#0a0a0a" stroke-width="3.1" stroke-linejoin="round" stroke-linecap="round" />
<polyline points="497.8,340.6 502.7,344.7 507.4,347.3 512.2,347.6 516.4,347.8 521.2,346.8 525.5,346.4 529.9,345.5 535.2,343.6 539.1,343.6 544.0,341.3" fill="none" stroke="#0a0a0a" stroke-width="3.1" stroke-linejoin="round" stroke-linecap="round" />
<polyline points="410.4,378.1 415.2,377.4 419.6,376.3 423.9,375.4 428.8,373.8 433.0,373.1 437.2,371.9 441.3,371.5 445.8,369.2 449.9,370.0 455.2,367.1 461.6,367.6 465.5,370.7 470.8,373.0 475.2,371.6 479.9,370.5 484.2,368.2 488.9,368.5 493.2,366.1 497.6,365.7 503.0,365.8 507.5,364.8 511.5,363.1 516.8,363.2 521.5,362.2 525.9,361.2 530.7,359.5 534.5,358.3 539.1,357.3 544.2,356.4 548.5,355.0 553.2,355.0 557.8,356.8 561.8,356.0 566.3,358.3 571.2,358.5 575.8,357.8 580.0,359.7" fill="none" stroke="#0a0a0a" stroke-width="3.1" stroke-linejoin="round" stroke-linecap="round" />
<polyline points="470.8,377.6 474.7,378.2 479.0,378.4 482.9,378.7 487.5,379.6 491.2,379.8 495.8,380.2 500.0,380.1 504.3,378.8 508.2,377.8 513.0,375.9 516.4,373.8 521.2,374.3 525.4,373.1 529.4,371.7 533.6,373.2 537.4,371.9 542.1,371.5 546.3,370.2 551.2,371.3 555.9,369.7 560.4,370.1 564.7,369.6 569.8,368.3 574.5,369.5 580.0,369.0" fill="none" stroke="#0a0a0a" stroke-width="3.1" stroke-linejoin="round" stroke-linecap="round" />
<polyline points="410.7,381.8 412.4,387.0 414.7,392.5 419.4,392.2 424.4,391.7 429.3,391.9 433.6,393.9 438.1,394.4 443.2,397.2 447.4,397.7 452.1,398.4 456.2,400.1 461.6,400.3 466.2,402.5 470.8,404.9 474.8,405.2 478.8,409.2 482.2,410.6 485.4,413.3 489.1,415.7 493.2,417.3 498.4,418.2 502.2,418.9 506.4,421.3 510.3,423.6 513.8,424.4 517.3,427.4 521.4,429.7 523.9,431.9 527.6,434.0 530.3,438.0" fill="none" stroke="#0a0a0a" stroke-width="3.1" stroke-linejoin="round" stroke-linecap="round" />
<polyline points="447.0,398.2 451.1,402.0 454.5,406.5 458.0,408.2 461.4,413.4 464.8,415.8 468.4,417.6 471.9,419.8 474.7,421.5 480.0,425.0 484.2,429.6 489.0,431.7 493.4,433.4 497.6,435.0 502.3,439.2 507.2,441.7 511.9,444.2 516.3,446.5 521.0,450.0" fill="none" stroke="#0a0a0a" stroke-width="3.1" stroke-linejoin="round" stroke-linecap="round" />
<polyline points="511.8,400.4 516.8,400.3 521.3,399.9 525.5,400.2 530.1,398.9 535.0,400.6 539.7,399.1 544.1,401.6 549.0,400.9 552.4,400.1 557.0,399.3 561.1,399.0 565.0,399.3 569.6,398.2 575.0,396.9 580.0,396.6" fill="none" stroke="#0a0a0a" stroke-width="3.1" stroke-linejoin="round" stroke-linecap="round" />
<polyline points="521.0,419.9 526.0,419.7 530.0,420.8 535.0,421.4 539.9,421.3 544.1,420.4 548.4,418.8 553.3,417.0 558.0,418.0 562.6,415.9 566.5,417.1 570.7,414.9 575.2,416.4 580.0,415.0" fill="none" stroke="#0a0a0a" stroke-width="3.1" stroke-linejoin="round" stroke-linecap="round" />
<polyline points="318.4,428.7 322.1,428.5 326.9,426.9 330.8,425.5 334.3,423.5 338.9,423.0 343.6,422.3 348.0,423.8 353.3,423.1 357.5,421.9 362.2,423.1 366.6,422.9 371.4,424.1 375.9,422.7 380.6,424.2" fill="none" stroke="#0a0a0a" stroke-width="3.1" stroke-linejoin="round" stroke-linecap="round" />
<polyline points="318.3,434.2 322.1,434.3 326.1,434.0 330.6,434.3 334.5,435.9 339.0,435.8 344.0,434.3 348.6,434.9 353.1,434.1 357.7,433.9 362.0,433.6 366.3,435.2 370.4,436.2 374.5,436.1 379.0,436.9 383.0,437.7 387.2,438.1 392.1,439.6 397.1,441.4 401.1,442.4 406.0,442.6" fill="none" stroke="#0a0a0a" stroke-width="3.1" stroke-linejoin="round" stroke-linecap="round" />
<polyline points="300.0,405.8 304.2,406.6 309.0,405.3 313.6,405.2 318.2,405.3 322.5,404.3 326.7,404.5 330.9,402.1 334.5,401.2" fill="none" stroke="#0a0a0a" stroke-width="3.1" stroke-linejoin="round" stroke-linecap="round" />
<polyline points="300.2,385.5 304.8,381.3 308.9,378.6 313.9,379.3 318.5,380.2 323.0,382.8" fill="none" stroke="#0a0a0a" stroke-width="3.1" stroke-linejoin="round" stroke-linecap="round" />
<polyline points="360.2,383.7 365.0,383.1 369.3,385.7 373.4,386.5 378.0,386.8 381.3,389.2 385.5,392.2 388.8,395.3 392.0,396.6" fill="none" stroke="#0a0a0a" stroke-width="3.1" stroke-linejoin="round" stroke-linecap="round" />
<polyline points="391.7,415.8 396.9,415.3 401.1,414.3 405.7,414.7 410.2,415.4 415.1,414.5 419.4,416.5 424.5,418.4 429.0,419.6" fill="none" stroke="#0a0a0a" stroke-width="3.1" stroke-linejoin="round" stroke-linecap="round" />
<polyline points="429.1,429.7 433.8,428.7 438.4,429.2 442.7,428.1 447.3,429.3 452.2,429.9 456.6,430.9 461.2,433.4" fill="none" stroke="#0a0a0a" stroke-width="3.1" stroke-linejoin="round" stroke-linecap="round" />
<polyline points="553.4,295.2 557.4,297.7 560.6,299.5 564.5,301.0 570.3,298.6 574.7,297.6 580.0,297.6" fill="none" stroke="#0a0a0a" stroke-width="3.1" stroke-linejoin="round" stroke-linecap="round" />
<polyline points="526.0,295.9 530.1,295.4 533.6,294.8 537.6,293.2 541.7,293.4 545.5,294.7 549.5,296.7 553.3,297.6" fill="none" stroke="#0a0a0a" stroke-width="3.1" stroke-linejoin="round" stroke-linecap="round" />
<polyline points="313.8,283.5 318.4,284.8 323.2,285.1 326.5,283.5 330.6,283.7 334.6,281.7 338.9,281.5 342.4,279.6 346.6,279.0 350.7,278.1 355.1,281.1 359.7,281.4 364.7,283.0 369.5,287.4 373.7,290.7" fill="none" stroke="#0a0a0a" stroke-width="3.1" stroke-linejoin="round" stroke-linecap="round" />
<polyline points="420.0,267.7 424.3,269.4 428.6,273.2 433.4,270.5 438.6,270.8 442.9,270.9 447.6,271.7 451.8,274.9 456.6,276.8" fill="none" stroke="#0a0a0a" stroke-width="3.1" stroke-linejoin="round" stroke-linecap="round" />
<polyline points="456.8,276.2 461.0,278.0 465.4,279.8 470.5,279.5 475.1,281.6 479.2,282.4 484.5,283.6 489.0,284.3 493.8,286.4 498.1,286.1 502.5,287.3 507.1,288.8 511.8,290.7" fill="none" stroke="#0a0a0a" stroke-width="3.1" stroke-linejoin="round" stroke-linecap="round" />
<polyline points="428.8,248.8 433.3,249.3 438.2,249.5 442.9,251.9 447.6,252.5 451.7,250.4 456.4,249.5 461.2,247.0" fill="none" stroke="#0a0a0a" stroke-width="3.1" stroke-linejoin="round" stroke-linecap="round" />
<polyline points="475.0,272.7 479.8,271.9 483.8,273.8 489.1,273.4 493.0,273.0 498.3,274.9 502.5,276.0 507.5,275.7 512.0,278.9 516.4,279.0" fill="none" stroke="#0a0a0a" stroke-width="3.1" stroke-linejoin="round" stroke-linecap="round" />
<polyline points="498.3,263.8 502.5,263.2 506.9,263.6 511.9,262.8 514.9,264.6 518.6,268.5 522.1,270.7 525.6,272.2" fill="none" stroke="#0a0a0a" stroke-width="3.1" stroke-linejoin="round" stroke-linecap="round" />
<polyline points="382.7,257.9 387.3,259.5 392.4,261.2 396.5,263.4 401.3,263.1 406.1,262.2 410.5,260.7" fill="none" stroke="#0a0a0a" stroke-width="3.1" stroke-linejoin="round" stroke-linecap="round" />
<polyline points="309.1,382.6 308.6,387.9 308.5,391.0 307.5,393.9 307.0,398.9" fill="none" stroke="#0a0a0a" stroke-width="3.1" stroke-linejoin="round" stroke-linecap="round" />
<polyline points="323.3,396.8 327.5,397.0 332.2,399.4 336.6,399.5 341.4,401.2 345.0,399.7 349.4,400.6 353.4,398.5 357.6,399.0" fill="none" stroke="#0a0a0a" stroke-width="3.1" stroke-linejoin="round" stroke-linecap="round" />
<polyline points="596.8,62.3 601.8,61.8 606.6,61.4 610.5,60.2 615.4,60.7 620.3,63.4 624.7,64.3 628.9,66.3 632.1,67.7 636.3,70.3 639.9,71.7 643.4,74.7 647.7,76.8" fill="none" stroke="#0a0a0a" stroke-width="3.1" stroke-linejoin="round" stroke-linecap="round" />
<polyline points="670.9,62.2 675.0,63.6 680.0,62.2 684.9,63.5 689.2,62.6 694.1,62.1 698.5,62.5 703.0,60.7" fill="none" stroke="#0a0a0a" stroke-width="3.1" stroke-linejoin="round" stroke-linecap="round" />
<polyline points="696.3,71.5 699.7,72.1 703.8,74.2 708.2,73.9 712.1,74.5 716.7,74.2 721.3,73.8 726.3,73.0 729.7,73.8 732.8,77.5 736.2,79.3 739.5,82.1 744.3,83.4 749.3,85.2 753.2,88.2 760.5,90.7" fill="none" stroke="#0a0a0a" stroke-width="3.1" stroke-linejoin="round" stroke-linecap="round" />
<polyline points="730.6,52.9 735.1,57.8 740.1,61.6 744.7,59.0 748.9,59.1 753.2,59.0 758.0,56.7 763.0,53.3 767.3,51.4 771.7,48.2 776.5,46.4 779.0,40.0" fill="none" stroke="#0a0a0a" stroke-width="3.1" stroke-linejoin="round" stroke-linecap="round" />
<polyline points="732.7,42.9 735.4,49.0 739.4,50.5 744.2,49.9 749.0,51.5" fill="none" stroke="#0a0a0a" stroke-width="3.1" stroke-linejoin="round" stroke-linecap="round" />
<polyline points="670.9,45.5 675.1,45.9 680.3,47.0 684.4,43.9 689.0,42.3" fill="none" stroke="#0a0a0a" stroke-width="3.1" stroke-linejoin="round" stroke-linecap="round" />
<polyline points="573.6,91.6 578.9,88.4 583.3,86.9 588.0,85.7 592.6,84.9 597.0,83.7" fill="none" stroke="#0a0a0a" stroke-width="3.1" stroke-linejoin="round" stroke-linecap="round" />
<polyline points="587.4,104.7 592.5,102.4 596.6,101.7 601.0,101.7 604.6,99.9 608.7,97.1 614.2,97.2 620.0,95.3" fill="none" stroke="#0a0a0a" stroke-width="3.1" stroke-linejoin="round" stroke-linecap="round" />
<polyline points="620.0,118.3 624.2,117.0 628.1,117.2 632.2,117.0 636.0,115.9 641.9,114.0 648.0,114.7 652.3,112.3 656.7,111.2 661.3,109.7 666.4,108.7 671.5,108.2 677.6,106.8" fill="none" stroke="#0a0a0a" stroke-width="3.1" stroke-linejoin="round" stroke-linecap="round" />
<polyline points="626.6,127.2 631.7,130.5 636.0,131.0 643.0,134.4" fill="none" stroke="#0a0a0a" stroke-width="3.1" stroke-linejoin="round" stroke-linecap="round" />
<polyline points="701.0,94.2 704.4,97.6 708.8,99.6 712.0,101.7 716.7,104.8 721.8,109.0 726.2,110.1 730.7,113.0 735.0,114.7 739.6,116.5 744.8,118.2 749.4,120.4 753.5,122.3 758.3,121.2 762.5,123.1 768.4,123.1 774.3,125.2" fill="none" stroke="#0a0a0a" stroke-width="3.1" stroke-linejoin="round" stroke-linecap="round" />
<polyline points="774.6,124.8 779.2,127.2 783.2,129.6 788.3,132.9 791.6,133.8 795.0,136.1 798.4,137.9 802.0,141.3" fill="none" stroke="#0a0a0a" stroke-width="3.1" stroke-linejoin="round" stroke-linecap="round" />
<polyline points="810.6,89.4 815.3,89.6 819.3,90.8 823.5,93.8 827.5,95.1 831.3,97.7 835.2,97.8 839.0,101.4 843.2,101.2 848.8,103.7 854.0,106.8" fill="none" stroke="#0a0a0a" stroke-width="3.1" stroke-linejoin="round" stroke-linecap="round" />
<polyline points="778.9,82.0 783.3,80.4 788.5,80.6 793.0,78.0 797.0,81.5 800.1,84.7 804.3,86.0" fill="none" stroke="#0a0a0a" stroke-width="3.1" stroke-linejoin="round" stroke-linecap="round" />
<polyline points="753.3,103.3 757.8,103.5 762.8,107.0 767.5,109.7 771.7,109.5 776.6,109.0" fill="none" stroke="#0a0a0a" stroke-width="3.1" stroke-linejoin="round" stroke-linecap="round" />
<polyline points="781.0,101.0 785.9,101.9 790.1,103.9 795.0,104.5" fill="none" stroke="#0a0a0a" stroke-width="3.1" stroke-linejoin="round" stroke-linecap="round" />
<polyline points="702.8,120.0 707.5,121.2 712.0,120.5 716.8,120.6" fill="none" stroke="#0a0a0a" stroke-width="3.1" stroke-linejoin="round" stroke-linecap="round" />
<polyline points="721.5,124.6 724.9,126.5 729.3,128.7 733.0,129.8" fill="none" stroke="#0a0a0a" stroke-width="3.1" stroke-linejoin="round" stroke-linecap="round" />
<polyline points="755.7,132.3 760.1,134.8 763.3,135.7 767.8,139.5 765.0,143.6" fill="none" stroke="#0a0a0a" stroke-width="3.1" stroke-linejoin="round" stroke-linecap="round" />
<polyline points="573.8,160.2 577.5,163.4 580.8,167.0 584.6,168.6 588.4,171.7 592.7,173.0 596.6,176.5 601.8,180.2 605.8,182.8 610.7,182.5 615.6,185.0 619.6,188.1 623.4,190.5 626.9,192.7 630.8,194.6 634.4,196.9 638.1,199.7 642.1,200.6 646.5,202.7 650.3,203.3 653.6,205.7 657.8,206.6 661.9,206.7 666.0,208.1 670.9,209.8 675.0,211.2 679.6,213.5 683.7,214.1 688.1,215.8 692.3,218.5 695.9,219.4 700.3,220.8 704.2,221.5 708.2,223.3 712.6,223.9 717.1,225.3 721.2,227.0 726.4,228.4 730.4,230.9 734.2,233.7 737.2,235.4 741.1,237.2 744.1,241.0 746.3,242.8 749.0,247.2" fill="none" stroke="#0a0a0a" stroke-width="3.1" stroke-linejoin="round" stroke-linecap="round" />
<polyline points="658.9,188.1 663.7,188.8 668.4,191.3 672.6,191.3 677.5,195.8 681.9,198.8 686.9,198.7 691.3,199.5 696.4,200.1 700.3,201.4 705.0,201.4 709.8,202.3 714.6,202.4 718.8,204.2 723.9,206.3 727.9,208.1 732.1,210.2 735.8,213.7 740.1,214.9 744.7,217.1 748.8,217.8 753.8,219.3 757.3,221.2 760.8,222.1 765.4,223.6 769.1,226.2 772.6,230.4 776.4,234.4 780.1,236.0 782.4,240.5 786.1,242.6 790.0,245.2 795.0,250.0" fill="none" stroke="#0a0a0a" stroke-width="3.1" stroke-linejoin="round" stroke-linecap="round" />
<polyline points="698.5,160.1 702.9,160.9 707.4,162.5 712.1,164.5 716.0,165.5 719.6,167.8 724.1,168.3 727.8,172.4 731.1,174.3 735.5,177.4 739.5,180.7 744.4,185.0" fill="none" stroke="#0a0a0a" stroke-width="3.1" stroke-linejoin="round" stroke-linecap="round" />
<polyline points="758.5,184.7 762.4,182.3 767.4,180.4 771.7,179.7 776.8,176.9 781.0,175.3 785.4,174.5 790.2,173.1 795.3,170.8 798.9,169.2 803.1,166.8 807.1,165.6 811.2,164.3" fill="none" stroke="#0a0a0a" stroke-width="3.1" stroke-linejoin="round" stroke-linecap="round" />
<polyline points="817.7,146.7 822.8,146.0 826.9,146.5 831.8,146.8 836.6,146.2 841.3,147.7 845.6,148.8 847.9,150.8 850.3,155.0" fill="none" stroke="#0a0a0a" stroke-width="3.1" stroke-linejoin="round" stroke-linecap="round" />
<polyline points="822.3,164.5 826.0,168.1 829.2,174.1 834.0,176.6 839.1,178.9 842.4,182.2 846.6,185.1 850.3,187.4" fill="none" stroke="#0a0a0a" stroke-width="3.1" stroke-linejoin="round" stroke-linecap="round" />
<polyline points="597.4,152.6 602.4,155.9 607.8,156.1 610.0,164.0" fill="none" stroke="#0a0a0a" stroke-width="3.1" stroke-linejoin="round" stroke-linecap="round" />
<polyline points="573.6,260.8 578.4,260.1 582.8,257.3 588.0,256.2 592.7,254.8 597.3,254.0 601.9,251.7 606.1,250.8 610.6,249.4 615.4,249.2" fill="none" stroke="#0a0a0a" stroke-width="3.1" stroke-linejoin="round" stroke-linecap="round" />
<polyline points="652.3,246.9 656.8,249.5 661.9,253.4 666.1,254.6 670.7,256.6 675.7,255.5 680.3,254.2 684.5,253.4 688.7,254.5 691.9,257.5 695.8,257.4 699.9,257.7 704.1,256.6 708.0,256.1 711.9,256.0 716.6,254.6 721.8,255.4 725.9,253.9 730.2,255.0 735.2,259.4 739.4,259.1 744.7,258.9 749.0,260.7" fill="none" stroke="#0a0a0a" stroke-width="3.1" stroke-linejoin="round" stroke-linecap="round" />
<polyline points="652.4,264.8 657.1,266.6 661.8,267.1 665.7,267.4 670.8,267.2 675.0,269.8 679.8,272.0 684.9,273.9 689.4,273.7 693.9,274.4 698.3,274.5 702.7,273.9 707.5,273.2 712.5,273.8 716.9,273.2 721.1,271.1 725.6,273.0 730.6,273.2 735.0,271.9 739.9,273.0 744.3,272.2 749.0,272.2" fill="none" stroke="#0a0a0a" stroke-width="3.1" stroke-linejoin="round" stroke-linecap="round" />
<polyline points="594.6,287.8 600.8,288.1 606.1,285.2 611.1,284.4 615.6,282.8 619.6,281.9 624.3,280.1 629.0,276.5 633.5,273.9 638.5,272.2" fill="none" stroke="#0a0a0a" stroke-width="3.1" stroke-linejoin="round" stroke-linecap="round" />
<polyline points="574.1,287.5 579.4,287.4 585.5,288.4" fill="none" stroke="#0a0a0a" stroke-width="3.1" stroke-linejoin="round" stroke-linecap="round" />
<polyline points="573.6,304.5 578.4,304.3 583.4,303.0 588.2,303.2 592.2,304.3 597.2,304.6 601.9,305.8 606.4,308.2 610.9,308.3 615.5,308.3 619.7,308.7 624.5,309.1 629.6,308.9 633.7,308.2 638.9,305.7 643.1,305.3 647.3,305.5 652.5,304.4 656.7,304.5 661.5,301.4 666.0,300.0" fill="none" stroke="#0a0a0a" stroke-width="3.1" stroke-linejoin="round" stroke-linecap="round" />
<polyline points="603.7,298.9 607.8,301.1 611.7,300.6 616.1,300.8 620.3,299.0 624.5,300.1 629.4,299.6 633.5,298.9 638.4,298.2 643.2,297.3 647.7,296.6 652.7,298.4 656.9,297.6" fill="none" stroke="#0a0a0a" stroke-width="3.1" stroke-linejoin="round" stroke-linecap="round" />
<polyline points="574.1,320.9 578.8,319.9 583.0,319.8 588.2,319.7 592.7,317.6 596.8,317.2 601.7,318.0 606.3,316.8 610.7,315.3 615.2,317.6 620.4,317.5 624.8,317.1 628.9,317.3 633.0,317.2 638.0,317.5 641.5,316.0 645.4,315.4 649.7,315.6 653.7,314.8 658.1,314.0 661.7,314.9 665.8,314.0 671.6,315.3 677.6,316.0" fill="none" stroke="#0a0a0a" stroke-width="3.1" stroke-linejoin="round" stroke-linecap="round" />
<polyline points="573.6,338.5 578.9,338.0 583.3,337.2 587.5,337.1 592.4,335.7 596.4,337.1 600.3,338.4 604.8,338.2 608.3,339.6 614.5,337.9 620.1,336.4 624.8,336.1 629.6,334.7 633.5,335.2 638.6,335.8 643.3,336.5 647.6,337.5 652.4,334.9 656.6,332.7 661.3,331.6 667.1,333.5 673.4,334.5 677.0,335.6 680.8,339.1 684.5,341.3" fill="none" stroke="#0a0a0a" stroke-width="3.1" stroke-linejoin="round" stroke-linecap="round" />
<polyline points="703.2,313.4 707.7,313.0 712.4,312.0 717.1,312.2 721.4,310.8 726.2,310.2 731.0,310.6 735.2,309.4 739.5,309.9 744.5,308.0 748.6,309.8 753.8,309.3 758.1,309.2 762.8,311.5 767.5,310.4 771.7,308.2 776.9,307.6 781.6,305.5 785.6,303.5 790.2,304.9 794.9,305.7 799.8,307.6 804.1,308.0 808.6,307.4 813.7,307.5 817.6,310.1 822.0,308.3 826.3,308.8 830.0,308.0 833.9,307.7 839.1,306.5 843.7,305.9 849.0,306.0 854.0,306.8" fill="none" stroke="#0a0a0a" stroke-width="3.1" stroke-linejoin="round" stroke-linecap="round" />
<polyline points="703.1,319.4 707.4,318.9 712.3,318.6 717.0,318.3 721.7,317.5 726.2,318.4 730.3,317.7 735.6,318.6 739.8,318.3 744.7,318.6 748.8,319.3 753.9,318.9 758.4,318.7 762.6,319.4 767.6,317.6 772.0,318.3" fill="none" stroke="#0a0a0a" stroke-width="3.1" stroke-linejoin="round" stroke-linecap="round" />
<polyline points="710.2,343.4 713.5,343.9 717.7,342.3 721.6,341.9 726.0,342.0 731.0,340.6 735.3,338.0 740.2,336.1 744.2,335.7 748.9,334.5 753.3,332.6 757.8,331.8 762.6,331.2 767.2,328.3 772.2,326.8 776.9,327.6 780.9,327.9 786.2,327.1 790.4,328.4 795.4,330.1 799.2,329.5 804.5,329.0 808.8,328.8 813.0,327.1 818.3,327.3 822.6,327.6 827.5,328.4 831.5,327.8 835.9,327.1 841.0,326.5 845.0,326.9 849.7,326.6 854.0,325.2" fill="none" stroke="#0a0a0a" stroke-width="3.1" stroke-linejoin="round" stroke-linecap="round" />
<polyline points="709.9,347.8 714.1,348.2 717.5,347.4 722.4,348.5 725.6,348.8 730.8,346.5 735.6,346.0 739.8,346.5 744.4,345.7 749.0,346.3 754.0,346.8 758.6,346.7 762.8,344.5 767.8,344.6 771.8,343.1 776.5,340.3 781.2,342.2 785.8,342.0 790.7,342.0 794.8,342.2 799.3,341.9 803.9,342.2 809.2,343.7 813.9,343.7 818.1,343.7 822.7,346.1 827.2,346.8 832.9,347.8 838.5,349.2 843.5,346.5 849.0,347.3 854.0,346.0" fill="none" stroke="#0a0a0a" stroke-width="3.1" stroke-linejoin="round" stroke-linecap="round" />
<polyline points="726.2,359.5 730.8,358.3 735.0,357.7 739.6,356.4 744.1,356.9 749.1,355.8 753.7,355.2 758.5,353.9 763.0,356.7 767.5,356.9 772.4,356.6 776.2,356.8 781.4,356.3 785.8,355.5 790.4,355.8 794.7,356.1 799.3,357.4 804.1,358.1 808.7,358.5 813.4,359.9 818.0,359.7 822.7,358.0 827.7,357.1 831.4,356.4 836.4,357.5 840.7,357.2 844.9,356.6 849.8,354.8 854.0,355.0" fill="none" stroke="#0a0a0a" stroke-width="3.1" stroke-linejoin="round" stroke-linecap="round" />
<polyline points="753.2,366.4 758.1,366.0 763.0,364.9 767.2,364.5 771.7,364.2 776.7,364.6 780.9,366.3 785.4,367.4 790.5,365.2 794.6,365.8 799.2,364.9 804.3,365.5 808.6,366.3 813.5,366.6" fill="none" stroke="#0a0a0a" stroke-width="3.1" stroke-linejoin="round" stroke-linecap="round" />
<polyline points="624.5,353.0 629.7,351.9 633.6,349.9 638.3,350.1 643.3,348.0 647.7,347.1 652.3,346.3 656.9,346.0" fill="none" stroke="#0a0a0a" stroke-width="3.1" stroke-linejoin="round" stroke-linecap="round" />
<polyline points="581.4,368.7 584.8,368.1 588.8,365.8 593.0,366.2 596.9,363.8 600.8,363.4 604.8,362.1 609.0,359.8 612.8,360.4 618.6,359.1 624.7,357.4" fill="none" stroke="#0a0a0a" stroke-width="3.1" stroke-linejoin="round" stroke-linecap="round" />
<polyline points="582.8,373.5 587.7,373.1 592.0,371.1 596.9,372.1 601.6,372.8 606.2,373.8 610.4,374.3 615.2,374.4 620.1,376.3 625.1,379.0 629.5,378.3 633.7,379.5 638.3,379.9 642.8,379.4 647.5,378.4 652.1,379.6 657.2,378.3 661.9,379.6 665.7,378.3 670.6,379.9 675.7,379.5 680.1,380.5 684.3,379.8 689.4,377.7 693.8,377.9 698.6,376.7 703.1,375.8 707.2,376.2 712.1,375.7 716.5,377.4 721.3,376.9 725.9,378.3 730.3,378.9 734.9,378.3 739.7,377.1 744.2,377.0 749.0,375.8" fill="none" stroke="#0a0a0a" stroke-width="3.1" stroke-linejoin="round" stroke-linecap="round" />
<polyline points="619.8,383.4 624.8,383.1 629.7,382.3 633.6,381.8 638.1,381.2 643.5,383.2 647.3,388.1 652.2,389.3 657.2,391.4 661.5,392.8 666.5,393.2 670.6,394.1 675.3,394.6 679.9,394.3 684.2,391.9 689.5,391.1 693.9,389.6 698.5,389.2 702.6,388.1 707.7,387.2 712.6,386.4 716.9,388.2 721.6,386.6 725.7,387.9 730.5,386.5 734.9,389.3 739.4,390.0 744.8,391.5 749.3,392.5 753.3,394.1 758.4,396.7 763.0,397.3 767.6,395.7 772.0,395.6 776.9,396.3 781.2,396.9 786.2,395.7 790.3,395.7 795.3,393.7 799.6,395.9 804.7,396.4 808.9,395.3 813.8,396.0 818.2,395.6 823.0,394.8 827.2,395.1 831.9,395.0 835.9,392.7 840.8,393.1 845.4,392.7 849.2,392.3 854.0,392.0" fill="none" stroke="#0a0a0a" stroke-width="3.1" stroke-linejoin="round" stroke-linecap="round" />
<polyline points="573.8,388.1 578.9,387.4 582.9,385.9 587.5,386.1 592.1,386.1 597.2,385.9 601.7,386.6 602.7,391.5 604.3,396.5 606.4,402.1 604.5,405.7 603.3,410.0 601.4,414.7 597.3,416.2 592.6,417.3 587.6,419.1 583.0,418.1 578.5,418.8 574.0,417.3" fill="none" stroke="#0a0a0a" stroke-width="3.1" stroke-linejoin="round" stroke-linecap="round" />
<polyline points="606.3,411.5 610.6,410.0 615.2,410.4 619.7,411.1 624.6,408.6 629.3,408.6 633.6,407.6 638.1,409.7 642.0,408.7 645.6,409.4 649.8,410.2 653.8,411.4 657.4,414.4 661.5,415.0" fill="none" stroke="#0a0a0a" stroke-width="3.1" stroke-linejoin="round" stroke-linecap="round" />
<polyline points="666.4,401.7 671.0,400.9 675.4,400.2 679.9,400.6 684.6,400.0 689.1,398.6 693.9,400.2 698.0,399.1 702.5,399.7 707.3,400.1 711.9,400.8 716.5,403.1 721.0,402.0 726.4,403.7 730.8,404.5 734.8,404.8 740.2,404.8 744.4,405.3 749.1,405.5 753.9,405.2 758.2,406.9 762.8,406.3 767.0,405.7 771.9,405.5 776.8,403.4 781.4,402.8 785.8,404.5 790.1,403.4 795.4,404.2 799.9,405.3 804.0,406.6 808.8,404.8 813.9,406.0 818.0,405.5 822.4,404.6 827.4,402.9 831.7,402.7 836.4,402.6 840.6,402.7 845.0,401.0 849.5,402.4 854.0,401.2" fill="none" stroke="#0a0a0a" stroke-width="3.1" stroke-linejoin="round" stroke-linecap="round" />
<polyline points="688.8,412.2 694.0,412.4 698.7,413.2 702.7,414.6 707.9,414.5 712.0,414.2 715.6,416.6 720.1,416.9 723.7,419.1 727.7,420.1 731.7,420.3 735.6,422.3 739.6,423.1 744.2,423.3 749.3,424.9 753.7,423.7 758.5,421.7 762.4,421.7 767.0,419.5 771.6,418.8 776.8,416.7 781.2,416.6 785.9,416.8 790.6,414.0 794.9,415.7 799.4,417.3 804.2,417.0 808.6,417.8 813.8,417.4 818.1,418.2 822.3,418.9 827.4,419.9 832.2,420.4 836.6,420.9 840.8,421.7 845.4,421.8 849.4,421.1 854.0,422.0" fill="none" stroke="#0a0a0a" stroke-width="3.1" stroke-linejoin="round" stroke-linecap="round" />
<polyline points="574.3,427.8 578.5,429.1 583.0,427.9 587.7,427.7 592.7,426.0 596.9,427.3 601.5,428.4 606.0,428.3 610.5,430.0 615.4,430.8 620.2,430.5 624.9,429.6 629.6,430.7 633.6,429.8 638.3,429.2 643.4,428.7 647.7,428.2 651.8,429.6 656.7,431.1 661.5,431.4 666.1,431.9 670.4,430.0 675.4,431.3 679.5,430.4 684.4,431.9 689.1,430.9 693.7,430.2 698.2,429.4 703.1,428.6 707.6,428.3 711.9,429.4 717.1,429.3 721.8,430.1 726.0,430.4 730.2,429.7 735.4,430.7 740.2,430.5 744.2,430.4 749.4,431.1 753.4,430.0 758.3,429.9 763.1,430.7 767.6,432.8 771.8,432.6 776.8,432.8 781.1,434.2 785.6,432.7 790.0,432.0 795.0,431.0" fill="none" stroke="#0a0a0a" stroke-width="3.1" stroke-linejoin="round" stroke-linecap="round" />
<polyline points="574.4,442.4 578.5,441.9 582.5,441.8 587.3,441.4 590.8,441.6 595.6,441.4 599.8,440.4 604.4,440.0 608.3,439.6 612.4,439.9 617.3,440.6 621.4,440.6 625.5,441.9 630.4,440.9 634.5,443.0 638.7,443.2 642.7,443.2 646.8,442.0 651.0,441.5 655.8,442.3 659.6,443.1 663.7,443.4 667.8,443.6 672.6,442.6 676.8,443.4 681.0,442.2 684.7,442.2 689.0,442.7 693.5,442.0 697.4,441.7 701.6,441.0 705.8,442.0 710.1,442.4 714.2,440.9 718.8,440.9 722.3,440.9 727.0,440.2 730.8,439.6 735.2,440.3" fill="none" stroke="#0a0a0a" stroke-width="3.1" stroke-linejoin="round" stroke-linecap="round" />
<polyline points="804.3,246.7 809.1,247.8 813.5,249.2 817.7,250.6 822.8,254.3 827.2,256.7 832.1,259.1 836.6,260.6 840.9,263.7 845.2,263.2 850.1,265.5 854.0,265.3" fill="none" stroke="#0a0a0a" stroke-width="3.1" stroke-linejoin="round" stroke-linecap="round" />
<polyline points="776.7,270.7 780.8,269.8 785.9,267.9 790.2,268.0 795.4,268.9 799.3,269.4 804.2,269.4 808.5,272.4 813.2,274.2 818.0,277.7 822.4,277.7 827.4,278.8 831.9,279.0" fill="none" stroke="#0a0a0a" stroke-width="3.1" stroke-linejoin="round" stroke-linecap="round" />
<polyline points="781.5,285.4 786.1,287.4 790.4,291.2 795.4,292.7 799.0,294.6 802.3,295.9 806.8,295.7 810.2,297.5 814.6,299.8 817.7,299.8 821.8,300.4 826.1,303.7 830.8,303.4 834.7,305.7 838.8,306.8" fill="none" stroke="#0a0a0a" stroke-width="3.1" stroke-linejoin="round" stroke-linecap="round" />
<polyline points="827.3,369.8 832.7,369.6 838.5,372.1 844.1,371.1 848.6,372.0 854.0,371.2" fill="none" stroke="#0a0a0a" stroke-width="3.1" stroke-linejoin="round" stroke-linecap="round" />
<polyline points="370.9,414.9 379.5,417.3 388.2,419.0" fill="none" stroke="#0a0a0a" stroke-width="2.8" stroke-linejoin="round" stroke-linecap="round" />
<polyline points="112.6,56.0 116.1,55.7 119.4,54.5" fill="none" stroke="#0a0a0a" stroke-width="2.8" stroke-linejoin="round" stroke-linecap="round" />
<polyline points="168.4,270.7 172.0,270.6 175.6,269.7" fill="none" stroke="#0a0a0a" stroke-width="2.8" stroke-linejoin="round" stroke-linecap="round" />
<polyline points="441.4,225.7 449.3,227.3 457.1,229.0" fill="none" stroke="#0a0a0a" stroke-width="2.8" stroke-linejoin="round" stroke-linecap="round" />
<polyline points="803.7,388.8 809.0,392.2 815.0,392.3" fill="none" stroke="#0a0a0a" stroke-width="2.8" stroke-linejoin="round" stroke-linecap="round" />
<polyline points="565.6,229.3 567.4,232.6 570.7,232.6" fill="none" stroke="#0a0a0a" stroke-width="2.8" stroke-linejoin="round" stroke-linecap="round" />
<polyline points="316.7,201.3 319.8,204.4 323.7,205.0" fill="none" stroke="#0a0a0a" stroke-width="2.8" stroke-linejoin="round" stroke-linecap="round" />
<polyline points="217.6,246.0 220.9,242.4 223.8,238.5" fill="none" stroke="#0a0a0a" stroke-width="2.8" stroke-linejoin="round" stroke-linecap="round" />
<polyline points="204.0,57.7 211.2,57.6 218.5,59.4" fill="none" stroke="#0a0a0a" stroke-width="2.8" stroke-linejoin="round" stroke-linecap="round" />
<polyline points="537.6,55.8 544.4,54.7 548.3,49.1 553.6,45.8" fill="none" stroke="#0a0a0a" stroke-width="2.8" stroke-linejoin="round" stroke-linecap="round" />
<polyline points="379.0,46.1 383.0,45.4 386.8,46.9" fill="none" stroke="#0a0a0a" stroke-width="2.8" stroke-linejoin="round" stroke-linecap="round" />
<polyline points="569.0,209.4 576.6,210.9 583.8,214.8 591.5,216.0" fill="none" stroke="#0a0a0a" stroke-width="2.8" stroke-linejoin="round" stroke-linecap="round" />
<polyline points="76.9,121.0 82.5,118.1 88.2,115.5 93.8,112.5 99.6,110.2" fill="none" stroke="#0a0a0a" stroke-width="2.8" stroke-linejoin="round" stroke-linecap="round" />
<polyline points="222.8,337.1 227.5,341.1 233.7,341.7" fill="none" stroke="#0a0a0a" stroke-width="2.8" stroke-linejoin="round" stroke-linecap="round" />
<polyline points="365.8,414.5 371.9,413.7 378.0,414.3 384.1,414.7 390.1,413.3" fill="none" stroke="#0a0a0a" stroke-width="2.8" stroke-linejoin="round" stroke-linecap="round" />
<polyline points="474.0,80.0 481.6,77.4 489.4,76.0 497.2,74.2" fill="none" stroke="#0a0a0a" stroke-width="2.8" stroke-linejoin="round" stroke-linecap="round" />
<polyline points="133.7,108.0 138.6,112.5 144.6,114.7 150.0,118.1 156.2,119.5" fill="none" stroke="#0a0a0a" stroke-width="2.8" stroke-linejoin="round" stroke-linecap="round" />
<polyline points="172.2,158.6 177.7,156.1 183.3,154.0 188.9,151.9 193.7,147.9" fill="none" stroke="#0a0a0a" stroke-width="2.8" stroke-linejoin="round" stroke-linecap="round" />
<polyline points="809.0,333.0 817.4,335.7 825.1,339.7" fill="none" stroke="#0a0a0a" stroke-width="2.8" stroke-linejoin="round" stroke-linecap="round" />
<polyline points="198.7,199.5 204.1,193.7 210.9,189.6 216.7,184.3" fill="none" stroke="#0a0a0a" stroke-width="2.8" stroke-linejoin="round" stroke-linecap="round" />
<polyline points="831.0,348.0 836.8,346.0 843.0,346.3 848.7,344.5" fill="none" stroke="#0a0a0a" stroke-width="2.8" stroke-linejoin="round" stroke-linecap="round" />
<polyline points="640.8,251.2 645.4,254.3 650.4,254.4" fill="none" stroke="#0a0a0a" stroke-width="2.8" stroke-linejoin="round" stroke-linecap="round" />
<polyline points="738.2,403.9 745.2,406.1 752.3,407.8" fill="none" stroke="#0a0a0a" stroke-width="2.8" stroke-linejoin="round" stroke-linecap="round" />
<polyline points="441.2,427.4 448.1,430.6 454.4,434.8 462.1,436.4" fill="none" stroke="#0a0a0a" stroke-width="2.8" stroke-linejoin="round" stroke-linecap="round" />
<polyline points="515.5,222.8 521.5,224.5 526.6,228.3 532.2,231.0" fill="none" stroke="#0a0a0a" stroke-width="2.8" stroke-linejoin="round" stroke-linecap="round" />
<polyline points="74.6,148.6 81.4,148.0 88.0,149.9 94.9,147.7" fill="none" stroke="#0a0a0a" stroke-width="2.8" stroke-linejoin="round" stroke-linecap="round" />
<polyline points="550.2,212.3 554.0,215.1 558.4,215.6" fill="none" stroke="#0a0a0a" stroke-width="2.8" stroke-linejoin="round" stroke-linecap="round" />
<polyline points="516.3,438.8 522.7,440.5 529.4,440.3 536.0,440.6" fill="none" stroke="#0a0a0a" stroke-width="2.8" stroke-linejoin="round" stroke-linecap="round" />
<polyline points="691.1,159.7 696.7,163.2 702.3,166.9 708.7,169.1" fill="none" stroke="#0a0a0a" stroke-width="2.8" stroke-linejoin="round" stroke-linecap="round" />
<polyline points="590.8,435.0 597.8,437.8 605.6,438.1" fill="none" stroke="#0a0a0a" stroke-width="2.8" stroke-linejoin="round" stroke-linecap="round" />
<polyline points="624.9,376.4 631.0,378.7 637.3,379.6 643.7,379.6" fill="none" stroke="#0a0a0a" stroke-width="2.8" stroke-linejoin="round" stroke-linecap="round" />
<polyline points="270.2,445.2 276.3,447.2 282.9,446.9 288.8,449.9 295.1,450.9" fill="none" stroke="#0a0a0a" stroke-width="2.8" stroke-linejoin="round" stroke-linecap="round" />
<polyline points="139.7,133.6 147.9,133.4 154.6,128.6" fill="none" stroke="#0a0a0a" stroke-width="2.8" stroke-linejoin="round" stroke-linecap="round" />
<polyline points="116.4,417.3 123.9,420.6 131.7,423.0" fill="none" stroke="#0a0a0a" stroke-width="2.8" stroke-linejoin="round" stroke-linecap="round" />
<polyline points="560.5,267.1 565.6,268.4 569.9,271.6" fill="none" stroke="#0a0a0a" stroke-width="2.8" stroke-linejoin="round" stroke-linecap="round" />
<polyline points="524.5,362.1 532.4,361.4 539.6,364.8 547.0,366.6" fill="none" stroke="#0a0a0a" stroke-width="2.8" stroke-linejoin="round" stroke-linecap="round" />
<polyline points="301.0,383.5 306.7,387.0 312.8,386.1 318.9,386.3" fill="none" stroke="#0a0a0a" stroke-width="2.8" stroke-linejoin="round" stroke-linecap="round" />
<polyline points="433.8,386.9 437.5,387.3 440.7,389.8" fill="none" stroke="#0a0a0a" stroke-width="2.8" stroke-linejoin="round" stroke-linecap="round" />
<polyline points="151.5,318.7 157.4,317.4 163.3,316.2 169.4,316.8 175.5,317.0" fill="none" stroke="#0a0a0a" stroke-width="2.8" stroke-linejoin="round" stroke-linecap="round" />
<polyline points="620.4,322.9 627.0,322.6 633.6,323.0 640.1,321.0" fill="none" stroke="#0a0a0a" stroke-width="2.8" stroke-linejoin="round" stroke-linecap="round" />
<polyline points="169.0,80.2 173.9,79.7 178.9,79.2" fill="none" stroke="#0a0a0a" stroke-width="2.8" stroke-linejoin="round" stroke-linecap="round" />
<polyline points="466.2,409.7 469.4,415.1 474.0,419.4 477.5,424.7" fill="none" stroke="#0a0a0a" stroke-width="2.8" stroke-linejoin="round" stroke-linecap="round" />
<polyline points="704.0,262.7 709.4,259.0 716.0,259.9" fill="none" stroke="#0a0a0a" stroke-width="2.8" stroke-linejoin="round" stroke-linecap="round" />
<polyline points="86.6,156.0 94.3,155.5 101.2,151.8 108.7,151.1" fill="none" stroke="#0a0a0a" stroke-width="2.8" stroke-linejoin="round" stroke-linecap="round" />
<polyline points="75.3,150.7 81.1,147.4 87.2,148.0 93.3,148.2 99.3,146.8" fill="none" stroke="#0a0a0a" stroke-width="2.8" stroke-linejoin="round" stroke-linecap="round" />
<polyline points="42.5,315.9 50.0,319.2 56.8,323.8" fill="none" stroke="#0a0a0a" stroke-width="2.8" stroke-linejoin="round" stroke-linecap="round" />
<polyline points="736.5,360.9 740.0,359.0 743.7,359.7" fill="none" stroke="#0a0a0a" stroke-width="2.8" stroke-linejoin="round" stroke-linecap="round" />
<polyline points="304.4,347.6 307.5,348.3 310.7,346.3" fill="none" stroke="#0a0a0a" stroke-width="2.8" stroke-linejoin="round" stroke-linecap="round" />
<polyline points="680.2,258.0 686.4,263.9 694.0,267.0" fill="none" stroke="#0a0a0a" stroke-width="2.8" stroke-linejoin="round" stroke-linecap="round" />
<polyline points="741.2,330.1 748.8,335.2 757.3,338.3" fill="none" stroke="#0a0a0a" stroke-width="2.8" stroke-linejoin="round" stroke-linecap="round" />
<polyline points="624.3,411.9 630.3,408.2 636.0,404.0" fill="none" stroke="#0a0a0a" stroke-width="2.8" stroke-linejoin="round" stroke-linecap="round" />
<polyline points="755.5,209.8 761.8,214.3 768.2,218.7" fill="none" stroke="#0a0a0a" stroke-width="2.8" stroke-linejoin="round" stroke-linecap="round" />
<polyline points="288.9,399.1 295.0,401.1 301.0,403.4" fill="none" stroke="#0a0a0a" stroke-width="2.8" stroke-linejoin="round" stroke-linecap="round" />
<polyline points="835.3,366.2 841.9,365.8 848.1,364.1 853.6,360.5 859.8,358.8" fill="none" stroke="#0a0a0a" stroke-width="2.8" stroke-linejoin="round" stroke-linecap="round" />
<polyline points="140.5,103.4 146.0,100.7 152.0,99.6 157.0,95.9 163.0,94.6" fill="none" stroke="#0a0a0a" stroke-width="2.8" stroke-linejoin="round" stroke-linecap="round" />
<polyline points="583.3,367.3 589.0,369.9 595.1,370.7 600.8,373.5 606.6,375.5" fill="none" stroke="#0a0a0a" stroke-width="2.8" stroke-linejoin="round" stroke-linecap="round" />
<polyline points="831.9,417.8 838.7,417.7 845.2,416.2" fill="none" stroke="#0a0a0a" stroke-width="2.8" stroke-linejoin="round" stroke-linecap="round" />
<polyline points="725.5,169.7 726.4,173.6 729.5,175.3" fill="none" stroke="#0a0a0a" stroke-width="2.8" stroke-linejoin="round" stroke-linecap="round" />
<polyline points="695.7,247.1 700.9,251.5 707.3,251.8 713.2,253.8 718.7,257.1" fill="none" stroke="#0a0a0a" stroke-width="2.8" stroke-linejoin="round" stroke-linecap="round" />
<polyline points="415.6,391.6 421.6,389.5 427.5,386.5 434.1,386.6 440.2,384.6" fill="none" stroke="#0a0a0a" stroke-width="2.8" stroke-linejoin="round" stroke-linecap="round" />
<polyline points="83.6,114.9 89.8,113.1 96.3,112.8 102.5,111.0" fill="none" stroke="#0a0a0a" stroke-width="2.8" stroke-linejoin="round" stroke-linecap="round" />
<polyline points="574.9,439.8 579.0,440.6 583.1,441.1" fill="none" stroke="#0a0a0a" stroke-width="2.8" stroke-linejoin="round" stroke-linecap="round" />
<polyline points="76.7,347.8 82.8,345.7 89.0,345.5 95.3,347.4" fill="none" stroke="#0a0a0a" stroke-width="2.8" stroke-linejoin="round" stroke-linecap="round" />
<polyline points="579.4,261.8 584.9,263.3 590.8,262.5" fill="none" stroke="#0a0a0a" stroke-width="2.8" stroke-linejoin="round" stroke-linecap="round" />
<polyline points="70.2,132.6 76.4,132.0 82.4,130.2 88.6,129.7" fill="none" stroke="#0a0a0a" stroke-width="2.8" stroke-linejoin="round" stroke-linecap="round" />
<polyline points="584.5,272.9 590.8,276.3 597.5,278.6 603.4,283.0" fill="none" stroke="#0a0a0a" stroke-width="2.8" stroke-linejoin="round" stroke-linecap="round" />
<polyline points="665.7,99.1 671.9,95.5 678.5,93.2 684.9,90.3" fill="none" stroke="#0a0a0a" stroke-width="2.8" stroke-linejoin="round" stroke-linecap="round" />
<polyline points="46.4,130.9 54.3,130.1 62.0,132.2" fill="none" stroke="#0a0a0a" stroke-width="2.8" stroke-linejoin="round" stroke-linecap="round" />
<polyline points="87.2,250.2 94.1,251.5 100.6,253.6 106.7,256.8" fill="none" stroke="#0a0a0a" stroke-width="2.8" stroke-linejoin="round" stroke-linecap="round" />
<polyline points="321.3,97.7 325.1,92.6 330.5,89.4 334.2,84.2 339.0,80.2" fill="none" stroke="#0a0a0a" stroke-width="2.8" stroke-linejoin="round" stroke-linecap="round" />
<polyline points="728.2,414.5 734.5,416.6 740.9,418.5" fill="none" stroke="#0a0a0a" stroke-width="2.8" stroke-linejoin="round" stroke-linecap="round" />
<polyline points="371.6,442.6 380.4,442.4 388.9,440.8" fill="none" stroke="#0a0a0a" stroke-width="2.8" stroke-linejoin="round" stroke-linecap="round" />
<polyline points="256.1,71.6 262.4,70.5 267.9,66.5 274.4,66.4 280.7,65.5" fill="none" stroke="#0a0a0a" stroke-width="2.8" stroke-linejoin="round" stroke-linecap="round" />
<polyline points="126.5,145.9 133.0,146.7 139.0,145.3 145.0,143.0" fill="none" stroke="#0a0a0a" stroke-width="2.8" stroke-linejoin="round" stroke-linecap="round" />
<polyline points="641.7,305.4 647.9,303.7 654.2,302.5" fill="none" stroke="#0a0a0a" stroke-width="2.8" stroke-linejoin="round" stroke-linecap="round" />
<polyline points="777.6,166.4 785.1,166.0 792.5,164.8 800.0,163.9" fill="none" stroke="#0a0a0a" stroke-width="2.8" stroke-linejoin="round" stroke-linecap="round" />
<polyline points="743.0,354.7 749.9,354.5 756.5,355.5 763.3,355.6" fill="none" stroke="#0a0a0a" stroke-width="2.8" stroke-linejoin="round" stroke-linecap="round" />
<polyline points="672.7,284.6 679.3,283.9 684.6,286.7" fill="none" stroke="#0a0a0a" stroke-width="2.8" stroke-linejoin="round" stroke-linecap="round" />
<polyline points="611.3,103.0 618.9,102.8 625.9,98.8" fill="none" stroke="#0a0a0a" stroke-width="2.8" stroke-linejoin="round" stroke-linecap="round" />
<polyline points="71.4,102.7 78.8,97.7 86.5,93.1" fill="none" stroke="#0a0a0a" stroke-width="2.8" stroke-linejoin="round" stroke-linecap="round" />
<polyline points="628.8,284.8 635.5,280.3 640.8,274.6" fill="none" stroke="#0a0a0a" stroke-width="2.8" stroke-linejoin="round" stroke-linecap="round" />
<polyline points="560.5,396.6 563.7,395.1 566.7,392.8" fill="none" stroke="#0a0a0a" stroke-width="2.8" stroke-linejoin="round" stroke-linecap="round" />
<polyline points="497.5,377.5 502.8,379.2 508.2,379.1" fill="none" stroke="#0a0a0a" stroke-width="2.8" stroke-linejoin="round" stroke-linecap="round" />
<polyline points="645.9,123.6 650.4,124.6 654.3,127.6" fill="none" stroke="#0a0a0a" stroke-width="2.8" stroke-linejoin="round" stroke-linecap="round" />
<polyline points="748.8,58.4 753.5,56.4 757.7,59.4" fill="none" stroke="#0a0a0a" stroke-width="2.8" stroke-linejoin="round" stroke-linecap="round" />
<polyline points="589.3,303.3 596.5,306.8 604.3,307.7" fill="none" stroke="#0a0a0a" stroke-width="2.8" stroke-linejoin="round" stroke-linecap="round" />
<polyline points="508.4,72.1 514.9,72.5 520.1,68.7 526.2,67.8 532.0,65.8" fill="none" stroke="#0a0a0a" stroke-width="2.8" stroke-linejoin="round" stroke-linecap="round" />
<polyline points="757.6,343.4 763.7,343.2 769.5,341.0" fill="none" stroke="#0a0a0a" stroke-width="2.8" stroke-linejoin="round" stroke-linecap="round" />
<polyline points="132.2,112.4 138.1,115.0 144.0,117.6 150.6,117.6" fill="none" stroke="#0a0a0a" stroke-width="2.8" stroke-linejoin="round" stroke-linecap="round" />
<polyline points="310.1,309.4 313.8,313.0 316.5,317.3" fill="none" stroke="#0a0a0a" stroke-width="2.8" stroke-linejoin="round" stroke-linecap="round" />
<polyline points="215.5,379.7 220.4,382.9 226.1,383.2" fill="none" stroke="#0a0a0a" stroke-width="2.8" stroke-linejoin="round" stroke-linecap="round" />
<polyline points="492.0,314.5 498.5,318.3 505.2,321.8 510.8,327.1" fill="none" stroke="#0a0a0a" stroke-width="2.8" stroke-linejoin="round" stroke-linecap="round" />
<polyline points="138.6,422.8 143.8,423.7 148.8,425.6" fill="none" stroke="#0a0a0a" stroke-width="2.8" stroke-linejoin="round" stroke-linecap="round" />
<polyline points="734.7,405.1 741.0,401.7 747.8,399.4 754.6,397.5" fill="none" stroke="#0a0a0a" stroke-width="2.8" stroke-linejoin="round" stroke-linecap="round" />
<polyline points="393.7,139.5 400.0,141.8 404.5,146.5 409.6,150.3" fill="none" stroke="#0a0a0a" stroke-width="2.8" stroke-linejoin="round" stroke-linecap="round" />
<polyline points="126.1,122.5 133.0,120.0 139.6,116.7 147.1,116.8" fill="none" stroke="#0a0a0a" stroke-width="2.8" stroke-linejoin="round" stroke-linecap="round" />
<polyline points="385.8,349.1 391.1,352.9 396.5,356.4 403.1,357.9 407.4,363.2" fill="none" stroke="#0a0a0a" stroke-width="2.8" stroke-linejoin="round" stroke-linecap="round" />
<polyline points="45.2,336.7 53.2,340.5 59.5,347.0" fill="none" stroke="#0a0a0a" stroke-width="2.8" stroke-linejoin="round" stroke-linecap="round" />
<polyline points="351.9,336.6 357.1,333.6 362.2,330.5 366.9,326.5 373.1,325.2" fill="none" stroke="#0a0a0a" stroke-width="2.8" stroke-linejoin="round" stroke-linecap="round" />
<polyline points="730.8,273.5 737.8,277.4 744.9,281.0 753.1,282.0" fill="none" stroke="#0a0a0a" stroke-width="2.8" stroke-linejoin="round" stroke-linecap="round" />
<polyline points="96.1,136.9 102.2,138.6 107.2,142.4 112.7,145.4 118.7,147.2" fill="none" stroke="#0a0a0a" stroke-width="2.8" stroke-linejoin="round" stroke-linecap="round" />
<polyline points="816.3,327.1 820.8,327.4 825.1,325.9" fill="none" stroke="#0a0a0a" stroke-width="2.8" stroke-linejoin="round" stroke-linecap="round" />
<polyline points="118.6,347.9 121.3,345.3 125.3,346.9" fill="none" stroke="#0a0a0a" stroke-width="2.8" stroke-linejoin="round" stroke-linecap="round" />
<polyline points="404.9,374.2 410.4,377.8 416.3,380.7 420.9,385.7" fill="none" stroke="#0a0a0a" stroke-width="2.8" stroke-linejoin="round" stroke-linecap="round" />
<polyline points="680.3,336.0 688.3,334.0 696.7,333.8" fill="none" stroke="#0a0a0a" stroke-width="2.8" stroke-linejoin="round" stroke-linecap="round" />
<polyline points="117.6,93.9 126.5,92.0 135.5,92.5" fill="none" stroke="#0a0a0a" stroke-width="2.8" stroke-linejoin="round" stroke-linecap="round" />
<polyline points="220.1,139.3 223.0,137.1 225.6,134.6" fill="none" stroke="#0a0a0a" stroke-width="2.8" stroke-linejoin="round" stroke-linecap="round" />
<polyline points="309.2,129.9 312.4,135.4 317.3,139.6 320.0,145.5 325.3,149.5" fill="none" stroke="#0a0a0a" stroke-width="2.8" stroke-linejoin="round" stroke-linecap="round" />
<polyline points="542.6,268.5 548.4,273.1 554.1,277.8 561.9,278.7" fill="none" stroke="#0a0a0a" stroke-width="2.8" stroke-linejoin="round" stroke-linecap="round" />
<polyline points="230.9,400.0 238.3,400.5 245.7,401.9 253.2,400.9" fill="none" stroke="#0a0a0a" stroke-width="2.8" stroke-linejoin="round" stroke-linecap="round" />
<polyline points="802.3,379.7 808.4,377.9 814.8,377.1 821.4,378.1 827.7,377.0" fill="none" stroke="#0a0a0a" stroke-width="2.8" stroke-linejoin="round" stroke-linecap="round" />
<polyline points="820.0,344.2 828.3,343.3 835.7,346.3 843.6,346.6" fill="none" stroke="#0a0a0a" stroke-width="2.8" stroke-linejoin="round" stroke-linecap="round" />
<polyline points="49.3,156.7 55.7,151.9 63.6,150.5 71.0,148.0" fill="none" stroke="#0a0a0a" stroke-width="2.8" stroke-linejoin="round" stroke-linecap="round" />
<polyline points="132.4,157.5 137.1,156.0 142.3,155.7" fill="none" stroke="#0a0a0a" stroke-width="2.8" stroke-linejoin="round" stroke-linecap="round" />
<polyline points="477.0,110.1 484.0,115.6 489.9,122.5" fill="none" stroke="#0a0a0a" stroke-width="2.8" stroke-linejoin="round" stroke-linecap="round" />
<polyline points="201.8,313.4 209.7,316.3 215.9,322.1" fill="none" stroke="#0a0a0a" stroke-width="2.8" stroke-linejoin="round" stroke-linecap="round" />
<polyline points="257.8,296.5 264.8,295.9 271.9,296.0 278.8,294.2" fill="none" stroke="#0a0a0a" stroke-width="2.8" stroke-linejoin="round" stroke-linecap="round" />
<polyline points="573.0,341.1 578.9,345.3 585.9,346.6 592.8,348.3" fill="none" stroke="#0a0a0a" stroke-width="2.8" stroke-linejoin="round" stroke-linecap="round" />
<polyline points="568.7,82.7 575.9,78.7 582.1,73.5" fill="none" stroke="#0a0a0a" stroke-width="2.8" stroke-linejoin="round" stroke-linecap="round" />
<polyline points="614.8,430.6 620.9,429.9 627.0,429.6 632.9,428.3" fill="none" stroke="#0a0a0a" stroke-width="2.8" stroke-linejoin="round" stroke-linecap="round" />
<polyline points="164.6,333.1 167.9,333.5 171.3,333.2" fill="none" stroke="#0a0a0a" stroke-width="2.8" stroke-linejoin="round" stroke-linecap="round" />
<polyline points="65.6,302.4 73.5,303.6 81.4,304.1" fill="none" stroke="#0a0a0a" stroke-width="2.8" stroke-linejoin="round" stroke-linecap="round" />
<polyline points="279.0,130.1 283.7,127.4 287.5,123.5" fill="none" stroke="#0a0a0a" stroke-width="2.8" stroke-linejoin="round" stroke-linecap="round" />
<polyline points="602.5,59.5 606.1,56.9 609.9,56.6" fill="none" stroke="#0a0a0a" stroke-width="2.8" stroke-linejoin="round" stroke-linecap="round" />
<polyline points="667.7,220.3 674.6,222.2 680.5,226.9" fill="none" stroke="#0a0a0a" stroke-width="2.8" stroke-linejoin="round" stroke-linecap="round" />
<polyline points="497.4,329.4 505.1,330.9 511.5,335.0" fill="none" stroke="#0a0a0a" stroke-width="2.8" stroke-linejoin="round" stroke-linecap="round" />
<polyline points="134.1,213.6 141.2,215.4 147.3,220.3" fill="none" stroke="#0a0a0a" stroke-width="2.8" stroke-linejoin="round" stroke-linecap="round" />
<polyline points="727.6,146.8 735.4,145.8 743.0,146.6" fill="none" stroke="#0a0a0a" stroke-width="2.8" stroke-linejoin="round" stroke-linecap="round" />
<polyline points="301.9,328.4 307.9,330.7 313.8,333.2 319.9,335.1" fill="none" stroke="#0a0a0a" stroke-width="2.8" stroke-linejoin="round" stroke-linecap="round" />
<polyline points="694.0,379.1 701.0,378.1 707.7,379.4" fill="none" stroke="#0a0a0a" stroke-width="2.8" stroke-linejoin="round" stroke-linecap="round" />
<polyline points="516.3,420.8 523.6,423.3 530.6,427.0" fill="none" stroke="#0a0a0a" stroke-width="2.8" stroke-linejoin="round" stroke-linecap="round" />
<polyline points="625.1,325.2 631.0,328.4 636.1,332.6" fill="none" stroke="#0a0a0a" stroke-width="2.8" stroke-linejoin="round" stroke-linecap="round" />
<polyline points="357.3,122.2 364.4,122.7 370.2,119.1" fill="none" stroke="#0a0a0a" stroke-width="2.8" stroke-linejoin="round" stroke-linecap="round" />
<polyline points="833.5,112.5 839.8,112.1 845.7,115.2" fill="none" stroke="#0a0a0a" stroke-width="2.8" stroke-linejoin="round" stroke-linecap="round" />
<polyline points="642.8,302.7 648.1,303.5 653.4,305.3" fill="none" stroke="#0a0a0a" stroke-width="2.8" stroke-linejoin="round" stroke-linecap="round" />
<polyline points="284.4,405.5 291.3,405.1 297.7,403.0 303.7,399.5" fill="none" stroke="#0a0a0a" stroke-width="2.8" stroke-linejoin="round" stroke-linecap="round" />
<polyline points="35.8,371.4 43.5,372.5 51.2,373.6 59.0,374.1" fill="none" stroke="#0a0a0a" stroke-width="2.8" stroke-linejoin="round" stroke-linecap="round" />
<polyline points="259.5,62.2 266.0,62.4 272.4,62.2 278.4,59.0 284.9,59.5" fill="none" stroke="#0a0a0a" stroke-width="2.8" stroke-linejoin="round" stroke-linecap="round" />
<polyline points="809.9,296.1 817.3,296.6 824.2,299.1" fill="none" stroke="#0a0a0a" stroke-width="2.8" stroke-linejoin="round" stroke-linecap="round" />
<polyline points="407.3,373.5 415.2,374.1 422.7,371.8" fill="none" stroke="#0a0a0a" stroke-width="2.8" stroke-linejoin="round" stroke-linecap="round" />
<polyline points="386.0,86.3 392.5,84.7 398.3,80.7 405.0,79.8" fill="none" stroke="#0a0a0a" stroke-width="2.8" stroke-linejoin="round" stroke-linecap="round" />
<polyline points="170.2,129.4 179.1,130.1 187.9,131.0" fill="none" stroke="#0a0a0a" stroke-width="2.8" stroke-linejoin="round" stroke-linecap="round" />
<polyline points="449.8,53.7 456.1,52.1 462.3,50.1 468.6,48.7" fill="none" stroke="#0a0a0a" stroke-width="2.8" stroke-linejoin="round" stroke-linecap="round" />
<polyline points="383.4,394.0 388.3,397.7 393.6,400.9 397.5,406.0" fill="none" stroke="#0a0a0a" stroke-width="2.8" stroke-linejoin="round" stroke-linecap="round" />
<polyline points="550.3,125.0 554.6,124.1 559.0,124.0" fill="none" stroke="#0a0a0a" stroke-width="2.8" stroke-linejoin="round" stroke-linecap="round" />
<polyline points="81.8,211.6 84.9,211.7 87.9,211.8" fill="none" stroke="#0a0a0a" stroke-width="2.8" stroke-linejoin="round" stroke-linecap="round" />
<polyline points="617.4,113.9 623.9,109.5 631.0,107.1 638.7,106.3" fill="none" stroke="#0a0a0a" stroke-width="2.8" stroke-linejoin="round" stroke-linecap="round" />
<polyline points="724.9,169.5 730.9,174.2 737.8,177.2 744.4,180.7" fill="none" stroke="#0a0a0a" stroke-width="2.8" stroke-linejoin="round" stroke-linecap="round" />
<polyline points="100.0,365.1 105.5,365.4 110.8,367.2" fill="none" stroke="#0a0a0a" stroke-width="2.8" stroke-linejoin="round" stroke-linecap="round" />
<polyline points="166.4,121.6 170.3,123.3 174.5,123.0" fill="none" stroke="#0a0a0a" stroke-width="2.8" stroke-linejoin="round" stroke-linecap="round" />
<polyline points="599.6,380.6 607.6,381.8 615.0,385.3" fill="none" stroke="#0a0a0a" stroke-width="2.8" stroke-linejoin="round" stroke-linecap="round" />
<polyline points="714.4,174.3 721.5,177.2 728.4,180.4 734.7,184.9" fill="none" stroke="#0a0a0a" stroke-width="2.8" stroke-linejoin="round" stroke-linecap="round" />
<polyline points="791.3,275.2 797.5,278.1 803.1,282.0" fill="none" stroke="#0a0a0a" stroke-width="2.8" stroke-linejoin="round" stroke-linecap="round" />
<polyline points="569.8,301.1 576.4,300.6 582.7,298.7 589.5,299.3" fill="none" stroke="#0a0a0a" stroke-width="2.8" stroke-linejoin="round" stroke-linecap="round" />
<polyline points="220.4,60.5 227.3,57.6 234.1,58.2 241.0,57.1" fill="none" stroke="#0a0a0a" stroke-width="2.8" stroke-linejoin="round" stroke-linecap="round" />
<polyline points="427.6,348.1 431.2,354.8 434.4,361.7 437.9,368.5" fill="none" stroke="#0a0a0a" stroke-width="2.8" stroke-linejoin="round" stroke-linecap="round" />
<polyline points="484.0,190.1 489.7,194.8 495.5,199.3 499.4,206.0" fill="none" stroke="#0a0a0a" stroke-width="2.8" stroke-linejoin="round" stroke-linecap="round" />
<polyline points="474.7,327.8 483.5,328.2 492.0,326.0" fill="none" stroke="#0a0a0a" stroke-width="2.8" stroke-linejoin="round" stroke-linecap="round" />
<polyline points="449.4,341.0 446.1,343.5 442.7,344.9" fill="none" stroke="#0a0a0a" stroke-width="2.8" stroke-linejoin="round" stroke-linecap="round" />
<polyline points="431.4,356.6 430.1,364.4 431.4,372.3" fill="none" stroke="#0a0a0a" stroke-width="2.8" stroke-linejoin="round" stroke-linecap="round" />
<polyline points="521.3,418.3 527.5,418.8 533.7,417.1 539.9,418.4 546.1,418.2" fill="none" stroke="#0a0a0a" stroke-width="2.8" stroke-linejoin="round" stroke-linecap="round" />
<polyline points="140.5,89.7 146.9,91.7 152.3,95.6" fill="none" stroke="#0a0a0a" stroke-width="2.8" stroke-linejoin="round" stroke-linecap="round" />
<polyline points="142.2,293.0 149.5,294.0 157.0,294.1 164.1,296.5" fill="none" stroke="#0a0a0a" stroke-width="2.8" stroke-linejoin="round" stroke-linecap="round" />
<polyline points="842.2,123.4 847.0,128.6 854.2,129.4 859.2,134.2" fill="none" stroke="#0a0a0a" stroke-width="2.8" stroke-linejoin="round" stroke-linecap="round" />
<polyline points="316.8,104.6 323.5,104.7 330.1,105.5" fill="none" stroke="#0a0a0a" stroke-width="2.8" stroke-linejoin="round" stroke-linecap="round" />
<polyline points="315.4,66.0 322.2,63.6 327.6,59.3 333.7,55.8" fill="none" stroke="#0a0a0a" stroke-width="2.8" stroke-linejoin="round" stroke-linecap="round" />
<polyline points="99.7,152.7 102.8,152.6 106.0,152.6" fill="none" stroke="#0a0a0a" stroke-width="2.8" stroke-linejoin="round" stroke-linecap="round" />
<polyline points="614.3,433.8 621.8,435.0 628.3,431.7 635.5,431.9" fill="none" stroke="#0a0a0a" stroke-width="2.8" stroke-linejoin="round" stroke-linecap="round" />
<polyline points="506.6,129.8 511.2,134.8 514.4,140.5 516.7,146.6" fill="none" stroke="#0a0a0a" stroke-width="2.8" stroke-linejoin="round" stroke-linecap="round" />
<polyline points="199.3,220.1 205.4,221.1 211.5,221.4 217.6,222.1" fill="none" stroke="#0a0a0a" stroke-width="2.8" stroke-linejoin="round" stroke-linecap="round" />
<polyline points="109.0,167.6 113.1,162.6 116.8,157.4 121.9,153.2" fill="none" stroke="#0a0a0a" stroke-width="2.8" stroke-linejoin="round" stroke-linecap="round" />
<polyline points="485.8,373.7 494.4,370.9 501.5,364.9" fill="none" stroke="#0a0a0a" stroke-width="2.8" stroke-linejoin="round" stroke-linecap="round" />
<polyline points="781.1,286.0 786.7,289.5 793.5,289.4 798.7,294.2 805.3,294.8" fill="none" stroke="#0a0a0a" stroke-width="2.8" stroke-linejoin="round" stroke-linecap="round" />
<polyline points="725.7,368.7 732.6,371.6 740.3,370.1 747.0,374.1" fill="none" stroke="#0a0a0a" stroke-width="2.8" stroke-linejoin="round" stroke-linecap="round" />
<polyline points="248.5,368.4 257.1,367.1 265.4,368.2" fill="none" stroke="#0a0a0a" stroke-width="2.8" stroke-linejoin="round" stroke-linecap="round" />
<polyline points="175.8,167.0 182.5,163.9 189.0,160.5 196.2,158.8" fill="none" stroke="#0a0a0a" stroke-width="2.8" stroke-linejoin="round" stroke-linecap="round" />
<polyline points="130.2,204.5 133.0,207.1 136.2,208.0" fill="none" stroke="#0a0a0a" stroke-width="2.8" stroke-linejoin="round" stroke-linecap="round" />
<polyline points="115.6,71.8 122.1,70.5 125.4,64.9 131.0,62.3 136.3,59.4" fill="none" stroke="#0a0a0a" stroke-width="2.8" stroke-linejoin="round" stroke-linecap="round" />
<polyline points="211.8,364.1 217.7,366.1 222.6,370.0" fill="none" stroke="#0a0a0a" stroke-width="2.8" stroke-linejoin="round" stroke-linecap="round" />
<polyline points="59.5,401.5 66.9,403.8 73.4,408.6" fill="none" stroke="#0a0a0a" stroke-width="2.8" stroke-linejoin="round" stroke-linecap="round" />
<polyline points="348.4,119.0 354.9,120.2 361.6,120.3" fill="none" stroke="#0a0a0a" stroke-width="2.8" stroke-linejoin="round" stroke-linecap="round" />
<polyline points="522.1,173.2 529.7,173.9 537.1,171.3" fill="none" stroke="#0a0a0a" stroke-width="2.8" stroke-linejoin="round" stroke-linecap="round" />
<polyline points="181.4,342.7 188.7,345.2 195.1,349.7 202.9,351.2" fill="none" stroke="#0a0a0a" stroke-width="2.8" stroke-linejoin="round" stroke-linecap="round" />
<polyline points="418.5,262.0 425.5,263.5 432.4,266.1" fill="none" stroke="#0a0a0a" stroke-width="2.8" stroke-linejoin="round" stroke-linecap="round" />
<polyline points="719.5,230.1 724.2,230.7 727.6,233.4" fill="none" stroke="#0a0a0a" stroke-width="2.8" stroke-linejoin="round" stroke-linecap="round" />
<polyline points="794.7,323.4 798.8,320.9 802.8,321.9" fill="none" stroke="#0a0a0a" stroke-width="2.8" stroke-linejoin="round" stroke-linecap="round" />
<polyline points="815.4,136.3 820.5,140.3 826.5,142.1 832.4,144.1 838.1,146.7" fill="none" stroke="#0a0a0a" stroke-width="2.8" stroke-linejoin="round" stroke-linecap="round" />
<polyline points="777.5,98.2 784.1,97.7 790.2,95.4 796.4,93.8 802.9,92.9" fill="none" stroke="#0a0a0a" stroke-width="2.8" stroke-linejoin="round" stroke-linecap="round" />
<polyline points="339.8,328.1 346.0,329.9 352.4,330.4 358.6,332.5 364.7,334.8" fill="none" stroke="#0a0a0a" stroke-width="2.8" stroke-linejoin="round" stroke-linecap="round" />
<polyline points="283.9,233.9 289.4,233.4 294.9,233.3" fill="none" stroke="#0a0a0a" stroke-width="2.8" stroke-linejoin="round" stroke-linecap="round" />
<polyline points="295.0,356.8 302.0,360.9 309.1,364.5 316.4,367.6" fill="none" stroke="#0a0a0a" stroke-width="2.8" stroke-linejoin="round" stroke-linecap="round" />
<polyline points="641.6,330.7 649.8,327.8 658.4,326.2" fill="none" stroke="#0a0a0a" stroke-width="2.8" stroke-linejoin="round" stroke-linecap="round" />
<polyline points="629.0,315.6 634.2,315.5 639.3,314.8" fill="none" stroke="#0a0a0a" stroke-width="2.8" stroke-linejoin="round" stroke-linecap="round" />
<polyline points="261.9,65.1 268.9,66.5 275.9,67.4" fill="none" stroke="#0a0a0a" stroke-width="2.8" stroke-linejoin="round" stroke-linecap="round" />
<polyline points="154.6,57.3 161.3,58.5 168.1,56.9 174.8,57.1" fill="none" stroke="#0a0a0a" stroke-width="2.8" stroke-linejoin="round" stroke-linecap="round" />
<polyline points="781.0,420.3 788.1,419.9 795.2,418.5" fill="none" stroke="#0a0a0a" stroke-width="2.8" stroke-linejoin="round" stroke-linecap="round" />
<polyline points="425.4,93.7 432.7,90.4 440.3,88.1 448.3,87.2" fill="none" stroke="#0a0a0a" stroke-width="2.8" stroke-linejoin="round" stroke-linecap="round" />
<polyline points="245.9,385.2 253.2,385.7 260.4,386.8" fill="none" stroke="#0a0a0a" stroke-width="2.8" stroke-linejoin="round" stroke-linecap="round" />
<polyline points="72.1,121.8 80.4,120.0 88.7,118.4" fill="none" stroke="#0a0a0a" stroke-width="2.8" stroke-linejoin="round" stroke-linecap="round" />
<polyline points="289.9,388.5 297.2,391.8 304.3,395.5" fill="none" stroke="#0a0a0a" stroke-width="2.8" stroke-linejoin="round" stroke-linecap="round" />
<polyline points="359.6,277.0 364.8,281.3 370.6,284.7" fill="none" stroke="#0a0a0a" stroke-width="2.8" stroke-linejoin="round" stroke-linecap="round" />
<polyline points="435.5,370.5 439.3,369.4 443.6,369.9" fill="none" stroke="#0a0a0a" stroke-width="2.8" stroke-linejoin="round" stroke-linecap="round" />
<polyline points="582.9,366.4 586.7,366.0 590.6,364.5" fill="none" stroke="#0a0a0a" stroke-width="2.8" stroke-linejoin="round" stroke-linecap="round" />
<polyline points="772.2,324.6 779.3,326.0 786.4,325.4 793.6,326.2" fill="none" stroke="#0a0a0a" stroke-width="2.8" stroke-linejoin="round" stroke-linecap="round" />
<polyline points="282.2,160.2 289.1,159.4 296.1,158.8 302.7,157.0" fill="none" stroke="#0a0a0a" stroke-width="2.8" stroke-linejoin="round" stroke-linecap="round" />
<polyline points="663.7,314.2 671.3,314.6 678.5,316.7" fill="none" stroke="#0a0a0a" stroke-width="2.8" stroke-linejoin="round" stroke-linecap="round" />
<polyline points="53.8,173.6 59.1,169.5 64.9,166.8 70.9,164.5" fill="none" stroke="#0a0a0a" stroke-width="2.8" stroke-linejoin="round" stroke-linecap="round" />
<polyline points="546.9,290.6 554.4,293.1 562.0,292.0 569.7,290.7" fill="none" stroke="#0a0a0a" stroke-width="2.8" stroke-linejoin="round" stroke-linecap="round" />
<polyline points="469.2,52.7 469.6,59.4 473.3,65.3 472.9,72.2" fill="none" stroke="#0a0a0a" stroke-width="2.8" stroke-linejoin="round" stroke-linecap="round" />
<polyline points="560.9,296.3 567.2,294.6 573.4,292.7" fill="none" stroke="#0a0a0a" stroke-width="2.8" stroke-linejoin="round" stroke-linecap="round" />
<polyline points="733.8,359.4 740.3,358.4 745.8,354.9 751.9,352.9 758.4,352.2" fill="none" stroke="#0a0a0a" stroke-width="2.8" stroke-linejoin="round" stroke-linecap="round" />
<polyline points="51.8,304.1 56.3,309.3 61.3,313.8 65.2,319.5" fill="none" stroke="#0a0a0a" stroke-width="2.8" stroke-linejoin="round" stroke-linecap="round" />
<polyline points="425.9,294.5 432.8,295.7 439.7,297.9 446.9,295.7" fill="none" stroke="#0a0a0a" stroke-width="2.8" stroke-linejoin="round" stroke-linecap="round" />
<polyline points="443.2,316.7 450.3,319.1 454.7,325.0 461.5,327.7" fill="none" stroke="#0a0a0a" stroke-width="2.8" stroke-linejoin="round" stroke-linecap="round" />
<polyline points="436.0,417.9 440.4,425.5 445.4,432.8" fill="none" stroke="#0a0a0a" stroke-width="2.8" stroke-linejoin="round" stroke-linecap="round" />
<polyline points="626.9,436.8 633.6,435.4 640.2,433.3 647.2,433.6" fill="none" stroke="#0a0a0a" stroke-width="2.8" stroke-linejoin="round" stroke-linecap="round" />
<polyline points="172.8,395.5 178.4,396.4 184.0,398.1" fill="none" stroke="#0a0a0a" stroke-width="2.8" stroke-linejoin="round" stroke-linecap="round" />
<polyline points="282.0,291.4 287.1,294.8 292.8,297.0 298.0,300.2" fill="none" stroke="#0a0a0a" stroke-width="2.8" stroke-linejoin="round" stroke-linecap="round" />
<polyline points="596.3,202.0 602.3,206.0 608.8,209.2 614.7,213.7" fill="none" stroke="#0a0a0a" stroke-width="2.8" stroke-linejoin="round" stroke-linecap="round" />
<polyline points="452.9,320.5 458.6,318.8 463.4,322.4" fill="none" stroke="#0a0a0a" stroke-width="2.8" stroke-linejoin="round" stroke-linecap="round" />
<polyline points="270.4,55.7 277.1,55.4 282.4,50.9 289.1,50.7 294.6,46.8" fill="none" stroke="#0a0a0a" stroke-width="2.8" stroke-linejoin="round" stroke-linecap="round" />
<polyline points="323.0,400.0 328.9,395.6 336.1,393.8 342.2,389.7" fill="none" stroke="#0a0a0a" stroke-width="2.8" stroke-linejoin="round" stroke-linecap="round" />
<polyline points="324.8,96.7 331.8,94.7 339.1,95.4" fill="none" stroke="#0a0a0a" stroke-width="2.8" stroke-linejoin="round" stroke-linecap="round" />
<polyline points="620.7,452.6 626.8,454.5 633.0,455.7" fill="none" stroke="#0a0a0a" stroke-width="2.8" stroke-linejoin="round" stroke-linecap="round" />
<polyline points="811.2,435.1 814.0,436.7 816.8,438.4" fill="none" stroke="#0a0a0a" stroke-width="2.8" stroke-linejoin="round" stroke-linecap="round" />
<polyline points="557.6,265.9 561.5,267.1 564.7,266.3" fill="none" stroke="#0a0a0a" stroke-width="2.8" stroke-linejoin="round" stroke-linecap="round" />
<polyline points="212.2,100.1 221.0,100.6 229.9,98.3" fill="none" stroke="#0a0a0a" stroke-width="2.8" stroke-linejoin="round" stroke-linecap="round" />
<polyline points="727.4,300.8 733.7,299.6 740.1,301.9" fill="none" stroke="#0a0a0a" stroke-width="2.8" stroke-linejoin="round" stroke-linecap="round" />
<polyline points="564.0,291.8 571.8,291.4 578.3,286.9" fill="none" stroke="#0a0a0a" stroke-width="2.8" stroke-linejoin="round" stroke-linecap="round" />
<polyline points="288.5,306.8 293.3,304.0 298.7,303.3" fill="none" stroke="#0a0a0a" stroke-width="2.8" stroke-linejoin="round" stroke-linecap="round" />
<polyline points="709.9,370.8 716.2,371.5 722.4,372.8" fill="none" stroke="#0a0a0a" stroke-width="2.8" stroke-linejoin="round" stroke-linecap="round" />
<polyline points="140.3,149.7 146.8,146.2 153.8,144.6" fill="none" stroke="#0a0a0a" stroke-width="2.8" stroke-linejoin="round" stroke-linecap="round" />
<polyline points="671.1,277.7 678.3,279.5 684.2,284.0 691.3,286.0" fill="none" stroke="#0a0a0a" stroke-width="2.8" stroke-linejoin="round" stroke-linecap="round" />
<polyline points="361.9,270.4 364.9,271.2 368.2,271.4" fill="none" stroke="#0a0a0a" stroke-width="2.8" stroke-linejoin="round" stroke-linecap="round" />
<polyline points="81.1,244.8 87.3,247.9 90.3,253.8" fill="none" stroke="#0a0a0a" stroke-width="2.8" stroke-linejoin="round" stroke-linecap="round" />
<polyline points="57.1,401.1 64.8,402.9 72.8,402.4 80.6,403.3" fill="none" stroke="#0a0a0a" stroke-width="2.8" stroke-linejoin="round" stroke-linecap="round" />
<polyline points="93.9,350.9 100.3,349.6 106.3,347.1" fill="none" stroke="#0a0a0a" stroke-width="2.8" stroke-linejoin="round" stroke-linecap="round" />
<polyline points="447.0,390.0 455.5,388.1 463.6,389.3" fill="none" stroke="#0a0a0a" stroke-width="2.8" stroke-linejoin="round" stroke-linecap="round" />
<polyline points="274.7,420.0 279.4,419.8 283.7,418.0" fill="none" stroke="#0a0a0a" stroke-width="2.8" stroke-linejoin="round" stroke-linecap="round" />
<polyline points="697.2,370.7 701.6,372.9 707.4,372.2" fill="none" stroke="#0a0a0a" stroke-width="2.8" stroke-linejoin="round" stroke-linecap="round" />
<polyline points="309.8,141.9 314.6,140.5 319.3,140.1" fill="none" stroke="#0a0a0a" stroke-width="2.8" stroke-linejoin="round" stroke-linecap="round" />
<polyline points="764.2,303.9 768.6,301.6 771.9,298.0" fill="none" stroke="#0a0a0a" stroke-width="2.8" stroke-linejoin="round" stroke-linecap="round" />
<polyline points="326.1,388.5 331.5,391.9 337.7,392.8" fill="none" stroke="#0a0a0a" stroke-width="2.8" stroke-linejoin="round" stroke-linecap="round" />
<polyline points="500.3,433.4 503.2,437.9 505.8,442.6" fill="none" stroke="#0a0a0a" stroke-width="2.8" stroke-linejoin="round" stroke-linecap="round" />
<polyline points="542.4,353.2 549.3,353.8 556.0,351.9 563.0,353.9" fill="none" stroke="#0a0a0a" stroke-width="2.8" stroke-linejoin="round" stroke-linecap="round" />
<polyline points="293.4,107.6 301.3,106.0 309.3,105.3" fill="none" stroke="#0a0a0a" stroke-width="2.8" stroke-linejoin="round" stroke-linecap="round" />
<polyline points="405.3,367.0 412.9,365.4 419.9,362.6" fill="none" stroke="#0a0a0a" stroke-width="2.8" stroke-linejoin="round" stroke-linecap="round" />
<polyline points="646.4,338.5 650.7,341.7 656.0,343.6" fill="none" stroke="#0a0a0a" stroke-width="2.8" stroke-linejoin="round" stroke-linecap="round" />
<polyline points="406.9,359.9 412.4,362.9 418.1,365.3 422.7,369.9 428.7,371.9" fill="none" stroke="#0a0a0a" stroke-width="2.8" stroke-linejoin="round" stroke-linecap="round" />
<polyline points="150.6,101.4 155.2,96.9 160.5,93.3 165.4,89.2 170.6,85.5" fill="none" stroke="#0a0a0a" stroke-width="2.8" stroke-linejoin="round" stroke-linecap="round" />
<polyline points="255.9,344.9 259.1,345.4 261.8,347.7" fill="none" stroke="#0a0a0a" stroke-width="2.8" stroke-linejoin="round" stroke-linecap="round" />
<polyline points="831.1,377.9 834.8,379.4 835.3,384.0" fill="none" stroke="#0a0a0a" stroke-width="2.8" stroke-linejoin="round" stroke-linecap="round" />
<polyline points="342.6,94.4 349.0,95.2 354.7,92.0 361.2,93.5" fill="none" stroke="#0a0a0a" stroke-width="2.8" stroke-linejoin="round" stroke-linecap="round" />
<polyline points="806.4,363.1 811.8,360.1 817.3,357.2 822.9,354.5 828.2,351.0" fill="none" stroke="#0a0a0a" stroke-width="2.8" stroke-linejoin="round" stroke-linecap="round" />
<polyline points="729.5,302.2 735.6,299.6 741.9,297.5 748.2,295.3" fill="none" stroke="#0a0a0a" stroke-width="2.8" stroke-linejoin="round" stroke-linecap="round" />
<polyline points="830.9,64.2 835.9,67.5 839.4,72.4" fill="none" stroke="#0a0a0a" stroke-width="2.8" stroke-linejoin="round" stroke-linecap="round" />
<polyline points="369.7,80.5 377.9,79.4 384.6,75.1" fill="none" stroke="#0a0a0a" stroke-width="2.8" stroke-linejoin="round" stroke-linecap="round" />
<polyline points="651.3,268.2 656.7,269.5 661.7,271.5" fill="none" stroke="#0a0a0a" stroke-width="2.8" stroke-linejoin="round" stroke-linecap="round" />
<polyline points="454.4,395.6 461.4,396.9 468.3,399.0" fill="none" stroke="#0a0a0a" stroke-width="2.8" stroke-linejoin="round" stroke-linecap="round" />
<polyline points="343.2,214.1 349.4,213.2 355.4,210.3 361.7,210.5" fill="none" stroke="#0a0a0a" stroke-width="2.8" stroke-linejoin="round" stroke-linecap="round" />
<polyline points="344.8,401.0 352.0,405.7 359.8,409.1" fill="none" stroke="#0a0a0a" stroke-width="2.8" stroke-linejoin="round" stroke-linecap="round" />
<polyline points="655.5,301.7 662.4,299.1 669.5,296.8" fill="none" stroke="#0a0a0a" stroke-width="2.8" stroke-linejoin="round" stroke-linecap="round" />
<polyline points="40.9,82.9 46.3,79.0 52.7,76.9 58.8,74.3" fill="none" stroke="#0a0a0a" stroke-width="2.8" stroke-linejoin="round" stroke-linecap="round" />
<polyline points="472.1,207.4 478.7,208.7 485.0,211.5 491.8,211.5" fill="none" stroke="#0a0a0a" stroke-width="2.8" stroke-linejoin="round" stroke-linecap="round" />
<polyline points="322.4,120.3 329.0,124.3 336.1,127.3 341.7,133.0" fill="none" stroke="#0a0a0a" stroke-width="2.8" stroke-linejoin="round" stroke-linecap="round" />
<polyline points="284.0,387.8 290.9,390.0 298.2,388.6" fill="none" stroke="#0a0a0a" stroke-width="2.8" stroke-linejoin="round" stroke-linecap="round" />
<polyline points="692.2,65.5 699.6,65.5 706.9,66.9" fill="none" stroke="#0a0a0a" stroke-width="2.8" stroke-linejoin="round" stroke-linecap="round" />
<polyline points="292.5,368.6 300.4,368.2 308.3,369.7 316.1,369.9" fill="none" stroke="#0a0a0a" stroke-width="2.8" stroke-linejoin="round" stroke-linecap="round" />
<polyline points="475.3,216.8 481.5,217.9 487.8,218.2 493.8,219.9 500.2,219.6" fill="none" stroke="#0a0a0a" stroke-width="2.8" stroke-linejoin="round" stroke-linecap="round" />
<polyline points="565.2,316.4 569.8,321.6 574.5,326.5 580.8,329.4" fill="none" stroke="#0a0a0a" stroke-width="2.8" stroke-linejoin="round" stroke-linecap="round" />
<polyline points="138.8,447.3 141.7,449.6 144.9,451.2" fill="none" stroke="#0a0a0a" stroke-width="2.8" stroke-linejoin="round" stroke-linecap="round" />
<polyline points="327.5,295.5 336.3,293.8 344.4,290.4" fill="none" stroke="#0a0a0a" stroke-width="2.8" stroke-linejoin="round" stroke-linecap="round" />
<polyline points="766.4,259.7 772.9,256.6 779.8,256.6 786.6,255.6" fill="none" stroke="#0a0a0a" stroke-width="2.8" stroke-linejoin="round" stroke-linecap="round" />
<polyline points="282.1,235.8 287.9,237.2 293.6,238.9" fill="none" stroke="#0a0a0a" stroke-width="2.8" stroke-linejoin="round" stroke-linecap="round" />
<polyline points="439.6,447.7 448.4,446.3 457.0,448.0" fill="none" stroke="#0a0a0a" stroke-width="2.8" stroke-linejoin="round" stroke-linecap="round" />
<polyline points="244.3,380.3 250.6,377.6 257.0,375.2" fill="none" stroke="#0a0a0a" stroke-width="2.8" stroke-linejoin="round" stroke-linecap="round" />
<polyline points="559.4,73.4 567.3,71.6 575.1,71.8 582.9,72.1" fill="none" stroke="#0a0a0a" stroke-width="2.8" stroke-linejoin="round" stroke-linecap="round" />
<polyline points="720.5,307.4 726.8,310.7 733.4,311.5 740.2,310.2" fill="none" stroke="#0a0a0a" stroke-width="2.8" stroke-linejoin="round" stroke-linecap="round" />
<polyline points="662.3,101.3 667.7,104.4 673.8,105.7" fill="none" stroke="#0a0a0a" stroke-width="2.8" stroke-linejoin="round" stroke-linecap="round" />
<polyline points="627.9,293.1 631.8,298.6 638.1,300.1 643.1,303.6" fill="none" stroke="#0a0a0a" stroke-width="2.8" stroke-linejoin="round" stroke-linecap="round" />
<polyline points="732.0,344.9 737.8,341.7 744.7,342.0" fill="none" stroke="#0a0a0a" stroke-width="2.8" stroke-linejoin="round" stroke-linecap="round" />
<polyline points="123.4,332.5 129.2,336.6 135.8,337.5 142.2,339.3" fill="none" stroke="#0a0a0a" stroke-width="2.8" stroke-linejoin="round" stroke-linecap="round" />
<polyline points="219.7,101.7 227.3,103.2 234.9,104.4 242.2,107.9" fill="none" stroke="#0a0a0a" stroke-width="2.8" stroke-linejoin="round" stroke-linecap="round" />
<polyline points="87.9,348.3 95.2,345.8 101.8,341.9" fill="none" stroke="#0a0a0a" stroke-width="2.8" stroke-linejoin="round" stroke-linecap="round" />
<polyline points="238.5,284.8 243.6,288.3 248.3,292.3" fill="none" stroke="#0a0a0a" stroke-width="2.8" stroke-linejoin="round" stroke-linecap="round" />
<polyline points="431.2,312.5 438.8,314.6 446.3,317.3 453.7,319.9" fill="none" stroke="#0a0a0a" stroke-width="2.8" stroke-linejoin="round" stroke-linecap="round" />
<polyline points="556.1,120.5 564.2,119.0 572.3,117.0" fill="none" stroke="#0a0a0a" stroke-width="2.8" stroke-linejoin="round" stroke-linecap="round" />
<polyline points="252.6,86.1 258.7,86.2 264.7,88.8 270.8,89.2" fill="none" stroke="#0a0a0a" stroke-width="2.8" stroke-linejoin="round" stroke-linecap="round" />
<polyline points="770.6,73.4 778.5,73.4 786.4,73.4 794.3,71.2" fill="none" stroke="#0a0a0a" stroke-width="2.8" stroke-linejoin="round" stroke-linecap="round" />
<polyline points="615.3,446.9 623.2,447.6 630.5,443.8 638.5,445.8" fill="none" stroke="#0a0a0a" stroke-width="2.8" stroke-linejoin="round" stroke-linecap="round" />
<polyline points="279.0,193.2 287.7,192.6 296.2,194.6" fill="none" stroke="#0a0a0a" stroke-width="2.8" stroke-linejoin="round" stroke-linecap="round" />
<polyline points="440.8,426.2 447.3,426.2 453.8,425.8 460.2,424.3" fill="none" stroke="#0a0a0a" stroke-width="2.8" stroke-linejoin="round" stroke-linecap="round" />
<polyline points="720.1,74.1 722.8,78.9 727.8,80.9" fill="none" stroke="#0a0a0a" stroke-width="2.8" stroke-linejoin="round" stroke-linecap="round" />
<polyline points="322.2,376.9 326.9,380.0 331.3,383.4" fill="none" stroke="#0a0a0a" stroke-width="2.8" stroke-linejoin="round" stroke-linecap="round" />
<polyline points="233.2,100.3 236.7,100.3 240.3,100.9" fill="none" stroke="#0a0a0a" stroke-width="2.8" stroke-linejoin="round" stroke-linecap="round" />
<polyline points="70.6,336.1 77.2,337.4 81.1,342.4 86.3,345.6" fill="none" stroke="#0a0a0a" stroke-width="2.8" stroke-linejoin="round" stroke-linecap="round" />
<polyline points="225.5,326.8 231.3,326.8 236.1,324.1" fill="none" stroke="#0a0a0a" stroke-width="2.8" stroke-linejoin="round" stroke-linecap="round" />
<polyline points="82.4,95.7 87.5,91.3 93.0,87.6 98.2,83.3" fill="none" stroke="#0a0a0a" stroke-width="2.8" stroke-linejoin="round" stroke-linecap="round" />
<polyline points="309.6,347.5 315.7,350.9 320.8,355.5" fill="none" stroke="#0a0a0a" stroke-width="2.8" stroke-linejoin="round" stroke-linecap="round" />
<polyline points="387.6,51.9 391.4,48.9 395.7,46.6" fill="none" stroke="#0a0a0a" stroke-width="2.8" stroke-linejoin="round" stroke-linecap="round" />
</g></g>
<g clip-path="url(#cb)"><g filter="url(#soft)">
<rect x="31" y="468" width="823" height="408" fill="#008000" />
<polygon points="724.2,840.0 729.9,843.6 735.7,847.2 741.6,850.4 747.7,853.4 753.7,856.5 759.8,859.4 766.3,861.6 766.3,861.6 760.6,857.9 754.7,854.5 749.0,850.9 742.8,848.2 736.9,844.9 730.5,842.5 724.2,840.0" fill="url(#pg2)" stroke="#0a0a0a" stroke-width="2.8" stroke-linejoin="round" />
<polygon points="601.3,723.3 608.1,725.2 614.9,726.8 621.7,728.5 628.6,730.0 635.5,731.0 642.5,731.4 649.5,732.1 649.5,732.1 642.8,730.1 636.0,728.5 629.1,727.2 622.2,725.9 615.3,724.4 608.3,723.8 601.3,723.3" fill="url(#pg1)" stroke="#0a0a0a" stroke-width="2.8" stroke-linejoin="round" />
<polygon points="770.3,803.2 772.7,804.5 775.1,804.9 777.6,805.3 780.0,806.3 782.5,806.1 785.0,805.5 787.5,804.6 787.5,804.6 785.2,803.5 782.8,802.6 780.3,802.4 777.9,801.5 775.4,801.5 772.9,802.1 770.3,803.2" fill="url(#pg2)" stroke="#0a0a0a" stroke-width="2.8" stroke-linejoin="round" />
<polygon points="253.7,857.4 260.2,859.9 266.8,862.0 273.5,863.1 280.2,864.1 287.0,864.3 293.9,864.6 300.8,864.0 300.8,864.0 294.3,861.6 287.7,859.5 281.1,857.4 274.3,857.5 267.6,856.3 260.7,856.7 253.7,857.4" fill="url(#pg2)" stroke="#0a0a0a" stroke-width="2.8" stroke-linejoin="round" />
<polygon points="659.9,556.7 664.9,559.8 670.3,561.9 675.6,564.1 681.1,565.8 686.8,567.0 692.4,568.4 698.1,569.4 698.1,569.4 693.0,566.6 687.8,563.9 682.3,562.2 677.0,560.1 671.3,559.0 665.7,557.5 659.9,556.7" fill="url(#pg2)" stroke="#0a0a0a" stroke-width="2.8" stroke-linejoin="round" />
<polygon points="812.1,811.0 818.1,812.3 824.1,813.5 830.2,813.6 836.2,814.7 842.3,814.4 848.4,814.5 854.5,814.1 854.5,814.1 848.6,812.6 842.5,812.0 836.5,811.1 830.4,810.7 824.3,810.5 818.2,810.7 812.1,811.0" fill="url(#pg2)" stroke="#0a0a0a" stroke-width="2.8" stroke-linejoin="round" />
<polygon points="500.6,864.9 504.5,867.8 508.7,869.9 512.9,871.8 517.3,873.1 521.8,874.1 526.4,875.0 531.2,875.1 531.2,875.1 527.2,872.5 523.2,870.1 518.7,868.8 514.4,867.3 510.0,865.8 505.5,865.0 500.6,864.9" fill="url(#pg3)" stroke="#0a0a0a" stroke-width="2.8" stroke-linejoin="round" />
<polygon points="435.9,796.3 438.9,798.5 442.1,799.5 445.3,801.3 448.6,802.0 452.0,802.1 455.6,801.6 459.2,800.9 459.2,800.9 456.1,798.9 452.9,797.5 449.6,796.8 446.3,795.8 442.9,795.6 439.5,795.6 435.9,796.3" fill="url(#pg2)" stroke="#0a0a0a" stroke-width="2.8" stroke-linejoin="round" />
<polygon points="572.6,691.2 577.6,693.9 582.7,695.8 588.0,697.5 593.5,698.3 598.7,699.7 604.3,700.4 609.8,700.8 609.8,700.8 604.8,698.1 599.7,696.1 594.3,695.0 589.1,693.0 583.7,692.0 578.2,691.5 572.6,691.2" fill="url(#pg3)" stroke="#0a0a0a" stroke-width="2.8" stroke-linejoin="round" />
<polygon points="526.1,709.5 528.5,711.4 530.9,713.0 533.6,713.7 536.3,714.8 538.9,715.8 541.8,716.0 544.8,715.7 544.8,715.7 542.5,713.6 540.1,712.1 537.4,711.3 534.8,710.1 531.9,710.0 529.1,709.4 526.1,709.5" fill="url(#pg1)" stroke="#0a0a0a" stroke-width="2.8" stroke-linejoin="round" />
<polygon points="554.2,752.0 557.9,752.9 561.5,752.8 565.2,753.2 568.8,753.3 572.4,752.1 575.9,751.1 579.4,749.9 579.4,749.9 575.7,749.3 572.1,748.5 568.5,748.7 564.8,748.7 561.3,749.6 557.7,750.6 554.2,752.0" fill="url(#pg1)" stroke="#0a0a0a" stroke-width="2.8" stroke-linejoin="round" />
<polygon points="687.6,693.5 691.2,695.7 695.0,697.4 698.8,698.5 702.8,699.1 706.9,699.5 710.8,700.2 715.0,700.0 715.0,700.0 711.4,697.7 707.7,696.0 703.7,695.4 699.9,693.9 695.8,693.9 691.8,693.3 687.6,693.5" fill="url(#pg1)" stroke="#0a0a0a" stroke-width="2.8" stroke-linejoin="round" />
<polygon points="823.5,743.2 826.9,745.9 830.7,747.5 834.3,749.9 838.3,750.8 842.2,751.9 846.3,752.6 850.7,752.7 850.7,752.7 847.1,750.3 843.6,748.1 839.8,746.5 835.8,745.4 831.8,744.4 827.8,743.5 823.5,743.2" fill="url(#pg3)" stroke="#0a0a0a" stroke-width="2.8" stroke-linejoin="round" />
<polygon points="564.4,752.2 568.7,754.6 573.0,756.8 577.7,757.9 582.3,759.4 586.8,761.0 591.6,761.5 596.6,761.5 596.6,761.5 592.4,758.7 587.9,757.0 583.4,755.5 578.9,753.9 574.2,752.9 569.2,752.7 564.4,752.2" fill="url(#pg2)" stroke="#0a0a0a" stroke-width="2.8" stroke-linejoin="round" />
<polygon points="622.9,820.1 627.0,822.5 631.1,824.5 635.5,825.0 639.8,826.5 644.3,826.7 648.8,827.1 653.5,826.5 653.5,826.5 649.5,823.8 645.2,822.7 640.9,821.0 636.6,820.2 632.2,819.2 627.5,819.6 622.9,820.1" fill="url(#pg2)" stroke="#0a0a0a" stroke-width="2.8" stroke-linejoin="round" />
<polygon points="760.5,816.8 762.8,817.9 765.1,818.6 767.4,819.8 769.6,818.7 771.9,819.2 774.1,818.0 776.3,816.3 776.3,816.3 774.0,814.9 771.7,814.5 769.5,814.1 767.2,813.6 764.9,814.2 762.7,815.0 760.5,816.8" fill="url(#pg1)" stroke="#0a0a0a" stroke-width="2.8" stroke-linejoin="round" />
<polygon points="469.9,480.1 474.3,483.0 478.8,485.4 483.5,487.1 488.2,489.0 493.1,490.0 498.1,490.9 503.4,490.7 503.4,490.7 499.1,487.7 494.5,485.4 489.7,484.0 484.9,482.6 480.3,480.5 475.2,480.1 469.9,480.1" fill="url(#pg3)" stroke="#0a0a0a" stroke-width="2.8" stroke-linejoin="round" />
<polygon points="530.9,832.1 535.2,834.2 539.7,835.8 544.1,837.7 548.6,839.2 553.2,840.0 557.9,840.9 562.7,841.3 562.7,841.3 558.5,838.9 554.0,837.4 549.5,835.8 544.9,834.9 540.4,833.5 535.7,832.7 530.9,832.1" fill="url(#pg1)" stroke="#0a0a0a" stroke-width="2.8" stroke-linejoin="round" />
<polygon points="579.7,849.3 584.6,853.3 590.0,856.3 595.6,858.6 601.1,861.5 607.0,863.3 612.8,865.3 619.1,866.0 619.1,866.0 614.1,862.1 608.6,859.5 603.2,856.5 597.5,854.1 591.8,852.1 585.8,850.5 579.7,849.3" fill="url(#pg1)" stroke="#0a0a0a" stroke-width="2.8" stroke-linejoin="round" />
<polygon points="638.2,804.3 642.8,806.6 647.5,808.7 652.2,810.3 657.2,811.1 662.1,812.3 667.2,812.0 672.4,811.7 672.4,811.7 667.9,809.1 663.2,806.8 658.3,806.1 653.4,805.0 648.5,803.7 643.3,804.1 638.2,804.3" fill="url(#pg2)" stroke="#0a0a0a" stroke-width="2.8" stroke-linejoin="round" />
<polygon points="772.0,624.3 774.5,626.4 777.2,627.5 779.9,627.2 782.5,628.0 785.3,627.5 788.0,627.2 790.8,625.9 790.8,625.9 788.3,624.1 785.7,622.7 783.1,621.9 780.3,622.8 777.6,622.5 774.8,623.0 772.0,624.3" fill="url(#pg2)" stroke="#0a0a0a" stroke-width="2.8" stroke-linejoin="round" />
<polygon points="717.8,486.4 722.6,489.2 727.4,492.1 732.5,493.8 737.9,494.7 743.1,496.4 748.6,497.1 754.1,497.4 754.1,497.4 749.3,494.5 744.4,492.0 739.1,490.9 734.0,489.1 728.8,487.5 723.3,486.9 717.8,486.4" fill="url(#pg2)" stroke="#0a0a0a" stroke-width="2.8" stroke-linejoin="round" />
<polygon points="432.7,690.1 438.5,694.2 444.9,696.8 451.1,699.7 457.6,701.9 464.1,704.0 470.8,705.5 477.6,706.8 477.6,706.8 471.9,702.7 465.4,700.4 459.3,697.3 452.7,695.3 446.2,693.2 439.6,691.4 432.7,690.1" fill="url(#pg1)" stroke="#0a0a0a" stroke-width="2.8" stroke-linejoin="round" />
<polygon points="648.4,714.8 652.0,715.9 655.6,717.1 659.3,717.5 662.9,718.2 666.7,717.9 670.4,718.2 674.2,717.6 674.2,717.6 670.6,716.3 666.9,715.8 663.3,714.9 659.6,714.6 655.9,714.4 652.2,714.3 648.4,714.8" fill="url(#pg3)" stroke="#0a0a0a" stroke-width="2.8" stroke-linejoin="round" />
<polygon points="485.5,785.0 489.3,786.9 493.1,788.7 497.1,789.7 501.1,790.9 505.1,792.0 509.2,792.7 513.4,793.1 513.4,793.1 509.7,791.2 505.8,789.6 501.8,788.4 497.9,786.8 493.8,786.2 489.7,785.4 485.5,785.0" fill="url(#pg3)" stroke="#0a0a0a" stroke-width="2.8" stroke-linejoin="round" />
<polygon points="790.5,815.1 796.1,817.6 802.0,818.5 807.8,819.8 813.6,821.2 819.6,821.5 825.5,822.0 831.6,821.5 831.6,821.5 825.9,819.4 820.1,818.0 814.3,816.6 808.5,815.1 802.5,815.0 796.5,815.0 790.5,815.1" fill="url(#pg2)" stroke="#0a0a0a" stroke-width="2.8" stroke-linejoin="round" />
<polygon points="439.3,721.4 442.7,724.3 446.1,727.0 449.6,729.5 453.2,731.9 457.3,733.6 461.4,735.0 465.6,736.4 465.6,736.4 462.4,733.2 458.9,730.7 455.2,728.6 451.4,726.5 447.5,724.6 443.5,722.8 439.3,721.4" fill="url(#pg3)" stroke="#0a0a0a" stroke-width="2.8" stroke-linejoin="round" />
<polygon points="608.3,740.2 613.1,742.2 618.0,743.8 622.9,745.3 628.1,745.8 633.1,746.7 638.2,747.6 643.4,747.7 643.4,747.7 638.6,745.5 633.7,744.1 628.8,742.5 623.7,741.8 618.6,741.2 613.6,740.1 608.3,740.2" fill="url(#pg1)" stroke="#0a0a0a" stroke-width="2.8" stroke-linejoin="round" />
<polygon points="513.9,799.0 517.1,800.7 520.4,801.5 523.7,801.8 527.0,802.4 530.4,802.6 533.8,802.3 537.2,801.7 537.2,801.7 534.1,800.0 530.8,799.0 527.4,799.0 524.1,798.4 520.8,798.2 517.4,798.5 513.9,799.0" fill="url(#pg1)" stroke="#0a0a0a" stroke-width="2.8" stroke-linejoin="round" />
<polygon points="627.1,793.9 629.0,796.0 631.3,797.2 633.4,798.9 635.8,800.0 638.2,801.0 640.7,801.6 643.6,801.8 643.6,801.8 641.7,799.7 639.5,798.2 637.3,796.8 634.9,795.7 632.5,794.7 630.0,794.0 627.1,793.9" fill="url(#pg1)" stroke="#0a0a0a" stroke-width="2.8" stroke-linejoin="round" />
<polygon points="360.3,570.0 365.7,572.6 371.3,575.0 377.0,576.6 382.8,578.3 388.6,579.7 394.4,581.3 400.5,582.0 400.5,582.0 395.1,579.1 389.5,576.9 383.8,575.0 378.1,573.1 372.2,571.8 366.3,570.7 360.3,570.0" fill="url(#pg2)" stroke="#0a0a0a" stroke-width="2.8" stroke-linejoin="round" />
<polygon points="735.4,807.5 738.2,809.6 741.2,810.6 744.2,811.8 747.1,813.4 750.3,813.6 753.7,813.4 757.0,813.1 757.0,813.1 754.3,811.0 751.3,809.7 748.4,808.1 745.3,807.5 742.1,807.3 738.8,807.1 735.4,807.5" fill="url(#pg1)" stroke="#0a0a0a" stroke-width="2.8" stroke-linejoin="round" />
<polygon points="789.1,737.4 793.9,740.0 798.7,742.4 803.7,744.1 808.9,744.9 814.1,745.8 819.5,745.9 824.9,745.6 824.9,745.6 820.2,742.9 815.3,740.7 810.1,739.6 805.1,738.0 799.9,737.1 794.6,736.8 789.1,737.4" fill="url(#pg1)" stroke="#0a0a0a" stroke-width="2.8" stroke-linejoin="round" />
<polygon points="603.7,726.3 606.6,728.9 609.7,730.9 613.2,731.9 616.2,734.0 619.9,734.5 623.5,735.4 627.4,735.3 627.4,735.3 624.6,732.5 621.5,730.5 618.3,728.7 614.7,727.9 611.3,726.7 607.6,726.2 603.7,726.3" fill="url(#pg3)" stroke="#0a0a0a" stroke-width="2.8" stroke-linejoin="round" />
<polygon points="629.8,717.7 632.0,719.4 634.3,720.8 636.7,721.8 639.3,722.4 641.8,723.1 644.5,723.2 647.3,723.0 647.3,723.0 645.0,721.5 642.7,720.2 640.3,718.9 637.8,718.4 635.1,718.1 632.5,717.7 629.8,717.7" fill="url(#pg3)" stroke="#0a0a0a" stroke-width="2.8" stroke-linejoin="round" />
<polygon points="428.7,685.9 431.3,688.8 434.1,690.9 437.0,692.8 440.6,692.7 443.6,694.3 447.3,694.0 451.0,693.8 451.0,693.8 448.4,691.0 445.4,689.3 442.6,687.1 439.5,685.8 435.9,685.7 432.4,685.5 428.7,685.9" fill="url(#pg2)" stroke="#0a0a0a" stroke-width="2.8" stroke-linejoin="round" />
<polygon points="294.4,657.4 300.4,658.8 306.5,659.8 312.5,660.4 318.6,660.5 324.7,661.0 330.8,660.3 337.0,659.4 337.0,659.4 331.0,657.5 324.9,656.8 318.9,655.6 312.8,655.6 306.7,655.4 300.5,656.4 294.4,657.4" fill="url(#pg2)" stroke="#0a0a0a" stroke-width="2.8" stroke-linejoin="round" />
<polygon points="474.2,714.7 479.9,717.4 486.0,719.0 491.9,720.9 498.0,722.4 503.9,724.5 510.0,725.5 516.3,726.1 516.3,726.1 510.6,723.6 504.7,721.4 498.7,719.6 492.7,717.8 486.7,716.3 480.5,715.3 474.2,714.7" fill="url(#pg1)" stroke="#0a0a0a" stroke-width="2.8" stroke-linejoin="round" />
<polygon points="630.3,851.4 634.4,854.9 638.6,858.1 643.4,860.3 647.9,863.0 653.0,864.4 657.9,866.3 663.2,867.4 663.2,867.4 659.2,863.6 654.8,860.7 650.3,857.9 645.7,855.5 640.8,853.7 635.7,852.2 630.3,851.4" fill="url(#pg1)" stroke="#0a0a0a" stroke-width="2.8" stroke-linejoin="round" />
<polygon points="541.8,782.7 545.1,784.5 548.5,785.7 552.0,786.8 555.3,788.2 559.0,788.0 562.6,788.1 566.4,787.3 566.4,787.3 563.1,785.5 559.8,783.9 556.4,782.8 552.9,782.0 549.2,781.9 545.6,781.8 541.8,782.7" fill="url(#pg1)" stroke="#0a0a0a" stroke-width="2.8" stroke-linejoin="round" />
<polygon points="763.5,470.7 766.6,473.2 770.1,474.8 773.4,476.7 776.9,478.3 780.4,479.9 784.2,480.6 788.1,481.1 788.1,481.1 785.0,478.8 781.6,477.0 778.3,475.0 774.7,473.7 771.2,472.2 767.4,471.5 763.5,470.7" fill="url(#pg2)" stroke="#0a0a0a" stroke-width="2.8" stroke-linejoin="round" />
<polygon points="633.1,682.3 634.6,684.5 636.0,686.6 637.9,687.7 639.9,688.7 642.2,688.8 644.6,688.8 647.1,688.5 647.1,688.5 645.9,685.9 643.9,685.0 642.3,683.2 640.4,682.0 637.9,682.2 635.7,681.9 633.1,682.3" fill="url(#pg2)" stroke="#0a0a0a" stroke-width="2.8" stroke-linejoin="round" />
<polygon points="669.4,768.7 674.4,770.6 679.4,771.7 684.5,772.2 689.6,772.6 694.7,772.1 699.8,772.3 705.0,771.1 705.0,771.1 700.0,769.6 695.0,768.1 689.9,768.1 684.8,767.3 679.7,766.8 674.5,767.9 669.4,768.7" fill="url(#pg2)" stroke="#0a0a0a" stroke-width="2.8" stroke-linejoin="round" />
<polygon points="575.0,760.0 580.0,764.0 585.4,767.0 591.0,769.9 596.3,773.2 602.0,775.6 608.2,777.1 614.2,778.9 614.2,778.9 609.1,775.3 603.7,772.0 598.4,768.8 592.7,766.3 587.1,763.5 581.2,761.5 575.0,760.0" fill="url(#pg1)" stroke="#0a0a0a" stroke-width="2.8" stroke-linejoin="round" />
<polygon points="452.6,494.4 455.0,495.7 457.3,496.4 459.7,496.9 462.0,496.7 464.4,496.4 466.7,495.5 469.0,494.0 469.0,494.0 466.6,492.7 464.3,492.2 461.9,492.3 459.6,491.5 457.2,492.0 454.9,492.9 452.6,494.4" fill="url(#pg1)" stroke="#0a0a0a" stroke-width="2.8" stroke-linejoin="round" />
<polygon points="542.5,771.3 545.7,773.5 549.1,775.0 552.6,776.1 555.9,777.8 559.8,777.7 563.5,778.2 567.2,778.2 567.2,778.2 564.0,776.1 560.6,774.6 557.1,773.4 553.6,772.4 550.0,771.8 546.4,770.9 542.5,771.3" fill="url(#pg2)" stroke="#0a0a0a" stroke-width="2.8" stroke-linejoin="round" />
<polygon points="482.5,669.5 487.1,672.2 491.9,673.7 496.7,675.0 501.6,676.1 506.5,677.2 511.6,677.2 516.9,676.6 516.9,676.6 512.4,673.6 507.5,672.4 502.7,670.8 497.9,669.5 492.8,669.3 487.8,668.4 482.5,669.5" fill="url(#pg1)" stroke="#0a0a0a" stroke-width="2.8" stroke-linejoin="round" />
<polygon points="458.9,843.2 464.3,844.9 469.9,845.6 475.4,846.7 480.9,847.6 486.5,847.8 492.1,847.9 497.7,847.9 497.7,847.9 492.3,846.5 486.8,845.3 481.3,844.5 475.7,843.5 470.2,842.9 464.5,842.9 458.9,843.2" fill="url(#pg1)" stroke="#0a0a0a" stroke-width="2.8" stroke-linejoin="round" />
<polygon points="447.4,753.1 452.5,756.7 457.4,760.7 463.0,763.2 468.8,765.2 474.7,766.9 480.5,768.7 486.7,769.8 486.7,769.8 481.7,766.1 476.4,762.8 471.0,760.1 465.5,757.2 459.7,755.4 453.7,753.9 447.4,753.1" fill="url(#pg3)" stroke="#0a0a0a" stroke-width="2.8" stroke-linejoin="round" />
<polygon points="706.3,767.0 708.1,769.2 709.8,771.6 712.1,773.1 714.5,774.3 716.9,775.7 719.6,776.4 722.4,777.2 722.4,777.2 720.8,774.6 718.5,773.1 716.7,770.9 714.4,769.4 711.7,768.6 709.2,767.5 706.3,767.0" fill="url(#pg2)" stroke="#0a0a0a" stroke-width="2.8" stroke-linejoin="round" />
<polygon points="343.3,670.0 346.3,671.9 349.5,673.6 352.9,674.1 356.1,675.2 359.6,675.3 363.0,675.7 366.7,675.1 366.7,675.1 363.6,672.9 360.4,671.8 357.2,670.5 353.7,670.3 350.3,669.6 346.9,669.2 343.3,670.0" fill="url(#pg3)" stroke="#0a0a0a" stroke-width="2.8" stroke-linejoin="round" />
<polygon points="684.0,822.8 687.6,826.3 691.6,829.1 695.5,832.1 700.1,833.8 704.7,835.6 709.1,837.6 714.0,838.7 714.0,838.7 710.5,835.0 706.4,832.4 702.5,829.4 697.9,827.7 693.7,825.2 689.0,823.8 684.0,822.8" fill="url(#pg1)" stroke="#0a0a0a" stroke-width="2.8" stroke-linejoin="round" />
<polygon points="719.9,700.2 725.3,703.9 731.0,706.9 736.8,709.8 743.0,711.4 748.8,714.1 755.1,715.6 761.6,716.6 761.6,716.6 756.2,712.9 750.5,709.8 744.7,707.1 738.9,704.5 732.6,703.0 726.5,700.9 719.9,700.2" fill="url(#pg2)" stroke="#0a0a0a" stroke-width="2.8" stroke-linejoin="round" />
<polygon points="831.7,491.6 834.4,493.2 837.2,494.4 840.2,495.0 843.0,495.9 846.0,496.4 849.0,496.4 852.1,496.1 852.1,496.1 849.4,494.7 846.6,493.4 843.8,492.5 840.8,492.3 837.8,491.7 834.8,491.4 831.7,491.6" fill="url(#pg3)" stroke="#0a0a0a" stroke-width="2.8" stroke-linejoin="round" />
<polygon points="742.3,778.2 745.3,780.4 748.5,781.9 751.5,784.1 755.1,784.1 758.4,785.1 762.0,784.9 765.7,784.0 765.7,784.0 762.8,781.6 759.7,779.7 756.3,779.3 753.0,778.0 749.7,777.0 746.0,777.7 742.3,778.2" fill="url(#pg1)" stroke="#0a0a0a" stroke-width="2.8" stroke-linejoin="round" />
<polygon points="393.5,652.3 398.5,654.5 403.7,656.3 408.9,657.6 414.2,658.9 419.4,660.1 424.9,660.2 430.4,660.4 430.4,660.4 425.5,657.7 420.3,656.3 415.0,655.0 409.7,654.1 404.4,653.1 399.0,652.5 393.5,652.3" fill="url(#pg3)" stroke="#0a0a0a" stroke-width="2.8" stroke-linejoin="round" />
<polygon points="593.0,667.1 596.9,669.9 601.1,671.3 605.2,673.0 609.5,674.1 614.0,674.2 618.5,674.6 623.1,674.3 623.1,674.3 619.2,671.6 615.0,670.1 610.8,668.6 606.7,667.0 602.2,666.6 597.7,666.3 593.0,667.1" fill="url(#pg2)" stroke="#0a0a0a" stroke-width="2.8" stroke-linejoin="round" />
<polygon points="779.2,764.4 781.4,766.2 783.6,768.0 786.0,769.2 788.6,769.6 791.1,770.4 793.8,770.3 796.8,769.4 796.8,769.4 794.7,767.3 792.4,765.7 790.0,764.5 787.5,763.9 784.9,763.3 782.1,763.7 779.2,764.4" fill="url(#pg2)" stroke="#0a0a0a" stroke-width="2.8" stroke-linejoin="round" />
<polygon points="571.9,855.9 578.0,858.6 584.4,860.3 590.7,862.2 596.9,864.4 603.5,865.1 609.9,866.4 616.6,867.0 616.6,867.0 610.4,864.6 604.2,862.1 597.9,860.3 591.5,858.7 585.1,857.4 578.6,856.1 571.9,855.9" fill="url(#pg3)" stroke="#0a0a0a" stroke-width="2.8" stroke-linejoin="round" />
<polygon points="740.7,707.3 744.7,711.3 749.5,713.6 753.7,717.1 758.8,718.7 763.5,720.9 768.6,722.7 774.2,723.2 774.2,723.2 770.1,719.5 765.7,716.4 761.0,714.0 756.1,712.0 751.3,709.7 746.2,708.1 740.7,707.3" fill="url(#pg3)" stroke="#0a0a0a" stroke-width="2.8" stroke-linejoin="round" />
<polygon points="454.5,766.3 459.5,768.2 464.4,770.4 469.7,770.9 474.7,772.6 480.0,773.2 485.3,773.4 490.7,773.3 490.7,773.3 485.8,771.1 480.8,769.1 475.7,767.7 470.5,766.7 465.2,766.5 459.9,766.2 454.5,766.3" fill="url(#pg2)" stroke="#0a0a0a" stroke-width="2.8" stroke-linejoin="round" />
<polygon points="458.5,789.8 464.4,792.9 470.5,795.4 476.7,797.6 482.8,799.8 489.3,801.1 495.6,802.9 502.3,803.6 502.3,803.6 496.3,800.7 490.3,798.0 484.2,795.6 477.8,793.8 471.6,791.7 465.0,790.9 458.5,789.8" fill="url(#pg1)" stroke="#0a0a0a" stroke-width="2.8" stroke-linejoin="round" />
<polygon points="231.9,644.9 237.1,646.7 242.4,648.1 247.7,649.2 253.1,649.9 258.3,651.3 263.8,651.4 269.3,651.8 269.3,651.8 264.1,650.0 258.9,648.4 253.5,647.5 248.2,646.5 242.8,645.7 237.4,644.9 231.9,644.9" fill="url(#pg2)" stroke="#0a0a0a" stroke-width="2.8" stroke-linejoin="round" />
<polygon points="686.4,720.3 690.3,722.4 694.3,723.4 698.3,724.6 702.4,725.3 706.5,726.0 710.7,726.0 715.0,725.5 715.0,725.5 711.1,723.6 707.2,722.2 703.1,721.4 699.1,719.9 694.9,720.2 690.7,719.8 686.4,720.3" fill="url(#pg2)" stroke="#0a0a0a" stroke-width="2.8" stroke-linejoin="round" />
<polygon points="697.5,742.9 702.0,745.0 706.6,746.7 711.2,747.0 715.9,747.4 720.6,746.9 725.3,747.0 730.1,745.4 730.1,745.4 725.5,743.6 721.0,741.5 716.3,742.0 711.7,741.3 707.0,741.6 702.3,741.8 697.5,742.9" fill="url(#pg3)" stroke="#0a0a0a" stroke-width="2.8" stroke-linejoin="round" />
<polygon points="393.3,638.1 396.6,640.3 400.0,641.8 403.6,642.6 407.1,643.9 410.8,644.3 414.4,645.1 418.3,644.8 418.3,644.8 415.1,642.7 411.5,641.6 408.0,640.4 404.5,639.3 400.8,638.6 397.2,638.0 393.3,638.1" fill="url(#pg1)" stroke="#0a0a0a" stroke-width="2.8" stroke-linejoin="round" />
<polygon points="454.4,684.8 457.1,686.9 460.1,688.3 463.1,689.6 466.0,691.3 469.3,691.6 472.6,691.5 476.2,690.9 476.2,690.9 473.4,688.8 470.6,686.8 467.5,685.8 464.4,685.1 461.1,684.9 457.9,684.3 454.4,684.8" fill="url(#pg1)" stroke="#0a0a0a" stroke-width="2.8" stroke-linejoin="round" />
<polygon points="781.8,839.1 785.4,840.0 789.1,839.7 792.7,839.9 796.3,839.5 799.9,839.0 803.5,838.3 807.0,837.3 807.0,837.3 803.3,836.6 799.7,836.3 796.1,836.2 792.5,836.6 788.9,837.4 785.3,837.9 781.8,839.1" fill="url(#pg1)" stroke="#0a0a0a" stroke-width="2.8" stroke-linejoin="round" />
<polygon points="516.2,777.3 520.9,779.9 525.7,782.1 530.8,782.5 535.8,783.9 540.7,785.3 545.9,785.7 551.2,785.3 551.2,785.3 546.6,782.6 541.7,781.1 536.7,779.9 531.6,778.9 526.8,777.1 521.6,777.0 516.2,777.3" fill="url(#pg3)" stroke="#0a0a0a" stroke-width="2.8" stroke-linejoin="round" />
<polygon points="647.8,677.9 652.7,681.3 657.9,684.2 663.2,686.8 668.7,688.6 674.5,689.8 680.1,691.7 686.1,692.4 686.1,692.4 681.2,688.7 675.8,686.5 670.4,684.0 665.0,682.0 659.4,680.2 653.7,678.8 647.8,677.9" fill="url(#pg1)" stroke="#0a0a0a" stroke-width="2.8" stroke-linejoin="round" />
<polygon points="447.5,769.5 452.9,773.7 458.8,776.8 464.7,779.8 470.8,782.3 476.7,785.3 483.4,786.4 490.0,787.6 490.0,787.6 484.6,783.5 479.1,779.8 473.0,777.1 467.0,774.4 460.9,771.9 454.4,770.4 447.5,769.5" fill="url(#pg3)" stroke="#0a0a0a" stroke-width="2.8" stroke-linejoin="round" />
<polygon points="334.6,687.1 339.5,689.6 344.7,691.5 350.0,692.9 355.3,694.0 360.5,695.4 366.0,695.8 371.5,696.3 371.5,696.3 366.5,694.1 361.3,692.3 356.1,690.8 350.9,689.1 345.5,688.2 340.0,687.6 334.6,687.1" fill="url(#pg1)" stroke="#0a0a0a" stroke-width="2.8" stroke-linejoin="round" />
<polygon points="428.3,818.9 432.9,822.0 437.4,825.4 442.3,828.1 447.2,830.7 452.2,832.9 457.4,835.1 462.8,836.7 462.8,836.7 458.3,833.2 453.6,830.3 448.8,827.6 443.8,825.2 438.9,822.4 433.7,820.6 428.3,818.9" fill="url(#pg1)" stroke="#0a0a0a" stroke-width="2.8" stroke-linejoin="round" />
<polygon points="704.8,798.9 706.7,801.0 708.8,802.4 711.0,803.5 713.2,804.4 715.6,804.7 718.2,804.3 720.9,803.5 720.9,803.5 719.1,801.2 717.2,799.1 714.7,799.2 712.7,797.6 710.3,797.1 707.6,797.8 704.8,798.9" fill="url(#pg2)" stroke="#0a0a0a" stroke-width="2.8" stroke-linejoin="round" />
<polygon points="744.7,741.8 750.9,744.7 757.2,747.4 763.6,749.4 770.3,750.3 776.9,751.6 783.5,752.6 790.4,752.9 790.4,752.9 784.2,749.9 778.0,746.9 771.4,745.7 765.1,743.4 758.2,743.2 751.6,741.8 744.7,741.8" fill="url(#pg2)" stroke="#0a0a0a" stroke-width="2.8" stroke-linejoin="round" />
<polygon points="578.3,720.1 583.9,723.3 589.4,726.4 595.1,729.4 600.9,731.7 607.2,733.0 613.3,734.7 619.7,735.8 619.7,735.8 614.2,732.3 608.4,729.8 602.8,726.8 596.7,725.0 591.0,722.4 584.6,721.2 578.3,720.1" fill="url(#pg2)" stroke="#0a0a0a" stroke-width="2.8" stroke-linejoin="round" />
<polygon points="320.0,823.4 323.9,825.4 327.8,827.1 331.9,828.4 335.9,829.7 340.1,830.6 344.3,831.5 348.7,831.6 348.7,831.6 344.8,829.6 340.8,828.0 336.7,826.9 332.7,825.6 328.6,824.5 324.3,823.8 320.0,823.4" fill="url(#pg1)" stroke="#0a0a0a" stroke-width="2.8" stroke-linejoin="round" />
<polygon points="274.3,653.6 278.6,655.4 283.0,656.8 287.5,657.9 292.0,658.5 296.6,658.7 301.2,659.0 305.9,658.7 305.9,658.7 301.5,657.1 297.2,655.4 292.6,655.1 288.2,653.6 283.5,653.9 278.9,653.4 274.3,653.6" fill="url(#pg2)" stroke="#0a0a0a" stroke-width="2.8" stroke-linejoin="round" />
<polygon points="501.4,778.4 504.8,781.9 508.4,784.9 512.2,787.4 516.4,789.5 520.2,792.0 524.9,793.0 529.7,793.8 529.7,793.8 526.5,790.1 522.6,787.6 519.0,784.7 515.0,782.4 510.4,781.2 506.1,779.5 501.4,778.4" fill="url(#pg1)" stroke="#0a0a0a" stroke-width="2.8" stroke-linejoin="round" />
<polygon points="727.3,765.4 733.2,767.3 739.1,769.4 745.2,770.1 751.3,769.5 757.4,769.8 763.4,770.1 769.6,768.7 769.6,768.7 763.7,766.4 757.7,765.7 751.7,763.9 745.7,763.3 739.6,763.7 733.4,764.3 727.3,765.4" fill="url(#pg2)" stroke="#0a0a0a" stroke-width="2.8" stroke-linejoin="round" />
<polygon points="610.8,734.2 612.6,736.4 614.5,738.0 616.5,739.6 619.1,739.1 621.3,739.6 623.7,739.6 626.4,738.6 626.4,738.6 624.6,736.5 622.7,734.6 620.5,733.8 618.5,732.5 615.8,733.3 613.5,732.9 610.8,734.2" fill="url(#pg1)" stroke="#0a0a0a" stroke-width="2.8" stroke-linejoin="round" />
<polygon points="627.7,819.8 631.4,823.0 635.6,824.6 639.5,827.2 643.7,828.9 648.1,829.8 652.7,830.3 657.6,830.0 657.6,830.0 653.9,826.6 649.9,824.5 645.8,822.7 641.3,821.8 637.2,819.8 632.6,819.3 627.7,819.8" fill="url(#pg2)" stroke="#0a0a0a" stroke-width="2.8" stroke-linejoin="round" />
<polygon points="813.7,820.9 817.9,823.7 822.2,825.7 826.7,827.4 831.1,829.2 835.8,830.3 840.5,831.3 845.5,831.2 845.5,831.2 841.4,828.5 837.1,826.2 832.9,823.8 828.2,822.8 823.5,821.9 818.8,820.9 813.7,820.9" fill="url(#pg1)" stroke="#0a0a0a" stroke-width="2.8" stroke-linejoin="round" />
<polygon points="681.4,836.5 684.4,838.7 687.5,839.9 690.7,840.9 694.0,841.5 697.2,842.3 700.6,842.2 704.2,841.6 704.2,841.6 701.3,839.0 698.2,837.6 695.1,836.5 691.9,835.5 688.4,835.8 685.1,835.6 681.4,836.5" fill="url(#pg1)" stroke="#0a0a0a" stroke-width="2.8" stroke-linejoin="round" />
<polygon points="499.8,866.7 506.1,869.1 512.6,870.8 519.0,872.7 525.5,874.1 532.1,875.1 538.7,876.3 545.4,876.9 545.4,876.9 539.1,874.5 532.6,873.0 526.2,870.9 519.6,869.8 513.1,868.6 506.6,867.2 499.8,866.7" fill="url(#pg2)" stroke="#0a0a0a" stroke-width="2.8" stroke-linejoin="round" />
<polygon points="725.8,666.1 730.7,667.6 735.7,669.1 740.7,669.2 745.7,670.2 750.8,670.0 755.8,670.3 760.9,669.8 760.9,669.8 756.1,667.9 751.1,666.9 746.1,666.6 741.1,665.4 736.0,665.9 731.0,665.5 725.8,666.1" fill="url(#pg1)" stroke="#0a0a0a" stroke-width="2.8" stroke-linejoin="round" />
<polygon points="592.1,739.9 598.0,743.8 604.0,747.3 610.4,749.9 616.8,752.3 623.5,753.7 630.2,755.2 637.4,755.4 637.4,755.4 631.4,751.6 625.4,748.2 618.9,746.0 612.5,743.5 605.8,742.2 599.2,740.2 592.1,739.9" fill="url(#pg1)" stroke="#0a0a0a" stroke-width="2.8" stroke-linejoin="round" />
<polygon points="461.9,849.5 464.6,850.7 467.4,851.4 470.3,851.8 473.0,852.9 476.0,852.3 478.9,852.6 481.8,851.8 481.8,851.8 479.1,850.6 476.3,849.8 473.5,849.3 470.6,848.6 467.8,848.3 464.8,848.8 461.9,849.5" fill="url(#pg2)" stroke="#0a0a0a" stroke-width="2.8" stroke-linejoin="round" />
<polygon points="668.4,640.7 674.4,643.2 680.5,645.5 686.7,647.0 692.9,648.2 699.4,648.0 705.6,649.2 712.2,648.5 712.2,648.5 706.2,645.7 700.0,644.3 693.8,643.2 687.5,642.1 681.2,641.1 674.9,640.7 668.4,640.7" fill="url(#pg2)" stroke="#0a0a0a" stroke-width="2.8" stroke-linejoin="round" />
<polygon points="648.2,741.7 652.2,743.8 656.4,745.4 660.6,746.8 664.8,748.2 669.0,749.6 673.5,750.1 678.0,750.7 678.0,750.7 673.9,748.8 669.9,746.7 665.6,745.7 661.5,743.9 657.0,743.2 652.7,742.1 648.2,741.7" fill="url(#pg1)" stroke="#0a0a0a" stroke-width="2.8" stroke-linejoin="round" />
<polygon points="712.7,748.1 715.7,749.9 718.8,750.9 721.8,752.4 725.1,752.4 728.3,753.1 731.7,752.9 735.1,752.2 735.1,752.2 732.2,750.2 729.1,748.9 726.0,748.0 722.7,747.8 719.5,747.3 716.2,747.1 712.7,748.1" fill="url(#pg2)" stroke="#0a0a0a" stroke-width="2.8" stroke-linejoin="round" />
<polygon points="441.4,870.8 447.8,873.8 454.5,875.3 461.1,877.7 468.0,878.3 474.6,880.2 481.5,880.8 488.5,880.8 488.5,880.8 482.1,877.8 475.6,875.5 468.8,874.3 462.1,872.9 455.2,872.0 448.5,870.6 441.4,870.8" fill="url(#pg2)" stroke="#0a0a0a" stroke-width="2.8" stroke-linejoin="round" />
<polygon points="498.4,690.4 501.3,692.2 504.2,694.0 507.2,694.7 510.4,694.7 513.5,695.4 516.8,694.7 520.1,693.9 520.1,693.9 517.3,691.8 514.2,691.1 511.2,689.9 508.1,689.3 505.0,689.0 501.7,689.7 498.4,690.4" fill="url(#pg1)" stroke="#0a0a0a" stroke-width="2.8" stroke-linejoin="round" />
<polygon points="453.6,826.9 459.7,829.1 466.0,829.7 472.2,831.4 478.5,831.3 484.8,831.6 491.2,831.5 497.6,830.9 497.6,830.9 491.4,828.8 485.1,828.1 478.9,827.2 472.7,826.1 466.3,826.1 460.0,826.4 453.6,826.9" fill="url(#pg1)" stroke="#0a0a0a" stroke-width="2.8" stroke-linejoin="round" />
<polygon points="476.4,846.7 482.1,848.6 487.7,850.0 493.4,851.6 499.2,851.0 505.0,851.5 510.8,851.4 516.7,850.5 516.7,850.5 511.0,848.6 505.4,846.7 499.7,845.5 494.0,845.1 488.1,845.7 482.4,845.3 476.4,846.7" fill="url(#pg2)" stroke="#0a0a0a" stroke-width="2.8" stroke-linejoin="round" />
<polygon points="581.4,723.8 587.0,724.6 592.6,725.6 598.2,725.9 603.8,726.0 609.4,725.7 615.0,725.6 620.7,725.0 620.7,725.0 615.1,724.1 609.5,723.3 603.9,722.9 598.3,722.9 592.7,722.6 587.1,723.0 581.4,723.8" fill="url(#pg2)" stroke="#0a0a0a" stroke-width="2.8" stroke-linejoin="round" />
<polygon points="565.5,742.0 568.9,743.8 572.5,744.6 576.0,745.5 579.6,745.9 583.2,746.6 586.9,746.2 590.7,745.6 590.7,745.6 587.3,743.7 583.7,742.9 580.3,741.4 576.6,741.2 573.0,740.8 569.3,741.0 565.5,742.0" fill="url(#pg2)" stroke="#0a0a0a" stroke-width="2.8" stroke-linejoin="round" />
<polygon points="649.0,852.5 651.8,854.8 654.7,855.9 657.5,857.1 660.5,857.4 663.7,856.4 666.7,856.6 669.9,855.3 669.9,855.3 667.1,853.6 664.3,852.2 661.4,851.1 658.4,850.8 655.3,851.0 652.2,851.5 649.0,852.5" fill="url(#pg3)" stroke="#0a0a0a" stroke-width="2.8" stroke-linejoin="round" />
<polygon points="349.9,643.8 355.7,646.0 361.5,647.8 367.5,648.6 373.5,650.1 379.6,649.7 385.6,650.5 391.9,649.5 391.9,649.5 386.0,647.4 380.1,645.9 374.2,645.0 368.2,644.2 362.2,642.9 356.1,643.2 349.9,643.8" fill="url(#pg2)" stroke="#0a0a0a" stroke-width="2.8" stroke-linejoin="round" />
<polygon points="629.3,843.7 632.0,845.3 634.5,845.0 637.2,846.0 639.6,845.7 641.9,843.9 644.3,843.2 646.6,841.3 646.6,841.3 643.9,840.0 641.3,839.4 638.7,838.8 636.3,840.0 633.9,840.3 631.5,841.5 629.3,843.7" fill="url(#pg2)" stroke="#0a0a0a" stroke-width="2.8" stroke-linejoin="round" />
<polygon points="802.8,743.8 803.7,746.3 805.0,747.5 806.4,747.8 807.8,748.6 809.4,748.5 811.0,748.1 813.0,746.5 813.0,746.5 812.0,744.5 811.0,742.4 809.4,742.5 808.1,741.7 806.6,741.2 804.8,742.4 802.8,743.8" fill="#00ffff" stroke="#0a0a0a" stroke-width="2.6" stroke-linejoin="round" />
<polygon points="709.4,766.2 712.0,767.5 714.7,768.2 717.4,769.6 720.1,768.8 722.8,769.3 725.6,768.1 728.3,767.0 728.3,767.0 725.7,765.4 723.0,764.8 720.3,763.6 717.6,764.1 714.9,763.8 712.2,765.0 709.4,766.2" fill="#00ffff" stroke="#0a0a0a" stroke-width="2.6" stroke-linejoin="round" />
<polygon points="481.7,725.4 484.4,728.0 487.3,729.6 490.2,730.1 493.2,730.4 496.2,729.6 499.3,729.0 502.4,727.3 502.4,727.3 499.7,724.6 496.7,724.3 493.9,722.5 490.9,722.3 487.9,723.0 484.8,723.8 481.7,725.4" fill="#00ffff" stroke="#0a0a0a" stroke-width="2.6" stroke-linejoin="round" />
<polygon points="618.8,853.2 620.1,854.7 621.5,855.4 623.0,855.6 624.5,855.5 625.9,856.0 627.5,855.3 629.1,854.5 629.1,854.5 627.8,853.0 626.3,852.7 625.0,851.5 623.4,851.9 621.9,851.9 620.4,852.3 618.8,853.2" fill="#00ffff" stroke="#0a0a0a" stroke-width="2.6" stroke-linejoin="round" />
<polygon points="257.7,859.0 259.8,861.6 262.2,862.9 264.8,863.5 267.1,865.3 270.0,864.5 272.7,864.5 275.7,863.3 275.7,863.3 273.5,861.2 271.1,859.7 269.0,857.5 266.4,856.9 263.7,856.8 260.7,857.9 257.7,859.0" fill="#00ffff" stroke="#0a0a0a" stroke-width="2.6" stroke-linejoin="round" />
<polygon points="121.5,807.8 124.1,809.9 126.7,811.7 129.7,812.6 132.6,813.4 135.7,813.9 138.7,814.4 142.0,814.1 142.0,814.1 139.3,812.4 136.8,810.3 133.7,809.7 131.0,808.3 128.0,807.7 124.8,807.5 121.5,807.8" fill="#00ffff" stroke="#0a0a0a" stroke-width="2.6" stroke-linejoin="round" />
<polygon points="637.9,780.3 639.9,782.5 642.0,783.0 644.1,783.6 646.1,784.8 648.3,784.1 650.5,782.7 652.7,780.9 652.7,780.9 650.6,779.3 648.6,777.3 646.5,777.6 644.3,777.6 642.2,777.5 640.1,778.2 637.9,780.3" fill="#00ffff" stroke="#0a0a0a" stroke-width="2.6" stroke-linejoin="round" />
<polygon points="305.0,837.5 306.4,839.4 307.8,839.6 309.3,840.6 310.8,840.1 312.2,840.6 313.7,839.7 315.2,837.9 315.2,837.9 313.8,835.8 312.4,835.1 311.0,834.1 309.4,835.3 308.0,835.4 306.5,835.8 305.0,837.5" fill="#00ffff" stroke="#0a0a0a" stroke-width="2.6" stroke-linejoin="round" />
<polygon points="833.4,867.9 835.0,870.3 837.0,871.8 839.0,873.4 841.3,874.2 843.7,874.7 846.3,874.8 849.1,874.5 849.1,874.5 847.3,872.4 845.2,871.0 843.2,869.6 841.2,868.0 838.5,868.3 836.2,867.5 833.4,867.9" fill="#00ffff" stroke="#0a0a0a" stroke-width="2.6" stroke-linejoin="round" />
<polygon points="616.6,741.8 617.2,744.0 618.1,745.4 619.7,745.6 620.8,746.7 622.3,747.1 624.0,747.0 625.9,746.6 625.9,746.6 625.3,744.5 624.0,743.8 622.8,742.8 621.7,741.8 620.2,741.4 618.4,741.5 616.6,741.8" fill="#00ffff" stroke="#0a0a0a" stroke-width="2.6" stroke-linejoin="round" />
<polygon points="822.3,755.5 824.6,757.7 827.2,759.2 829.8,760.4 832.4,761.8 835.4,761.8 838.3,762.0 841.5,761.5 841.5,761.5 839.1,759.5 836.8,757.5 834.1,756.4 831.3,755.6 828.4,755.4 825.4,755.2 822.3,755.5" fill="#00ffff" stroke="#0a0a0a" stroke-width="2.6" stroke-linejoin="round" />
<polygon points="598.6,785.3 599.4,786.9 600.2,788.3 601.4,788.6 602.6,788.9 603.8,789.1 605.1,788.7 606.7,787.8 606.7,787.8 605.9,786.0 605.0,784.9 604.0,784.2 602.8,783.9 601.5,784.0 600.1,784.4 598.6,785.3" fill="#00ffff" stroke="#0a0a0a" stroke-width="2.6" stroke-linejoin="round" />
<polygon points="439.6,722.2 442.5,723.6 445.3,724.2 448.1,724.4 450.8,724.1 453.5,723.6 456.3,722.9 458.9,720.7 458.9,720.7 455.9,718.9 453.2,718.7 450.3,717.4 447.6,718.5 444.8,718.5 442.2,720.4 439.6,722.2" fill="#00ffff" stroke="#0a0a0a" stroke-width="2.6" stroke-linejoin="round" />
<polygon points="661.2,790.7 663.4,792.9 665.9,794.4 668.2,796.2 670.6,797.5 673.5,797.5 676.4,797.3 679.6,796.1 679.6,796.1 677.5,793.4 675.1,792.0 672.7,790.2 670.1,789.5 667.3,789.4 664.3,789.7 661.2,790.7" fill="#00ffff" stroke="#0a0a0a" stroke-width="2.6" stroke-linejoin="round" />
<polygon points="652.1,734.8 654.0,737.3 656.1,739.5 658.8,739.6 661.1,741.1 663.8,741.4 666.6,741.1 669.6,740.3 669.6,740.3 667.8,737.5 665.4,736.2 662.9,735.4 660.4,734.7 658.1,733.1 655.1,734.0 652.1,734.8" fill="#00ffff" stroke="#0a0a0a" stroke-width="2.6" stroke-linejoin="round" />
<polygon points="590.0,808.6 592.6,810.2 595.3,811.2 597.9,811.9 600.6,811.6 603.3,811.5 606.0,810.4 608.8,809.3 608.8,809.3 606.1,807.5 603.5,807.0 600.8,806.0 598.1,806.4 595.4,806.2 592.7,806.9 590.0,808.6" fill="#00ffff" stroke="#0a0a0a" stroke-width="2.6" stroke-linejoin="round" />
<polygon points="717.9,813.8 718.8,816.8 720.7,817.7 722.5,818.8 724.2,820.2 726.1,821.2 728.7,820.6 731.3,819.9 731.3,819.9 730.1,817.4 728.4,816.1 727.2,813.6 725.2,812.9 722.7,813.3 720.5,813.0 717.9,813.8" fill="#00ffff" stroke="#0a0a0a" stroke-width="2.6" stroke-linejoin="round" />
<polygon points="575.0,779.6 576.9,782.3 579.0,783.3 581.0,784.7 583.3,784.4 585.6,783.8 587.8,783.3 590.3,781.5 590.3,781.5 588.3,779.4 586.3,777.6 584.1,777.8 582.0,776.1 579.7,777.4 577.4,778.1 575.0,779.6" fill="#00ffff" stroke="#0a0a0a" stroke-width="2.6" stroke-linejoin="round" />
<polygon points="772.9,768.2 775.3,769.7 777.8,771.0 780.4,771.0 782.8,772.3 785.5,771.6 788.1,771.1 790.8,770.1 790.8,770.1 788.4,768.3 785.9,767.7 783.4,766.7 780.8,766.6 778.3,766.2 775.6,767.3 772.9,768.2" fill="#00ffff" stroke="#0a0a0a" stroke-width="2.6" stroke-linejoin="round" />
<polygon points="681.7,644.1 683.1,646.2 684.9,646.7 686.3,648.4 688.3,648.0 690.2,648.0 692.1,648.0 694.1,647.1 694.1,647.1 692.7,645.1 691.0,644.6 689.3,643.7 687.5,643.4 685.7,643.3 683.9,642.9 681.7,644.1" fill="#00ffff" stroke="#0a0a0a" stroke-width="2.6" stroke-linejoin="round" />
<polygon points="761.8,859.2 762.5,861.2 763.6,862.4 764.7,863.6 766.0,864.1 767.6,863.8 769.1,863.9 771.1,862.7 771.1,862.7 770.5,860.4 769.4,859.1 768.2,858.4 766.7,858.1 765.5,857.4 763.8,857.7 761.8,859.2" fill="#00ffff" stroke="#0a0a0a" stroke-width="2.6" stroke-linejoin="round" />
<polygon points="648.1,742.2 650.8,743.5 653.4,744.1 656.1,745.2 658.8,744.7 661.5,745.1 664.3,744.6 667.1,743.3 667.1,743.3 664.4,741.9 661.8,740.9 659.1,740.8 656.3,740.7 653.6,741.0 650.9,741.1 648.1,742.2" fill="#00ffff" stroke="#0a0a0a" stroke-width="2.6" stroke-linejoin="round" />
<polygon points="714.9,847.6 716.4,850.2 717.9,852.4 719.5,854.7 722.2,854.7 724.3,856.0 726.8,856.5 730.0,855.7 730.0,855.7 728.6,853.1 727.1,850.8 725.3,848.9 723.0,848.0 720.4,847.9 718.2,846.8 714.9,847.6" fill="#00ffff" stroke="#0a0a0a" stroke-width="2.6" stroke-linejoin="round" />
<polygon points="724.8,784.0 726.3,785.4 727.8,786.1 729.3,786.5 730.9,786.1 732.4,785.8 734.0,785.6 735.6,784.4 735.6,784.4 734.1,783.4 732.6,782.4 731.1,781.8 729.5,782.3 728.0,782.3 726.4,782.7 724.8,784.0" fill="#00ffff" stroke="#0a0a0a" stroke-width="2.6" stroke-linejoin="round" />
<polygon points="108.5,862.2 109.4,865.4 111.4,867.0 112.6,869.6 115.0,870.5 117.6,871.2 120.1,871.8 123.1,871.8 123.1,871.8 122.2,868.7 120.8,866.3 118.7,864.9 116.3,863.9 114.4,862.3 111.4,862.2 108.5,862.2" fill="#00ffff" stroke="#0a0a0a" stroke-width="2.6" stroke-linejoin="round" />
<polygon points="611.1,646.1 611.8,648.1 612.7,649.0 614.0,649.0 615.1,649.4 616.2,649.8 617.7,649.3 619.1,648.6 619.1,648.6 618.4,646.8 617.4,646.1 616.6,644.7 615.1,645.4 613.9,645.1 612.6,645.3 611.1,646.1" fill="#00ffff" stroke="#0a0a0a" stroke-width="2.6" stroke-linejoin="round" />
<polygon points="727.4,760.1 729.5,761.5 731.7,762.1 733.9,762.8 736.2,762.9 738.4,763.1 740.8,762.5 743.1,761.8 743.1,761.8 741.0,760.6 738.8,760.0 736.6,759.3 734.3,758.8 732.1,758.8 729.7,759.3 727.4,760.1" fill="#00ffff" stroke="#0a0a0a" stroke-width="2.6" stroke-linejoin="round" />
<polygon points="735.3,708.5 738.0,710.6 740.9,711.6 743.8,712.5 746.6,713.5 749.7,713.1 752.8,712.9 756.0,712.0 756.0,712.0 753.2,710.3 750.6,708.3 747.5,708.5 744.7,707.1 741.5,707.7 738.6,707.3 735.3,708.5" fill="#00ffff" stroke="#0a0a0a" stroke-width="2.6" stroke-linejoin="round" />
<polygon points="720.3,832.2 722.3,834.7 724.3,837.2 726.9,837.6 729.2,838.9 732.2,838.0 734.9,837.9 737.8,837.0 737.8,837.0 735.8,834.6 733.7,832.6 731.2,831.6 728.9,830.2 726.2,830.3 723.4,830.5 720.3,832.2" fill="#00ffff" stroke="#0a0a0a" stroke-width="2.6" stroke-linejoin="round" />
<polygon points="774.0,866.9 775.5,869.4 777.2,870.4 778.8,871.6 780.6,871.5 782.5,870.2 784.3,870.5 786.3,868.3 786.3,868.3 784.8,866.1 783.1,865.4 781.5,863.4 779.7,864.3 777.9,863.9 776.1,864.7 774.0,866.9" fill="#00ffff" stroke="#0a0a0a" stroke-width="2.6" stroke-linejoin="round" />
<polygon points="492.6,761.6 494.5,763.0 496.4,764.4 498.5,764.7 500.5,765.5 502.6,765.7 504.9,765.5 507.2,765.0 507.2,765.0 505.3,763.6 503.4,762.4 501.4,761.7 499.3,761.0 497.2,760.9 495.0,760.9 492.6,761.6" fill="#00ffff" stroke="#0a0a0a" stroke-width="2.6" stroke-linejoin="round" />
<polygon points="691.6,708.1 694.5,709.2 697.4,709.5 700.4,710.5 703.2,709.6 706.1,709.1 709.0,709.0 711.8,707.3 711.8,707.3 708.9,705.9 706.0,706.2 703.1,705.8 700.2,706.0 697.3,706.0 694.4,706.7 691.6,708.1" fill="#00ffff" stroke="#0a0a0a" stroke-width="2.6" stroke-linejoin="round" />
<polygon points="519.6,855.3 521.2,858.0 523.1,859.8 525.6,860.4 527.3,862.7 530.0,862.7 532.6,863.0 535.7,862.0 535.7,862.0 534.0,859.7 532.0,857.9 529.9,856.4 527.8,855.0 525.3,854.5 522.5,854.8 519.6,855.3" fill="#00ffff" stroke="#0a0a0a" stroke-width="2.6" stroke-linejoin="round" />
<polygon points="666.8,735.9 669.1,738.1 671.4,740.7 674.2,741.7 676.8,743.3 679.8,743.7 683.0,744.0 686.3,743.6 686.3,743.6 684.2,740.8 681.8,738.7 679.2,737.1 676.0,737.2 673.2,736.1 670.3,735.2 666.8,735.9" fill="#00ffff" stroke="#0a0a0a" stroke-width="2.6" stroke-linejoin="round" />
<polygon points="644.0,706.1 645.8,708.2 647.7,709.7 649.7,711.1 651.8,712.1 654.4,711.4 656.7,711.7 659.5,710.6 659.5,710.6 657.8,708.2 655.8,706.8 653.8,705.4 651.5,705.0 649.0,705.2 646.5,705.6 644.0,706.1" fill="#00ffff" stroke="#0a0a0a" stroke-width="2.6" stroke-linejoin="round" />
<polygon points="565.6,861.2 567.1,863.7 569.0,864.3 570.7,866.0 572.9,865.0 574.6,866.2 576.8,865.4 579.1,863.7 579.1,863.7 577.5,861.5 575.6,861.0 573.9,859.3 571.8,859.8 570.0,858.9 567.9,859.4 565.6,861.2" fill="#00ffff" stroke="#0a0a0a" stroke-width="2.6" stroke-linejoin="round" />
<polygon points="642.7,735.5 643.2,737.9 644.5,738.5 645.7,739.6 647.0,740.1 648.2,741.0 649.8,741.1 652.0,739.9 652.0,739.9 651.6,737.4 650.5,736.2 649.5,734.9 648.1,734.4 646.4,734.5 644.9,734.3 642.7,735.5" fill="#00ffff" stroke="#0a0a0a" stroke-width="2.6" stroke-linejoin="round" />
<polygon points="650.5,705.1 652.0,707.2 653.5,708.1 655.0,708.8 656.5,708.6 658.1,708.1 659.6,706.9 661.2,705.5 661.2,705.5 659.8,703.9 658.3,703.3 656.8,702.3 655.2,702.6 653.7,702.2 652.1,703.5 650.5,705.1" fill="#00ffff" stroke="#0a0a0a" stroke-width="2.6" stroke-linejoin="round" />
<polygon points="685.5,777.5 687.2,779.3 688.9,780.8 690.7,781.7 692.5,782.3 694.3,781.8 696.3,780.0 698.3,778.5 698.3,778.5 696.6,776.5 694.8,775.5 693.0,775.1 691.2,774.2 689.4,774.6 687.5,775.3 685.5,777.5" fill="#00ffff" stroke="#0a0a0a" stroke-width="2.6" stroke-linejoin="round" />
<polygon points="835.0,733.3 836.6,735.2 838.3,736.7 840.2,736.5 842.1,736.8 843.9,737.5 846.0,736.6 848.1,735.6 848.1,735.6 846.5,733.9 844.8,732.8 843.1,731.6 841.2,731.1 839.3,731.2 837.1,732.3 835.0,733.3" fill="#00ffff" stroke="#0a0a0a" stroke-width="2.6" stroke-linejoin="round" />
<polygon points="267.1,839.6 268.3,841.2 269.7,842.0 271.2,842.4 272.6,843.1 274.1,843.1 275.8,842.6 277.5,841.6 277.5,841.6 276.2,840.4 274.9,839.1 273.4,839.0 271.9,838.7 270.4,838.5 268.8,838.8 267.1,839.6" fill="#00ffff" stroke="#0a0a0a" stroke-width="2.6" stroke-linejoin="round" />
<polygon points="665.5,778.4 667.9,781.2 670.7,782.5 673.3,784.6 676.5,784.7 679.3,785.8 682.7,784.8 686.1,783.9 686.1,783.9 683.8,780.8 681.2,778.6 678.3,777.7 675.1,777.9 672.3,776.4 669.0,777.0 665.5,778.4" fill="#00ffff" stroke="#0a0a0a" stroke-width="2.6" stroke-linejoin="round" />
<polygon points="481.0,706.1 482.4,707.5 483.8,708.5 485.3,709.1 486.8,709.7 488.3,709.5 490.0,708.9 491.7,707.5 491.7,707.5 490.4,706.1 489.0,704.8 487.5,704.0 486.0,703.8 484.3,704.3 482.7,704.6 481.0,706.1" fill="#00ffff" stroke="#0a0a0a" stroke-width="2.6" stroke-linejoin="round" />
<polygon points="643.3,700.0 644.6,701.5 645.9,703.2 647.4,703.5 649.0,703.9 650.7,703.7 652.4,703.8 654.3,702.7 654.3,702.7 653.1,700.9 651.8,699.5 650.2,699.2 648.7,698.4 646.9,699.0 645.2,699.3 643.3,700.0" fill="#00ffff" stroke="#0a0a0a" stroke-width="2.6" stroke-linejoin="round" />
<polygon points="508.8,762.7 510.5,765.2 512.3,766.7 514.4,767.2 516.7,767.2 518.9,767.2 521.1,767.3 523.6,766.2 523.6,766.2 521.9,764.0 520.1,762.2 517.8,762.5 515.9,761.1 513.7,760.9 511.3,761.7 508.8,762.7" fill="#00ffff" stroke="#0a0a0a" stroke-width="2.6" stroke-linejoin="round" />
<polygon points="31.0,468.0 95.0,468.0 90.0,478.0 60.0,485.0 31.0,482.0" fill="#00ffff" stroke="none" stroke-width="0" stroke-linejoin="round" />
<polygon points="82.0,468.0 140.0,468.0 136.0,478.0 120.0,485.0 95.0,484.0 85.0,476.0" fill="#00ffff" stroke="#0a0a0a" stroke-width="3.0" stroke-linejoin="round" />
<polygon points="97.0,473.0 175.0,469.0 231.0,470.0 237.0,471.0 237.0,501.0 215.0,504.0 190.0,520.0 170.0,535.0 150.0,548.0 125.0,554.0 97.0,553.0 80.0,540.0 98.0,525.0" fill="url(#pg1)" stroke="#0a0a0a" stroke-width="3.0" stroke-linejoin="round" />
<polygon points="98.0,484.0 112.0,482.0 124.0,488.0 120.0,500.0 104.0,501.0" fill="#008000" stroke="#0a0a0a" stroke-width="3.0" stroke-linejoin="round" />
<polygon points="122.0,505.0 140.0,501.0 162.6,503.0 160.0,525.0 148.0,534.4 126.0,532.0" fill="#008000" stroke="#0a0a0a" stroke-width="3.0" stroke-linejoin="round" />
<polygon points="94.0,540.0 110.0,535.0 129.0,537.0 125.0,552.0 100.0,554.0" fill="#008000" stroke="#0a0a0a" stroke-width="3.0" stroke-linejoin="round" />
<polygon points="175.6,470.0 224.0,469.5 226.0,480.0 222.0,495.0 205.0,499.0 180.0,500.0 172.0,488.0" fill="#008000" stroke="#0a0a0a" stroke-width="3.0" stroke-linejoin="round" />
<polygon points="184.0,477.0 200.0,476.0 218.0,479.0 216.0,484.5 195.0,484.0 185.0,482.0" fill="url(#pg2)" stroke="#0a0a0a" stroke-width="1.6" stroke-linejoin="round" />
<polygon points="225.5,469.0 275.5,469.0 270.0,480.0 250.0,490.0 232.0,494.5 226.0,485.0" fill="#00ffff" stroke="#0a0a0a" stroke-width="3.0" stroke-linejoin="round" />
<polygon points="164.0,503.0 190.0,497.0 218.0,497.0 225.0,505.0 218.0,517.0 200.0,518.0 175.0,516.0 164.0,510.0" fill="#00ffff" stroke="#0a0a0a" stroke-width="3.0" stroke-linejoin="round" />
<polygon points="166.0,518.0 190.0,515.0 215.0,520.0 227.0,530.0 220.0,546.0 195.0,544.0 170.0,538.0" fill="url(#pg1)" stroke="#0a0a0a" stroke-width="3.0" stroke-linejoin="round" />
<ellipse cx="36.5" cy="503.8" rx="6.0" ry="20.8" fill="#00ffff" stroke="#0a0a0a" stroke-width="3.0" transform="rotate(12 36.5 503.8)"/>
<polygon points="31.0,524.0 60.0,522.0 97.7,526.0 95.0,540.0 70.0,541.0 31.0,540.0" fill="url(#pg1)" stroke="#0a0a0a" stroke-width="3.0" stroke-linejoin="round" />
<polygon points="31.0,531.0 55.0,533.0 66.0,545.0 60.0,561.0 31.0,561.0" fill="#008000" stroke="#0a0a0a" stroke-width="3.0" stroke-linejoin="round" />
<polygon points="62.6,548.5 92.4,548.5 127.5,553.7 153.8,550.2 189.0,545.0 215.2,532.7 231.0,524.0 261.0,528.2 302.7,535.0 311.0,537.4 311.0,546.6 284.3,553.5 249.7,565.0 237.0,567.0 215.0,577.5 189.0,583.0 180.0,588.0 164.0,593.0 124.0,598.6 115.0,609.0 75.0,609.0 48.5,611.0 31.0,618.0 31.0,564.0 45.0,564.0 50.0,556.0" fill="#00ffff" stroke="#0a0a0a" stroke-width="3.0" stroke-linejoin="round" />
<polygon points="66.0,572.0 90.0,569.0 104.7,571.0 100.0,584.6 80.0,584.0 68.0,580.0" fill="url(#pg1)" stroke="#0a0a0a" stroke-width="3.0" stroke-linejoin="round" />
<polygon points="131.0,565.0 145.0,563.5 153.8,566.0 150.0,575.8 135.0,575.0" fill="url(#pg3)" stroke="#0a0a0a" stroke-width="3.0" stroke-linejoin="round" />
<polygon points="80.0,602.0 110.0,591.6 136.0,584.6 164.0,584.6 160.8,591.6 127.5,595.0 115.0,607.4 83.6,607.4" fill="url(#pg1)" stroke="#0a0a0a" stroke-width="3.0" stroke-linejoin="round" />
<polygon points="31.0,572.0 50.0,571.0 66.0,580.0 60.0,597.0 31.0,597.0" fill="#008000" stroke="#0a0a0a" stroke-width="3.0" stroke-linejoin="round" />
<polygon points="34.5,600.0 60.0,596.0 66.0,605.0 50.0,615.0 34.5,619.6" fill="url(#pg1)" stroke="#0a0a0a" stroke-width="3.0" stroke-linejoin="round" />
<polygon points="31.0,612.0 48.5,611.0 60.0,614.0 45.0,620.0 31.0,622.0" fill="url(#pg1)" stroke="#0a0a0a" stroke-width="3.0" stroke-linejoin="round" />
<polygon points="171.0,595.0 185.0,593.0 205.0,605.0 222.0,620.0 220.0,628.4 205.0,625.0 190.0,615.0 175.0,605.0" fill="url(#pg1)" stroke="#0a0a0a" stroke-width="3.0" stroke-linejoin="round" />
<ellipse cx="228.8" cy="640.5" rx="8.8" ry="4.0" fill="url(#pg1)" stroke="#0a0a0a" stroke-width="3.0" transform="rotate(12 228.8 640.5)"/>
<polygon points="89.0,653.0 100.0,646.0 124.0,639.0 120.0,646.0 105.0,652.0 92.0,656.5" fill="url(#pg2)" stroke="#0a0a0a" stroke-width="3.0" stroke-linejoin="round" />
<ellipse cx="134.5" cy="630" rx="3.5" ry="2.2" fill="#fa2218" stroke="#0a0a0a" stroke-width="2.2" transform="rotate(0 134.5 630)"/>
<ellipse cx="157" cy="637.2" rx="8.8" ry="3.5" fill="#fa2218" stroke="#0a0a0a" stroke-width="2.2" transform="rotate(15 157 637.2)"/>
<ellipse cx="177.3" cy="643.3" rx="6.3" ry="4.3" fill="#fa2218" stroke="#0a0a0a" stroke-width="2.2" transform="rotate(15 177.3 643.3)"/>
<ellipse cx="206.5" cy="653.7" rx="10.5" ry="4.2" fill="#fa2218" stroke="#0a0a0a" stroke-width="2.2" transform="rotate(10 206.5 653.7)"/>
<polygon points="31.0,649.0 60.0,655.0 90.0,668.0 120.0,675.0 150.0,685.0 163.0,695.0 160.0,702.0 130.0,695.0 100.0,688.0 70.0,680.0 45.0,672.0 31.0,668.0" fill="url(#pg1)" stroke="#0a0a0a" stroke-width="3.0" stroke-linejoin="round" />
<polygon points="117.0,667.0 140.0,672.0 164.0,690.0 160.0,697.0 140.0,690.0 120.0,680.0" fill="url(#pg2)" stroke="#0a0a0a" stroke-width="3.0" stroke-linejoin="round" />
<ellipse cx="45" cy="664.4" rx="7" ry="4.4" fill="#fa2218" stroke="#0a0a0a" stroke-width="2.2" transform="rotate(20 45 664.4)"/>
<polygon points="89.0,680.0 100.0,672.0 115.0,675.0 129.0,690.0 125.0,698.0 105.0,695.0 92.0,688.0" fill="#fa2218" stroke="#0a0a0a" stroke-width="3.0" stroke-linejoin="round" />
<polygon points="132.8,699.0 145.0,697.0 154.0,705.0 150.0,711.0 136.0,708.0" fill="#fa2218" stroke="#0a0a0a" stroke-width="3.0" stroke-linejoin="round" />
<polygon points="162.0,712.0 180.7,716.7 201.4,725.9 215.0,735.0 233.0,740.0 237.0,741.0 237.0,750.0 229.0,749.0 215.2,749.0 196.8,742.0 178.4,732.8 166.8,721.3" fill="#fa2218" stroke="#0a0a0a" stroke-width="3.0" stroke-linejoin="round" />
<polygon points="161.0,727.0 175.0,726.5 189.0,735.0 185.0,744.0 170.0,740.0" fill="url(#pg1)" stroke="#0a0a0a" stroke-width="3.0" stroke-linejoin="round" />
<ellipse cx="182.0" cy="696.5" rx="7.5" ry="4.0" fill="url(#pg1)" stroke="#0a0a0a" stroke-width="3.0" transform="rotate(12 182.0 696.5)"/>
<polygon points="31.0,732.0 45.0,730.0 73.0,735.0 83.6,750.0 80.0,770.0 83.6,790.0 60.0,791.0 40.0,785.0 31.0,780.0" fill="url(#pg1)" stroke="#0a0a0a" stroke-width="3.0" stroke-linejoin="round" />
<polygon points="45.0,765.0 60.0,765.0 70.0,775.0 62.0,785.0 48.0,782.0" fill="#008000" stroke="#0a0a0a" stroke-width="3.0" stroke-linejoin="round" />
<ellipse cx="36.5" cy="756.3" rx="6.0" ry="9.2" fill="#fa2218" stroke="#0a0a0a" stroke-width="3.0" transform="rotate(12 36.5 756.3)"/>
<polygon points="45.0,757.0 55.0,756.0 62.6,761.0 60.0,767.0 47.0,766.0" fill="#fa2218" stroke="#0a0a0a" stroke-width="3.0" stroke-linejoin="round" />
<polygon points="80.0,755.0 95.0,751.0 108.0,757.0 104.0,766.0 85.0,768.6" fill="#00ffff" stroke="#0a0a0a" stroke-width="3.0" stroke-linejoin="round" />
<polygon points="83.6,770.0 110.0,762.0 130.0,760.0 150.0,765.0 162.0,775.0 155.0,790.0 130.0,788.0 100.0,785.0 85.0,780.0" fill="url(#pg1)" stroke="#0a0a0a" stroke-width="3.0" stroke-linejoin="round" />
<ellipse cx="114.0" cy="776.0" rx="14.5" ry="6.5" fill="#008000" stroke="#0a0a0a" stroke-width="3.0" transform="rotate(12 114.0 776.0)"/>
<ellipse cx="149.2" cy="766.8" rx="8.2" ry="5.7" fill="url(#pg3)" stroke="#0a0a0a" stroke-width="3.0" transform="rotate(12 149.2 766.8)"/>
<ellipse cx="143.0" cy="776.5" rx="7.5" ry="5.0" fill="#fa2218" stroke="#0a0a0a" stroke-width="3.0" transform="rotate(12 143.0 776.5)"/>
<polygon points="31.0,795.0 50.0,793.0 70.0,791.4 87.0,795.0 85.0,805.0 60.0,808.0 31.0,809.0" fill="#fa2218" stroke="#0a0a0a" stroke-width="3.0" stroke-linejoin="round" />
<polygon points="145.0,782.7 165.0,783.0 178.0,787.0 174.0,793.0 150.0,793.0" fill="#00ffff" stroke="#0a0a0a" stroke-width="3.0" stroke-linejoin="round" />
<polygon points="154.0,795.0 200.0,790.0 237.0,792.0 237.0,818.0 190.0,818.0 154.0,815.0" fill="url(#pg1)" stroke="#0a0a0a" stroke-width="3.0" stroke-linejoin="round" />
<ellipse cx="149.3" cy="798.3" rx="7.8" ry="5.2" fill="#2424a8" stroke="#0a0a0a" stroke-width="2.2" transform="rotate(0 149.3 798.3)"/>
<ellipse cx="182" cy="797.5" rx="7" ry="6.2" fill="#1515d0" stroke="#0a0a0a" stroke-width="2.2" transform="rotate(0 182 797.5)"/>
<ellipse cx="185" cy="813.4" rx="7" ry="4.4" fill="#1a1ad0" stroke="#0a0a0a" stroke-width="2.2" transform="rotate(0 185 813.4)"/>
<ellipse cx="226.0" cy="788.7" rx="11.5" ry="4.8" fill="#e03090" stroke="#0a0a0a" stroke-width="3.0" transform="rotate(12 226.0 788.7)"/>
<ellipse cx="229.5" cy="797.9" rx="8.0" ry="6.4" fill="#00ffff" stroke="#0a0a0a" stroke-width="3.0" transform="rotate(12 229.5 797.9)"/>
<polygon points="69.6,807.0 80.0,805.5 90.6,808.0 88.0,817.8 72.0,817.8" fill="#00ffff" stroke="#0a0a0a" stroke-width="3.0" stroke-linejoin="round" />
<ellipse cx="134.0" cy="871.5" rx="103.5" ry="5.0" fill="url(#pg1)" stroke="#0a0a0a" stroke-width="3.0" transform="rotate(12 134.0 871.5)"/>
<ellipse cx="75.0" cy="871.5" rx="15.5" ry="5.0" fill="#00ffff" stroke="#0a0a0a" stroke-width="3.0" transform="rotate(12 75.0 871.5)"/>
<polygon points="292.0,500.0 310.0,494.0 346.0,489.0 392.0,486.7 429.0,479.8 461.2,470.6 507.2,468.3 580.0,470.6 580.0,495.0 565.0,496.0 550.7,495.0 533.0,505.5 518.7,508.0 488.8,505.0 461.2,514.4 429.0,523.6 392.0,528.2 357.6,535.0 323.0,542.0 300.0,546.6 292.0,546.0" fill="#00ffff" stroke="none" stroke-width="0" stroke-linejoin="round" />
<polyline points="590.0,490.6 572.6,495.0 550.7,495.0 533.0,505.5 518.7,508.0 488.8,505.0 461.2,514.4 429.0,523.6 392.0,528.2 357.6,535.0 323.0,542.0 300.0,546.6" fill="none" stroke="#111" stroke-width="2" stroke-linejoin="round" stroke-linecap="round" />
<polyline points="310.0,494.0 346.0,489.0 392.0,486.7 429.0,479.8 461.2,470.6" fill="none" stroke="#111" stroke-width="2" stroke-linejoin="round" stroke-linecap="round" />
<polygon points="212.0,494.0 240.0,492.0 270.0,493.0 296.5,500.0 300.0,515.0 290.0,530.0 260.0,530.0 230.0,527.0 212.0,515.0" fill="url(#pg1)" stroke="#0a0a0a" stroke-width="3.0" stroke-linejoin="round" />
<polygon points="254.0,480.0 275.0,474.0 300.0,473.0 314.6,478.0 314.0,500.0 290.0,502.0 262.0,500.0 254.0,492.0" fill="#008000" stroke="#0a0a0a" stroke-width="3.0" stroke-linejoin="round" />
<polygon points="278.4,510.0 300.0,506.0 320.6,512.0 318.0,529.0 290.0,529.0" fill="#008000" stroke="#0a0a0a" stroke-width="3.0" stroke-linejoin="round" />
<polygon points="258.0,537.0 270.0,536.0 282.0,540.0 278.0,548.0 262.0,548.0" fill="url(#pg1)" stroke="#0a0a0a" stroke-width="3.0" stroke-linejoin="round" />
<polygon points="224.0,468.0 284.4,468.0 270.0,478.0 254.0,488.0 240.0,493.0 226.0,490.0" fill="#00ffff" stroke="#0a0a0a" stroke-width="3.0" stroke-linejoin="round" />
<polygon points="322.0,468.0 350.0,470.6 400.0,472.0 415.0,480.0 400.0,490.0 350.0,493.6 318.0,495.0 310.0,482.0" fill="url(#pg1)" stroke="#0a0a0a" stroke-width="3.0" stroke-linejoin="round" />
<polygon points="415.0,468.0 470.0,468.0 470.0,485.0 450.0,493.6 420.0,490.0" fill="#008000" stroke="#0a0a0a" stroke-width="3.0" stroke-linejoin="round" />
<polygon points="330.0,505.0 355.0,500.0 375.0,503.0 370.0,512.0 345.0,514.0" fill="url(#pg1)" stroke="#0a0a0a" stroke-width="3.0" stroke-linejoin="round" />
<polygon points="395.0,508.0 420.0,503.0 440.0,505.0 433.0,513.0 405.0,516.0" fill="url(#pg3)" stroke="#0a0a0a" stroke-width="3.0" stroke-linejoin="round" />
<polygon points="300.0,515.0 320.0,512.0 330.0,518.0 318.0,524.0 302.0,524.0" fill="url(#pg1)" stroke="#0a0a0a" stroke-width="3.0" stroke-linejoin="round" />
<polygon points="300.0,548.0 320.0,545.0 340.0,548.0 330.0,556.0 305.0,558.0" fill="url(#pg1)" stroke="#0a0a0a" stroke-width="3.0" stroke-linejoin="round" />
<polygon points="314.0,600.0 325.0,597.0 346.0,608.0 340.0,613.4 325.0,610.0" fill="url(#pg1)" stroke="#0a0a0a" stroke-width="3.0" stroke-linejoin="round" />
<polygon points="358.0,578.0 366.0,574.0 374.0,580.0 372.0,588.0 362.0,587.0" fill="#30e030" stroke="#0a0a0a" stroke-width="3.0" stroke-linejoin="round" />
<ellipse cx="432" cy="606.5" rx="6" ry="4.5" fill="#30e030" stroke="#0a0a0a" stroke-width="2.2" transform="rotate(0 432 606.5)"/>
<polygon points="381.0,590.0 390.0,585.7 405.0,592.0 410.5,600.0 400.0,604.0 388.0,600.0" fill="url(#pg2)" stroke="#0a0a0a" stroke-width="3.0" stroke-linejoin="round" />
<ellipse cx="395" cy="597" rx="3.5" ry="2.5" fill="#fa2218" stroke="#0a0a0a" stroke-width="0" transform="rotate(0 395 597)"/>
<polygon points="341.0,638.0 360.0,636.4 390.0,645.0 419.7,652.0 415.0,657.0 385.0,654.0 355.0,646.0" fill="url(#pg1)" stroke="#0a0a0a" stroke-width="3.0" stroke-linejoin="round" />
<polygon points="282.6,641.0 290.0,640.0 296.6,644.0 294.0,648.8 284.0,647.0" fill="#fa2218" stroke="#0a0a0a" stroke-width="3.0" stroke-linejoin="round" />
<polygon points="251.0,660.0 265.0,662.0 290.0,672.0 310.0,682.0 321.0,690.0 318.0,693.0 298.0,688.0 280.0,682.0 262.0,672.0" fill="url(#pg1)" stroke="#0a0a0a" stroke-width="3.0" stroke-linejoin="round" />
<ellipse cx="276.4" cy="675.8" rx="10" ry="4.2" fill="#fa2218" stroke="#0a0a0a" stroke-width="2.2" transform="rotate(18 276.4 675.8)"/>
<ellipse cx="308" cy="687.3" rx="10" ry="5" fill="#fa2218" stroke="#0a0a0a" stroke-width="2.2" transform="rotate(18 308 687.3)"/>
<ellipse cx="280" cy="669" rx="4.4" ry="4.2" fill="#00ffff" stroke="#0a0a0a" stroke-width="2.2" transform="rotate(0 280 669)"/>
<ellipse cx="261.5" cy="672.5" rx="3.5" ry="2.5" fill="#00ffff" stroke="#0a0a0a" stroke-width="2.2" transform="rotate(0 261.5 672.5)"/>
<polygon points="321.0,692.0 335.0,689.0 350.0,693.0 356.0,700.0 345.0,703.0 325.0,700.0" fill="#fa2218" stroke="#0a0a0a" stroke-width="3.0" stroke-linejoin="round" />
<ellipse cx="368.6" cy="703.2" rx="7" ry="5.2" fill="#fa2218" stroke="#0a0a0a" stroke-width="2.2" transform="rotate(0 368.6 703.2)"/>
<polygon points="386.0,688.0 400.0,685.6 415.0,690.0 417.7,700.0 405.0,706.7 390.0,702.0" fill="url(#pg1)" stroke="#0a0a0a" stroke-width="3.0" stroke-linejoin="round" />
<polygon points="381.0,702.0 395.0,700.0 410.0,708.0 425.0,718.0 430.0,727.0 420.0,729.5 405.0,722.0 390.0,712.0" fill="#fa2218" stroke="#0a0a0a" stroke-width="3.0" stroke-linejoin="round" />
<ellipse cx="364.3" cy="688.3" rx="4.3" ry="4.3" fill="#30e060" stroke="#0a0a0a" stroke-width="2.2" transform="rotate(0 364.3 688.3)"/>
<ellipse cx="392.3" cy="702.3" rx="4.3" ry="4.3" fill="#30e060" stroke="#0a0a0a" stroke-width="2.2" transform="rotate(0 392.3 702.3)"/>
<polygon points="349.0,657.5 360.0,657.0 367.0,665.0 362.0,675.0 352.0,672.0" fill="url(#pg1)" stroke="#0a0a0a" stroke-width="3.0" stroke-linejoin="round" />
<polygon points="345.8,705.0 360.0,710.0 372.0,722.0 370.0,727.7 355.0,720.0" fill="url(#pg1)" stroke="#0a0a0a" stroke-width="3.0" stroke-linejoin="round" />
<polygon points="342.0,641.0 370.0,645.0 400.0,652.0 443.0,660.0 443.0,666.0 400.0,659.0 370.0,652.0 345.0,646.0" fill="url(#pg1)" stroke="#0a0a0a" stroke-width="3.0" stroke-linejoin="round" />
<polygon points="269.0,725.0 285.0,722.0 300.0,721.0 298.0,733.0 285.0,738.0 272.0,735.0" fill="#fa2218" stroke="#0a0a0a" stroke-width="3.0" stroke-linejoin="round" />
<polygon points="237.0,740.0 260.0,738.0 277.4,745.0 275.0,765.0 260.0,773.0 237.0,770.0" fill="url(#pg3)" stroke="#0a0a0a" stroke-width="3.0" stroke-linejoin="round" />
<polygon points="295.0,740.0 315.0,738.0 335.0,750.0 330.0,759.0 310.0,752.0" fill="url(#pg1)" stroke="#0a0a0a" stroke-width="3.0" stroke-linejoin="round" />
<polygon points="374.0,755.0 385.0,751.0 400.0,752.0 405.0,760.0 395.0,766.0 380.0,763.0" fill="#fa2218" stroke="#0a0a0a" stroke-width="3.0" stroke-linejoin="round" />
<ellipse cx="433.0" cy="748.8" rx="10.5" ry="7.5" fill="#fa2218" stroke="#0a0a0a" stroke-width="3.0" transform="rotate(12 433.0 748.8)"/>
<ellipse cx="420" cy="744.4" rx="6" ry="4.4" fill="#20a0b0" stroke="#0a0a0a" stroke-width="2.2" transform="rotate(0 420 744.4)"/>
<polygon points="328.0,762.0 350.0,759.0 380.0,765.0 412.0,775.0 410.0,791.0 380.0,790.0 350.0,782.0 330.0,775.0" fill="url(#pg1)" stroke="#0a0a0a" stroke-width="3.0" stroke-linejoin="round" />
<ellipse cx="348.0" cy="772.5" rx="8.5" ry="5.0" fill="#008000" stroke="#0a0a0a" stroke-width="3.0" transform="rotate(12 348.0 772.5)"/>
<polygon points="296.6,778.0 312.0,777.0 319.5,783.0 315.0,789.0 299.0,789.0" fill="#00ffff" stroke="#0a0a0a" stroke-width="3.0" stroke-linejoin="round" />
<polygon points="237.0,770.0 260.0,772.0 290.0,778.0 300.0,784.0 290.0,800.0 251.0,800.0 237.0,790.0" fill="url(#pg1)" stroke="#0a0a0a" stroke-width="3.0" stroke-linejoin="round" />
<ellipse cx="243.5" cy="794.2" rx="7.0" ry="7.7" fill="#00ffff" stroke="#0a0a0a" stroke-width="3.0" transform="rotate(12 243.5 794.2)"/>
<polygon points="240.0,804.0 260.0,801.4 277.0,803.0 275.0,812.8 250.0,812.8 240.0,810.0" fill="#00ffff" stroke="#0a0a0a" stroke-width="3.0" stroke-linejoin="round" />
<ellipse cx="297.0" cy="805.7" rx="7.5" ry="6.2" fill="#00ffff" stroke="#0a0a0a" stroke-width="3.0" transform="rotate(12 297.0 805.7)"/>
<polygon points="357.0,792.0 368.0,790.0 385.0,797.0 391.0,805.0 385.0,808.5 370.0,805.0 360.0,800.0" fill="#fa2218" stroke="#0a0a0a" stroke-width="3.0" stroke-linejoin="round" />
<ellipse cx="351.0" cy="787.9" rx="14.5" ry="8.4" fill="url(#pg1)" stroke="#0a0a0a" stroke-width="3.0" transform="rotate(12 351.0 787.9)"/>
<ellipse cx="328.2" cy="812" rx="3.2" ry="3.5" fill="#fa2218" stroke="#0a0a0a" stroke-width="2.2" transform="rotate(0 328.2 812)"/>
<ellipse cx="299" cy="820" rx="3.5" ry="2.9" fill="#fa2218" stroke="#0a0a0a" stroke-width="2.2" transform="rotate(0 299 820)"/>
<ellipse cx="376.0" cy="813.5" rx="5.5" ry="4.0" fill="#00ffff" stroke="#0a0a0a" stroke-width="3.0" transform="rotate(12 376.0 813.5)"/>
<polygon points="327.0,840.0 345.0,828.0 365.0,818.0 380.0,808.5 378.0,818.0 360.0,832.0 340.0,845.6 328.0,845.0" fill="url(#pg1)" stroke="#0a0a0a" stroke-width="3.0" stroke-linejoin="round" />
<polygon points="258.0,830.0 280.0,823.0 325.0,823.0 322.0,840.0 290.0,845.6 262.0,845.0" fill="url(#pg1)" stroke="#0a0a0a" stroke-width="3.0" stroke-linejoin="round" />
<ellipse cx="271.2" cy="826.5" rx="6.2" ry="4.0" fill="#00ffff" stroke="#0a0a0a" stroke-width="3.0" transform="rotate(12 271.2 826.5)"/>
<ellipse cx="294.8" cy="838.5" rx="8.3" ry="5.0" fill="#00ffff" stroke="#0a0a0a" stroke-width="3.0" transform="rotate(12 294.8 838.5)"/>
<ellipse cx="319.5" cy="825.8" rx="6.0" ry="3.2" fill="#00ffff" stroke="#0a0a0a" stroke-width="3.0" transform="rotate(12 319.5 825.8)"/>
<ellipse cx="266.4" cy="844.2" rx="6.8" ry="4.8" fill="#00ffff" stroke="#0a0a0a" stroke-width="3.0" transform="rotate(12 266.4 844.2)"/>
<polygon points="320.0,865.0 330.0,858.0 345.0,856.0 360.0,860.0 358.0,876.0 322.0,876.0" fill="#00ffff" stroke="#0a0a0a" stroke-width="3.0" stroke-linejoin="round" />
<polygon points="351.0,847.0 370.0,846.0 389.6,849.0 385.0,857.0 355.0,857.0" fill="#00ffff" stroke="#0a0a0a" stroke-width="3.0" stroke-linejoin="round" />
<ellipse cx="367.0" cy="862.2" rx="13.5" ry="6.8" fill="url(#pg1)" stroke="#0a0a0a" stroke-width="3.0" transform="rotate(12 367.0 862.2)"/>
<ellipse cx="403.0" cy="851.3" rx="12.5" ry="4.8" fill="url(#pg1)" stroke="#0a0a0a" stroke-width="3.0" transform="rotate(12 403.0 851.3)"/>
<ellipse cx="429.0" cy="815.7" rx="14.5" ry="14.8" fill="url(#pg1)" stroke="#0a0a0a" stroke-width="3.0" transform="rotate(12 429.0 815.7)"/>
<ellipse cx="437.0" cy="815.5" rx="6.5" ry="5.0" fill="#00ffff" stroke="#0a0a0a" stroke-width="3.0" transform="rotate(12 437.0 815.5)"/>
<ellipse cx="430.0" cy="844.2" rx="13.5" ry="4.8" fill="url(#pg1)" stroke="#0a0a0a" stroke-width="3.0" transform="rotate(12 430.0 844.2)"/>
<ellipse cx="401.5" cy="864.2" rx="7.0" ry="4.8" fill="#00ffff" stroke="#0a0a0a" stroke-width="3.0" transform="rotate(12 401.5 864.2)"/>
<ellipse cx="437.7" cy="857.8" rx="5.8" ry="5.5" fill="#00ffff" stroke="#0a0a0a" stroke-width="3.0" transform="rotate(12 437.7 857.8)"/>
<ellipse cx="271.0" cy="862.2" rx="13.5" ry="14.2" fill="url(#pg1)" stroke="#0a0a0a" stroke-width="3.0" transform="rotate(12 271.0 862.2)"/>
<ellipse cx="471.5" cy="476.3" rx="5.7" ry="5.7" fill="#fa2218" stroke="#0a0a0a" stroke-width="2.2" transform="rotate(0 471.5 476.3)"/>
<polygon points="482.0,508.0 495.0,503.0 505.0,505.0 503.0,512.0 488.0,512.0" fill="#fa2218" stroke="#0a0a0a" stroke-width="3.0" stroke-linejoin="round" />
<polygon points="496.0,552.0 510.0,549.0 525.6,551.0 523.0,560.4 500.0,560.0" fill="#00ffff" stroke="#0a0a0a" stroke-width="3.0" stroke-linejoin="round" />
<ellipse cx="546.4" cy="539.5" rx="4.6" ry="4.5" fill="#00ffff" stroke="#0a0a0a" stroke-width="2.2" transform="rotate(0 546.4 539.5)"/>
<polygon points="487.0,575.0 500.0,563.0 514.0,565.0 510.0,580.0 495.0,583.4" fill="url(#pg1)" stroke="#0a0a0a" stroke-width="3.0" stroke-linejoin="round" />
<polygon points="551.0,562.0 565.0,556.0 576.0,565.0 574.0,579.0 558.0,575.0" fill="url(#pg1)" stroke="#0a0a0a" stroke-width="3.0" stroke-linejoin="round" />
<ellipse cx="475" cy="613.4" rx="7" ry="4.6" fill="#fa2218" stroke="#0a0a0a" stroke-width="2.2" transform="rotate(0 475 613.4)"/>
<polygon points="489.0,616.0 505.0,613.4 525.0,616.0 541.8,625.0 535.0,629.5 510.0,626.0 492.0,622.0" fill="#fa2218" stroke="#0a0a0a" stroke-width="3.0" stroke-linejoin="round" />
<polygon points="429.0,655.0 450.0,648.0 475.0,640.0 495.7,632.0 493.0,642.0 470.0,652.0 445.0,661.7 432.0,661.0" fill="url(#pg1)" stroke="#0a0a0a" stroke-width="3.0" stroke-linejoin="round" />
<polygon points="443.0,684.0 455.0,682.0 470.0,686.0 478.0,692.0 470.0,697.0 450.0,694.0" fill="url(#pg1)" stroke="#0a0a0a" stroke-width="3.0" stroke-linejoin="round" />
<ellipse cx="518.7" cy="697" rx="7" ry="5.7" fill="#fa2218" stroke="#0a0a0a" stroke-width="2.2" transform="rotate(0 518.7 697)"/>
<ellipse cx="540.5" cy="715.5" rx="3.5" ry="3.5" fill="#fa2218" stroke="#0a0a0a" stroke-width="2.2" transform="rotate(0 540.5 715.5)"/>
<ellipse cx="524.5" cy="727" rx="5.8" ry="3.5" fill="#fa2218" stroke="#0a0a0a" stroke-width="2.2" transform="rotate(0 524.5 727)"/>
<polygon points="537.0,730.0 550.0,726.0 564.8,728.0 562.0,735.0 545.0,735.0" fill="#fa2218" stroke="#0a0a0a" stroke-width="3.0" stroke-linejoin="round" />
<polygon points="438.0,735.0 460.0,730.5 490.0,735.0 507.0,745.0 500.0,753.5 475.0,748.0 450.0,742.0" fill="url(#pg1)" stroke="#0a0a0a" stroke-width="3.0" stroke-linejoin="round" />
<polygon points="549.0,766.0 558.0,762.7 571.7,772.0 568.0,781.0 555.0,776.0" fill="#fa2218" stroke="#0a0a0a" stroke-width="3.0" stroke-linejoin="round" />
<ellipse cx="490.0" cy="763.8" rx="8.5" ry="6.3" fill="#00ffff" stroke="#0a0a0a" stroke-width="3.0" transform="rotate(12 490.0 763.8)"/>
<ellipse cx="529" cy="757" rx="3.5" ry="5.8" fill="#00ffff" stroke="#0a0a0a" stroke-width="2.2" transform="rotate(0 529 757)"/>
<polygon points="443.0,798.0 470.0,790.0 500.0,785.0 550.0,781.0 580.0,782.0 580.0,796.0 530.0,800.0 480.0,805.0 450.0,806.0" fill="url(#pg1)" stroke="#0a0a0a" stroke-width="3.0" stroke-linejoin="round" />
<polygon points="443.0,810.0 450.0,800.0 462.0,795.0 468.0,805.0 465.0,815.0 443.0,818.0" fill="#00ffff" stroke="#0a0a0a" stroke-width="3.0" stroke-linejoin="round" />
<polygon points="470.0,800.0 480.0,795.0 491.0,800.0 488.0,808.8 473.0,808.0" fill="#00ffff" stroke="#0a0a0a" stroke-width="3.0" stroke-linejoin="round" />
<ellipse cx="532.5" cy="798.5" rx="12.0" ry="4.0" fill="#00ffff" stroke="#0a0a0a" stroke-width="3.0" transform="rotate(12 532.5 798.5)"/>
<polygon points="493.0,795.0 500.0,790.0 509.5,788.0 507.0,797.0 497.0,799.5" fill="#fa2218" stroke="#0a0a0a" stroke-width="3.0" stroke-linejoin="round" />
<polygon points="519.0,820.0 540.0,815.7 565.0,818.0 562.0,827.2 530.0,827.0" fill="#00ffff" stroke="#0a0a0a" stroke-width="3.0" stroke-linejoin="round" />
<polygon points="503.0,845.0 515.0,838.0 537.0,836.4 535.0,850.0 515.0,854.8 505.0,852.0" fill="#00ffff" stroke="#0a0a0a" stroke-width="3.0" stroke-linejoin="round" />
<ellipse cx="572.5" cy="827.2" rx="8.0" ry="9.7" fill="#00ffff" stroke="#0a0a0a" stroke-width="3.0" transform="rotate(12 572.5 827.2)"/>
<polygon points="530.0,845.0 550.0,838.0 570.0,833.0 580.0,831.8 580.0,842.0 560.0,848.0 540.0,852.5 532.0,851.0" fill="#fa2218" stroke="#0a0a0a" stroke-width="3.0" stroke-linejoin="round" />
<ellipse cx="493.4" cy="845.5" rx="4.6" ry="4.5" fill="#fa2218" stroke="#0a0a0a" stroke-width="2.2" transform="rotate(0 493.4 845.5)"/>
<ellipse cx="453.2" cy="829.5" rx="5.8" ry="4.5" fill="#fa2218" stroke="#0a0a0a" stroke-width="2.2" transform="rotate(0 453.2 829.5)"/>
<polygon points="443.0,852.0 450.0,848.0 466.0,850.0 463.0,859.4 443.0,859.0" fill="#00ffff" stroke="#0a0a0a" stroke-width="3.0" stroke-linejoin="round" />
<ellipse cx="453" cy="838.5" rx="8" ry="4.5" fill="#00ffff" stroke="#0a0a0a" stroke-width="2.2" transform="rotate(0 453 838.5)"/>
<polygon points="560.0,468.3 781.0,468.3 769.7,479.8 749.0,489.0 735.2,500.5 712.2,500.5 677.6,491.3 643.0,491.3 608.5,489.0 590.0,490.6 572.6,495.0 560.0,495.0" fill="#00ffff" stroke="none" stroke-width="0" stroke-linejoin="round" />
<polyline points="781.0,468.3 769.7,479.8 749.0,489.0 735.2,500.5 712.2,500.5 677.6,491.3 643.0,491.3 608.5,489.0 590.0,490.6" fill="none" stroke="#111" stroke-width="2" stroke-linejoin="round" stroke-linecap="round" />
<ellipse cx="670" cy="472" rx="10" ry="5" fill="url(#pg1)" stroke="#0a0a0a" stroke-width="2.2" transform="rotate(0 670 472)"/>
<ellipse cx="700" cy="472" rx="12" ry="5" fill="url(#pg1)" stroke="#0a0a0a" stroke-width="2.2" transform="rotate(0 700 472)"/>
<polygon points="579.0,472.0 590.0,468.3 595.0,470.0 592.0,479.8 582.0,479.0" fill="#fa2218" stroke="#0a0a0a" stroke-width="3.0" stroke-linejoin="round" />
<polygon points="740.0,485.0 750.0,480.0 758.0,482.0 755.0,489.0 743.0,489.0" fill="#40e040" stroke="#0a0a0a" stroke-width="3.0" stroke-linejoin="round" />
<polygon points="571.0,518.0 585.0,516.0 592.0,519.0 590.0,527.4 573.0,526.0" fill="#00ffff" stroke="#0a0a0a" stroke-width="3.0" stroke-linejoin="round" />
<ellipse cx="604" cy="528.2" rx="6.9" ry="4.6" fill="#00ffff" stroke="#0a0a0a" stroke-width="2.2" transform="rotate(0 604 528.2)"/>
<ellipse cx="622.4" cy="520.2" rx="4.7" ry="3.5" fill="#00ffff" stroke="#0a0a0a" stroke-width="2.2" transform="rotate(0 622.4 520.2)"/>
<ellipse cx="658" cy="511" rx="5.7" ry="3.5" fill="#00ffff" stroke="#0a0a0a" stroke-width="2.2" transform="rotate(0 658 511)"/>
<polygon points="703.0,526.0 721.0,532.8 740.0,537.4 751.3,544.3 749.0,551.2 735.2,548.9 716.8,542.0 707.6,535.0" fill="#fa2218" stroke="#0a0a0a" stroke-width="3.0" stroke-linejoin="round" />
<ellipse cx="793.8" cy="505.7" rx="5.8" ry="4" fill="#fa2218" stroke="#0a0a0a" stroke-width="2.2" transform="rotate(0 793.8 505.7)"/>
<polygon points="632.0,555.0 650.0,545.0 668.0,533.0 675.3,530.5 672.0,538.0 655.0,550.0 640.0,558.0" fill="url(#pg2)" stroke="#0a0a0a" stroke-width="3.0" stroke-linejoin="round" />
<polygon points="770.0,553.0 785.0,551.2 800.0,558.0 804.3,565.0 795.0,567.3 778.0,562.0" fill="url(#pg1)" stroke="#0a0a0a" stroke-width="3.0" stroke-linejoin="round" />
<ellipse cx="799.5" cy="563.5" rx="5.0" ry="4.0" fill="#fa2218" stroke="#0a0a0a" stroke-width="3.0" transform="rotate(12 799.5 563.5)"/>
<polygon points="698.0,592.0 710.0,590.3 735.0,602.0 749.0,612.0 742.0,615.7 720.0,608.0 702.0,598.0" fill="url(#pg1)" stroke="#0a0a0a" stroke-width="3.0" stroke-linejoin="round" />
<polygon points="758.0,610.0 775.0,603.0 795.0,596.0 804.0,595.0 800.0,605.0 780.0,612.0 762.0,613.4" fill="url(#pg1)" stroke="#0a0a0a" stroke-width="3.0" stroke-linejoin="round" />
<polygon points="712.0,500.0 730.0,498.0 749.0,507.0 745.0,514.4 725.0,510.0" fill="url(#pg1)" stroke="#0a0a0a" stroke-width="3.0" stroke-linejoin="round" />
<polygon points="818.0,500.0 830.0,495.0 841.0,493.6 838.0,503.0 822.0,505.0" fill="url(#pg1)" stroke="#0a0a0a" stroke-width="3.0" stroke-linejoin="round" />
<polygon points="611.0,612.0 620.0,608.8 634.0,622.0 630.0,632.0 617.0,625.0" fill="url(#pg2)" stroke="#0a0a0a" stroke-width="3.0" stroke-linejoin="round" />
<polygon points="678.0,640.0 690.0,636.4 712.0,645.0 708.0,650.0 690.0,648.0" fill="url(#pg1)" stroke="#0a0a0a" stroke-width="3.0" stroke-linejoin="round" />
<polygon points="754.0,645.0 765.0,641.0 786.0,655.0 782.0,666.3 765.0,660.0" fill="url(#pg1)" stroke="#0a0a0a" stroke-width="3.0" stroke-linejoin="round" />
<polygon points="823.0,595.0 835.0,590.3 850.0,592.0 848.0,600.0 830.0,601.8" fill="#00ffff" stroke="#0a0a0a" stroke-width="3.0" stroke-linejoin="round" />
<ellipse cx="624.7" cy="598.3" rx="7" ry="5.7" fill="#fa2218" stroke="#0a0a0a" stroke-width="2.2" transform="rotate(0 624.7 598.3)"/>
<polygon points="703.0,630.0 715.0,627.0 735.0,635.0 749.0,645.0 745.0,650.0 725.0,645.0 708.0,637.0" fill="#fa2218" stroke="#0a0a0a" stroke-width="3.0" stroke-linejoin="round" />
<polygon points="712.0,655.0 725.0,650.0 744.0,662.0 742.0,671.0 728.0,668.0 715.0,662.0" fill="#fa2218" stroke="#0a0a0a" stroke-width="3.0" stroke-linejoin="round" />
<polygon points="574.0,638.0 590.0,637.0 605.0,648.0 625.0,657.0 652.0,668.0 650.0,677.0 630.0,677.0 612.0,668.0 595.0,657.0 574.0,650.0" fill="#fa2218" stroke="#0a0a0a" stroke-width="3.0" stroke-linejoin="round" />
<polygon points="615.0,668.0 630.0,666.0 652.0,670.0 650.0,677.5 630.0,677.0 618.0,674.0" fill="#fa2218" stroke="#0a0a0a" stroke-width="3.0" stroke-linejoin="round" />
<ellipse cx="622.4" cy="694.7" rx="7" ry="3.4" fill="#fa2218" stroke="#0a0a0a" stroke-width="2.2" transform="rotate(0 622.4 694.7)"/>
<ellipse cx="738.7" cy="669" rx="5.7" ry="3" fill="#fa2218" stroke="#0a0a0a" stroke-width="2.2" transform="rotate(0 738.7 669)"/>
<ellipse cx="750.5" cy="677.0" rx="6.0" ry="5.5" fill="#f0f020" stroke="#0a0a0a" stroke-width="0.8" transform="rotate(12 750.5 677.0)"/>
<ellipse cx="807.8" cy="683.4" rx="5.8" ry="3.4" fill="#fa2218" stroke="#0a0a0a" stroke-width="2.2" transform="rotate(0 807.8 683.4)"/>
<polygon points="825.0,692.0 835.0,689.0 845.7,693.0 842.0,698.0 828.0,697.0" fill="#fa2218" stroke="#0a0a0a" stroke-width="3.0" stroke-linejoin="round" />
<polygon points="662.0,690.0 690.0,682.0 720.0,680.0 749.0,685.0 745.0,700.0 710.0,702.8 680.0,700.0" fill="url(#pg1)" stroke="#0a0a0a" stroke-width="3.0" stroke-linejoin="round" />
<polygon points="604.0,730.0 630.0,726.0 666.0,728.0 662.0,735.0 630.0,735.0" fill="url(#pg1)" stroke="#0a0a0a" stroke-width="3.0" stroke-linejoin="round" />
<polygon points="657.0,742.0 700.0,737.0 740.0,735.0 767.0,740.0 762.0,749.0 720.0,749.0 680.0,749.0" fill="url(#pg1)" stroke="#0a0a0a" stroke-width="3.0" stroke-linejoin="round" />
<polygon points="749.0,700.0 780.0,696.0 810.0,698.0 827.0,705.0 820.0,715.0 790.0,712.0 760.0,715.0 750.0,710.0" fill="url(#pg1)" stroke="#0a0a0a" stroke-width="3.0" stroke-linejoin="round" />
<polygon points="754.0,760.0 775.0,751.0 804.0,755.0 800.0,775.0 780.0,778.8 760.0,772.0" fill="url(#pg1)" stroke="#0a0a0a" stroke-width="3.0" stroke-linejoin="round" />
<polygon points="666.0,762.0 680.0,758.0 694.0,765.0 690.0,772.0 672.0,770.0" fill="url(#pg1)" stroke="#0a0a0a" stroke-width="3.0" stroke-linejoin="round" />
<polygon points="574.0,683.0 590.0,680.0 601.6,686.0 598.0,693.6 580.0,692.0" fill="url(#pg1)" stroke="#0a0a0a" stroke-width="3.0" stroke-linejoin="round" />
<ellipse cx="840.5" cy="747.0" rx="14.0" ry="7.5" fill="url(#pg1)" stroke="#0a0a0a" stroke-width="3.0" transform="rotate(12 840.5 747.0)"/>
<polygon points="620.0,772.0 645.0,770.0 666.0,778.0 660.0,786.0 630.0,785.0" fill="url(#pg1)" stroke="#0a0a0a" stroke-width="3.0" stroke-linejoin="round" />
<polygon points="779.0,718.0 790.0,712.0 810.0,715.0 825.0,722.0 822.0,732.8 800.0,730.0 783.0,728.0" fill="#fa2218" stroke="#0a0a0a" stroke-width="3.0" stroke-linejoin="round" />
<polygon points="777.0,735.0 790.0,730.5 806.6,733.0 804.0,742.0 780.0,742.0" fill="#00ffff" stroke="#0a0a0a" stroke-width="3.0" stroke-linejoin="round" />
<ellipse cx="822.7" cy="736.3" rx="4.6" ry="3.5" fill="#00ffff" stroke="#0a0a0a" stroke-width="2.2" transform="rotate(0 822.7 736.3)"/>
<ellipse cx="836.5" cy="737.4" rx="4.6" ry="4.6" fill="#1010c0" stroke="#0a0a0a" stroke-width="2.2" transform="rotate(0 836.5 737.4)"/>
<polygon points="597.0,710.0 610.0,705.0 624.7,707.0 620.0,719.0 602.0,718.0" fill="#00ffff" stroke="#0a0a0a" stroke-width="3.0" stroke-linejoin="round" />
<ellipse cx="696" cy="706" rx="7" ry="5.7" fill="#20a0a8" stroke="#0a0a0a" stroke-width="2.2" transform="rotate(0 696 706)"/>
<polygon points="717.0,702.0 735.0,698.0 749.0,700.0 745.0,712.0 725.0,711.0" fill="#00ffff" stroke="#0a0a0a" stroke-width="3.0" stroke-linejoin="round" />
<ellipse cx="600.5" cy="762.6" rx="5.7" ry="4.6" fill="#00ffff" stroke="#0a0a0a" stroke-width="2.2" transform="rotate(0 600.5 762.6)"/>
<ellipse cx="690" cy="776.5" rx="8" ry="4.5" fill="#00ffff" stroke="#0a0a0a" stroke-width="2.2" transform="rotate(0 690 776.5)"/>
<polygon points="726.0,765.0 740.0,758.0 755.0,755.8 758.0,762.0 750.0,772.0 735.0,771.0" fill="#fa2218" stroke="#0a0a0a" stroke-width="3.0" stroke-linejoin="round" />
<polygon points="832.0,765.0 845.0,760.4 854.0,762.0 854.0,772.0 838.0,772.0" fill="#fa2218" stroke="#0a0a0a" stroke-width="3.0" stroke-linejoin="round" />
<polygon points="723.7,795.0 739.8,785.7 769.7,788.0 795.0,792.6 827.3,785.7 854.0,783.4 854.0,797.2 815.8,799.5 788.0,806.5 769.7,813.4 753.6,811.0 735.2,804.0 723.7,804.0" fill="#00ffff" stroke="#0a0a0a" stroke-width="3.0" stroke-linejoin="round" />
<polygon points="574.0,815.7 597.0,813.4 615.4,820.3 643.0,827.2 638.5,836.4 608.5,841.0 587.8,841.0 574.0,836.4" fill="#00ffff" stroke="#0a0a0a" stroke-width="3.0" stroke-linejoin="round" />
<polygon points="648.0,805.0 660.0,797.0 682.0,805.0 680.0,822.6 655.0,820.0" fill="#00ffff" stroke="#0a0a0a" stroke-width="3.0" stroke-linejoin="round" />
<polygon points="689.0,832.0 705.0,827.0 721.4,830.0 718.0,841.0 695.0,840.0" fill="#00ffff" stroke="#0a0a0a" stroke-width="3.0" stroke-linejoin="round" />
<polygon points="827.0,822.0 840.0,818.0 850.0,822.0 848.0,832.0 830.0,832.0" fill="#00ffff" stroke="#0a0a0a" stroke-width="3.0" stroke-linejoin="round" />
<ellipse cx="847.5" cy="856.0" rx="7.0" ry="8.5" fill="#00ffff" stroke="#0a0a0a" stroke-width="3.0" transform="rotate(12 847.5 856.0)"/>
<ellipse cx="796.0" cy="869.0" rx="8.5" ry="7.5" fill="#00ffff" stroke="#0a0a0a" stroke-width="3.0" transform="rotate(12 796.0 869.0)"/>
<polygon points="574.0,825.0 590.0,818.0 601.6,822.0 598.0,835.0 585.0,845.6 574.0,845.0" fill="#fa2218" stroke="#0a0a0a" stroke-width="3.0" stroke-linejoin="round" />
<ellipse cx="766" cy="826" rx="8" ry="3.5" fill="#fa2218" stroke="#0a0a0a" stroke-width="2.2" transform="rotate(0 766 826)"/>
<ellipse cx="788" cy="826" rx="7" ry="3.5" fill="#fa2218" stroke="#0a0a0a" stroke-width="2.2" transform="rotate(0 788 826)"/>
<ellipse cx="807.8" cy="824" rx="5.8" ry="8" fill="#fa2218" stroke="#0a0a0a" stroke-width="2.2" transform="rotate(0 807.8 824)"/>
<ellipse cx="846.4" cy="815.5" rx="7.6" ry="4.5" fill="#fa2218" stroke="#0a0a0a" stroke-width="2.2" transform="rotate(0 846.4 815.5)"/>
<polygon points="813.5,870.0 820.0,864.0 827.3,866.0 827.0,876.0 815.0,876.0" fill="#fa2218" stroke="#0a0a0a" stroke-width="3.0" stroke-linejoin="round" />
<ellipse cx="764" cy="860.5" rx="3.5" ry="3.5" fill="#1020a0" stroke="#0a0a0a" stroke-width="2.2" transform="rotate(0 764 860.5)"/>
<polyline points="339.3,792.1 343.5,788.5 348.8,789.6" fill="none" stroke="#0a0a0a" stroke-width="2.8" stroke-linejoin="round" stroke-linecap="round" />
<polyline points="152.8,871.1 157.1,874.9 162.0,877.1" fill="none" stroke="#0a0a0a" stroke-width="2.8" stroke-linejoin="round" stroke-linecap="round" />
<polyline points="584.0,792.9 588.9,793.6 592.0,796.9" fill="none" stroke="#0a0a0a" stroke-width="2.8" stroke-linejoin="round" stroke-linecap="round" />
<polyline points="119.6,514.6 126.0,516.5 132.5,515.6" fill="none" stroke="#0a0a0a" stroke-width="2.8" stroke-linejoin="round" stroke-linecap="round" />
<polyline points="504.2,502.6 510.6,503.5 516.4,506.9 522.6,508.6" fill="none" stroke="#0a0a0a" stroke-width="2.8" stroke-linejoin="round" stroke-linecap="round" />
<polyline points="829.4,725.5 833.5,726.2 837.6,727.0" fill="none" stroke="#0a0a0a" stroke-width="2.8" stroke-linejoin="round" stroke-linecap="round" />
<polyline points="809.3,498.7 816.7,499.6 823.5,503.1" fill="none" stroke="#0a0a0a" stroke-width="2.8" stroke-linejoin="round" stroke-linecap="round" />
<polyline points="382.8,643.8 388.4,647.0 394.4,649.1 400.6,650.6" fill="none" stroke="#0a0a0a" stroke-width="2.8" stroke-linejoin="round" stroke-linecap="round" />
<polyline points="804.4,865.3 810.4,868.2 817.0,869.0 823.7,869.1" fill="none" stroke="#0a0a0a" stroke-width="2.8" stroke-linejoin="round" stroke-linecap="round" />
<polyline points="380.7,472.1 385.6,472.8 390.5,473.1" fill="none" stroke="#0a0a0a" stroke-width="2.8" stroke-linejoin="round" stroke-linecap="round" />
<polyline points="764.0,834.9 769.6,835.7 773.9,838.9" fill="none" stroke="#0a0a0a" stroke-width="2.8" stroke-linejoin="round" stroke-linecap="round" />
<polyline points="222.5,768.5 227.9,767.7 233.0,768.2" fill="none" stroke="#0a0a0a" stroke-width="2.8" stroke-linejoin="round" stroke-linecap="round" />
<polyline points="756.6,789.9 761.1,792.8 764.5,796.9" fill="none" stroke="#0a0a0a" stroke-width="2.8" stroke-linejoin="round" stroke-linecap="round" />
<polyline points="169.3,875.3 174.5,878.1 180.0,880.0" fill="none" stroke="#0a0a0a" stroke-width="2.8" stroke-linejoin="round" stroke-linecap="round" />
<polyline points="760.0,503.9 764.5,505.0 768.6,507.5" fill="none" stroke="#0a0a0a" stroke-width="2.8" stroke-linejoin="round" stroke-linecap="round" />
<polyline points="624.1,695.2 630.0,699.4 635.1,705.0" fill="none" stroke="#0a0a0a" stroke-width="2.8" stroke-linejoin="round" stroke-linecap="round" />
<polyline points="205.7,532.8 208.8,532.6 212.1,532.8" fill="none" stroke="#0a0a0a" stroke-width="2.8" stroke-linejoin="round" stroke-linecap="round" />
<polyline points="688.7,731.3 691.7,735.5 696.8,736.2" fill="none" stroke="#0a0a0a" stroke-width="2.8" stroke-linejoin="round" stroke-linecap="round" />
<polyline points="584.2,860.3 587.6,861.5 591.4,860.8" fill="none" stroke="#0a0a0a" stroke-width="2.8" stroke-linejoin="round" stroke-linecap="round" />
<polyline points="484.7,485.4 493.6,487.6 502.5,487.7" fill="none" stroke="#0a0a0a" stroke-width="2.8" stroke-linejoin="round" stroke-linecap="round" />
<polyline points="418.2,762.6 421.9,761.4 425.4,759.3" fill="none" stroke="#0a0a0a" stroke-width="2.8" stroke-linejoin="round" stroke-linecap="round" />
<polyline points="778.7,786.6 785.0,788.6 791.4,788.9 798.0,786.5" fill="none" stroke="#0a0a0a" stroke-width="2.8" stroke-linejoin="round" stroke-linecap="round" />
<polyline points="168.4,848.4 176.6,845.1 185.1,843.0" fill="none" stroke="#0a0a0a" stroke-width="2.8" stroke-linejoin="round" stroke-linecap="round" />
<polyline points="130.5,570.1 137.3,574.0 145.1,576.0" fill="none" stroke="#0a0a0a" stroke-width="2.8" stroke-linejoin="round" stroke-linecap="round" />
<polyline points="768.1,569.9 775.6,572.6 781.4,577.6" fill="none" stroke="#0a0a0a" stroke-width="2.8" stroke-linejoin="round" stroke-linecap="round" />
<polyline points="111.4,843.1 117.3,846.9 124.0,847.5 130.6,848.6" fill="none" stroke="#0a0a0a" stroke-width="2.8" stroke-linejoin="round" stroke-linecap="round" />
<polyline points="407.1,648.7 413.4,649.9 419.5,648.4 425.7,648.6" fill="none" stroke="#0a0a0a" stroke-width="2.8" stroke-linejoin="round" stroke-linecap="round" />
<polyline points="606.0,789.1 612.4,791.7 619.0,793.1 625.6,793.7" fill="none" stroke="#0a0a0a" stroke-width="2.8" stroke-linejoin="round" stroke-linecap="round" />
<polyline points="53.9,527.5 59.7,531.1 66.3,532.8 72.8,534.5" fill="none" stroke="#0a0a0a" stroke-width="2.8" stroke-linejoin="round" stroke-linecap="round" />
<polyline points="226.5,666.3 234.7,666.9 242.4,669.8" fill="none" stroke="#0a0a0a" stroke-width="2.8" stroke-linejoin="round" stroke-linecap="round" />
<polyline points="606.3,827.1 613.3,827.2 619.4,830.5 625.9,832.7" fill="none" stroke="#0a0a0a" stroke-width="2.8" stroke-linejoin="round" stroke-linecap="round" />
<polyline points="336.9,601.4 342.1,603.8 347.3,605.7" fill="none" stroke="#0a0a0a" stroke-width="2.8" stroke-linejoin="round" stroke-linecap="round" />
<polyline points="765.6,872.4 773.4,873.2 779.8,877.8" fill="none" stroke="#0a0a0a" stroke-width="2.8" stroke-linejoin="round" stroke-linecap="round" />
<polyline points="315.6,783.8 321.2,787.7 325.0,793.8" fill="none" stroke="#0a0a0a" stroke-width="2.8" stroke-linejoin="round" stroke-linecap="round" />
<polyline points="369.9,764.0 374.7,766.8 379.0,770.4" fill="none" stroke="#0a0a0a" stroke-width="2.8" stroke-linejoin="round" stroke-linecap="round" />
<polyline points="172.8,556.1 177.8,560.1 182.0,565.4" fill="none" stroke="#0a0a0a" stroke-width="2.8" stroke-linejoin="round" stroke-linecap="round" />
<polyline points="422.1,627.9 425.4,630.8 429.2,632.0" fill="none" stroke="#0a0a0a" stroke-width="2.8" stroke-linejoin="round" stroke-linecap="round" />
<polyline points="265.8,537.7 273.0,540.9 280.7,540.2 288.1,542.0" fill="none" stroke="#0a0a0a" stroke-width="2.8" stroke-linejoin="round" stroke-linecap="round" />
<polyline points="529.6,861.6 536.2,864.7 543.1,865.7" fill="none" stroke="#0a0a0a" stroke-width="2.8" stroke-linejoin="round" stroke-linecap="round" />
<polyline points="775.5,508.6 779.5,507.3 782.2,510.6" fill="none" stroke="#0a0a0a" stroke-width="2.8" stroke-linejoin="round" stroke-linecap="round" />
<polyline points="843.7,665.3 849.9,668.2 855.2,673.1 862.4,673.8" fill="none" stroke="#0a0a0a" stroke-width="2.8" stroke-linejoin="round" stroke-linecap="round" />
<polyline points="843.1,755.4 851.5,752.7 859.8,750.0" fill="none" stroke="#0a0a0a" stroke-width="2.8" stroke-linejoin="round" stroke-linecap="round" />
<polyline points="280.6,538.0 285.0,538.8 288.5,541.2" fill="none" stroke="#0a0a0a" stroke-width="2.8" stroke-linejoin="round" stroke-linecap="round" />
<polyline points="345.6,493.6 352.7,494.2 360.0,493.8 366.7,496.6" fill="none" stroke="#0a0a0a" stroke-width="2.8" stroke-linejoin="round" stroke-linecap="round" />
<polyline points="126.2,642.4 133.9,643.7 141.3,642.9 148.5,640.3" fill="none" stroke="#0a0a0a" stroke-width="2.8" stroke-linejoin="round" stroke-linecap="round" />
<polyline points="91.4,657.3 96.4,659.2 100.3,663.5" fill="none" stroke="#0a0a0a" stroke-width="2.8" stroke-linejoin="round" stroke-linecap="round" />
<polyline points="75.3,624.8 81.2,625.9 87.0,625.1" fill="none" stroke="#0a0a0a" stroke-width="2.8" stroke-linejoin="round" stroke-linecap="round" />
<polyline points="408.4,766.8 415.9,769.1 423.4,770.9 431.0,772.5" fill="none" stroke="#0a0a0a" stroke-width="2.8" stroke-linejoin="round" stroke-linecap="round" />
<polyline points="547.8,860.1 550.7,863.8 556.1,863.3" fill="none" stroke="#0a0a0a" stroke-width="2.8" stroke-linejoin="round" stroke-linecap="round" />
<polyline points="333.5,759.7 336.8,761.5 340.7,760.6" fill="none" stroke="#0a0a0a" stroke-width="2.8" stroke-linejoin="round" stroke-linecap="round" />
<polyline points="453.7,801.2 462.7,801.3 471.6,801.9" fill="none" stroke="#0a0a0a" stroke-width="2.8" stroke-linejoin="round" stroke-linecap="round" />
<polyline points="238.5,847.8 247.2,847.7 255.8,850.0" fill="none" stroke="#0a0a0a" stroke-width="2.8" stroke-linejoin="round" stroke-linecap="round" />
<polyline points="325.4,606.0 332.8,607.1 340.2,609.1" fill="none" stroke="#0a0a0a" stroke-width="2.8" stroke-linejoin="round" stroke-linecap="round" />
<polyline points="566.9,473.6 572.4,478.0 576.8,483.4" fill="none" stroke="#0a0a0a" stroke-width="2.8" stroke-linejoin="round" stroke-linecap="round" />
<polyline points="796.6,861.4 802.7,864.1 807.3,869.3" fill="none" stroke="#0a0a0a" stroke-width="2.8" stroke-linejoin="round" stroke-linecap="round" />
<polyline points="469.7,477.4 476.1,480.7 483.5,479.6" fill="none" stroke="#0a0a0a" stroke-width="2.8" stroke-linejoin="round" stroke-linecap="round" />
<polyline points="293.0,855.4 298.2,854.1 302.9,851.1" fill="none" stroke="#0a0a0a" stroke-width="2.8" stroke-linejoin="round" stroke-linecap="round" />
<polyline points="551.7,564.8 557.6,567.0 563.7,566.0 569.6,567.3" fill="none" stroke="#0a0a0a" stroke-width="2.8" stroke-linejoin="round" stroke-linecap="round" />
<polyline points="168.4,717.4 174.6,719.0 181.2,717.2 187.2,719.3" fill="none" stroke="#0a0a0a" stroke-width="2.8" stroke-linejoin="round" stroke-linecap="round" />
<polyline points="758.8,757.4 765.9,757.6 772.4,760.7" fill="none" stroke="#0a0a0a" stroke-width="2.8" stroke-linejoin="round" stroke-linecap="round" />
<polyline points="365.0,747.7 371.8,750.4 378.8,752.4 386.2,753.4" fill="none" stroke="#0a0a0a" stroke-width="2.8" stroke-linejoin="round" stroke-linecap="round" />
<polyline points="310.8,828.4 314.1,832.2 318.9,831.7" fill="none" stroke="#0a0a0a" stroke-width="2.8" stroke-linejoin="round" stroke-linecap="round" />
<polyline points="382.9,810.3 386.0,810.0 388.8,808.7" fill="none" stroke="#0a0a0a" stroke-width="2.8" stroke-linejoin="round" stroke-linecap="round" />
<polyline points="601.2,690.6 609.2,692.8 617.1,695.5" fill="none" stroke="#0a0a0a" stroke-width="2.8" stroke-linejoin="round" stroke-linecap="round" />
<polyline points="655.9,853.6 662.1,852.8 668.7,853.9 674.3,850.1" fill="none" stroke="#0a0a0a" stroke-width="2.8" stroke-linejoin="round" stroke-linecap="round" />
<polyline points="622.2,672.6 625.9,676.1 630.3,678.5" fill="none" stroke="#0a0a0a" stroke-width="2.8" stroke-linejoin="round" stroke-linecap="round" />
<polyline points="733.6,716.6 740.7,716.2 747.8,714.8 754.9,714.1" fill="none" stroke="#0a0a0a" stroke-width="2.8" stroke-linejoin="round" stroke-linecap="round" />
<polyline points="358.4,796.4 361.6,798.4 364.8,800.7" fill="none" stroke="#0a0a0a" stroke-width="2.8" stroke-linejoin="round" stroke-linecap="round" />
<polyline points="338.5,850.8 346.2,851.5 353.3,854.0" fill="none" stroke="#0a0a0a" stroke-width="2.8" stroke-linejoin="round" stroke-linecap="round" />
<polyline points="738.4,497.8 742.9,503.2 750.0,504.1 755.5,507.7" fill="none" stroke="#0a0a0a" stroke-width="2.8" stroke-linejoin="round" stroke-linecap="round" />
<polyline points="89.4,864.8 97.1,867.1 104.7,869.5 112.5,871.3" fill="none" stroke="#0a0a0a" stroke-width="2.8" stroke-linejoin="round" stroke-linecap="round" />
<polyline points="777.8,739.3 786.1,743.0 795.0,743.8" fill="none" stroke="#0a0a0a" stroke-width="2.8" stroke-linejoin="round" stroke-linecap="round" />
<polyline points="157.0,487.7 164.3,490.2 171.9,490.6" fill="none" stroke="#0a0a0a" stroke-width="2.8" stroke-linejoin="round" stroke-linecap="round" />
<polyline points="533.5,814.9 539.1,815.2 544.7,813.6" fill="none" stroke="#0a0a0a" stroke-width="2.8" stroke-linejoin="round" stroke-linecap="round" />
<polyline points="689.6,482.1 696.3,482.4 702.4,484.9 708.2,488.5" fill="none" stroke="#0a0a0a" stroke-width="2.8" stroke-linejoin="round" stroke-linecap="round" />
<polyline points="567.9,875.2 572.8,880.6 579.6,883.6 584.0,889.8" fill="none" stroke="#0a0a0a" stroke-width="2.8" stroke-linejoin="round" stroke-linecap="round" />
<polyline points="705.2,867.1 711.5,866.7 717.0,870.0 723.4,869.4" fill="none" stroke="#0a0a0a" stroke-width="2.8" stroke-linejoin="round" stroke-linecap="round" />
<polyline points="693.9,846.7 701.8,849.8 710.2,850.9" fill="none" stroke="#0a0a0a" stroke-width="2.8" stroke-linejoin="round" stroke-linecap="round" />
<polyline points="621.6,823.5 630.3,824.9 639.0,825.0" fill="none" stroke="#0a0a0a" stroke-width="2.8" stroke-linejoin="round" stroke-linecap="round" />
<polyline points="450.1,475.9 456.8,475.3 463.1,477.9 469.6,479.0" fill="none" stroke="#0a0a0a" stroke-width="2.8" stroke-linejoin="round" stroke-linecap="round" />
<polyline points="236.1,512.9 243.5,513.7 250.6,516.0 258.2,515.8" fill="none" stroke="#0a0a0a" stroke-width="2.8" stroke-linejoin="round" stroke-linecap="round" />
<polyline points="606.9,815.5 613.2,817.6 619.6,818.1" fill="none" stroke="#0a0a0a" stroke-width="2.8" stroke-linejoin="round" stroke-linecap="round" />
<polyline points="678.7,708.7 687.0,710.6 695.5,711.7" fill="none" stroke="#0a0a0a" stroke-width="2.8" stroke-linejoin="round" stroke-linecap="round" />
<polyline points="286.5,715.2 291.5,714.7 296.1,716.5" fill="none" stroke="#0a0a0a" stroke-width="2.8" stroke-linejoin="round" stroke-linecap="round" />
<polyline points="128.4,655.2 135.9,655.5 143.3,657.4 150.8,657.0" fill="none" stroke="#0a0a0a" stroke-width="2.8" stroke-linejoin="round" stroke-linecap="round" />
<polyline points="126.4,522.1 130.9,525.1 136.1,526.0" fill="none" stroke="#0a0a0a" stroke-width="2.8" stroke-linejoin="round" stroke-linecap="round" />
<polyline points="702.6,644.1 706.5,644.9 710.2,646.3" fill="none" stroke="#0a0a0a" stroke-width="2.8" stroke-linejoin="round" stroke-linecap="round" />
<polyline points="239.5,752.4 242.2,755.5 245.9,756.0" fill="none" stroke="#0a0a0a" stroke-width="2.8" stroke-linejoin="round" stroke-linecap="round" />
<polyline points="769.6,763.8 777.0,764.0 784.1,762.4 791.2,760.3" fill="none" stroke="#0a0a0a" stroke-width="2.8" stroke-linejoin="round" stroke-linecap="round" />
<polyline points="454.4,718.3 463.1,718.7 471.6,720.7" fill="none" stroke="#0a0a0a" stroke-width="2.8" stroke-linejoin="round" stroke-linecap="round" />
<polyline points="52.9,675.4 58.1,680.5 64.1,684.4 70.6,687.0" fill="none" stroke="#0a0a0a" stroke-width="2.8" stroke-linejoin="round" stroke-linecap="round" />
<polyline points="198.5,839.6 205.5,841.6 213.0,842.0" fill="none" stroke="#0a0a0a" stroke-width="2.8" stroke-linejoin="round" stroke-linecap="round" />
<polyline points="161.4,507.9 170.0,510.4 178.1,514.2" fill="none" stroke="#0a0a0a" stroke-width="2.8" stroke-linejoin="round" stroke-linecap="round" />
<polyline points="236.8,769.0 239.9,769.8 241.7,772.9" fill="none" stroke="#0a0a0a" stroke-width="2.8" stroke-linejoin="round" stroke-linecap="round" />
<polyline points="168.0,818.8 174.0,821.4 180.5,822.5" fill="none" stroke="#0a0a0a" stroke-width="2.8" stroke-linejoin="round" stroke-linecap="round" />
<polyline points="72.1,712.1 78.3,716.0 85.3,718.6" fill="none" stroke="#0a0a0a" stroke-width="2.8" stroke-linejoin="round" stroke-linecap="round" />
<polyline points="744.5,714.2 752.1,716.4 759.8,718.7 766.7,722.8" fill="none" stroke="#0a0a0a" stroke-width="2.8" stroke-linejoin="round" stroke-linecap="round" />
<polyline points="680.0,747.5 687.4,747.1 693.6,749.9 699.3,753.8" fill="none" stroke="#0a0a0a" stroke-width="2.8" stroke-linejoin="round" stroke-linecap="round" />
<polyline points="146.2,646.6 153.7,647.3 161.5,645.5 168.8,648.6" fill="none" stroke="#0a0a0a" stroke-width="2.8" stroke-linejoin="round" stroke-linecap="round" />
<polyline points="334.8,709.6 339.2,710.5 343.4,712.4" fill="none" stroke="#0a0a0a" stroke-width="2.8" stroke-linejoin="round" stroke-linecap="round" />
<polyline points="504.0,868.9 511.3,867.8 518.6,867.7 526.0,868.4" fill="none" stroke="#0a0a0a" stroke-width="2.8" stroke-linejoin="round" stroke-linecap="round" />
<polyline points="174.4,769.2 181.8,769.3 189.2,768.1" fill="none" stroke="#0a0a0a" stroke-width="2.8" stroke-linejoin="round" stroke-linecap="round" />
<polyline points="851.7,508.1 857.0,509.7 862.7,510.1" fill="none" stroke="#0a0a0a" stroke-width="2.8" stroke-linejoin="round" stroke-linecap="round" />
<polyline points="192.0,644.4 199.4,647.4 207.7,646.5 214.9,649.9" fill="none" stroke="#0a0a0a" stroke-width="2.8" stroke-linejoin="round" stroke-linecap="round" />
<polyline points="247.8,645.7 252.5,651.7 259.8,655.2 263.5,662.2" fill="none" stroke="#0a0a0a" stroke-width="2.8" stroke-linejoin="round" stroke-linecap="round" />
<polyline points="744.6,713.3 749.7,716.6 754.8,719.8" fill="none" stroke="#0a0a0a" stroke-width="2.8" stroke-linejoin="round" stroke-linecap="round" />
<polyline points="669.9,662.7 675.0,662.4 679.2,664.8" fill="none" stroke="#0a0a0a" stroke-width="2.8" stroke-linejoin="round" stroke-linecap="round" />
<polyline points="704.1,605.8 709.7,608.0 714.8,611.3 720.8,612.8" fill="none" stroke="#0a0a0a" stroke-width="2.8" stroke-linejoin="round" stroke-linecap="round" />
<polyline points="62.7,496.7 69.7,497.7 75.7,501.2 82.1,503.8" fill="none" stroke="#0a0a0a" stroke-width="2.8" stroke-linejoin="round" stroke-linecap="round" />
<polyline points="213.8,806.2 216.8,807.8 219.9,809.2" fill="none" stroke="#0a0a0a" stroke-width="2.8" stroke-linejoin="round" stroke-linecap="round" />
<polyline points="53.6,469.0 61.6,467.4 69.6,469.8" fill="none" stroke="#0a0a0a" stroke-width="2.8" stroke-linejoin="round" stroke-linecap="round" />
<polyline points="145.0,779.1 150.3,778.1 154.9,779.7" fill="none" stroke="#0a0a0a" stroke-width="2.8" stroke-linejoin="round" stroke-linecap="round" />
<polyline points="669.5,502.2 676.0,504.6 681.1,510.0" fill="none" stroke="#0a0a0a" stroke-width="2.8" stroke-linejoin="round" stroke-linecap="round" />
<polyline points="81.0,789.4 88.0,792.7 95.3,795.1 102.0,799.2" fill="none" stroke="#0a0a0a" stroke-width="2.8" stroke-linejoin="round" stroke-linecap="round" />
<polyline points="638.1,810.3 643.6,810.9 649.2,811.0" fill="none" stroke="#0a0a0a" stroke-width="2.8" stroke-linejoin="round" stroke-linecap="round" />
<polyline points="166.2,638.6 173.2,642.8 180.9,644.8 188.3,647.7" fill="none" stroke="#0a0a0a" stroke-width="2.8" stroke-linejoin="round" stroke-linecap="round" />
<polyline points="58.1,764.2 63.5,764.2 68.9,764.1" fill="none" stroke="#0a0a0a" stroke-width="2.8" stroke-linejoin="round" stroke-linecap="round" />
<polyline points="510.6,791.1 515.5,791.7 520.4,792.8" fill="none" stroke="#0a0a0a" stroke-width="2.8" stroke-linejoin="round" stroke-linecap="round" />
<polyline points="223.9,872.8 229.9,869.9 236.2,869.0 242.7,869.9" fill="none" stroke="#0a0a0a" stroke-width="2.8" stroke-linejoin="round" stroke-linecap="round" />
<polyline points="605.9,674.6 608.9,675.8 611.7,677.5" fill="none" stroke="#0a0a0a" stroke-width="2.8" stroke-linejoin="round" stroke-linecap="round" />
<polyline points="765.8,687.9 771.9,691.7 777.5,696.5 784.4,699.1" fill="none" stroke="#0a0a0a" stroke-width="2.8" stroke-linejoin="round" stroke-linecap="round" />
<polyline points="227.2,475.2 234.9,475.0 242.5,475.6" fill="none" stroke="#0a0a0a" stroke-width="2.8" stroke-linejoin="round" stroke-linecap="round" />
<polyline points="786.0,751.2 792.5,751.5 798.7,753.1 804.9,755.3" fill="none" stroke="#0a0a0a" stroke-width="2.8" stroke-linejoin="round" stroke-linecap="round" />
<polyline points="150.0,674.1 156.2,674.0 162.1,676.4" fill="none" stroke="#0a0a0a" stroke-width="2.8" stroke-linejoin="round" stroke-linecap="round" />
<polyline points="784.1,778.6 791.0,782.4 798.6,784.6 805.7,787.8" fill="none" stroke="#0a0a0a" stroke-width="2.8" stroke-linejoin="round" stroke-linecap="round" />
<polyline points="733.5,853.2 739.4,853.0 745.3,854.9" fill="none" stroke="#0a0a0a" stroke-width="2.8" stroke-linejoin="round" stroke-linecap="round" />
<polyline points="326.8,774.6 334.4,774.4 340.6,778.5" fill="none" stroke="#0a0a0a" stroke-width="2.8" stroke-linejoin="round" stroke-linecap="round" />
<polyline points="354.2,650.0 359.8,649.7 364.9,651.6" fill="none" stroke="#0a0a0a" stroke-width="2.8" stroke-linejoin="round" stroke-linecap="round" />
<polyline points="469.9,777.6 473.3,781.1 477.0,783.8" fill="none" stroke="#0a0a0a" stroke-width="2.8" stroke-linejoin="round" stroke-linecap="round" />
<polyline points="101.2,630.7 107.6,635.2 115.8,636.5 122.7,640.1" fill="none" stroke="#0a0a0a" stroke-width="2.8" stroke-linejoin="round" stroke-linecap="round" />
<polyline points="415.9,663.8 422.2,666.0 428.2,669.3 434.6,670.9" fill="none" stroke="#0a0a0a" stroke-width="2.8" stroke-linejoin="round" stroke-linecap="round" />
<polyline points="532.9,779.6 540.8,783.3 549.1,785.7" fill="none" stroke="#0a0a0a" stroke-width="2.8" stroke-linejoin="round" stroke-linecap="round" />
<polyline points="167.2,706.9 174.6,710.5 182.6,713.2" fill="none" stroke="#0a0a0a" stroke-width="2.8" stroke-linejoin="round" stroke-linecap="round" />
<polyline points="339.9,666.2 345.2,672.1 351.2,677.0 358.3,680.6" fill="none" stroke="#0a0a0a" stroke-width="2.8" stroke-linejoin="round" stroke-linecap="round" />
<polyline points="625.9,779.1 633.6,780.8 641.3,782.6" fill="none" stroke="#0a0a0a" stroke-width="2.8" stroke-linejoin="round" stroke-linecap="round" />
<polyline points="373.6,689.4 377.2,694.5 382.7,698.2" fill="none" stroke="#0a0a0a" stroke-width="2.8" stroke-linejoin="round" stroke-linecap="round" />
<polyline points="220.2,560.5 224.4,563.2 229.6,564.2" fill="none" stroke="#0a0a0a" stroke-width="2.8" stroke-linejoin="round" stroke-linecap="round" />
<polyline points="560.3,809.5 563.9,811.7 567.8,811.1" fill="none" stroke="#0a0a0a" stroke-width="2.8" stroke-linejoin="round" stroke-linecap="round" />
<polyline points="629.6,822.0 636.0,822.7 642.1,821.1 648.3,819.7" fill="none" stroke="#0a0a0a" stroke-width="2.8" stroke-linejoin="round" stroke-linecap="round" />
<polyline points="313.2,720.7 317.5,718.7 322.5,718.8" fill="none" stroke="#0a0a0a" stroke-width="2.8" stroke-linejoin="round" stroke-linecap="round" />
<polyline points="424.3,724.6 430.3,722.4 436.7,722.5" fill="none" stroke="#0a0a0a" stroke-width="2.8" stroke-linejoin="round" stroke-linecap="round" />
<polyline points="582.7,493.0 589.4,494.3 596.1,496.2 603.0,494.7" fill="none" stroke="#0a0a0a" stroke-width="2.8" stroke-linejoin="round" stroke-linecap="round" />
<polyline points="592.4,758.5 599.4,758.9 605.4,762.0 611.7,764.3" fill="none" stroke="#0a0a0a" stroke-width="2.8" stroke-linejoin="round" stroke-linecap="round" />
<polyline points="555.5,684.7 562.3,686.1 568.6,689.5" fill="none" stroke="#0a0a0a" stroke-width="2.8" stroke-linejoin="round" stroke-linecap="round" />
<polyline points="290.8,663.2 298.7,666.7 307.4,668.8" fill="none" stroke="#0a0a0a" stroke-width="2.8" stroke-linejoin="round" stroke-linecap="round" />
<polyline points="687.2,772.7 693.3,775.1 699.7,775.9" fill="none" stroke="#0a0a0a" stroke-width="2.8" stroke-linejoin="round" stroke-linecap="round" />
<polyline points="450.9,707.8 458.6,709.8 466.5,709.4 474.2,711.3" fill="none" stroke="#0a0a0a" stroke-width="2.8" stroke-linejoin="round" stroke-linecap="round" />
<polyline points="511.9,811.4 519.4,812.0 525.4,816.0" fill="none" stroke="#0a0a0a" stroke-width="2.8" stroke-linejoin="round" stroke-linecap="round" />
<polyline points="172.1,642.7 175.1,647.8 180.3,651.4" fill="none" stroke="#0a0a0a" stroke-width="2.8" stroke-linejoin="round" stroke-linecap="round" />
<polyline points="746.5,819.4 751.5,820.6 756.6,820.1" fill="none" stroke="#0a0a0a" stroke-width="2.8" stroke-linejoin="round" stroke-linecap="round" />
<polyline points="235.1,787.7 240.0,788.5 244.9,788.7" fill="none" stroke="#0a0a0a" stroke-width="2.8" stroke-linejoin="round" stroke-linecap="round" />
<polyline points="794.0,671.5 800.4,673.1 806.8,674.4" fill="none" stroke="#0a0a0a" stroke-width="2.8" stroke-linejoin="round" stroke-linecap="round" />
<polyline points="396.5,858.6 402.0,861.1 408.2,861.8 413.4,865.2" fill="none" stroke="#0a0a0a" stroke-width="2.8" stroke-linejoin="round" stroke-linecap="round" />
<polyline points="267.2,799.4 274.0,797.9 279.5,802.1 286.0,801.9" fill="none" stroke="#0a0a0a" stroke-width="2.8" stroke-linejoin="round" stroke-linecap="round" />
<polyline points="354.6,746.8 363.4,748.1 372.0,750.9" fill="none" stroke="#0a0a0a" stroke-width="2.8" stroke-linejoin="round" stroke-linecap="round" />
<polyline points="52.0,708.6 55.4,711.1 59.7,712.2" fill="none" stroke="#0a0a0a" stroke-width="2.8" stroke-linejoin="round" stroke-linecap="round" />
<polyline points="832.8,795.0 839.6,794.5 846.3,795.9 853.0,796.5" fill="none" stroke="#0a0a0a" stroke-width="2.8" stroke-linejoin="round" stroke-linecap="round" />
<polyline points="155.6,874.6 159.9,877.0 162.9,881.4" fill="none" stroke="#0a0a0a" stroke-width="2.8" stroke-linejoin="round" stroke-linecap="round" />
<polyline points="844.7,680.4 850.9,682.4 857.1,682.4" fill="none" stroke="#0a0a0a" stroke-width="2.8" stroke-linejoin="round" stroke-linecap="round" />
<polyline points="439.0,703.9 445.3,704.6 451.3,706.6 457.9,705.2" fill="none" stroke="#0a0a0a" stroke-width="2.8" stroke-linejoin="round" stroke-linecap="round" />
<polyline points="119.6,700.2 127.7,704.1 136.8,704.9" fill="none" stroke="#0a0a0a" stroke-width="2.8" stroke-linejoin="round" stroke-linecap="round" />
<polyline points="341.8,710.9 348.6,709.6 354.9,712.4" fill="none" stroke="#0a0a0a" stroke-width="2.8" stroke-linejoin="round" stroke-linecap="round" />
<polyline points="369.1,742.8 373.6,744.9 378.2,743.8" fill="none" stroke="#0a0a0a" stroke-width="2.8" stroke-linejoin="round" stroke-linecap="round" />
<polyline points="197.2,610.2 200.4,610.6 203.7,610.3" fill="none" stroke="#0a0a0a" stroke-width="2.8" stroke-linejoin="round" stroke-linecap="round" />
<polyline points="362.7,838.3 370.3,839.7 377.5,836.6" fill="none" stroke="#0a0a0a" stroke-width="2.8" stroke-linejoin="round" stroke-linecap="round" />
<polyline points="329.5,667.2 337.4,665.3 345.0,666.6 352.4,668.9" fill="none" stroke="#0a0a0a" stroke-width="2.8" stroke-linejoin="round" stroke-linecap="round" />
<polyline points="220.1,720.9 228.1,719.7 235.9,721.5 243.7,723.0" fill="none" stroke="#0a0a0a" stroke-width="2.8" stroke-linejoin="round" stroke-linecap="round" />
<polyline points="376.0,859.1 383.4,858.7 390.8,858.1 398.2,858.2" fill="none" stroke="#0a0a0a" stroke-width="2.8" stroke-linejoin="round" stroke-linecap="round" />
<polyline points="620.6,725.5 629.0,726.2 637.4,726.3" fill="none" stroke="#0a0a0a" stroke-width="2.8" stroke-linejoin="round" stroke-linecap="round" />
<polyline points="645.8,652.6 652.1,651.1 658.8,651.3" fill="none" stroke="#0a0a0a" stroke-width="2.8" stroke-linejoin="round" stroke-linecap="round" />
<polyline points="482.4,801.7 489.3,800.9 496.1,800.0" fill="none" stroke="#0a0a0a" stroke-width="2.8" stroke-linejoin="round" stroke-linecap="round" />
<polyline points="204.3,702.7 208.3,703.9 212.2,705.4" fill="none" stroke="#0a0a0a" stroke-width="2.8" stroke-linejoin="round" stroke-linecap="round" />
<polyline points="213.4,785.7 216.3,782.4 220.6,784.1" fill="none" stroke="#0a0a0a" stroke-width="2.8" stroke-linejoin="round" stroke-linecap="round" />
<polyline points="286.6,719.4 290.5,722.7 294.5,725.8" fill="none" stroke="#0a0a0a" stroke-width="2.8" stroke-linejoin="round" stroke-linecap="round" />
<polyline points="478.2,668.0 484.5,671.4 490.6,675.4" fill="none" stroke="#0a0a0a" stroke-width="2.8" stroke-linejoin="round" stroke-linecap="round" />
<polyline points="469.6,598.7 477.3,597.8 484.4,601.0 492.0,600.9" fill="none" stroke="#0a0a0a" stroke-width="2.8" stroke-linejoin="round" stroke-linecap="round" />
<polyline points="285.3,652.9 293.2,654.1 300.7,656.8 308.2,659.3" fill="none" stroke="#0a0a0a" stroke-width="2.8" stroke-linejoin="round" stroke-linecap="round" />
<polyline points="826.7,704.7 834.6,706.3 841.9,709.4 849.1,712.6" fill="none" stroke="#0a0a0a" stroke-width="2.8" stroke-linejoin="round" stroke-linecap="round" />
<polyline points="469.9,823.7 476.7,825.5 483.4,827.5" fill="none" stroke="#0a0a0a" stroke-width="2.8" stroke-linejoin="round" stroke-linecap="round" />
<polyline points="475.7,482.9 481.8,484.9 487.2,488.1 492.2,491.7" fill="none" stroke="#0a0a0a" stroke-width="2.8" stroke-linejoin="round" stroke-linecap="round" />
<polyline points="269.2,874.4 273.0,873.0 276.8,872.1" fill="none" stroke="#0a0a0a" stroke-width="2.8" stroke-linejoin="round" stroke-linecap="round" />
<polyline points="706.9,753.6 715.2,755.1 723.6,755.9" fill="none" stroke="#0a0a0a" stroke-width="2.8" stroke-linejoin="round" stroke-linecap="round" />
<polyline points="190.9,856.7 194.4,858.6 197.9,860.1" fill="none" stroke="#0a0a0a" stroke-width="2.8" stroke-linejoin="round" stroke-linecap="round" />
<polyline points="537.1,808.8 542.5,810.3 548.1,810.3" fill="none" stroke="#0a0a0a" stroke-width="2.8" stroke-linejoin="round" stroke-linecap="round" />
<polyline points="732.6,785.1 739.9,786.3 746.7,789.2" fill="none" stroke="#0a0a0a" stroke-width="2.8" stroke-linejoin="round" stroke-linecap="round" />
<polyline points="449.1,748.2 455.9,750.2 462.8,751.1" fill="none" stroke="#0a0a0a" stroke-width="2.8" stroke-linejoin="round" stroke-linecap="round" />
<polyline points="655.6,725.8 663.5,726.0 671.5,726.0 679.5,726.3" fill="none" stroke="#0a0a0a" stroke-width="2.8" stroke-linejoin="round" stroke-linecap="round" />
<polyline points="535.9,703.0 539.3,705.6 542.7,708.0" fill="none" stroke="#0a0a0a" stroke-width="2.8" stroke-linejoin="round" stroke-linecap="round" />
<polyline points="596.5,716.1 600.6,717.5 604.4,719.3" fill="none" stroke="#0a0a0a" stroke-width="2.8" stroke-linejoin="round" stroke-linecap="round" />
<polyline points="453.2,654.3 460.4,660.0 468.3,664.2" fill="none" stroke="#0a0a0a" stroke-width="2.8" stroke-linejoin="round" stroke-linecap="round" />
<polyline points="759.4,754.3 764.3,758.8 769.8,762.5 775.4,765.7" fill="none" stroke="#0a0a0a" stroke-width="2.8" stroke-linejoin="round" stroke-linecap="round" />
<polyline points="365.1,652.5 373.1,651.6 380.1,655.3 387.4,657.7" fill="none" stroke="#0a0a0a" stroke-width="2.8" stroke-linejoin="round" stroke-linecap="round" />
<polyline points="540.3,781.2 544.9,775.9 550.7,773.2" fill="none" stroke="#0a0a0a" stroke-width="2.8" stroke-linejoin="round" stroke-linecap="round" />
<polyline points="661.2,752.3 665.2,756.5 670.7,756.7" fill="none" stroke="#0a0a0a" stroke-width="2.8" stroke-linejoin="round" stroke-linecap="round" />
<polyline points="428.4,766.9 433.6,769.7 439.1,769.3" fill="none" stroke="#0a0a0a" stroke-width="2.8" stroke-linejoin="round" stroke-linecap="round" />
<polyline points="476.4,650.6 482.3,651.3 487.5,654.8" fill="none" stroke="#0a0a0a" stroke-width="2.8" stroke-linejoin="round" stroke-linecap="round" />
<polyline points="692.5,751.2 699.7,751.8 706.8,752.8 714.0,751.4" fill="none" stroke="#0a0a0a" stroke-width="2.8" stroke-linejoin="round" stroke-linecap="round" />
<polyline points="323.3,651.9 326.6,658.4 333.3,660.9 336.7,667.1" fill="none" stroke="#0a0a0a" stroke-width="2.8" stroke-linejoin="round" stroke-linecap="round" />
<polyline points="44.6,819.9 48.1,818.2 51.0,820.8" fill="none" stroke="#0a0a0a" stroke-width="2.8" stroke-linejoin="round" stroke-linecap="round" />
<polyline points="66.1,531.4 70.2,532.1 74.4,531.7" fill="none" stroke="#0a0a0a" stroke-width="2.8" stroke-linejoin="round" stroke-linecap="round" />
<polyline points="604.6,832.7 612.2,833.1 619.8,833.7" fill="none" stroke="#0a0a0a" stroke-width="2.8" stroke-linejoin="round" stroke-linecap="round" />
<polyline points="256.1,628.1 263.4,627.1 270.0,628.6 276.2,631.7" fill="none" stroke="#0a0a0a" stroke-width="2.8" stroke-linejoin="round" stroke-linecap="round" />
<polyline points="567.7,783.7 574.2,787.1 581.0,790.1" fill="none" stroke="#0a0a0a" stroke-width="2.8" stroke-linejoin="round" stroke-linecap="round" />
<polyline points="439.4,791.7 445.4,792.4 451.4,792.7 457.4,793.8" fill="none" stroke="#0a0a0a" stroke-width="2.8" stroke-linejoin="round" stroke-linecap="round" />
<polyline points="765.1,662.9 768.5,660.6 772.1,660.4" fill="none" stroke="#0a0a0a" stroke-width="2.8" stroke-linejoin="round" stroke-linecap="round" />
<polyline points="352.9,599.3 360.4,599.1 367.9,598.2 375.4,596.8" fill="none" stroke="#0a0a0a" stroke-width="2.8" stroke-linejoin="round" stroke-linecap="round" />
<polyline points="730.9,690.9 735.3,692.1 739.7,694.1" fill="none" stroke="#0a0a0a" stroke-width="2.8" stroke-linejoin="round" stroke-linecap="round" />
<polyline points="126.2,870.2 134.3,872.4 142.8,873.3" fill="none" stroke="#0a0a0a" stroke-width="2.8" stroke-linejoin="round" stroke-linecap="round" />
<polyline points="519.2,833.6 524.2,836.7 528.8,840.2" fill="none" stroke="#0a0a0a" stroke-width="2.8" stroke-linejoin="round" stroke-linecap="round" />
<polyline points="524.3,660.3 531.8,661.7 539.7,661.0 546.8,664.2" fill="none" stroke="#0a0a0a" stroke-width="2.8" stroke-linejoin="round" stroke-linecap="round" />
<polyline points="674.4,842.3 678.6,842.2 682.4,845.8" fill="none" stroke="#0a0a0a" stroke-width="2.8" stroke-linejoin="round" stroke-linecap="round" />
<polyline points="521.9,844.7 529.9,848.7 538.6,850.6" fill="none" stroke="#0a0a0a" stroke-width="2.8" stroke-linejoin="round" stroke-linecap="round" />
<polyline points="482.5,730.4 490.4,732.2 497.1,736.4 504.1,739.9" fill="none" stroke="#0a0a0a" stroke-width="2.8" stroke-linejoin="round" stroke-linecap="round" />
<polyline points="162.7,593.7 170.5,592.4 178.1,589.8" fill="none" stroke="#0a0a0a" stroke-width="2.8" stroke-linejoin="round" stroke-linecap="round" />
<polyline points="664.6,793.1 668.4,793.0 672.1,792.9" fill="none" stroke="#0a0a0a" stroke-width="2.8" stroke-linejoin="round" stroke-linecap="round" />
<polyline points="301.3,701.1 304.7,702.9 308.1,703.7" fill="none" stroke="#0a0a0a" stroke-width="2.8" stroke-linejoin="round" stroke-linecap="round" />
<polyline points="79.8,490.2 86.4,492.5 92.3,496.3 98.5,499.6" fill="none" stroke="#0a0a0a" stroke-width="2.8" stroke-linejoin="round" stroke-linecap="round" />
<polyline points="519.2,829.5 526.0,829.1 532.7,827.3" fill="none" stroke="#0a0a0a" stroke-width="2.8" stroke-linejoin="round" stroke-linecap="round" />
<polyline points="757.9,666.9 763.8,668.5 769.8,670.0" fill="none" stroke="#0a0a0a" stroke-width="2.8" stroke-linejoin="round" stroke-linecap="round" />
<polyline points="493.9,823.5 500.5,824.5 507.1,822.2 513.7,824.2" fill="none" stroke="#0a0a0a" stroke-width="2.8" stroke-linejoin="round" stroke-linecap="round" />
<polyline points="603.1,665.5 609.6,669.6 615.8,674.1" fill="none" stroke="#0a0a0a" stroke-width="2.8" stroke-linejoin="round" stroke-linecap="round" />
<polyline points="418.9,503.0 422.0,504.7 425.8,504.9" fill="none" stroke="#0a0a0a" stroke-width="2.8" stroke-linejoin="round" stroke-linecap="round" />
<polyline points="488.3,484.4 495.6,485.9 502.9,487.2" fill="none" stroke="#0a0a0a" stroke-width="2.8" stroke-linejoin="round" stroke-linecap="round" />
<polyline points="270.4,485.7 275.1,486.4 278.9,489.0" fill="none" stroke="#0a0a0a" stroke-width="2.8" stroke-linejoin="round" stroke-linecap="round" />
<polyline points="333.6,658.6 342.0,662.2 351.2,661.1" fill="none" stroke="#0a0a0a" stroke-width="2.8" stroke-linejoin="round" stroke-linecap="round" />
<polyline points="265.1,624.2 269.1,627.3 273.3,629.9" fill="none" stroke="#0a0a0a" stroke-width="2.8" stroke-linejoin="round" stroke-linecap="round" />
<polyline points="669.6,760.7 673.8,760.4 678.1,759.6" fill="none" stroke="#0a0a0a" stroke-width="2.8" stroke-linejoin="round" stroke-linecap="round" />
<polyline points="647.3,862.0 655.3,862.2 662.6,865.9" fill="none" stroke="#0a0a0a" stroke-width="2.8" stroke-linejoin="round" stroke-linecap="round" />
<polyline points="781.6,474.4 786.9,472.1 792.5,471.7" fill="none" stroke="#0a0a0a" stroke-width="2.8" stroke-linejoin="round" stroke-linecap="round" />
<polyline points="802.9,871.3 807.4,872.1 811.6,874.0" fill="none" stroke="#0a0a0a" stroke-width="2.8" stroke-linejoin="round" stroke-linecap="round" />
<polyline points="382.6,837.0 388.9,838.0 395.4,838.2" fill="none" stroke="#0a0a0a" stroke-width="2.8" stroke-linejoin="round" stroke-linecap="round" />
<polyline points="166.2,499.5 173.6,500.5 180.2,503.9" fill="none" stroke="#0a0a0a" stroke-width="2.8" stroke-linejoin="round" stroke-linecap="round" />
<polyline points="212.4,658.1 220.6,659.7 228.8,661.0" fill="none" stroke="#0a0a0a" stroke-width="2.8" stroke-linejoin="round" stroke-linecap="round" />
<polyline points="397.8,512.3 402.3,511.8 406.8,514.7" fill="none" stroke="#0a0a0a" stroke-width="2.8" stroke-linejoin="round" stroke-linecap="round" />
<polyline points="384.8,574.2 391.8,575.6 398.6,577.7" fill="none" stroke="#0a0a0a" stroke-width="2.8" stroke-linejoin="round" stroke-linecap="round" />
<polyline points="531.6,721.5 537.1,725.6 543.5,728.6" fill="none" stroke="#0a0a0a" stroke-width="2.8" stroke-linejoin="round" stroke-linecap="round" />
<polyline points="640.0,658.7 647.9,661.5 656.1,663.6" fill="none" stroke="#0a0a0a" stroke-width="2.8" stroke-linejoin="round" stroke-linecap="round" />
<polyline points="693.0,833.3 699.7,836.3 706.8,838.0 713.2,841.8" fill="none" stroke="#0a0a0a" stroke-width="2.8" stroke-linejoin="round" stroke-linecap="round" />
<polyline points="544.1,486.1 549.5,492.4 554.6,498.8" fill="none" stroke="#0a0a0a" stroke-width="2.8" stroke-linejoin="round" stroke-linecap="round" />
<polyline points="345.7,791.8 352.8,795.2 360.9,795.7" fill="none" stroke="#0a0a0a" stroke-width="2.8" stroke-linejoin="round" stroke-linecap="round" />
<polyline points="831.7,727.2 839.0,731.3 846.7,734.0" fill="none" stroke="#0a0a0a" stroke-width="2.8" stroke-linejoin="round" stroke-linecap="round" />
<polyline points="531.5,716.8 539.1,721.1 546.3,726.1" fill="none" stroke="#0a0a0a" stroke-width="2.8" stroke-linejoin="round" stroke-linecap="round" />
<polyline points="787.0,666.5 793.3,670.9 799.6,675.1" fill="none" stroke="#0a0a0a" stroke-width="2.8" stroke-linejoin="round" stroke-linecap="round" />
<polyline points="818.9,820.4 824.3,823.3 830.8,823.1 835.7,827.2" fill="none" stroke="#0a0a0a" stroke-width="2.8" stroke-linejoin="round" stroke-linecap="round" />
<polyline points="34.3,777.0 40.4,781.5 46.7,785.8" fill="none" stroke="#0a0a0a" stroke-width="2.8" stroke-linejoin="round" stroke-linecap="round" />
<polyline points="739.0,826.2 744.4,829.3 750.3,831.4" fill="none" stroke="#0a0a0a" stroke-width="2.8" stroke-linejoin="round" stroke-linecap="round" />
<polyline points="54.7,595.2 59.3,595.6 63.7,596.9" fill="none" stroke="#0a0a0a" stroke-width="2.8" stroke-linejoin="round" stroke-linecap="round" />
<polyline points="371.6,478.0 377.3,479.7 383.0,481.3" fill="none" stroke="#0a0a0a" stroke-width="2.8" stroke-linejoin="round" stroke-linecap="round" />
<polyline points="77.9,735.0 85.6,740.0 93.7,743.8" fill="none" stroke="#0a0a0a" stroke-width="2.8" stroke-linejoin="round" stroke-linecap="round" />
<polyline points="827.7,715.3 831.3,715.5 835.0,714.8" fill="none" stroke="#0a0a0a" stroke-width="2.8" stroke-linejoin="round" stroke-linecap="round" />
<polyline points="725.8,789.4 732.3,790.7 738.3,793.6" fill="none" stroke="#0a0a0a" stroke-width="2.8" stroke-linejoin="round" stroke-linecap="round" />
<polyline points="730.8,679.3 735.5,680.0 739.4,683.2" fill="none" stroke="#0a0a0a" stroke-width="2.8" stroke-linejoin="round" stroke-linecap="round" />
<polyline points="667.2,785.4 675.8,786.8 684.5,788.1" fill="none" stroke="#0a0a0a" stroke-width="2.8" stroke-linejoin="round" stroke-linecap="round" />
<polyline points="36.8,742.1 41.0,741.7 45.2,741.3" fill="none" stroke="#0a0a0a" stroke-width="2.8" stroke-linejoin="round" stroke-linecap="round" />
<polyline points="416.5,868.1 421.2,868.2 425.6,869.7" fill="none" stroke="#0a0a0a" stroke-width="2.8" stroke-linejoin="round" stroke-linecap="round" />
<polyline points="720.1,844.5 726.9,845.4 733.7,846.6" fill="none" stroke="#0a0a0a" stroke-width="2.8" stroke-linejoin="round" stroke-linecap="round" />
<polyline points="68.0,671.3 72.9,672.9 78.2,673.5" fill="none" stroke="#0a0a0a" stroke-width="2.8" stroke-linejoin="round" stroke-linecap="round" />
<polyline points="202.2,604.6 205.4,603.8 208.3,605.5" fill="none" stroke="#0a0a0a" stroke-width="2.8" stroke-linejoin="round" stroke-linecap="round" />
<polyline points="795.4,576.9 799.2,579.1 802.4,582.1" fill="none" stroke="#0a0a0a" stroke-width="2.8" stroke-linejoin="round" stroke-linecap="round" />
<polyline points="787.5,852.6 793.4,857.8 801.2,859.0 807.4,863.7" fill="none" stroke="#0a0a0a" stroke-width="2.8" stroke-linejoin="round" stroke-linecap="round" />
<polyline points="354.9,581.8 359.2,582.3 363.0,580.0" fill="none" stroke="#0a0a0a" stroke-width="2.8" stroke-linejoin="round" stroke-linecap="round" />
<polyline points="695.0,582.2 701.2,583.3 707.2,584.8 713.0,587.1" fill="none" stroke="#0a0a0a" stroke-width="2.8" stroke-linejoin="round" stroke-linecap="round" />
<polyline points="846.5,791.6 851.0,791.9 855.4,792.2" fill="none" stroke="#0a0a0a" stroke-width="2.8" stroke-linejoin="round" stroke-linecap="round" />
<polyline points="765.9,733.4 773.6,734.2 781.4,733.7 788.8,736.3" fill="none" stroke="#0a0a0a" stroke-width="2.8" stroke-linejoin="round" stroke-linecap="round" />
<polyline points="743.7,749.0 747.8,748.3 751.1,750.7" fill="none" stroke="#0a0a0a" stroke-width="2.8" stroke-linejoin="round" stroke-linecap="round" />
<polyline points="799.4,815.6 806.8,820.5 815.5,822.9" fill="none" stroke="#0a0a0a" stroke-width="2.8" stroke-linejoin="round" stroke-linecap="round" />
<polyline points="517.6,856.1 524.7,858.7 530.5,863.8 537.1,867.1" fill="none" stroke="#0a0a0a" stroke-width="2.8" stroke-linejoin="round" stroke-linecap="round" />
<polyline points="293.0,735.0 297.4,738.7 303.0,739.4" fill="none" stroke="#0a0a0a" stroke-width="2.8" stroke-linejoin="round" stroke-linecap="round" />
<polyline points="721.8,743.0 726.8,744.3 731.8,744.5" fill="none" stroke="#0a0a0a" stroke-width="2.8" stroke-linejoin="round" stroke-linecap="round" />
<polyline points="535.6,488.0 542.6,486.0 549.7,487.0" fill="none" stroke="#0a0a0a" stroke-width="2.8" stroke-linejoin="round" stroke-linecap="round" />
<polyline points="513.2,787.2 521.1,786.5 527.6,790.8 534.8,792.4" fill="none" stroke="#0a0a0a" stroke-width="2.8" stroke-linejoin="round" stroke-linecap="round" />
<polyline points="224.6,743.5 232.1,744.2 239.6,743.1 247.1,744.2" fill="none" stroke="#0a0a0a" stroke-width="2.8" stroke-linejoin="round" stroke-linecap="round" />
<polyline points="353.1,572.2 358.2,574.6 363.5,576.6" fill="none" stroke="#0a0a0a" stroke-width="2.8" stroke-linejoin="round" stroke-linecap="round" />
<polyline points="559.0,751.4 567.9,753.2 576.7,752.5" fill="none" stroke="#0a0a0a" stroke-width="2.8" stroke-linejoin="round" stroke-linecap="round" />
<polyline points="148.2,692.9 156.7,694.8 164.2,699.1" fill="none" stroke="#0a0a0a" stroke-width="2.8" stroke-linejoin="round" stroke-linecap="round" />
<polyline points="34.6,868.8 40.2,873.0 46.4,876.0 52.9,878.2" fill="none" stroke="#0a0a0a" stroke-width="2.8" stroke-linejoin="round" stroke-linecap="round" />
<polyline points="135.8,683.1 144.2,681.8 152.0,684.9" fill="none" stroke="#0a0a0a" stroke-width="2.8" stroke-linejoin="round" stroke-linecap="round" />
<polyline points="461.2,599.5 467.3,602.9 474.2,602.5 480.8,603.4" fill="none" stroke="#0a0a0a" stroke-width="2.8" stroke-linejoin="round" stroke-linecap="round" />
<polyline points="805.4,802.2 811.3,804.0 817.2,804.1" fill="none" stroke="#0a0a0a" stroke-width="2.8" stroke-linejoin="round" stroke-linecap="round" />
<polyline points="502.2,509.4 510.8,508.5 519.2,507.3" fill="none" stroke="#0a0a0a" stroke-width="2.8" stroke-linejoin="round" stroke-linecap="round" />
<polyline points="286.8,675.1 293.4,672.1 300.5,672.0 307.6,672.3" fill="none" stroke="#0a0a0a" stroke-width="2.8" stroke-linejoin="round" stroke-linecap="round" />
<polyline points="476.7,662.2 482.7,667.6 490.5,669.8" fill="none" stroke="#0a0a0a" stroke-width="2.8" stroke-linejoin="round" stroke-linecap="round" />
<polyline points="697.1,833.2 704.5,834.4 712.1,834.9" fill="none" stroke="#0a0a0a" stroke-width="2.8" stroke-linejoin="round" stroke-linecap="round" />
<polyline points="487.0,773.7 494.2,772.3 500.8,775.1 508.0,774.1" fill="none" stroke="#0a0a0a" stroke-width="2.8" stroke-linejoin="round" stroke-linecap="round" />
<polyline points="655.6,646.1 663.4,648.3 671.2,647.5 679.1,647.6" fill="none" stroke="#0a0a0a" stroke-width="2.8" stroke-linejoin="round" stroke-linecap="round" />
<polyline points="317.4,866.8 325.0,866.1 332.0,868.2" fill="none" stroke="#0a0a0a" stroke-width="2.8" stroke-linejoin="round" stroke-linecap="round" />
<polyline points="608.1,857.5 614.2,859.5 620.3,859.7 626.3,858.8" fill="none" stroke="#0a0a0a" stroke-width="2.8" stroke-linejoin="round" stroke-linecap="round" />
<polyline points="676.8,668.1 684.7,668.1 692.5,667.5" fill="none" stroke="#0a0a0a" stroke-width="2.8" stroke-linejoin="round" stroke-linecap="round" />
<polyline points="268.6,686.6 276.5,684.5 284.2,685.2 291.8,686.8" fill="none" stroke="#0a0a0a" stroke-width="2.8" stroke-linejoin="round" stroke-linecap="round" />
<polyline points="513.1,873.9 517.8,872.7 522.3,873.2" fill="none" stroke="#0a0a0a" stroke-width="2.8" stroke-linejoin="round" stroke-linecap="round" />
<polyline points="170.0,717.9 176.5,721.0 182.0,726.0 188.4,729.2" fill="none" stroke="#0a0a0a" stroke-width="2.8" stroke-linejoin="round" stroke-linecap="round" />
<polyline points="591.8,786.0 596.4,785.6 599.8,788.9" fill="none" stroke="#0a0a0a" stroke-width="2.8" stroke-linejoin="round" stroke-linecap="round" />
<polyline points="404.5,493.6 411.4,493.0 418.2,491.5 425.3,492.4" fill="none" stroke="#0a0a0a" stroke-width="2.8" stroke-linejoin="round" stroke-linecap="round" />
<polyline points="290.7,643.7 294.1,646.6 298.3,646.5" fill="none" stroke="#0a0a0a" stroke-width="2.8" stroke-linejoin="round" stroke-linecap="round" />
<polyline points="488.9,756.6 497.0,758.3 504.5,761.5" fill="none" stroke="#0a0a0a" stroke-width="2.8" stroke-linejoin="round" stroke-linecap="round" />
<polyline points="570.9,758.0 575.4,758.9 579.7,758.5" fill="none" stroke="#0a0a0a" stroke-width="2.8" stroke-linejoin="round" stroke-linecap="round" />
<polyline points="822.2,710.1 827.1,712.0 832.6,712.7" fill="none" stroke="#0a0a0a" stroke-width="2.8" stroke-linejoin="round" stroke-linecap="round" />
<polyline points="361.7,486.3 369.2,490.9 376.5,495.9" fill="none" stroke="#0a0a0a" stroke-width="2.8" stroke-linejoin="round" stroke-linecap="round" />
<polyline points="405.0,710.0 411.5,713.2 418.6,714.3" fill="none" stroke="#0a0a0a" stroke-width="2.8" stroke-linejoin="round" stroke-linecap="round" />
<polyline points="96.4,630.4 101.5,631.1 105.8,633.6" fill="none" stroke="#0a0a0a" stroke-width="2.8" stroke-linejoin="round" stroke-linecap="round" />
<polyline points="174.4,541.3 181.1,539.4 187.8,538.0 194.8,539.3" fill="none" stroke="#0a0a0a" stroke-width="2.8" stroke-linejoin="round" stroke-linecap="round" />
<polyline points="796.0,763.0 803.0,765.0 809.9,767.7 816.8,770.4" fill="none" stroke="#0a0a0a" stroke-width="2.8" stroke-linejoin="round" stroke-linecap="round" />
<polyline points="192.8,627.0 200.5,629.9 208.6,631.3" fill="none" stroke="#0a0a0a" stroke-width="2.8" stroke-linejoin="round" stroke-linecap="round" />
<polyline points="356.3,674.6 360.4,679.1 365.2,682.5" fill="none" stroke="#0a0a0a" stroke-width="2.8" stroke-linejoin="round" stroke-linecap="round" />
<polyline points="270.4,722.8 277.9,724.2 284.6,727.7 291.7,730.1" fill="none" stroke="#0a0a0a" stroke-width="2.8" stroke-linejoin="round" stroke-linecap="round" />
<polyline points="586.9,751.2 591.9,753.0 596.7,755.2" fill="none" stroke="#0a0a0a" stroke-width="2.8" stroke-linejoin="round" stroke-linecap="round" />
<polyline points="543.9,832.5 551.1,838.2 560.1,838.7" fill="none" stroke="#0a0a0a" stroke-width="2.8" stroke-linejoin="round" stroke-linecap="round" />
<polyline points="113.5,475.9 121.2,477.0 128.6,475.0" fill="none" stroke="#0a0a0a" stroke-width="2.8" stroke-linejoin="round" stroke-linecap="round" />
<polyline points="598.5,737.0 604.9,740.2 610.3,745.4 617.5,747.0" fill="none" stroke="#0a0a0a" stroke-width="2.8" stroke-linejoin="round" stroke-linecap="round" />
<polyline points="576.9,858.4 582.8,856.3 588.2,853.1 594.8,853.0" fill="none" stroke="#0a0a0a" stroke-width="2.8" stroke-linejoin="round" stroke-linecap="round" />
<polyline points="783.7,617.2 789.7,619.5 795.8,619.4" fill="none" stroke="#0a0a0a" stroke-width="2.8" stroke-linejoin="round" stroke-linecap="round" />
<polyline points="182.1,679.3 188.6,680.8 194.3,684.2 200.5,686.3" fill="none" stroke="#0a0a0a" stroke-width="2.8" stroke-linejoin="round" stroke-linecap="round" />
<polyline points="846.8,761.0 851.9,763.2 856.7,765.9" fill="none" stroke="#0a0a0a" stroke-width="2.8" stroke-linejoin="round" stroke-linecap="round" />
<polyline points="231.8,592.4 237.6,596.6 244.0,599.8 251.3,601.2" fill="none" stroke="#0a0a0a" stroke-width="2.8" stroke-linejoin="round" stroke-linecap="round" />
<polyline points="838.0,872.9 844.4,873.4 849.9,870.0" fill="none" stroke="#0a0a0a" stroke-width="2.8" stroke-linejoin="round" stroke-linecap="round" />
<polyline points="202.0,825.0 209.1,826.7 216.4,825.4 223.6,827.4" fill="none" stroke="#0a0a0a" stroke-width="2.8" stroke-linejoin="round" stroke-linecap="round" />
<polyline points="578.2,828.1 585.3,829.1 592.4,829.9" fill="none" stroke="#0a0a0a" stroke-width="2.8" stroke-linejoin="round" stroke-linecap="round" />
<polyline points="77.5,752.3 81.4,754.6 86.3,755.2" fill="none" stroke="#0a0a0a" stroke-width="2.8" stroke-linejoin="round" stroke-linecap="round" />
<polyline points="614.6,480.8 617.8,481.1 621.0,481.3" fill="none" stroke="#0a0a0a" stroke-width="2.8" stroke-linejoin="round" stroke-linecap="round" />
<polyline points="821.7,567.4 829.2,568.6 836.8,569.4" fill="none" stroke="#0a0a0a" stroke-width="2.8" stroke-linejoin="round" stroke-linecap="round" />
<polyline points="365.4,767.5 368.9,764.6 372.4,764.5" fill="none" stroke="#0a0a0a" stroke-width="2.8" stroke-linejoin="round" stroke-linecap="round" />
<polyline points="605.1,620.8 613.0,621.7 620.1,624.4" fill="none" stroke="#0a0a0a" stroke-width="2.8" stroke-linejoin="round" stroke-linecap="round" />
<polyline points="172.5,862.0 178.7,866.7 186.1,868.6 193.4,870.7" fill="none" stroke="#0a0a0a" stroke-width="2.8" stroke-linejoin="round" stroke-linecap="round" />
<polyline points="265.8,644.3 270.5,644.1 274.7,646.0" fill="none" stroke="#0a0a0a" stroke-width="2.8" stroke-linejoin="round" stroke-linecap="round" />
<polyline points="655.7,801.6 660.6,802.4 663.4,805.8" fill="none" stroke="#0a0a0a" stroke-width="2.8" stroke-linejoin="round" stroke-linecap="round" />
<polyline points="660.3,703.1 663.7,704.6 665.7,708.2" fill="none" stroke="#0a0a0a" stroke-width="2.8" stroke-linejoin="round" stroke-linecap="round" />
<polyline points="592.9,478.4 601.4,480.1 609.6,483.7" fill="none" stroke="#0a0a0a" stroke-width="2.8" stroke-linejoin="round" stroke-linecap="round" />
<polyline points="391.6,652.7 397.5,654.0 401.3,658.7" fill="none" stroke="#0a0a0a" stroke-width="2.8" stroke-linejoin="round" stroke-linecap="round" />
<polyline points="48.3,751.5 54.5,755.0 62.1,754.9" fill="none" stroke="#0a0a0a" stroke-width="2.8" stroke-linejoin="round" stroke-linecap="round" />
<polyline points="388.0,725.8 391.9,726.5 395.3,730.1" fill="none" stroke="#0a0a0a" stroke-width="2.8" stroke-linejoin="round" stroke-linecap="round" />
<polyline points="693.1,489.9 700.6,490.1 708.0,490.6 715.4,491.7" fill="none" stroke="#0a0a0a" stroke-width="2.8" stroke-linejoin="round" stroke-linecap="round" />
<polyline points="146.8,509.6 153.8,511.5 160.9,512.0 167.9,511.9" fill="none" stroke="#0a0a0a" stroke-width="2.8" stroke-linejoin="round" stroke-linecap="round" />
<polyline points="618.8,687.4 625.8,685.9 632.8,684.9 640.1,686.7" fill="none" stroke="#0a0a0a" stroke-width="2.8" stroke-linejoin="round" stroke-linecap="round" />
<polyline points="368.8,515.7 375.1,517.3 381.9,516.9 387.4,521.1" fill="none" stroke="#0a0a0a" stroke-width="2.8" stroke-linejoin="round" stroke-linecap="round" />
<polyline points="384.7,489.0 391.4,491.7 398.8,490.5 405.2,494.8" fill="none" stroke="#0a0a0a" stroke-width="2.8" stroke-linejoin="round" stroke-linecap="round" />
<polyline points="798.3,679.2 802.6,681.2 806.6,684.1" fill="none" stroke="#0a0a0a" stroke-width="2.8" stroke-linejoin="round" stroke-linecap="round" />
<polyline points="484.5,637.1 489.0,641.6 495.0,643.0 500.0,646.4" fill="none" stroke="#0a0a0a" stroke-width="2.8" stroke-linejoin="round" stroke-linecap="round" />
<polyline points="624.2,873.1 629.1,876.8 634.9,878.5" fill="none" stroke="#0a0a0a" stroke-width="2.8" stroke-linejoin="round" stroke-linecap="round" />
<polyline points="216.0,723.5 222.5,722.5 228.9,721.1" fill="none" stroke="#0a0a0a" stroke-width="2.8" stroke-linejoin="round" stroke-linecap="round" />
<polyline points="88.0,520.0 97.0,520.7 105.9,522.3" fill="none" stroke="#0a0a0a" stroke-width="2.8" stroke-linejoin="round" stroke-linecap="round" />
<polyline points="711.8,704.8 719.7,702.1 727.6,702.7 735.4,703.7" fill="none" stroke="#0a0a0a" stroke-width="2.8" stroke-linejoin="round" stroke-linecap="round" />
<polyline points="422.7,776.0 431.2,777.6 439.5,779.9" fill="none" stroke="#0a0a0a" stroke-width="2.8" stroke-linejoin="round" stroke-linecap="round" />
<polyline points="126.2,556.1 133.2,558.7 139.7,562.5 147.4,563.2" fill="none" stroke="#0a0a0a" stroke-width="2.8" stroke-linejoin="round" stroke-linecap="round" />
<polyline points="654.1,793.6 661.7,793.2 669.2,792.0 676.9,793.1" fill="none" stroke="#0a0a0a" stroke-width="2.8" stroke-linejoin="round" stroke-linecap="round" />
<polyline points="382.9,696.0 390.4,698.2 398.0,700.0 405.5,702.2" fill="none" stroke="#0a0a0a" stroke-width="2.8" stroke-linejoin="round" stroke-linecap="round" />
<polyline points="74.4,526.8 79.5,526.3 84.4,525.4" fill="none" stroke="#0a0a0a" stroke-width="2.8" stroke-linejoin="round" stroke-linecap="round" />
<polyline points="247.0,752.4 254.0,752.5 260.9,751.5 267.7,750.0" fill="none" stroke="#0a0a0a" stroke-width="2.8" stroke-linejoin="round" stroke-linecap="round" />
<polyline points="541.3,562.7 546.0,563.5 550.3,565.3" fill="none" stroke="#0a0a0a" stroke-width="2.8" stroke-linejoin="round" stroke-linecap="round" />
<polyline points="187.0,683.1 193.6,688.1 201.7,689.0 209.0,692.0" fill="none" stroke="#0a0a0a" stroke-width="2.8" stroke-linejoin="round" stroke-linecap="round" />
<polyline points="116.8,854.8 122.6,854.2 128.0,856.6" fill="none" stroke="#0a0a0a" stroke-width="2.8" stroke-linejoin="round" stroke-linecap="round" />
<polyline points="735.6,788.6 741.7,790.7 747.9,792.6 754.9,791.6" fill="none" stroke="#0a0a0a" stroke-width="2.8" stroke-linejoin="round" stroke-linecap="round" />
<polyline points="844.9,735.0 851.8,737.0 858.5,734.7 865.4,735.7" fill="none" stroke="#0a0a0a" stroke-width="2.8" stroke-linejoin="round" stroke-linecap="round" />
<polyline points="726.6,707.8 730.5,707.0 734.2,705.8" fill="none" stroke="#0a0a0a" stroke-width="2.8" stroke-linejoin="round" stroke-linecap="round" />
<polyline points="821.4,798.6 827.6,800.0 833.8,801.8" fill="none" stroke="#0a0a0a" stroke-width="2.8" stroke-linejoin="round" stroke-linecap="round" />
<polyline points="497.7,776.4 504.7,776.0 511.6,775.2" fill="none" stroke="#0a0a0a" stroke-width="2.8" stroke-linejoin="round" stroke-linecap="round" />
<polyline points="682.7,836.8 688.1,838.3 693.4,840.0" fill="none" stroke="#0a0a0a" stroke-width="2.8" stroke-linejoin="round" stroke-linecap="round" />
<polyline points="812.9,469.6 820.4,471.8 828.0,470.5 835.6,471.5" fill="none" stroke="#0a0a0a" stroke-width="2.8" stroke-linejoin="round" stroke-linecap="round" />
<polyline points="236.2,788.5 240.4,786.4 244.2,788.9" fill="none" stroke="#0a0a0a" stroke-width="2.8" stroke-linejoin="round" stroke-linecap="round" />
<polyline points="58.0,599.4 65.1,601.5 71.2,605.7 77.3,610.0" fill="none" stroke="#0a0a0a" stroke-width="2.8" stroke-linejoin="round" stroke-linecap="round" />
<polyline points="103.4,772.8 109.7,776.0 116.4,778.6 122.3,782.7" fill="none" stroke="#0a0a0a" stroke-width="2.8" stroke-linejoin="round" stroke-linecap="round" />
<polyline points="487.5,859.0 494.8,861.7 501.9,864.9" fill="none" stroke="#0a0a0a" stroke-width="2.8" stroke-linejoin="round" stroke-linecap="round" />
<polyline points="375.6,650.2 381.1,654.7 388.3,656.9 392.9,662.8" fill="none" stroke="#0a0a0a" stroke-width="2.8" stroke-linejoin="round" stroke-linecap="round" />
<polyline points="300.1,489.2 304.3,489.8 308.6,490.7" fill="none" stroke="#0a0a0a" stroke-width="2.8" stroke-linejoin="round" stroke-linecap="round" />
<polyline points="770.0,699.1 774.0,702.3 778.7,704.2" fill="none" stroke="#0a0a0a" stroke-width="2.8" stroke-linejoin="round" stroke-linecap="round" />
<polyline points="92.8,781.9 99.4,781.6 105.2,783.9 110.9,786.8" fill="none" stroke="#0a0a0a" stroke-width="2.8" stroke-linejoin="round" stroke-linecap="round" />
<polyline points="807.0,857.3 813.5,857.8 819.5,860.6 825.8,861.9" fill="none" stroke="#0a0a0a" stroke-width="2.8" stroke-linejoin="round" stroke-linecap="round" />
<polyline points="145.9,594.1 151.9,591.6 157.9,591.4 163.9,591.6" fill="none" stroke="#0a0a0a" stroke-width="2.8" stroke-linejoin="round" stroke-linecap="round" />
<polyline points="359.5,710.4 367.6,713.6 375.7,716.8" fill="none" stroke="#0a0a0a" stroke-width="2.8" stroke-linejoin="round" stroke-linecap="round" />
<polyline points="548.0,718.0 550.7,719.8 551.9,723.8" fill="none" stroke="#0a0a0a" stroke-width="2.8" stroke-linejoin="round" stroke-linecap="round" />
<polyline points="533.9,718.9 539.3,718.5 544.8,719.1" fill="none" stroke="#0a0a0a" stroke-width="2.8" stroke-linejoin="round" stroke-linecap="round" />
<polyline points="529.2,672.5 535.8,675.1 542.4,677.6" fill="none" stroke="#0a0a0a" stroke-width="2.8" stroke-linejoin="round" stroke-linecap="round" />
<polyline points="496.8,772.5 503.5,774.6 510.3,776.7" fill="none" stroke="#0a0a0a" stroke-width="2.8" stroke-linejoin="round" stroke-linecap="round" />
<polyline points="598.9,853.8 605.5,858.0 612.4,861.6" fill="none" stroke="#0a0a0a" stroke-width="2.8" stroke-linejoin="round" stroke-linecap="round" />
<polyline points="801.6,737.7 809.1,740.3 816.7,742.7 824.2,745.5" fill="none" stroke="#0a0a0a" stroke-width="2.8" stroke-linejoin="round" stroke-linecap="round" />
<polyline points="617.7,496.0 624.5,496.6 630.8,498.5 637.0,500.7" fill="none" stroke="#0a0a0a" stroke-width="2.8" stroke-linejoin="round" stroke-linecap="round" />
<polyline points="371.5,855.6 378.8,855.7 386.2,855.0 393.4,856.0" fill="none" stroke="#0a0a0a" stroke-width="2.8" stroke-linejoin="round" stroke-linecap="round" />
<polyline points="735.1,825.7 738.1,826.6 741.1,827.3" fill="none" stroke="#0a0a0a" stroke-width="2.8" stroke-linejoin="round" stroke-linecap="round" />
<polyline points="741.9,628.4 747.0,629.7 752.0,631.2" fill="none" stroke="#0a0a0a" stroke-width="2.8" stroke-linejoin="round" stroke-linecap="round" />
<polyline points="346.4,789.4 353.5,791.4 360.6,793.2 367.4,795.9" fill="none" stroke="#0a0a0a" stroke-width="2.8" stroke-linejoin="round" stroke-linecap="round" />
<polyline points="312.0,638.4 316.2,641.3 318.0,646.1" fill="none" stroke="#0a0a0a" stroke-width="2.8" stroke-linejoin="round" stroke-linecap="round" />
<polyline points="498.4,679.0 504.6,683.8 511.6,686.7" fill="none" stroke="#0a0a0a" stroke-width="2.8" stroke-linejoin="round" stroke-linecap="round" />
<polyline points="60.0,549.8 63.2,552.4 66.9,550.6" fill="none" stroke="#0a0a0a" stroke-width="2.8" stroke-linejoin="round" stroke-linecap="round" />
<polyline points="717.1,651.5 724.7,652.2 731.8,656.3" fill="none" stroke="#0a0a0a" stroke-width="2.8" stroke-linejoin="round" stroke-linecap="round" />
<polyline points="54.9,677.5 61.7,677.7 68.5,677.9 75.3,678.0" fill="none" stroke="#0a0a0a" stroke-width="2.8" stroke-linejoin="round" stroke-linecap="round" />
<polyline points="479.7,670.6 483.5,676.8 489.8,679.3 495.2,683.1" fill="none" stroke="#0a0a0a" stroke-width="2.8" stroke-linejoin="round" stroke-linecap="round" />
<polyline points="196.0,676.3 199.3,678.4 203.7,678.0" fill="none" stroke="#0a0a0a" stroke-width="2.8" stroke-linejoin="round" stroke-linecap="round" />
<polyline points="301.0,871.6 308.2,872.8 314.3,877.5" fill="none" stroke="#0a0a0a" stroke-width="2.8" stroke-linejoin="round" stroke-linecap="round" />
<polyline points="473.5,640.3 477.5,642.1 481.5,644.1" fill="none" stroke="#0a0a0a" stroke-width="2.8" stroke-linejoin="round" stroke-linecap="round" />
<polyline points="64.9,875.0 70.9,875.6 77.1,874.7 82.7,878.0" fill="none" stroke="#0a0a0a" stroke-width="2.8" stroke-linejoin="round" stroke-linecap="round" />
<polyline points="583.0,739.9 588.4,736.8 593.8,733.8" fill="none" stroke="#0a0a0a" stroke-width="2.8" stroke-linejoin="round" stroke-linecap="round" />
<polyline points="616.3,622.8 623.0,626.3 629.9,629.6" fill="none" stroke="#0a0a0a" stroke-width="2.8" stroke-linejoin="round" stroke-linecap="round" />
<polyline points="499.0,775.2 506.2,774.5 513.5,774.4" fill="none" stroke="#0a0a0a" stroke-width="2.8" stroke-linejoin="round" stroke-linecap="round" />
<polyline points="530.8,860.2 538.5,862.1 546.2,861.6 553.9,862.3" fill="none" stroke="#0a0a0a" stroke-width="2.8" stroke-linejoin="round" stroke-linecap="round" />
<polyline points="461.7,839.4 469.6,840.1 476.9,842.4 483.7,845.9" fill="none" stroke="#0a0a0a" stroke-width="2.8" stroke-linejoin="round" stroke-linecap="round" />
<polyline points="356.2,873.1 359.5,873.1 362.7,873.8" fill="none" stroke="#0a0a0a" stroke-width="2.8" stroke-linejoin="round" stroke-linecap="round" />
<polyline points="243.4,708.2 249.7,713.3 257.2,715.1" fill="none" stroke="#0a0a0a" stroke-width="2.8" stroke-linejoin="round" stroke-linecap="round" />
<polyline points="456.2,473.0 464.1,477.1 472.1,480.8" fill="none" stroke="#0a0a0a" stroke-width="2.8" stroke-linejoin="round" stroke-linecap="round" />
<polyline points="775.5,472.0 782.1,476.1 789.0,479.2 796.1,481.7" fill="none" stroke="#0a0a0a" stroke-width="2.8" stroke-linejoin="round" stroke-linecap="round" />
<polyline points="525.0,859.3 531.6,865.1 540.0,868.1" fill="none" stroke="#0a0a0a" stroke-width="2.8" stroke-linejoin="round" stroke-linecap="round" />
<polyline points="160.5,648.4 166.3,649.5 171.9,648.9" fill="none" stroke="#0a0a0a" stroke-width="2.8" stroke-linejoin="round" stroke-linecap="round" />
<polyline points="558.0,650.2 564.7,647.6 571.9,648.8" fill="none" stroke="#0a0a0a" stroke-width="2.8" stroke-linejoin="round" stroke-linecap="round" />
<polyline points="167.4,576.9 173.7,575.1 180.3,574.8 186.6,573.4" fill="none" stroke="#0a0a0a" stroke-width="2.8" stroke-linejoin="round" stroke-linecap="round" />
<polyline points="142.5,643.0 147.8,645.8 153.7,646.6" fill="none" stroke="#0a0a0a" stroke-width="2.8" stroke-linejoin="round" stroke-linecap="round" />
<polyline points="98.2,698.8 106.8,698.8 115.3,700.2" fill="none" stroke="#0a0a0a" stroke-width="2.8" stroke-linejoin="round" stroke-linecap="round" />
<polyline points="208.7,689.7 215.1,694.0 220.7,699.3 226.7,704.0" fill="none" stroke="#0a0a0a" stroke-width="2.8" stroke-linejoin="round" stroke-linecap="round" />
<polyline points="70.4,474.6 76.5,476.5 82.8,477.1 89.2,476.7" fill="none" stroke="#0a0a0a" stroke-width="2.8" stroke-linejoin="round" stroke-linecap="round" />
<polyline points="406.7,645.1 412.8,647.6 418.6,651.0" fill="none" stroke="#0a0a0a" stroke-width="2.8" stroke-linejoin="round" stroke-linecap="round" />
<polyline points="279.9,549.9 285.8,548.1 292.2,549.6 298.3,548.4" fill="none" stroke="#0a0a0a" stroke-width="2.8" stroke-linejoin="round" stroke-linecap="round" />
<polyline points="844.1,812.4 847.0,815.6 850.6,816.1" fill="none" stroke="#0a0a0a" stroke-width="2.8" stroke-linejoin="round" stroke-linecap="round" />
<polyline points="218.2,739.8 222.9,740.3 227.2,743.2" fill="none" stroke="#0a0a0a" stroke-width="2.8" stroke-linejoin="round" stroke-linecap="round" />
<polyline points="137.3,731.1 140.9,734.7 145.9,736.1" fill="none" stroke="#0a0a0a" stroke-width="2.8" stroke-linejoin="round" stroke-linecap="round" />
<polyline points="467.3,799.9 473.2,805.2 479.8,809.3 487.6,811.4" fill="none" stroke="#0a0a0a" stroke-width="2.8" stroke-linejoin="round" stroke-linecap="round" />
<polyline points="370.1,774.5 379.2,774.0 387.5,777.1" fill="none" stroke="#0a0a0a" stroke-width="2.8" stroke-linejoin="round" stroke-linecap="round" />
<polyline points="541.2,745.0 544.6,748.3 548.4,746.0" fill="none" stroke="#0a0a0a" stroke-width="2.8" stroke-linejoin="round" stroke-linecap="round" />
<polyline points="228.0,776.0 232.9,778.9 238.4,780.6" fill="none" stroke="#0a0a0a" stroke-width="2.8" stroke-linejoin="round" stroke-linecap="round" />
<polyline points="431.2,790.5 438.3,791.7 445.4,791.4 452.4,793.5" fill="none" stroke="#0a0a0a" stroke-width="2.8" stroke-linejoin="round" stroke-linecap="round" />
<polyline points="709.3,491.9 716.1,493.4 723.0,493.1 730.0,492.3" fill="none" stroke="#0a0a0a" stroke-width="2.8" stroke-linejoin="round" stroke-linecap="round" />
<polyline points="383.8,659.0 390.3,659.7 395.3,664.0 401.3,665.9" fill="none" stroke="#0a0a0a" stroke-width="2.8" stroke-linejoin="round" stroke-linecap="round" />
<polyline points="369.4,858.9 374.0,857.7 376.2,861.6" fill="none" stroke="#0a0a0a" stroke-width="2.8" stroke-linejoin="round" stroke-linecap="round" />
<polyline points="687.0,841.3 695.2,841.4 703.1,839.2" fill="none" stroke="#0a0a0a" stroke-width="2.8" stroke-linejoin="round" stroke-linecap="round" />
<polyline points="319.5,774.0 326.4,772.1 333.3,772.2 340.3,773.7" fill="none" stroke="#0a0a0a" stroke-width="2.8" stroke-linejoin="round" stroke-linecap="round" />
<polyline points="121.8,666.9 126.6,668.8 131.9,669.4" fill="none" stroke="#0a0a0a" stroke-width="2.8" stroke-linejoin="round" stroke-linecap="round" />
<polyline points="435.8,791.6 442.6,792.7 449.0,795.1" fill="none" stroke="#0a0a0a" stroke-width="2.8" stroke-linejoin="round" stroke-linecap="round" />
<polyline points="716.5,814.9 720.3,811.8 724.8,812.8" fill="none" stroke="#0a0a0a" stroke-width="2.8" stroke-linejoin="round" stroke-linecap="round" />
<polyline points="361.5,808.0 368.0,809.1 374.8,808.5 381.3,809.7" fill="none" stroke="#0a0a0a" stroke-width="2.8" stroke-linejoin="round" stroke-linecap="round" />
<polyline points="143.6,493.3 146.7,495.6 149.7,498.0" fill="none" stroke="#0a0a0a" stroke-width="2.8" stroke-linejoin="round" stroke-linecap="round" />
<polyline points="642.8,648.1 649.9,650.9 657.9,651.6" fill="none" stroke="#0a0a0a" stroke-width="2.8" stroke-linejoin="round" stroke-linecap="round" />
<polyline points="243.9,682.9 247.1,686.1 251.0,687.3" fill="none" stroke="#0a0a0a" stroke-width="2.8" stroke-linejoin="round" stroke-linecap="round" />
<polyline points="753.8,697.8 761.2,701.1 768.9,703.3" fill="none" stroke="#0a0a0a" stroke-width="2.8" stroke-linejoin="round" stroke-linecap="round" />
<polyline points="348.8,689.7 353.6,688.7 358.5,687.2" fill="none" stroke="#0a0a0a" stroke-width="2.8" stroke-linejoin="round" stroke-linecap="round" />
<polyline points="765.5,519.7 770.1,520.0 774.6,520.5" fill="none" stroke="#0a0a0a" stroke-width="2.8" stroke-linejoin="round" stroke-linecap="round" />
<polyline points="274.9,788.2 281.7,791.0 288.5,788.1" fill="none" stroke="#0a0a0a" stroke-width="2.8" stroke-linejoin="round" stroke-linecap="round" />
<polyline points="525.9,515.8 533.8,515.3 541.7,516.0" fill="none" stroke="#0a0a0a" stroke-width="2.8" stroke-linejoin="round" stroke-linecap="round" />
<polyline points="846.3,865.0 848.8,870.3 854.2,872.7" fill="none" stroke="#0a0a0a" stroke-width="2.8" stroke-linejoin="round" stroke-linecap="round" />
<polyline points="705.2,702.5 710.3,703.3 715.3,703.2" fill="none" stroke="#0a0a0a" stroke-width="2.8" stroke-linejoin="round" stroke-linecap="round" />
<polyline points="694.8,757.4 701.9,758.2 708.4,761.8" fill="none" stroke="#0a0a0a" stroke-width="2.8" stroke-linejoin="round" stroke-linecap="round" />
<polyline points="233.6,687.2 239.6,690.2 246.0,692.0 252.6,692.8" fill="none" stroke="#0a0a0a" stroke-width="2.8" stroke-linejoin="round" stroke-linecap="round" />
<polyline points="460.6,779.6 466.5,783.3 473.4,784.2" fill="none" stroke="#0a0a0a" stroke-width="2.8" stroke-linejoin="round" stroke-linecap="round" />
<polyline points="51.0,843.5 55.6,841.0 60.1,841.2" fill="none" stroke="#0a0a0a" stroke-width="2.8" stroke-linejoin="round" stroke-linecap="round" />
<polyline points="339.1,853.1 345.1,856.6 352.0,857.9" fill="none" stroke="#0a0a0a" stroke-width="2.8" stroke-linejoin="round" stroke-linecap="round" />
<polyline points="433.3,625.9 440.8,627.9 448.7,627.8 456.1,630.0" fill="none" stroke="#0a0a0a" stroke-width="2.8" stroke-linejoin="round" stroke-linecap="round" />
<polyline points="222.8,676.2 229.2,681.2 235.8,685.9" fill="none" stroke="#0a0a0a" stroke-width="2.8" stroke-linejoin="round" stroke-linecap="round" />
<polyline points="556.8,624.2 562.3,623.5 567.2,625.2" fill="none" stroke="#0a0a0a" stroke-width="2.8" stroke-linejoin="round" stroke-linecap="round" />
<polyline points="509.6,589.2 513.4,586.4 517.6,585.5" fill="none" stroke="#0a0a0a" stroke-width="2.8" stroke-linejoin="round" stroke-linecap="round" />
<polyline points="232.5,821.3 239.7,824.3 247.0,827.2 254.6,828.9" fill="none" stroke="#0a0a0a" stroke-width="2.8" stroke-linejoin="round" stroke-linecap="round" />
<polyline points="637.7,843.7 644.1,841.8 650.3,843.1 656.4,845.3" fill="none" stroke="#0a0a0a" stroke-width="2.8" stroke-linejoin="round" stroke-linecap="round" />
<polyline points="625.8,749.6 632.1,753.1 638.1,757.0 643.2,762.2" fill="none" stroke="#0a0a0a" stroke-width="2.8" stroke-linejoin="round" stroke-linecap="round" />
<polyline points="298.6,478.7 301.8,479.5 304.4,481.4" fill="none" stroke="#0a0a0a" stroke-width="2.8" stroke-linejoin="round" stroke-linecap="round" />
<polyline points="317.4,823.1 325.0,825.2 330.8,830.1" fill="none" stroke="#0a0a0a" stroke-width="2.8" stroke-linejoin="round" stroke-linecap="round" />
<polyline points="527.2,759.8 531.3,761.5 535.8,761.7" fill="none" stroke="#0a0a0a" stroke-width="2.8" stroke-linejoin="round" stroke-linecap="round" />
<polyline points="199.4,517.1 205.3,520.0 211.0,523.3" fill="none" stroke="#0a0a0a" stroke-width="2.8" stroke-linejoin="round" stroke-linecap="round" />
<polyline points="116.7,664.2 124.0,667.5 131.6,670.0" fill="none" stroke="#0a0a0a" stroke-width="2.8" stroke-linejoin="round" stroke-linecap="round" />
<polyline points="399.6,623.3 406.9,623.7 413.7,625.6" fill="none" stroke="#0a0a0a" stroke-width="2.8" stroke-linejoin="round" stroke-linecap="round" />
<polyline points="177.5,744.0 181.6,747.4 186.3,748.6" fill="none" stroke="#0a0a0a" stroke-width="2.8" stroke-linejoin="round" stroke-linecap="round" />
<polyline points="323.7,751.6 330.0,755.0 334.9,760.7 342.1,762.6" fill="none" stroke="#0a0a0a" stroke-width="2.8" stroke-linejoin="round" stroke-linecap="round" />
<polyline points="301.0,492.5 308.4,496.5 316.2,497.9 324.4,497.2" fill="none" stroke="#0a0a0a" stroke-width="2.8" stroke-linejoin="round" stroke-linecap="round" />
<polyline points="112.6,725.0 119.9,725.1 127.4,723.9" fill="none" stroke="#0a0a0a" stroke-width="2.8" stroke-linejoin="round" stroke-linecap="round" />
<polyline points="316.8,828.9 324.0,826.0 331.2,823.1 338.4,820.2" fill="none" stroke="#0a0a0a" stroke-width="2.8" stroke-linejoin="round" stroke-linecap="round" />
<polyline points="492.3,811.0 497.4,814.0 503.2,815.1" fill="none" stroke="#0a0a0a" stroke-width="2.8" stroke-linejoin="round" stroke-linecap="round" />
<polyline points="426.5,607.8 430.5,609.8 435.0,608.4" fill="none" stroke="#0a0a0a" stroke-width="2.8" stroke-linejoin="round" stroke-linecap="round" />
<polyline points="264.1,799.5 268.8,803.2 274.0,803.5" fill="none" stroke="#0a0a0a" stroke-width="2.8" stroke-linejoin="round" stroke-linecap="round" />
<polyline points="745.8,652.6 750.2,653.8 754.6,654.1" fill="none" stroke="#0a0a0a" stroke-width="2.8" stroke-linejoin="round" stroke-linecap="round" />
<polyline points="442.0,663.5 447.6,663.7 453.1,663.3" fill="none" stroke="#0a0a0a" stroke-width="2.8" stroke-linejoin="round" stroke-linecap="round" />
<polyline points="59.1,646.3 67.1,647.5 75.5,647.2" fill="none" stroke="#0a0a0a" stroke-width="2.8" stroke-linejoin="round" stroke-linecap="round" />
<polyline points="710.2,819.1 716.6,822.3 723.5,823.9 730.6,824.5" fill="none" stroke="#0a0a0a" stroke-width="2.8" stroke-linejoin="round" stroke-linecap="round" />
<polyline points="130.5,753.9 134.5,752.7 138.2,755.9" fill="none" stroke="#0a0a0a" stroke-width="2.8" stroke-linejoin="round" stroke-linecap="round" />
<polyline points="173.6,602.9 181.5,603.6 188.0,608.3" fill="none" stroke="#0a0a0a" stroke-width="2.8" stroke-linejoin="round" stroke-linecap="round" />
<polyline points="286.0,802.6 291.6,806.6 295.5,812.2 300.3,817.0" fill="none" stroke="#0a0a0a" stroke-width="2.8" stroke-linejoin="round" stroke-linecap="round" />
<polyline points="244.9,812.9 251.3,814.2 257.7,815.4 264.2,815.2" fill="none" stroke="#0a0a0a" stroke-width="2.8" stroke-linejoin="round" stroke-linecap="round" />
<polyline points="718.1,805.2 725.4,805.7 732.1,802.7 739.2,802.0" fill="none" stroke="#0a0a0a" stroke-width="2.8" stroke-linejoin="round" stroke-linecap="round" />
<polyline points="828.8,652.1 835.7,655.2 842.8,655.4 850.1,653.3" fill="none" stroke="#0a0a0a" stroke-width="2.8" stroke-linejoin="round" stroke-linecap="round" />
<polyline points="68.7,793.4 76.5,794.0 84.0,796.3" fill="none" stroke="#0a0a0a" stroke-width="2.8" stroke-linejoin="round" stroke-linecap="round" />
<polyline points="214.0,662.8 222.7,664.9 231.8,664.4" fill="none" stroke="#0a0a0a" stroke-width="2.8" stroke-linejoin="round" stroke-linecap="round" />
<polyline points="601.8,761.7 607.5,766.4 614.9,769.2 619.0,775.8" fill="none" stroke="#0a0a0a" stroke-width="2.8" stroke-linejoin="round" stroke-linecap="round" />
<polyline points="847.1,704.0 854.6,702.9 862.2,702.8 869.7,702.1" fill="none" stroke="#0a0a0a" stroke-width="2.8" stroke-linejoin="round" stroke-linecap="round" />
<polyline points="314.7,828.5 320.9,827.5 326.9,828.1 332.7,830.9" fill="none" stroke="#0a0a0a" stroke-width="2.8" stroke-linejoin="round" stroke-linecap="round" />
<polyline points="406.9,508.9 411.7,509.9 416.7,508.9" fill="none" stroke="#0a0a0a" stroke-width="2.8" stroke-linejoin="round" stroke-linecap="round" />
<polyline points="207.3,861.7 215.3,862.6 222.9,864.5" fill="none" stroke="#0a0a0a" stroke-width="2.8" stroke-linejoin="round" stroke-linecap="round" />
<polyline points="705.8,816.4 710.1,817.7 714.4,817.2" fill="none" stroke="#0a0a0a" stroke-width="2.8" stroke-linejoin="round" stroke-linecap="round" />
<polyline points="598.2,747.3 604.0,749.7 610.4,750.2 615.5,754.7" fill="none" stroke="#0a0a0a" stroke-width="2.8" stroke-linejoin="round" stroke-linecap="round" />
</g>
</g>
<rect x="35" y="44" width="54" height="47" fill="#fff" />
<text x="43" y="76.5" font-family="Liberation Serif" font-size="35.5" fill="#000" textLength="39" lengthAdjust="spacingAndGlyphs" >(a)</text>
<rect x="42.4" y="477" width="54.6" height="49" fill="#fff" />
<text x="49.5" y="510.5" font-family="Liberation Serif" font-size="35" fill="#000" textLength="40" lengthAdjust="spacingAndGlyphs" >(b)</text>
<rect x="41.5" y="390.1" width="207.2" height="48.39999999999998" fill="#fff" />
<rect x="43.6" y="430.6" width="203" height="3.6" fill="#000" />
<text x="111" y="423" font-family="Liberation Serif" font-size="27" fill="#000" textLength="69" lengthAdjust="spacingAndGlyphs" >10 µm</text>
<rect x="41.5" y="817.6" width="207.2" height="49.19999999999993" fill="#fff" />
<rect x="43.6" y="858.7" width="203" height="3.6" fill="#000" />
<text x="111" y="850.4" font-family="Liberation Serif" font-size="27" fill="#000" textLength="69" lengthAdjust="spacingAndGlyphs" >10 µm</text>
<line x1="339" y1="569.6" x2="458.9" y2="537.4" stroke="#ffffff" stroke-width="2"/>
<line x1="339" y1="569.6" x2="462.3" y2="569.6" stroke="#ffffff" stroke-width="2"/>
<path d="M407.0,569.6 A68,68 0 0 0 404.7,552.0" fill="none" stroke="#ffffff" stroke-width="1.6"/>
<text x="440.5" y="564" font-family="Liberation Serif" font-size="32" fill="#ffffff" textLength="45" lengthAdjust="spacingAndGlyphs" >15°</text>
<line x1="820.4" y1="592.6" x2="716.8" y2="545.4" stroke="#ffffff" stroke-width="2"/>
<line x1="820.4" y1="592.6" x2="714.5" y2="592.6" stroke="#ffffff" stroke-width="2"/>
<path d="M769.7,592.6 A50.7,50.7 0 0 1 774.3,571.6" fill="none" stroke="#ffffff" stroke-width="1.6"/>
<text x="702" y="584.6" font-family="Liberation Serif" font-size="32" fill="#ffffff" textLength="45" lengthAdjust="spacingAndGlyphs" >25°</text>
<line x1="196.8" y1="748.4" x2="93.2" y2="700.5" stroke="#ffffff" stroke-width="2"/>
<line x1="196.8" y1="748.4" x2="93.2" y2="748.4" stroke="#ffffff" stroke-width="2"/>
<path d="M146.2,748.4 A50.6,50.6 0 0 1 150.9,727.2" fill="none" stroke="#ffffff" stroke-width="1.6"/>
<text x="80" y="739.7" font-family="Liberation Serif" font-size="32" fill="#ffffff" textLength="45" lengthAdjust="spacingAndGlyphs" >25°</text>
<line x1="325.3" y1="717.8" x2="219.8" y2="678.7" stroke="#ffffff" stroke-width="2"/>
<line x1="325.3" y1="717.8" x2="222" y2="717.8" stroke="#ffffff" stroke-width="2"/>
<path d="M272.3,717.8 A53,53 0 0 1 275.6,699.4" fill="none" stroke="#ffffff" stroke-width="1.6"/>
<text x="207" y="715.5" font-family="Liberation Serif" font-size="32" fill="#ffffff" textLength="45" lengthAdjust="spacingAndGlyphs" >20°</text>
<line x1="652.3" y1="698.2" x2="548.7" y2="650" stroke="#ffffff" stroke-width="2"/>
<line x1="652.3" y1="698.2" x2="548.7" y2="698.2" stroke="#ffffff" stroke-width="2"/>
<path d="M604.3,698.2 A48,48 0 0 1 608.8,678.0" fill="none" stroke="#ffffff" stroke-width="1.6"/>
<text x="536" y="690" font-family="Liberation Serif" font-size="32" fill="#ffffff" textLength="45" lengthAdjust="spacingAndGlyphs" >25°</text>
<line x1="158.8" y1="526" x2="177.2" y2="569.2" stroke="#b0143c" stroke-width="3.4" stroke-dasharray="11,8"/>
<line x1="178.4" y1="572" x2="179.7" y2="553.0" stroke="#b0143c" stroke-width="3.4" stroke-linecap="round"/>
<line x1="178.4" y1="572" x2="163.8" y2="559.8" stroke="#b0143c" stroke-width="3.4" stroke-linecap="round"/>
<line x1="334.5" y1="477.5" x2="351.9" y2="523.2" stroke="#b0143c" stroke-width="3.4" stroke-dasharray="11,8"/>
<line x1="353" y1="526" x2="355.0" y2="507.1" stroke="#b0143c" stroke-width="3.4" stroke-linecap="round"/>
<line x1="353" y1="526" x2="338.9" y2="513.3" stroke="#b0143c" stroke-width="3.4" stroke-linecap="round"/>
<line x1="574" y1="535" x2="554.4" y2="487.2" stroke="#b0143c" stroke-width="3.4" stroke-dasharray="11,8"/>
<line x1="553.3" y1="484.4" x2="551.7" y2="503.3" stroke="#b0143c" stroke-width="3.4" stroke-linecap="round"/>
<line x1="553.3" y1="484.4" x2="567.7" y2="496.8" stroke="#b0143c" stroke-width="3.4" stroke-linecap="round"/>
<line x1="716.8" y1="544" x2="692.6" y2="489.4" stroke="#b0143c" stroke-width="3.4" stroke-dasharray="11,8"/>
<line x1="691.4" y1="486.7" x2="690.4" y2="505.7" stroke="#b0143c" stroke-width="3.4" stroke-linecap="round"/>
<line x1="691.4" y1="486.7" x2="706.1" y2="498.7" stroke="#b0143c" stroke-width="3.4" stroke-linecap="round"/>
<line x1="595.9" y1="778.8" x2="613.2" y2="822.1" stroke="#b0143c" stroke-width="3.4" stroke-dasharray="11,8"/>
<line x1="614.3" y1="824.9" x2="616.0" y2="806.0" stroke="#b0143c" stroke-width="3.4" stroke-linecap="round"/>
<line x1="614.3" y1="824.9" x2="600.0" y2="812.4" stroke="#b0143c" stroke-width="3.4" stroke-linecap="round"/>
<line x1="750" y1="778.8" x2="761.5" y2="803.8" stroke="#b0143c" stroke-width="3.4" stroke-dasharray="11,8"/>
<line x1="762.8" y1="806.5" x2="763.4" y2="790.5" stroke="#b0143c" stroke-width="3.4" stroke-linecap="round"/>
<line x1="762.8" y1="806.5" x2="750.2" y2="796.6" stroke="#b0143c" stroke-width="3.4" stroke-linecap="round"/>
<line x1="231.3" y1="686.7" x2="207.7" y2="721.1" stroke="#000" stroke-width="3.4" stroke-dasharray="11,8"/>
<line x1="206" y1="723.6" x2="222.7" y2="714.5" stroke="#000" stroke-width="3.4" stroke-linecap="round"/>
<line x1="206" y1="723.6" x2="208.5" y2="704.8" stroke="#000" stroke-width="3.4" stroke-linecap="round"/>
<line x1="567" y1="599.5" x2="550.6" y2="620.2" stroke="#000" stroke-width="3.4" stroke-dasharray="11,8"/>
<line x1="548.7" y1="622.6" x2="563.2" y2="615.9" stroke="#000" stroke-width="3.4" stroke-linecap="round"/>
<line x1="548.7" y1="622.6" x2="551.9" y2="606.9" stroke="#000" stroke-width="3.4" stroke-linecap="round"/>
<line x1="776.6" y1="496" x2="753.0" y2="530.3" stroke="#000" stroke-width="3.4" stroke-dasharray="11,8"/>
<line x1="751.3" y1="532.8" x2="768.0" y2="523.7" stroke="#000" stroke-width="3.4" stroke-linecap="round"/>
<line x1="751.3" y1="532.8" x2="753.8" y2="514.0" stroke="#000" stroke-width="3.4" stroke-linecap="round"/>
<line x1="673" y1="572" x2="647.1" y2="608.6" stroke="#000" stroke-width="3.4" stroke-dasharray="11,8"/>
<line x1="645.4" y1="611" x2="662.2" y2="602.2" stroke="#000" stroke-width="3.4" stroke-linecap="round"/>
<line x1="645.4" y1="611" x2="648.1" y2="592.2" stroke="#000" stroke-width="3.4" stroke-linecap="round"/>
<line x1="345" y1="655" x2="324.1" y2="676.8" stroke="#000" stroke-width="3.4" stroke-dasharray="11,8"/>
<line x1="322" y1="679" x2="337.1" y2="673.7" stroke="#000" stroke-width="3.4" stroke-linecap="round"/>
<line x1="322" y1="679" x2="326.6" y2="663.7" stroke="#000" stroke-width="3.4" stroke-linecap="round"/>
<polyline points="879.6,86.0 879.6,44.6 921.0,44.6" fill="none" stroke="#111" stroke-width="2.2" stroke-linejoin="round" stroke-linecap="round" stroke-linecap="butt"/>
<polygon points="920.0,36.8 937.0,44.6 920.0,53.2" fill="#111" stroke="none" stroke-width="0" stroke-linejoin="round" />
<polygon points="871.6,85.5 888.3,85.5 879.9,101.8" fill="#111" stroke="none" stroke-width="0" stroke-linejoin="round" />
<text x="940.5" y="54.2" font-family="Liberation Serif" font-size="25" fill="#000" textLength="38.5" lengthAdjust="spacingAndGlyphs" >RD</text>
<text x="866" y="125.3" font-family="Liberation Serif" font-size="25" fill="#000" textLength="37.3" lengthAdjust="spacingAndGlyphs" >ND</text>
<polyline points="868.0,146.0 896.0,146.0" fill="none" stroke="#777" stroke-width="1.2" stroke-linejoin="round" stroke-linecap="round" />
<polyline points="907.0,141.5 926.0,148.5 907.0,155.5" fill="none" stroke="#333" stroke-width="1.3" stroke-linejoin="round" stroke-linecap="round" stroke-linecap="butt"/>
<polyline points="907.0,159.5 926.0,152.5" fill="none" stroke="#333" stroke-width="1.3" stroke-linejoin="round" stroke-linecap="round" />
<text x="930.5" y="156.8" font-family="Liberation Serif" font-size="26" fill="#222" textLength="38" lengthAdjust="spacingAndGlyphs" >10°</text>
<g clip-path="url(#ipfclip)"><rect x="964.9" y="328.60" width="2.2" height="2.40" fill="url(#ipf0)"/><rect x="963.4" y="330.10" width="4.2" height="2.40" fill="url(#ipf1)"/><rect x="961.9" y="331.60" width="6.2" height="2.40" fill="url(#ipf2)"/><rect x="960.4" y="333.10" width="8.2" height="2.40" fill="url(#ipf3)"/><rect x="958.9" y="334.60" width="10.2" height="2.40" fill="url(#ipf4)"/><rect x="957.4" y="336.10" width="12.2" height="2.40" fill="url(#ipf5)"/><rect x="955.9" y="337.60" width="14.1" height="2.40" fill="url(#ipf6)"/><rect x="954.4" y="339.10" width="16.1" height="2.40" fill="url(#ipf7)"/><rect x="952.9" y="340.60" width="18.1" height="2.40" fill="url(#ipf8)"/><rect x="951.3" y="342.10" width="20.0" height="2.40" fill="url(#ipf9)"/><rect x="949.8" y="343.60" width="22.0" height="2.40" fill="url(#ipf10)"/><rect x="948.3" y="345.10" width="23.9" height="2.40" fill="url(#ipf11)"/><rect x="946.8" y="346.60" width="25.8" height="2.40" fill="url(#ipf12)"/><rect x="945.3" y="348.10" width="27.8" height="2.40" fill="url(#ipf13)"/><rect x="943.8" y="349.60" width="29.7" height="2.40" fill="url(#ipf14)"/><rect x="942.3" y="351.10" width="31.6" height="2.40" fill="url(#ipf15)"/><rect x="940.8" y="352.60" width="33.5" height="2.40" fill="url(#ipf16)"/><rect x="939.2" y="354.10" width="35.4" height="2.40" fill="url(#ipf17)"/><rect x="937.7" y="355.60" width="37.3" height="2.40" fill="url(#ipf18)"/><rect x="936.2" y="357.10" width="39.2" height="2.40" fill="url(#ipf19)"/><rect x="934.7" y="358.60" width="41.0" height="2.40" fill="url(#ipf20)"/><rect x="933.2" y="360.10" width="42.9" height="2.40" fill="url(#ipf21)"/><rect x="931.7" y="361.60" width="44.8" height="2.40" fill="url(#ipf22)"/><rect x="930.2" y="363.10" width="46.6" height="2.40" fill="url(#ipf23)"/><rect x="928.7" y="364.60" width="48.5" height="2.40" fill="url(#ipf24)"/><rect x="927.2" y="366.10" width="50.3" height="2.40" fill="url(#ipf25)"/><rect x="925.6" y="367.60" width="52.1" height="2.40" fill="url(#ipf26)"/><rect x="924.1" y="369.10" width="53.9" height="2.40" fill="url(#ipf27)"/><rect x="922.6" y="370.60" width="55.8" height="2.40" fill="url(#ipf28)"/><rect x="921.1" y="372.10" width="57.6" height="2.40" fill="url(#ipf29)"/><rect x="919.6" y="373.60" width="59.4" height="2.40" fill="url(#ipf30)"/><rect x="918.1" y="375.10" width="61.2" height="2.40" fill="url(#ipf31)"/><rect x="916.6" y="376.60" width="62.9" height="2.40" fill="url(#ipf32)"/><rect x="915.1" y="378.10" width="64.7" height="2.40" fill="url(#ipf33)"/><rect x="913.5" y="379.60" width="66.5" height="2.40" fill="url(#ipf34)"/><rect x="912.0" y="381.10" width="68.2" height="2.40" fill="url(#ipf35)"/><rect x="910.5" y="382.60" width="70.0" height="2.40" fill="url(#ipf36)"/><rect x="909.0" y="384.10" width="71.7" height="2.40" fill="url(#ipf37)"/><rect x="907.5" y="385.60" width="73.5" height="2.40" fill="url(#ipf38)"/><rect x="906.0" y="387.10" width="75.2" height="2.40" fill="url(#ipf39)"/><rect x="904.5" y="388.60" width="76.9" height="2.40" fill="url(#ipf40)"/><rect x="903.0" y="390.10" width="78.6" height="2.40" fill="url(#ipf41)"/><rect x="901.5" y="391.60" width="80.3" height="2.40" fill="url(#ipf42)"/><rect x="899.9" y="393.10" width="82.0" height="2.40" fill="url(#ipf43)"/><rect x="898.4" y="394.60" width="83.7" height="2.40" fill="url(#ipf44)"/><rect x="896.9" y="396.10" width="85.4" height="2.40" fill="url(#ipf45)"/><rect x="895.4" y="397.60" width="87.1" height="2.40" fill="url(#ipf46)"/><rect x="893.9" y="399.10" width="88.7" height="2.40" fill="url(#ipf47)"/><rect x="892.4" y="400.60" width="90.4" height="2.40" fill="url(#ipf48)"/><rect x="890.9" y="402.10" width="92.0" height="2.40" fill="url(#ipf49)"/><rect x="889.4" y="403.60" width="93.6" height="2.40" fill="url(#ipf50)"/><rect x="887.8" y="405.10" width="95.3" height="2.40" fill="url(#ipf51)"/><rect x="886.3" y="406.60" width="96.9" height="2.40" fill="url(#ipf52)"/><rect x="884.8" y="408.10" width="98.5" height="2.40" fill="url(#ipf53)"/><rect x="883.3" y="409.60" width="100.1" height="2.40" fill="url(#ipf54)"/><rect x="881.8" y="411.10" width="101.6" height="2.40" fill="url(#ipf55)"/><rect x="880.3" y="412.60" width="103.2" height="2.40" fill="url(#ipf56)"/><rect x="878.8" y="414.10" width="104.8" height="2.40" fill="url(#ipf57)"/><rect x="877.3" y="415.60" width="106.3" height="2.40" fill="url(#ipf58)"/><rect x="875.8" y="417.10" width="107.8" height="2.30" fill="url(#ipf59)"/></g>
<text x="955.3" y="325.4" font-family="Liberation Serif" font-size="20" fill="#000" textLength="33.6" lengthAdjust="spacingAndGlyphs" >111</text>
<text x="868" y="347.4" font-family="Liberation Serif" font-size="21" fill="#000" textLength="32.2" lengthAdjust="spacingAndGlyphs" >RD</text>
<text x="863" y="436.7" font-family="Liberation Serif" font-size="20" fill="#000" textLength="33" lengthAdjust="spacingAndGlyphs" >001</text>
<text x="972.5" y="436.7" font-family="Liberation Serif" font-size="20" fill="#000" textLength="31.2" lengthAdjust="spacingAndGlyphs" >101</text>
<line x1="914.6" y1="482.8" x2="972.2" y2="482.8" stroke="#000" stroke-width="3.2" stroke-dasharray="8,10"/>
<polyline points="953.0,471.8 975.2,482.8 953.0,493.3" fill="none" stroke="#000" stroke-width="3.2" stroke-linejoin="round" stroke-linecap="round" stroke-linecap="butt"/>
<line x1="914.6" y1="529.8" x2="972.2" y2="529.8" stroke="#a8103c" stroke-width="3.2" stroke-dasharray="8,10"/>
<polyline points="953.0,518.8 975.2,529.8 953.0,540.3" fill="none" stroke="#a8103c" stroke-width="3.2" stroke-linejoin="round" stroke-linecap="round" stroke-linecap="butt"/>
<text x="870" y="510.5" font-family="Liberation Serif" font-size="20" fill="#222" textLength="146.4" lengthAdjust="spacingAndGlyphs" >New shear bands</text>
<text x="870" y="556" font-family="Liberation Serif" font-size="20" fill="#222" textLength="144.6" lengthAdjust="spacingAndGlyphs" >Developed shear</text>
<text x="917.3" y="581.4" font-family="Liberation Serif" font-size="20" fill="#222" textLength="49.7" lengthAdjust="spacingAndGlyphs" >bands</text>
<text x="862" y="603.5" font-family="Liberation Serif" font-size="20" fill="#222" textLength="186" lengthAdjust="spacingAndGlyphs" >Deviation angle ≤15°</text>
<line x1="865.7" y1="626.5" x2="914.9" y2="626.5" stroke="#8e1838" stroke-width="4"/>
<text x="931.8" y="633.5" font-family="Liberation Serif" font-size="20" fill="#222" textLength="110" lengthAdjust="spacingAndGlyphs" >{210}&lt;001&gt;</text>
<line x1="865.7" y1="651" x2="914.9" y2="651" stroke="#1eff3c" stroke-width="4"/>
<text x="931.8" y="658" font-family="Liberation Serif" font-size="20" fill="#222" textLength="110" lengthAdjust="spacingAndGlyphs" >{110}&lt;001&gt;</text>
<line x1="865.7" y1="682.7" x2="914.9" y2="682.7" stroke="#ff1010" stroke-width="4"/>
<text x="931.8" y="689.7" font-family="Liberation Serif" font-size="20" fill="#222" textLength="112" lengthAdjust="spacingAndGlyphs" >{100}&lt;001&gt;</text>
<line x1="865.7" y1="712.5" x2="914.9" y2="712.5" stroke="#ff20f0" stroke-width="4"/>
<text x="931.8" y="719.5" font-family="Liberation Serif" font-size="20" fill="#222" textLength="108" lengthAdjust="spacingAndGlyphs" >{100}&lt;011&gt;</text>
<line x1="865.7" y1="742.2" x2="914.9" y2="742.2" stroke="#2090a8" stroke-width="4"/>
<text x="931.8" y="749.2" font-family="Liberation Serif" font-size="20" fill="#222" textLength="116" lengthAdjust="spacingAndGlyphs" >{311}&lt;13-6&gt;</text>
<line x1="865.7" y1="777" x2="914.9" y2="777" stroke="#10f0f8" stroke-width="4"/>
<text x="931.8" y="784" font-family="Liberation Serif" font-size="20" fill="#222" textLength="114" lengthAdjust="spacingAndGlyphs" >{111}&lt;11-2&gt;</text>
<line x1="865.7" y1="807.6" x2="914.9" y2="807.6" stroke="#1010d8" stroke-width="4"/>
<text x="931.8" y="814.6" font-family="Liberation Serif" font-size="20" fill="#222" textLength="114" lengthAdjust="spacingAndGlyphs" >{111}&lt;1-10&gt;</text>
<line x1="865.7" y1="835.3" x2="914.9" y2="835.3" stroke="#0a7a1e" stroke-width="4"/>
<text x="931.8" y="842.3" font-family="Liberation Serif" font-size="20" fill="#222" textLength="111" lengthAdjust="spacingAndGlyphs" >{110}&lt;110&gt;</text>
<line x1="865.7" y1="862.3" x2="914.9" y2="862.3" stroke="#ffee00" stroke-width="4"/>
<text x="931.8" y="869.3" font-family="Liberation Serif" font-size="20" fill="#222" textLength="117" lengthAdjust="spacingAndGlyphs" >{110}&lt;2-23&gt;</text>
<rect x="1073" y="44" width="323.5" height="323" fill="#fff" stroke="#2a2a2a" stroke-width="2.5"/>
<text x="1089" y="88.5" font-family="Liberation Serif" font-size="35.5" fill="#000" textLength="40" lengthAdjust="spacingAndGlyphs" >(c)</text>
<text x="1230.4" y="153.5" font-family="Liberation Serif" font-size="27" fill="#000" textLength="47" lengthAdjust="spacingAndGlyphs" >80.9</text>
<polyline points="1328.2,49.9 1328.2,58.7 1340.4,69.6 1351.2,73.6 1354.2,78.5 1340.4,93.3 1326.6,115.0 1316.7,126.8 1304.9,156.4 1302.9,178.0 1296.6,199.3 1300.7,229.0 1306.0,250.0 1308.7,260.5 1316.6,277.6 1328.4,292.1 1339.0,305.3 1344.2,309.2 1357.4,322.4 1365.3,331.6 1362.6,340.8 1346.8,344.1 1339.0,346.7 1335.0,351.3 1335.0,360.5" fill="none" stroke="#222" stroke-width="1.8" stroke-linejoin="round" stroke-linecap="round" />
<polyline points="1388.7,79.5 1364.0,89.3 1346.3,101.2 1336.4,113.0 1322.6,124.9 1312.8,138.7 1306.8,158.4 1303.9,178.1 1302.3,199.0 1307.3,229.0 1310.0,250.0 1317.9,267.1 1324.5,276.3 1341.6,294.1 1352.1,301.3 1364.0,308.6 1378.4,325.0 1390.3,332.9" fill="none" stroke="#1a9a3a" stroke-width="1.8" stroke-linejoin="round" stroke-linecap="round" />
<polyline points="1377.8,359.9 1389.6,348.7" fill="none" stroke="#1a9a3a" stroke-width="1.8" stroke-linejoin="round" stroke-linecap="round" />
<polyline points="1378.0,50.0 1382.0,56.0 1390.0,60.0" fill="none" stroke="#1a9a3a" stroke-width="1.8" stroke-linejoin="round" stroke-linecap="round" />
<polyline points="1388.7,128.8 1370.0,132.8 1354.2,142.6 1342.4,166.3 1341.8,199.0 1345.0,237.0 1350.8,250.0 1358.7,264.5 1369.2,272.4 1381.0,279.6 1390.3,279.6" fill="none" stroke="#00e8ff" stroke-width="1.8" stroke-linejoin="round" stroke-linecap="round" />
<polyline points="1388.7,139.7 1368.0,142.6 1354.2,158.4 1351.7,166.4 1346.7,199.0 1348.4,219.0 1361.5,252.0 1369.2,261.8 1374.7,263.4 1390.3,270.4" fill="none" stroke="#00e050" stroke-width="1.8" stroke-linejoin="round" stroke-linecap="round" />
<polyline points="1388.7,146.6 1372.0,150.5 1358.2,166.3 1356.6,169.7 1351.7,199.0 1355.0,224.0 1366.5,248.7 1374.5,255.9 1378.0,258.5 1390.3,263.2" fill="none" stroke="#3030d0" stroke-width="1.8" stroke-linejoin="round" stroke-linecap="round" />
<polyline points="1390.3,164.8 1378.0,168.0 1366.5,182.9 1362.4,204.3 1369.8,235.5 1383.0,243.7 1390.3,245.4" fill="none" stroke="#ff9030" stroke-width="1.8" stroke-linejoin="round" stroke-linecap="round" />
<polyline points="1390.3,175.5 1378.0,181.2 1372.2,192.7 1371.4,212.5 1378.0,229.0 1390.3,232.2" fill="none" stroke="#ff40f0" stroke-width="1.8" stroke-linejoin="round" stroke-linecap="round" />
<polyline points="1389.5,189.5 1380.4,198.5 1380.4,209.2 1390.3,221.5" fill="none" stroke="#f03030" stroke-width="1.8" stroke-linejoin="round" stroke-linecap="round" />
<path d="M1331.1,182.9 L1340.2,200 L1340.5,230 L1341.8,245.4 L1336,240 L1327,225 L1327,195 Z" fill="none" stroke="#222" stroke-width="1.8"/>
<path d="M1331.1,173.8 L1339.3,180 L1342,200 L1343,240 L1345,248.7 L1341,256 L1330,245 L1321.3,230 L1321.3,190 Z" fill="none" stroke="#1a9a3a" stroke-width="1.8"/>
<path d="M1259.3,162.3 L1261.2,170 L1261.2,235 L1259.3,241.3 L1253,228 L1247.3,205 L1249,185 Z" fill="none" stroke="#222" stroke-width="1.8"/>
<polyline points="1078.4,315.6 1084.9,311.8 1097.0,300.7 1109.1,315.6 1114.7,332.3 1125.9,342.6 1133.4,352.8 1133.4,360.3" fill="none" stroke="#222" stroke-width="1.8" stroke-linejoin="round" stroke-linecap="round" />
<polyline points="1078.4,337.9 1087.7,335.1 1094.2,347.2 1092.4,360.3" fill="none" stroke="#1a9a3a" stroke-width="1.8" stroke-linejoin="round" stroke-linecap="round" />
<polyline points="1198.5,200.0 1198.5,207.0" fill="none" stroke="#222" stroke-width="2" stroke-linejoin="round" stroke-linecap="round" />
<polyline points="1198.8,201.0 1198.8,208.0" fill="none" stroke="#222" stroke-width="2" stroke-linejoin="round" stroke-linecap="round" />
<polyline points="1088.3,49.5 1088.3,53.5" fill="none" stroke="#1a9a3a" stroke-width="2.2" stroke-linejoin="round" stroke-linecap="round" />
<polyline points="1129.4,49.5 1129.4,53.5" fill="none" stroke="#222" stroke-width="2.2" stroke-linejoin="round" stroke-linecap="round" />
<polyline points="1078.5,72.0 1081.0,68.0" fill="none" stroke="#1a9a3a" stroke-width="1.8" stroke-linejoin="round" stroke-linecap="round" />
<circle cx="1080" cy="95.2" r="1.3" fill="#222"/>
<polyline points="1094.0,104.0 1097.0,107.0 1100.0,104.0" fill="none" stroke="#222" stroke-width="1.8" stroke-linejoin="round" stroke-linecap="round" />
<polyline points="1097.0,107.0 1097.0,110.0" fill="none" stroke="#222" stroke-width="1.8" stroke-linejoin="round" stroke-linecap="round" />
<ellipse cx="1279.6" cy="117" rx="1.8" ry="3.6" fill="none" stroke="#222" stroke-width="1.5"/>
<polyline points="1279.6,111.0 1279.6,124.0" fill="none" stroke="#222" stroke-width="1.2" stroke-linejoin="round" stroke-linecap="round" />
<line x1="1269.5" y1="164.5" x2="1372" y2="198.5" stroke="#111" stroke-width="0.9"/>
<polygon points="1370.6,192.2 1385.4,202.3 1368.4,205.6" fill="#000" stroke="none" stroke-width="0" stroke-linejoin="round" />
<polyline points="1145.2,475.0 1145.2,412.5 1213.0,412.5" fill="none" stroke="#111" stroke-width="2.2" stroke-linejoin="round" stroke-linecap="round" stroke-linecap="butt"/>
<polygon points="1212.3,404.5 1220.7,412.5 1212.3,420.3" fill="#111" stroke="none" stroke-width="0" stroke-linejoin="round" />
<polygon points="1137.7,474.4 1153.6,474.4 1145.6,482.8" fill="#111" stroke="none" stroke-width="0" stroke-linejoin="round" />
<text x="1239.5" y="417.5" font-family="Liberation Serif" font-size="25" fill="#000" textLength="19.5" lengthAdjust="spacingAndGlyphs" >φ</text>
<text x="1259.5" y="420" font-family="Liberation Serif" font-size="13" fill="#000" textLength="5.5" lengthAdjust="spacingAndGlyphs" >1</text>
<text x="1160" y="464.1" font-family="Liberation Serif" font-size="25" fill="#000" textLength="75.6" lengthAdjust="spacingAndGlyphs" >0°~90°</text>
<text x="1136.5" y="513.5" font-family="Liberation Serif" font-size="25" fill="#000" textLength="19" lengthAdjust="spacingAndGlyphs" >Φ</text>
<text x="1270.6" y="392.1" font-family="Liberation Sans" font-size="17.5" fill="#222" textLength="22.7" lengthAdjust="spacingAndGlyphs" >0.5</text>
<line x1="1312" y1="385.8" x2="1330.6" y2="385.8" stroke="#333" stroke-width="2.2"/>
<text x="1270.6" y="412.3" font-family="Liberation Sans" font-size="17.5" fill="#222" textLength="8.3" lengthAdjust="spacingAndGlyphs" >1</text>
<line x1="1312" y1="406" x2="1330.6" y2="406" stroke="#228b3c" stroke-width="2.2"/>
<text x="1270.6" y="432.6" font-family="Liberation Sans" font-size="17.5" fill="#222" textLength="8.3" lengthAdjust="spacingAndGlyphs" >2</text>
<line x1="1312" y1="426.3" x2="1330.6" y2="426.3" stroke="#00e5ff" stroke-width="2.2"/>
<text x="1270.6" y="452.7" font-family="Liberation Sans" font-size="17.5" fill="#222" textLength="8.3" lengthAdjust="spacingAndGlyphs" >5</text>
<line x1="1312" y1="446.4" x2="1330.6" y2="446.4" stroke="#00dd44" stroke-width="2.2"/>
<text x="1270.6" y="472.90000000000003" font-family="Liberation Sans" font-size="17.5" fill="#222" textLength="18" lengthAdjust="spacingAndGlyphs" >10</text>
<line x1="1312" y1="466.6" x2="1330.6" y2="466.6" stroke="#3333cc" stroke-width="2.2"/>
<text x="1270.6" y="493.2" font-family="Liberation Sans" font-size="17.5" fill="#222" textLength="18" lengthAdjust="spacingAndGlyphs" >30</text>
<line x1="1312" y1="486.9" x2="1330.6" y2="486.9" stroke="#ff9933" stroke-width="2.2"/>
<text x="1270.6" y="513.3" font-family="Liberation Sans" font-size="17.5" fill="#222" textLength="18" lengthAdjust="spacingAndGlyphs" >50</text>
<line x1="1312" y1="507" x2="1330.6" y2="507" stroke="#ff44ee" stroke-width="2.2"/>
<text x="1270.6" y="533.4" font-family="Liberation Sans" font-size="17.5" fill="#222" textLength="18" lengthAdjust="spacingAndGlyphs" >70</text>
<line x1="1312" y1="527.1" x2="1330.6" y2="527.1" stroke="#ee3333" stroke-width="2.2"/>
<rect x="1073" y="544" width="323.5" height="322.8" fill="#fff" stroke="#2a2a2a" stroke-width="2.5"/>
<text x="1085" y="584.5" font-family="Liberation Serif" font-size="35.5" fill="#000" textLength="41" lengthAdjust="spacingAndGlyphs" >(d)</text>
<text x="1254.5" y="690.9" font-family="Liberation Serif" font-size="30" fill="#000" textLength="37.5" lengthAdjust="spacingAndGlyphs" >1.5</text>
<text x="1204.3" y="755.4" font-family="Liberation Serif" font-size="27" fill="#000" textLength="47.5" lengthAdjust="spacingAndGlyphs" >68.9</text>
<polyline points="1167.2,549.6 1167.2,564.6 1169.3,568.0 1167.5,575.0 1166.7,605.0 1171.0,617.2 1169.3,634.7 1162.3,647.0 1162.3,668.0 1169.3,677.7 1183.3,676.8 1211.4,675.1 1220.2,671.6 1227.2,659.3 1228.0,643.5 1232.5,636.5 1237.7,634.7 1248.2,626.0 1253.5,617.2 1257.0,592.6 1262.3,578.6 1272.8,568.0 1283.3,565.4 1290.4,561.0 1290.4,549.6" fill="none" stroke="#222" stroke-width="1.8" stroke-linejoin="round" stroke-linecap="round" />
<polyline points="1211.4,549.6 1227.2,569.0 1231.6,580.4 1229.8,585.6 1230.7,605.0 1234.2,610.2 1239.5,612.0 1246.5,597.9 1247.4,587.4 1245.6,564.6 1250.9,547.9" fill="none" stroke="#1a9a3a" stroke-width="1.8" stroke-linejoin="round" stroke-linecap="round" />
<line x1="1256.1" y1="654" x2="1233" y2="566" stroke="#111" stroke-width="0.9"/>
<polygon points="1229.0,553.5 1240.4,565.4 1226.8,568.5" fill="#000" stroke="none" stroke-width="0" stroke-linejoin="round" />
<ellipse cx="1354.6" cy="640" rx="7.5" ry="15" transform="rotate(8 1354.6 640)" fill="none" stroke="#222" stroke-width="1.8"/>
<polygon points="1308.0,590.0 1311.0,586.0 1311.5,594.0" fill="#222" stroke="none" stroke-width="0" stroke-linejoin="round" />
<polyline points="1078.4,787.6 1092.4,782.0 1112.9,782.0 1131.5,785.8 1146.5,795.1 1157.6,804.4 1163.2,811.9 1166.0,821.2 1167.0,860.4" fill="none" stroke="#222" stroke-width="1.8" stroke-linejoin="round" stroke-linecap="round" />
<polyline points="1078.4,792.3 1098.0,786.7 1118.5,785.8 1144.6,797.0 1157.6,808.1 1162.3,821.2 1162.9,860.4" fill="none" stroke="#1a9a3a" stroke-width="1.8" stroke-linejoin="round" stroke-linecap="round" />
<polyline points="1078.4,797.0 1098.0,793.2 1122.2,794.2 1140.9,801.6 1152.0,813.7 1157.6,830.5 1153.9,845.4 1148.3,854.8 1140.9,851.0 1127.8,851.0 1124.1,860.4" fill="none" stroke="#00e8ff" stroke-width="1.8" stroke-linejoin="round" stroke-linecap="round" />
<polyline points="1078.4,804.4 1094.2,804.4 1112.9,807.2 1131.5,813.7 1138.1,823.1 1137.1,830.5 1129.7,834.3 1122.2,849.2 1117.5,860.4" fill="none" stroke="#00e050" stroke-width="1.8" stroke-linejoin="round" stroke-linecap="round" />
<polyline points="1078.4,811.0 1092.4,813.7 1103.6,819.3 1114.8,830.5 1115.7,860.4" fill="none" stroke="#3030d0" stroke-width="1.8" stroke-linejoin="round" stroke-linecap="round" />
<polyline points="1078.4,826.8 1090.5,834.3 1099.8,845.4 1102.1,860.4" fill="none" stroke="#ff9030" stroke-width="1.8" stroke-linejoin="round" stroke-linecap="round" />
<polyline points="1078.4,838.9 1088.6,847.3 1094.2,860.4" fill="none" stroke="#ff40f0" stroke-width="1.8" stroke-linejoin="round" stroke-linecap="round" />
<polyline points="1129.0,858.0 1133.0,855.0 1140.0,857.0 1143.0,860.0" fill="none" stroke="#1a9a3a" stroke-width="1.6" stroke-linejoin="round" stroke-linecap="round" />
<line x1="1179.1" y1="767.1" x2="1090" y2="848" stroke="#111" stroke-width="0.9"/>
<polygon points="1082.0,856.0 1086.8,841.7 1096.1,852.0" fill="#000" stroke="none" stroke-width="0" stroke-linejoin="round" />
<polyline points="1079.0,761.0 1083.0,762.0 1081.0,766.0 1084.0,770.0 1079.0,773.0" fill="none" stroke="#222" stroke-width="1.6" stroke-linejoin="round" stroke-linecap="round" />
<path d="M1183,790 L1189,790 L1190,794 L1186,796 L1192,800 L1190,803 L1185,803 L1183,797 Z" fill="none" stroke="#222" stroke-width="1.8"/>
<polyline points="1205.0,860.0 1205.0,845.0 1208.0,840.0 1209.8,832.4 1211.0,840.0 1214.0,845.0 1215.0,860.0" fill="none" stroke="#222" stroke-width="1.6" stroke-linejoin="round" stroke-linecap="round" />
<polyline points="1209.0,846.0 1209.8,838.0 1210.5,846.0" fill="none" stroke="#222" stroke-width="1.3" stroke-linejoin="round" stroke-linecap="round" />
<circle cx="1209.8" cy="728.9" r="1.5" fill="#222"/>
</svg>
</body></html>
